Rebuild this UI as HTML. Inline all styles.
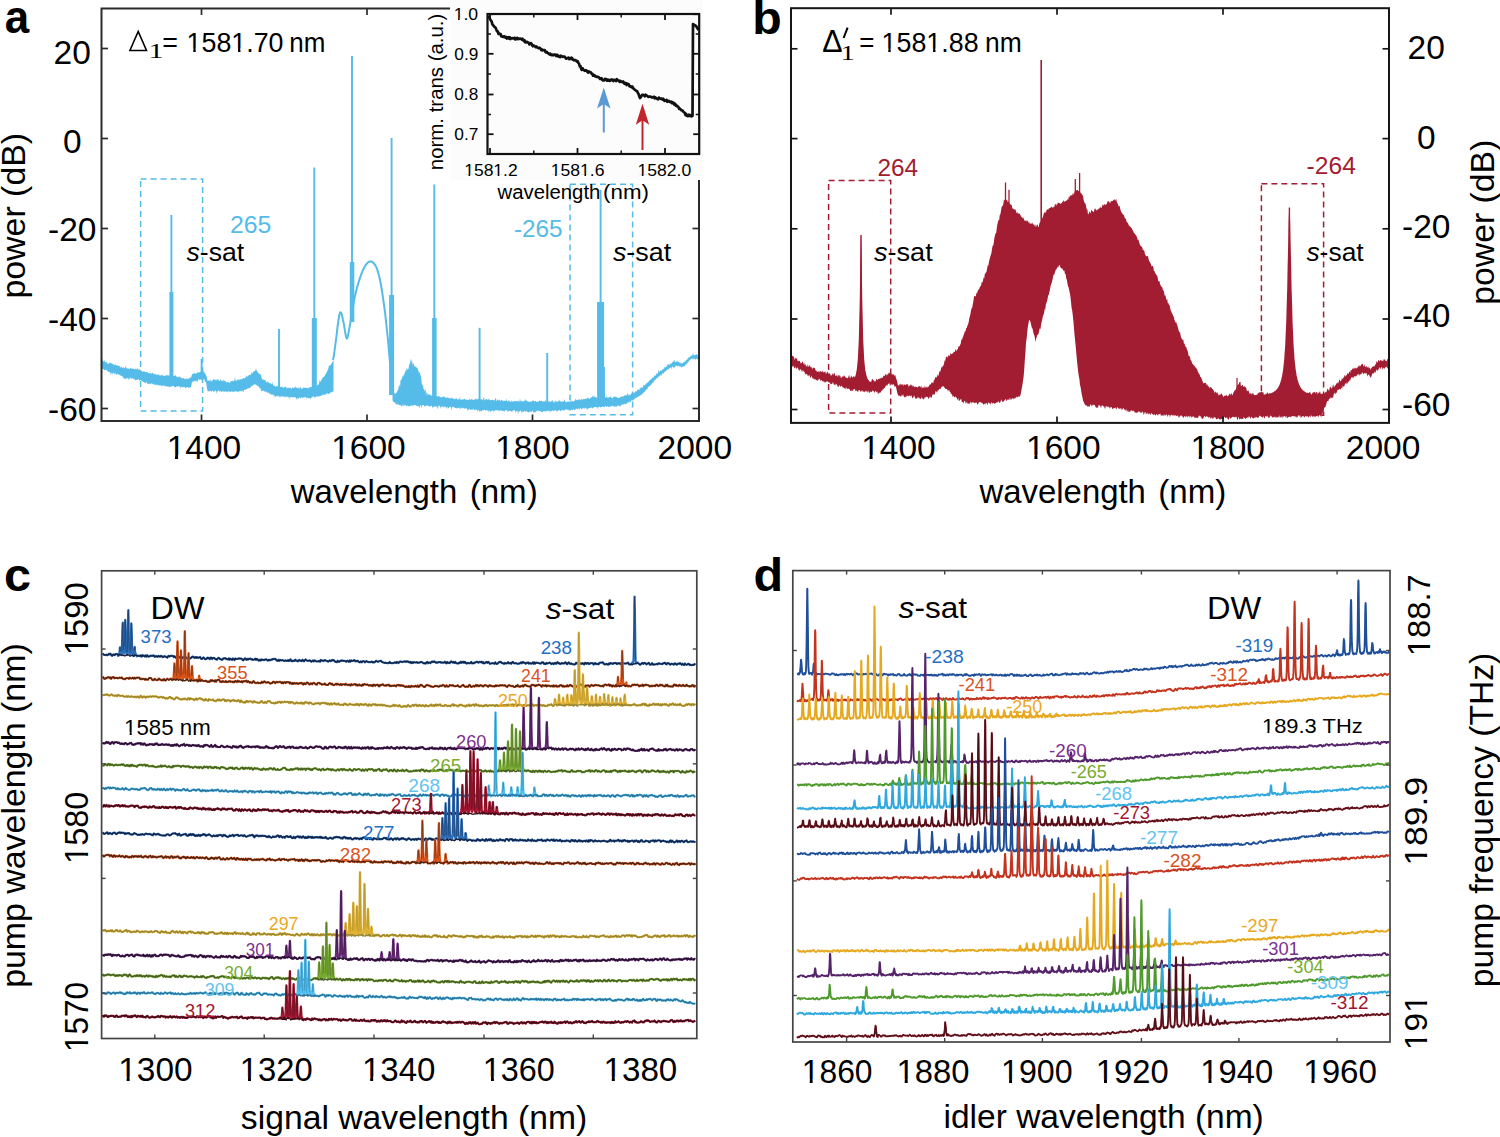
<!DOCTYPE html>
<html><head><meta charset="utf-8"><style>
html,body{margin:0;padding:0;background:#fff;}
svg{display:block;}
</style></head><body>
<svg width="1500" height="1137" viewBox="0 0 1500 1137" font-family="'Liberation Sans', sans-serif">
<rect width="1500" height="1137" fill="#fff"/>
<path d="M101.5 359.7l.5-1.6 .5 2 .5 .7 .5 1 .5-1.4 .5 .2 .5 1.9 .5 0 .5-1.2 .5 .9 .5 .1 .5 1.3 .5 .4 .5 .1 .5-1.4 .5-.2 .5 1.6 .5-2 .5 1.3 .5-.5 .5 .9 .5 0 .5 .4 .5 .3 .5-.1 .5 1.2 .5-.7 .5-.9 .5 .7 .5 .8 .5 .1 .5-.3 .5 1 .5-.7 .5-.1 .5 .5 .5 1.2 .5 .3 .5-.6 .5-.5 .5 1.5 .5 .1 .5-.5 .5-.7 .5 1.1 .5 .6 .5-.8 .5-2.8 .5 4.1 .5-1.8 .5 1.4 .5-.1 .5-.2 .5 .1 .5 .9 .5-.1 .5-.6 .5-1.1 .5 .2 .5 .9 .5 .4 .5-.6 .5 .1 .5 .5 .5 .1 .5 .2 .5-.9 .5 .4 .5 1 .5-1.4 .5 1.5 .5-2.1 .5 1 .5 .4 .5 1.5 .5-2.8 .5 2.9 .5-1.2 .5 .6 .5 1.1 .5-.6 .5 1.4 .5-.4 .5-.2 .5-.6 .5 .8 .5-.3 .5 1.1 .5-.3 .5-.3 .5 .1 .5 .1 .5 .8 .5 .1 .5 .6 .5-.9 .5 1.3 .5-1.2 .5 .2 .5 1 .5-.7 .5-.5 .5 .5 .5 .7 .5-.8 .5 1.8 .5-1.2 .5 0 .5 .6 .5 .5 .5-.1 .5 .1 .5-.6 .5 .7 .5-1 .5 1.4 .5 .3 .5-.1 .5-.4 .5-.8 .5 1.3 .5-.6 .5 .4 .5-.1 .5 .5 .5 .4 .5-.6 .5 .5 .5-1.6 .5 1 .5-.9 .5 1.1 .5-.9 .5 0 .5 1.7 .5-.5 .5-.5 .5 .2 .5-.7 .5 1 .5 .4 .5-.4 .5 0 .5-.2 .5-.1 .5 .1 .5-.5 .5-.3 .5 .8 .5 1 .5-.7 .5 1.5 .5-1 .5 .2 .5-.1 .5-.3 .5 .4 .5 .3 .5 1.4 .5-1.6 .5 1.7 .5-.1 .5-.7 .5-.2 .5 1 .5 .1 .5 0 .5 0 .5 .6 .5-1.5 .5 1.1 .5-.6 .5 .8 .5-.9 .5 .6 .5-1 .5-.5 .5-.1 .5 .9 .5-2.5 .5-1 .5-.7 .5-.3 .5-.2 .5-.3 .5-.7 .5 1.2 .5 .3 .5-.2 .5-1.1 .5 .9 .5-1.4 .5-.1 .5 .8 .5-.8 .5 .4 .5-.8 .5 .2 .5-.7 .5-.1 .5 .3 .5 .3 .5 .3 .5-.7 .5 .7 .5 .5 .5 1.5 .5-.4 .5 2.1 .5 .3 .5 2.9 .5 2.3 .5-.9 .5 .4 .5 .1 .5 .1 .5-1.2 .5 1 .5-.8 .5 1.6 .5 0 .5-1.3 .5 0 .5-1.3 .5 .7 .5-.1 .5 0 .5 1 .5-.9 .5 1 .5-1 .5-.3 .5 .1 .5 0 .5 1.5 .5 .1 .5-.1 .5-1.8 .5 1.2 .5 .1 .5 .9 .5-.1 .5-1.5 .5 .2 .5 1.9 .5-1.7 .5 1.1 .5-.5 .5 1.4 .5 .2 .5-.4 .5 .5 .5-.1 .5-.4 .5 .5 .5 .5 .5-.1 .5-1.2 .5-.1 .5-.6 .5-.2 .5-.3 .5 1.3 .5-.8 .5-.2 .5-.5 .5-3.1 .5 3 .5 .6 .5 .5 .5-1.1 .5-.3 .5-.1 .5-.2 .5 .1 .5-.2 .5 .9 .5-1.5 .5 .5 .5 .3 .5-1.2 .5 .9 .5-1 .5-.1 .5-.2 .5 .5 .5-.6 .5-.8 .5 .7 .5-3 .5 1.8 .5 .1 .5-1 .5 .4 .5-1.6 .5 .6 .5-.3 .5 .1 .5-.1 .5-2.9 .5 1 .5 .3 .5-.7 .5-.7 .5-1 .5 .4 .5 .4 .5-2.1 .5-.3 .5 .8 .5 1 .5 1.1 .5 .3 .5 1 .5-.1 .5 .9 .5-.3 .5 .3 .5 1.2 .5 2.3 .5 .8 .5 1.5 .5-.7 .5 .3 .5 .2 .5 .7 .5-1.2 .5 1.3 .5 1.8 .5 0 .5-1 .5 .3 .5 .9 .5-.8 .5 1.3 .5 .5 .5-.5 .5-.2 .5 1 .5 .1 .5 .5 .5-3 .5 4.3 .5-.6 .5 .6 .5-.7 .5 1.4 .5-.1 .5 .1 .5-.2 .5-1 .5 1 .5 .6 .5-.8 .5 .7 .5-.8 .5 .8 .5 .4 .5-1 .5 1 .5-.3 .5-.5 .5 1.5 .5-.3 .5 .4 .5-1.1 .5-.3 .5 .4 .5-.5 .5 2 .5-1.4 .5 1.4 .5-.7 .5-.4 .5 1.1 .5-1.3 .5 .9 .5-.6 .5 1.3 .5 0 .5-.6 .5-1.2 .5 .7 .5 .1 .5 .8 .5-1.4 .5 .6 .5-1.9 .5 2.1 .5-.6 .5 0 .5 1.3 .5-1.6 .5 .8 .5 .5 .5 .4 .5-2.3 .5 .6 .5 1.3 .5 0 .5 .5 .5-.2 .5-1.4 .5 .3 .5 .3 .5-.3 .5 0 .5 .6 .5-.8 .5 .3 .5 .6 .5-.3 .5 .6 .5-.7 .5-.6 .5 .1 .5 .2 .5-.8 .5 .5 .5 .2 .5-1 .5-.5 .5 1.7 .5-.6 .5 .6 .5-.5 .5-3.8 .5 3.6 .5-1.5 .5 .8 .5-.1 .5-2 .5 .9 .5-.6 .5-.5 .5-4 .5 1.4 .5 .7 .5-2.2 .5 .5 .5-1.8 .5-.4 .5-.6 .5-.5 .5-.2 .5-.6 .5-1.3 .5-.6 .5-1.1 .5-.3 .5-1.4 .5-1 .5-1.1 .5-1.5 .5-2.9 .5 .9 .5-.4 .5-.7 .5-.1 .5-1.2 .5-.9 .5-1 .5-.3 .5-2.1 0 32.8-.5-1.3-.5 1.8-.5-.4-.5-.3-.5-.2-.5 1.3-.5 .6-.5-.6-.5 .9-.5 .2-.5 0-.5-.9-.5 .3-.5-.4-.5 1.9-.5-.2-.5-.6-.5 .7-.5-.6-.5 .1-.5 .7-.5-.4-.5 1.1-.5-.6-.5 1-.5-.3-.5 .1-.5 .8-.5-.9-.5 .1-.5 1.2-.5-1.1-.5 1.1-.5-1.2-.5 .6-.5 .8-.5 .1-.5 .2-.5-1.3-.5-.1-.5 1-.5-1.1-.5 1.2-.5 .6-.5-1.1-.5 2.8-.5-2-.5 .6-.5 .2-.5-.6-.5 .9-.5-1.3-.5 .3-.5 .7-.5-1.7-.5 .7-.5-.7-.5 .6-.5 .1-.5-.3-.5 1.1-.5-.6-.5-.4-.5-.4-.5 1.5-.5-.4-.5 .3-.5-1.2-.5 1.6-.5-.3-.5-.8-.5 .9-.5 1.7-.5-1.5-.5-1.1-.5-.2-.5 .2-.5-.7-.5 .5-.5-.3-.5-.4-.5 1.4-.5-1.2-.5 .2-.5-.2-.5-.1-.5 2.4-.5-1.1-.5-1.8-.5 1.5-.5-.6-.5-.5-.5-.3-.5 .1-.5 1.3-.5-1.1-.5-.5-.5 1.3-.5-1.5-.5 1.6-.5-1.6-.5 .4-.5-.1-.5 .7-.5-1.1-.5 .3-.5 2.2-.5-2-.5-.6-.5-.4-.5 1.8-.5-1.5-.5 .1-.5 .1-.5 1-.5-.2-.5-.7-.5-1-.5 2.7-.5-2.7-.5-.7-.5 .6-.5-.7-.5 1.3-.5-1.9-.5 1.4-.5-2-.5 1.2-.5-1.2-.5-.7-.5 .9-.5-.5-.5-.1-.5-.3-.5-.8-.5-.4-.5 1.1-.5-.7-.5-1.1-.5 .1-.5 .6-.5-.1-.5-.2-.5 1-.5-2.3-.5-1.2-.5 .3-.5-.6-.5-1.5-.5-.3-.5 .3-.5-.5-.5-1.6-.5 1-.5-.5-.5-1.1-.5 1.5-.5-1.1-.5 0-.5 .6-.5 .5-.5 .7-.5 .1-.5-.1-.5 .8-.5 .3-.5 .8-.5 .4-.5-.4-.5-.1-.5 1.6-.5-1.3-.5 1-.5 0-.5 .1-.5 .9-.5 0-.5-.4-.5-.2-.5 2.9-.5-1-.5-.2-.5-1.4-.5 2.7-.5-2.3-.5 1.2-.5-.4-.5 .4-.5-.5-.5 2-.5-1.8-.5 .7-.5 .3-.5-.6-.5 0-.5-.5-.5 0-.5 1-.5-.6-.5 .5-.5 .4-.5-.6-.5-.8-.5 .3-.5 1-.5-.7-.5 .4-.5-.2-.5-.7-.5 0-.5 1.8-.5-1.1-.5-.3-.5-.1-.5 1.1-.5-1-.5-.2-.5 .4-.5 .3-.5-1.4-.5 1.9-.5-1.7-.5 1.4-.5-.1-.5-.8-.5-.3-.5 .3-.5 1-.5-1.9-.5 .2-.5 .4-.5 1.2-.5-1.6-.5 3.3-.5-1.9-.5-1.7-.5 .5-.5 1-.5-.5-.5 .9-.5-1.2-.5-.3-.5-.2-.5 1.6-.5-.6-.5-.8-.5 .7-.5-.4-.5 1-.5-1.2-.5 .7-.5-.6-.5-2.5-.5-3-.5-3.2-.5-.1-.5-.2-.5-2.2-.5-.1-.5-.9-.5 1.1-.5-.7-.5 1.3-.5-.6-.5-.3-.5 .3-.5-.7-.5 1.8-.5-1.7-.5 .5-.5 .4-.5 2.7-.5-2.9-.5 1.7-.5 .1-.5-.8-.5 .8-.5-1.2-.5 1.7-.5-.6-.5-1-.5 2.3-.5-1-.5 2.7-.5 2.8-.5-.2-.5 1.2-.5-1.6-.5 1.5-.5-.2-.5-1-.5 0-.5 .1-.5 .5-.5 .7-.5 .2-.5-1.6-.5-.2-.5 .7-.5-.5-.5 .1-.5 .6-.5-.9-.5 .4-.5-.6-.5 1.6-.5 0-.5-1.8-.5-.2-.5 .2-.5 .3-.5 .3-.5-.8-.5 .1-.5 1.6-.5-.6-.5-.4-.5 .5-.5-.7-.5-.9-.5 .7-.5-.4-.5 .2-.5 .7-.5-1.3-.5 1.4-.5 0-.5 .2-.5-.5-.5-.3-.5 .1-.5 .6-.5-.9-.5-.2-.5 .6-.5-.6-.5 1-.5-1.3-.5-.7-.5 1-.5-.9-.5 1.2-.5-.1-.5-.9-.5 .9-.5-.9-.5-.6-.5 .5-.5 .6-.5-.6-.5 .4-.5-1.3-.5 1-.5 0-.5-1.3-.5 1.2-.5-.2-.5-.8-.5 1-.5-1.7-.5 .9-.5-.6-.5-.1-.5-.6-.5 1.4-.5-.4-.5-1-.5 .8-.5 .4-.5-.6-.5 .2-.5 .1-.5-1.4-.5-.9-.5 1.5-.5 .1-.5-.9-.5 .1-.5-.1-.5-.4-.5 0-.5-.8-.5-.2-.5-.2-.5-.6-.5 .1-.5-.6-.5 1.3-.5-.5-.5-1.4-.5 0-.5 .8-.5 0-.5 .1-.5-.2-.5 .1-.5 .8-.5-1.9-.5 0-.5 .6-.5-1.4-.5 0-.5 .8-.5-.6-.5 1.3-.5-1.9-.5 .6-.5-.8-.5 3.6-.5-2.2-.5-.1-.5-1-.5 .3-.5 .4-.5 .3-.5-.3-.5 1-.5-1.1-.5 .2-.5-.3-.5-1.3-.5-.5-.5-.1-.5-.4-.5-.4-.5 .3-.5-.9-.5 .1-.5 0-.5-.7-.5-.6-.5 .8-.5-.8-.5 1.1-.5-.1-.5-1-.5-1.4-.5 2.4-.5-1.3-.5-.4-.5-.3-.5 .7-.5 1.8-.5-2.4-.5-.1-.5 2.2-.5-3.4-.5 .7-.5-.2-.5 0-.5-.7-.5-.2-.5-.8-.5 .3-.5-1.2-.5 .4-.5 .3-.5 .1-.5-.4-.5-.7-.5 0-.5 .5-.5-2-.5 .7z" fill="#55bbe8"/>
<path d="M392.5 392.2l.5-1 .5 1.8 .5-.4 .5 .4 .5 1.4 .5-1.7 .5 1.2 .5-1.6 .5-.4 .5-1.4 .5-.3 .5-2.3 .5-3.5 .5 .6 .5 2.7 .5-6.9 .5-1.8 .5 1.2 .5-1.6 .5-2.3 .5-.7 .5 1.2 .5-3.7 .5 1.7 .5-2.7 .5-2.1 .5 2.2 .5-3.4 .5-1.1 .5 2.4 .5-1 .5-.2 .5-3.1 .5-1.9 .5-.7 .5-2.7 .5-1.8 .5 4.5 .5-4.3 .5 7 .5-3.4 .5 1.1 .5 1.6 .5 1.1 .5 1.3 .5-1.7 .5 .4 .5 1.1 .5 .7 .5-.3 .5 2.1 .5 1 .5 2.4 .5-1.6 .5 2 .5 1.7 .5 1.2 .5 4.8 .5 2.8 .5 1.7 .5-2.1 .5 5.1 .5 .3 .5 2.2 .5-1.9 .5-.6 .5 6.3 .5-4.6 .5 5.7 .5-3.4 .5 .6 .5 .9 .5 .5 .5 .2 .5-.9 .5 .4 .5 1.3 .5-.5 .5 0 .5 .3 .5 .3 .5 .2 .5-.3 .5-.1 .5 1.6 .5-1.3 .5-.1 .5-.2 .5 .7 .5 .3 .5-1.1 .5 .3 .5 0 .5 1 .5-.4 .5 .6 .5-.2 .5 .6 .5 .2 .5-1.4 .5 .1 .5 .6 .5-.7 .5 .1 .5 1 .5 0 .5 .8 .5-.2 .5-1.1 .5-.1 .5 1.5 .5-.8 .5 .9 .5-1.2 .5 1.4 .5-.6 .5 1 .5-1.5 .5-.1 .5 .8 .5 .4 .5-.3 .5 1.1 .5-.9 .5 .8 .5-.7 .5-.8 .5 .5 .5 .4 .5 1.2 .5-.6 .5-.1 .5-1 .5 1.4 .5-3.4 .5 3.8 .5-.4 .5 .3 .5-1 .5 .6 .5-.6 .5 .7 .5-.8 .5-.2 .5-.2 .5 1.3 .5 .4 .5-.7 .5 .1 .5 .1 .5 .4 .5-.4 .5 .4 .5-1.3 .5-.1 .5 1.4 .5-.3 .5-1.2 .5 1.3 .5-.3 .5-.4 .5 1.2 .5-1.3 .5 .9 .5-.5 .5-.4 .5-.5 .5 0 .5 1.9 .5-1.8 .5 .5 .5-1 .5 1.2 .5 1 .5-.3 .5-.8 .5 .1 .5-.1 .5-.4 .5 1.7 .5-1 .5-2 .5 .3 .5 2 .5 .7 .5-1.3 .5-.2 .5-.1 .5 .6 .5-.2 .5 1 .5-1.4 .5-.6 .5 1.3 .5 .6 .5 .2 .5-.8 .5 .9 .5-.9 .5 .1 .5 .3 .5-.6 .5 1.3 .5-.3 .5-.7 .5-2.5 .5 2 .5 1.8 .5-.3 .5-1.7 .5 .5 .5 1.3 .5-1.2 .5-.2 .5 1 .5 1 .5-1.8 .5 .3 .5 .5 .5-.3 .5 .6 .5 .6 .5-.9 .5 .5 .5-.5 .5 .5 .5 .1 .5-2.9 .5 3.4 .5 .2 .5-1.6 .5 .4 .5 1.3 .5-1.7 .5 .9 .5 .9 .5-.1 .5-1.2 .5-.5 .5 1.7 .5-.3 .5-.3 .5 .3 .5-1.2 .5 1.4 .5-.5 .5-.9 .5 1 .5-.7 .5 .3 .5 .5 .5-.7 .5 1.1 .5-.7 .5-3.1 .5 3.8 .5-1.4 .5 .2 .5 .8 .5-.1 .5-.5 .5 .9 .5-.4 .5-.9 .5-1.7 .5 2.8 .5-2.3 .5 1.5 .5 .3 .5-.1 .5 1.3 .5-1.1 .5 .7 .5 0 .5-.6 .5 .6 .5-1 .5 .6 .5 .2 .5-1.2 .5 0 .5-.2 .5 1.4 .5-.3 .5-.5 .5 .1 .5 0 .5 1 .5 .1 .5-.5 .5 .3 .5-.4 .5-.8 .5 .1 .5 0 .5 .5 .5-.5 .5-.4 .5 .7 .5 .5 .5 .3 .5-1 .5 .4 .5-.6 .5 1.7 .5-2.9 .5 1.8 .5 1 .5-.8 .5 .9 .5 .1 .5-1.6 .5 .3 .5 .2 .5 .4 .5 .1 .5-.3 .5-.3 .5-.6 .5 0 .5-.5 .5 2.4 .5 0 .5-.4 .5-1.5 .5-.1 .5 1.5 .5-.7 .5 .1 .5-.2 .5 .8 .5-.9 .5-2 .5 1.4 .5 1.3 .5-.9 .5 1 .5-1.1 .5 .8 .5-.1 .5 .1 .5-.5 .5-.3 .5-1.8 .5 1.6 .5 1.7 .5-.6 .5 .6 .5-.8 .5 0 .5 .2 .5-.6 .5 .5 .5 .1 .5-.3 .5-.3 .5-.1 .5 .9 .5-1.9 .5 1.4 .5-.5 .5 .4 .5 .1 .5-.9 .5 .3 .5-3.1 .5 2.5 .5-.5 .5 .7 .5-.7 .5-.5 .5 .4 .5 .1 .5-.7 .5 1.1 .5 .3 .5-1.9 .5 .1 .5 1.5 .5-.8 .5-.1 .5-.2 .5-.2 .5 .3 .5-.2 .5-.3 .5-.5 .5 .5 .5 .1 .5-1 .5 .8 .5-.9 .5 .6 .5 .6 .5 .2 .5-1.4 .5-.3 .5-.2 .5 .1 .5-1.8 .5 1.6 .5 .4 .5-3.4 .5 3.1 .5 .3 .5-.9 .5 .6 .5 .3 .5 .9 .5-.7 .5-.9 .5-.3 .5 .7 .5 .6 .5-.2 .5 0 .5-.6 .5-.1 .5 .4 .5-.8 .5 1.8 .5-.9 .5 .5 .5-.5 .5 .1 .5-.4 .5 .8 .5-1.1 .5-.5 .5 2 .5-.8 .5 0 .5 .1 .5-.8 .5 .9 .5-.7 .5-1.7 .5 2.7 .5 .2 .5 .1 .5-.7 .5-1 .5 .4 .5-.4 .5 .2 .5-.1 .5-.2 .5 .5 .5 .6 .5 .2 .5 .1 .5 0 .5 0 .5-.3 .5-.9 .5 1.1 .5-.7 .5-1 .5 .4 .5 .6 .5-1.4 .5 1.2 .5-1.7 .5 .9 .5-1.3 .5 .1 .5 1.3 .5-1.1 .5-.6 .5-.4 .5-1.3 .5 2.7 .5 0 .5-.3 .5-.7 .5-.1 .5 .2 .5-1.3 .5-.3 .5 1.2 .5-.6 .5-.9 .5 .1 .5 0 .5-.9 .5-.7 .5-.1 .5 .7 .5-1 .5-1 .5-.1 .5-.4 .5 .9 .5-.7 .5-1.4 .5 .3 .5-1.1 .5-.1 .5 .6 .5-.1 .5-.9 .5-2.2 .5 1.5 .5-1 .5-.1 .5-.5 .5-.3 .5-1 .5-.5 .5-.1 .5 .1 .5-1.4 .5 .4 .5-1.9 .5 1 .5-1.6 .5 0 .5-.2 .5-1.1 .5-.6 .5 .7 .5-.4 .5-1.3 .5-1.2 .5 1.1 .5-.7 .5-.6 .5-1.1 .5-1 .5 1.3 .5-.7 .5-4 .5 1.9 .5 1 .5-1.5 .5-.2 .5-.1 .5 .5 .5-1.3 .5 .4 .5-1.8 .5 .9 .5-.5 .5-2.1 .5 1.1 .5-.4 .5-.1 .5-.9 .5-.9 .5-.8 .5 .2 .5 .5 .5-2 .5 1.6 .5-.6 .5-.2 .5-.9 .5 0 .5 .3 .5-1.8 .5 .1 .5-.3 .5-.4 .5-1.3 .5 2.3 .5 .3 .5-.4 .5-.6 .5-.4 .5 .3 .5 .6 .5-.1 .5 .3 .5 .3 .5 .6 .5 .2 .5-.9 .5 1.8 .5-.9 .5 .1 .5-.5 .5-.8 .5 .5 .5-.9 .5-.2 .5 0 .5-1.4 .5-.6 .5 .8 .5-1.7 .5 0 .5-.9 .5-.6 .5 0 .5 .6 .5-1.6 .5-.5 .5-.5 .5 1.4 .5-1.6 .5-2.3 .5 2.4 .5 .1 .5 .4 .5-.6 .5 .3 .5-.4 .5-1.1 .5 1.7 .5 0 .5-.6 .5 1.6 .5-1.2 0 4.1-.5-.2-.5 1.6-.5-1.8-.5 .1-.5-.1-.5-.1-.5 1.1-.5 0-.5-.7-.5-1-.5 1.6-.5-1.5-.5 1-.5 0-.5-.7-.5 .1-.5 1.1-.5 .8-.5-.5-.5 .9-.5 1.3-.5-.9-.5 2.5-.5-.7-.5 1.1-.5 .6-.5-.6-.5 1.3-.5 1.1-.5-.1-.5 .1-.5-.2-.5 .6-.5-.3-.5 1.2-.5-1.5-.5 0-.5 .3-.5-.2-.5-.2-.5-.8-.5 .3-.5 1-.5-.6-.5-.7-.5 .3-.5 .1-.5 1.1-.5 .7-.5-.4-.5 1.9-.5-3.4-.5 1-.5 .5-.5 2.4-.5-3.1-.5 1.5-.5-.3-.5 .5-.5 .3-.5 .8-.5 0-.5-.4-.5 1.7-.5-.7-.5 1.3-.5-.1-.5 .4-.5 .5-.5 .4-.5 1.4-.5-1.2-.5 1-.5-.3-.5 2.1-.5 .4-.5-.8-.5-.1-.5 1.6-.5-.6-.5 .8-.5 .5-.5 1.2-.5-.8-.5 .2-.5 1.6-.5-.3-.5 1.8-.5-1.1-.5 .5-.5 2-.5 .9-.5-1.1-.5 1.7-.5 .2-.5 1.3-.5-.3-.5 .4-.5 1.2-.5-.6-.5 1.2-.5-.5-.5 2.1-.5 .8-.5-.6-.5 1.3-.5-.1-.5 1.5-.5-.3-.5 1-.5 .4-.5-.4-.5 1.5-.5 0-.5 1.3-.5-.8-.5 .5-.5 1.2-.5-.6-.5 .6-.5 .5-.5-.2-.5 .8-.5-.3-.5 1.2-.5-.8-.5 .9-.5 .5-.5-.1-.5 0-.5 2-.5-1-.5 1.1-.5-.8-.5 .2-.5 1-.5 1-.5-.7-.5 .3-.5 .7-.5 0-.5 0-.5-.1-.5 .9-.5 .4-.5 .3-.5-.1-.5 .7-.5-.8-.5-.3-.5 1.1-.5 .7-.5-1.2-.5 .5-.5 .6-.5-.2-.5 1.3-.5 .2-.5-.3-.5 .2-.5-1.4-.5 .3-.5 .9-.5-.4-.5 1.8-.5-1.5-.5 .3-.5 .3-.5 .4-.5-1.3-.5 1.4-.5-1.7-.5 .6-.5 0-.5-.3-.5 1.5-.5-1.1-.5 .7-.5-.6-.5 .6-.5 .5-.5-1.1-.5-.2-.5 .8-.5 .2-.5-.5-.5-.5-.5 0-.5 1.3-.5-.3-.5-.3-.5 .4-.5-1-.5 .9-.5-.4-.5 .6-.5 .2-.5-.1-.5-.8-.5 .5-.5-.4-.5 2.6-.5-1.8-.5-.3-.5 .1-.5-.3-.5 .3-.5-.5-.5 .5-.5-.6-.5 1.3-.5 .1-.5 .4-.5-1-.5-.3-.5 1-.5 .1-.5-.8-.5 .4-.5 .6-.5-.6-.5 1.4-.5-.8-.5 2-.5-2.3-.5-.3-.5-.6-.5 1.6-.5-.4-.5-.8-.5 .4-.5 .4-.5-.3-.5 1.3-.5-.2-.5-1-.5-.4-.5 1-.5 .6-.5-1.3-.5 .3-.5 .2-.5 .7-.5-.1-.5-.5-.5-.5-.5 1.1-.5 .9-.5-.6-.5 .2-.5-1.3-.5 1.3-.5 .4-.5-.1-.5-.9-.5 1.3-.5-.8-.5-.9-.5 1.4-.5-.1-.5 .1-.5-1.2-.5 1-.5-.7-.5 .6-.5-.9-.5 .2-.5 .4-.5 1.3-.5-.9-.5 .1-.5 .3-.5-.2-.5-.8-.5 1.2-.5 .1-.5 .4-.5-.6-.5-.6-.5-.2-.5 1-.5-.1-.5 .8-.5-1.7-.5 2.1-.5-.8-.5-.8-.5-.3-.5 .2-.5 1-.5-.1-.5-.4-.5-.4-.5 .5-.5 .3-.5 .6-.5-1.3-.5 3-.5-2.9-.5-.2-.5 1.2-.5-.7-.5 0-.5-.1-.5 .7-.5 .1-.5 0-.5-1.2-.5 1.4-.5-.3-.5-.3-.5 .4-.5 .5-.5 0-.5 .1-.5 0-.5-1.3-.5 .3-.5 0-.5 .7-.5-1-.5-.2-.5 0-.5 .5-.5 .2-.5 .5-.5 1.1-.5-1.6-.5 1-.5-.4-.5 1-.5-1.4-.5-.8-.5 .4-.5 1-.5-.4-.5-.5-.5 .5-.5 .4-.5-.4-.5 1.2-.5-.8-.5-.3-.5 .3-.5-1.7-.5 1.1-.5 .4-.5-.6-.5-.1-.5-.7-.5 1.8-.5-.6-.5 0-.5 1.1-.5-.9-.5-1.3-.5-.3-.5 .9-.5 .4-.5-.1-.5 .4-.5 2.6-.5-3.5-.5-.2-.5 .3-.5 .5-.5 1.3-.5-2.5-.5-.1-.5 0-.5 0-.5 .3-.5 .6-.5 .7-.5-.2-.5-.9-.5 .1-.5 0-.5 .2-.5-.2-.5-.7-.5 2.5-.5-1.1-.5-1.5-.5 0-.5 1.3-.5-1.4-.5 .1-.5 1.7-.5-.1-.5-1.2-.5 .7-.5-.3-.5 .1-.5-.9-.5 .6-.5-.4-.5-.1-.5 1.2-.5-.1-.5-1.3-.5 .7-.5-.7-.5 1-.5-1.1-.5 0-.5 .1-.5 1.5-.5-1-.5 .7-.5 .5-.5-1.9-.5 .9-.5 .1-.5 0-.5 .8-.5 0-.5-.1-.5-1.8-.5 3-.5-1.5-.5-1.3-.5 .9-.5-.2-.5-.8-.5 .8-.5 .5-.5-1.5-.5 .3-.5 .1-.5 .5-.5-.4-.5-.1-.5 1.1-.5 .4-.5-.2-.5-.5-.5-.4-.5 1.9-.5-2-.5 0-.5-1-.5 3-.5-2.1-.5-.6-.5 .2-.5-.2-.5 .7-.5 .3-.5-1.6-.5-.2-.5 1.2-.5-.7-.5 .7-.5-1.1-.5 1.4-.5-.6-.5 .1-.5-1.4-.5 .7-.5 .8-.5 0-.5 1.1-.5-2.8-.5 0-.5 .2-.5 .1-.5 .3-.5 0-.5-.8-.5 .2-.5-.6-.5 1.5-.5-1.8-.5 .4-.5 .6-.5 .6-.5-.5-.5 0-.5-1.3-.5 1.1-.5-.3-.5 .5-.5-.7-.5 1-.5-1.3-.5 .5-.5 .4-.5-.9-.5 .2-.5-.8-.5 .2-.5-.3-.5 .7-.5 3.3-.5-3.5-.5-.3-.5-.7-.5 1.2-.5 0-.5 1.2-.5-.8-.5-1.9-.5 3.7-.5-2.1-.5-.2-.5-.6-.5 .8-.5-.9-.5-.5-.5 3-.5-3.3-.5 1.4-.5-1.2-.5 1.4-.5-.7-.5 2.4-.5-3.4-.5 .6-.5-.8-.5 .4-.5 2.9-.5 0-.5-3.4-.5 1.9-.5-.7-.5 .1-.5-.7-.5 .8-.5-.3-.5 .6-.5-.1-.5 1.4-.5-2.8-.5 .2-.5 .2-.5 0-.5 .8-.5 0-.5-.8-.5 .2-.5-.6-.5 0-.5-.5-.5 1.2-.5-1-.5 .9-.5 .1-.5 .2-.5-1.1-.5-.5-.5 0-.5 0-.5 1-.5 2.7-.5-3.9-.5 .9-.5-.2-.5 3.4-.5-2.9-.5 .4-.5 .3-.5-.6-.5-.3-.5 .4-.5-1-.5 .4-.5-.5-.5 .1-.5-.3-.5 .9-.5-.5-.5 .5-.5 .5-.5-1.2-.5-.1-.5 1.8-.5-.9-.5 .2-.5 .3-.5 .1-.5-.5-.5-.6-.5 .9-.5-.5-.5 .2-.5-.9-.5-.5-.5 .6-.5 .8-.5 .2-.5-1.8-.5 .6-.5 2.5-.5-1.5-.5 0-.5-.8-.5-.7-.5 1-.5-.4-.5 .1-.5-1.8-.5 1.3-.5 .2-.5-.8-.5 .2-.5-.5-.5-1.9-.5 1-.5-.2-.5-.8-.5-.5-.5-.8z" fill="#55bbe8"/>
<path d="M333 360l.5-2.2 .5-3 .5-3.6 .5-3.8 .5-3.8 .5-3.6 .5-4.2 .5-4.4 .5-4.3 .5-3.9 .5-3.2 .5-3.2 .5-2.4 .5-1.6 .5-.6 .5 .4 .5 1.1 .5 1.7 .5 2.1 .5 2.5 .5 2.2 .5 2.7 .5 3.1 .5 3.1 .5 2.9 .5 2.4 .5 1.6 .5 .7 .5-1.1 .5-2.3 .5-2.7 .5-2.6 .5-2.5 .5-2.7 .5-3 .5-3.8 .5-2.3 .5-2.7 .5-2.8 .5-3 .5-3 .5-3 .5-2.7 .5-2.5 .5-2.2 .5-2.1 .5-2 .5-1.9 .5-1.8 .5-1.7 .5-1.7 .5-1.6 .5-1.6 .5-1.5 .5-1.5 .5-1.4 .5-1.4 .5-1.3 .5-1.2 .5-1.1 .5-1.1 .5-.9 .5-1 .5-.8 .5-.8 .5-.7 .5-.6 .5-.6 .5-.6 .5-.5 .5-.3 .5-.3 .5-.1 .5-.2 .5 0 .5-.1 .5 0 .5 .2 .5 .4 .5 .5 .5 .5 .5 .5 .5 .6 .5 .7 .5 .8 .5 1 .5 1.1 .5 1.3 .5 1.5 .5 1.6 .5 1.7 .5 1.9 .5 2.1 .5 2.2 .5 2.4 .5 2.6 .5 2.8 .5 3.2 .5 3.3 .5 3.5 .5 3.5 .5 3.6 .5 3.6 .5 3.5 .5 4.6 .5 4.7 .5 4.6 .5 4.7 .5 4.7 .5 4.7 .5 5.7 .5 5.7 .5 5.7 .5 5.6 .5 5.3 .5 6.8 .5 7 .5 6 .5 4.2" fill="none" stroke="#55bbe8" stroke-width="2.0" stroke-linejoin="round"/>
<line x1="171.4" y1="379.1" x2="171.4" y2="215" stroke="#55bbe8" stroke-width="1.9"/>
<rect x="169.4" y="292.0" width="4.0" height="87.1" fill="#55bbe8"/>
<line x1="201.6" y1="374.5" x2="201.6" y2="359" stroke="#55bbe8" stroke-width="1.9"/>
<line x1="279" y1="389.5" x2="279" y2="329" stroke="#55bbe8" stroke-width="1.9"/>
<line x1="314.3" y1="389.6" x2="314.3" y2="167.5" stroke="#55bbe8" stroke-width="1.9"/>
<rect x="311.8" y="318.0" width="5.0" height="71.6" fill="#55bbe8"/>
<line x1="352" y1="322" x2="352" y2="56" stroke="#55bbe8" stroke-width="1.9"/>
<rect x="349.8" y="262.0" width="4.5" height="60.0" fill="#55bbe8"/>
<line x1="391.6" y1="395" x2="391.6" y2="138" stroke="#55bbe8" stroke-width="1.9"/>
<rect x="389.1" y="295.0" width="5.0" height="100.0" fill="#55bbe8"/>
<line x1="434.3" y1="399.4" x2="434.3" y2="184.5" stroke="#55bbe8" stroke-width="1.9"/>
<rect x="432.1" y="318.0" width="4.5" height="81.4" fill="#55bbe8"/>
<line x1="479.6" y1="402.5" x2="479.6" y2="327.8" stroke="#55bbe8" stroke-width="1.9"/>
<line x1="547.2" y1="404.6" x2="547.2" y2="353" stroke="#55bbe8" stroke-width="1.9"/>
<line x1="600.6" y1="400.4" x2="600.6" y2="190" stroke="#55bbe8" stroke-width="1.9"/>
<rect x="597.1" y="302.0" width="7.0" height="98.4" fill="#55bbe8"/>
<line x1="604" y1="400.4" x2="604" y2="367" stroke="#55bbe8" stroke-width="1.9"/>
<rect x="140.6" y="179" width="62" height="232" fill="none" stroke="#55bbe8" stroke-width="1.5" stroke-dasharray="6 4"/>
<rect x="570" y="184.2" width="62.6" height="230.6" fill="none" stroke="#55bbe8" stroke-width="1.5" stroke-dasharray="6 4"/>
<rect x="101.5" y="8.5" width="597.5" height="412.5" fill="none" stroke="#2b2b2b" stroke-width="2"/>
<line x1="101.5" y1="48.5" x2="108" y2="48.5" stroke="#2b2b2b" stroke-width="1.7"/>
<line x1="699" y1="48.5" x2="692.5" y2="48.5" stroke="#2b2b2b" stroke-width="1.7"/>
<line x1="101.5" y1="138.5" x2="108" y2="138.5" stroke="#2b2b2b" stroke-width="1.7"/>
<line x1="699" y1="138.5" x2="692.5" y2="138.5" stroke="#2b2b2b" stroke-width="1.7"/>
<line x1="101.5" y1="228.5" x2="108" y2="228.5" stroke="#2b2b2b" stroke-width="1.7"/>
<line x1="699" y1="228.5" x2="692.5" y2="228.5" stroke="#2b2b2b" stroke-width="1.7"/>
<line x1="101.5" y1="318.5" x2="108" y2="318.5" stroke="#2b2b2b" stroke-width="1.7"/>
<line x1="699" y1="318.5" x2="692.5" y2="318.5" stroke="#2b2b2b" stroke-width="1.7"/>
<line x1="101.5" y1="408.5" x2="108" y2="408.5" stroke="#2b2b2b" stroke-width="1.7"/>
<line x1="699" y1="408.5" x2="692.5" y2="408.5" stroke="#2b2b2b" stroke-width="1.7"/>
<line x1="201.5" y1="421" x2="201.5" y2="414.5" stroke="#2b2b2b" stroke-width="1.7"/>
<line x1="201.5" y1="8.5" x2="201.5" y2="15" stroke="#2b2b2b" stroke-width="1.7"/>
<line x1="367" y1="421" x2="367" y2="414.5" stroke="#2b2b2b" stroke-width="1.7"/>
<line x1="367" y1="8.5" x2="367" y2="15" stroke="#2b2b2b" stroke-width="1.7"/>
<line x1="532.5" y1="421" x2="532.5" y2="414.5" stroke="#2b2b2b" stroke-width="1.7"/>
<line x1="532.5" y1="8.5" x2="532.5" y2="15" stroke="#2b2b2b" stroke-width="1.7"/>
<text x="53.60" y="63.60" font-size="33.5" textLength="37.26" lengthAdjust="spacingAndGlyphs">20</text>
<text x="63.06" y="153.00" font-size="33.5" textLength="18.63" lengthAdjust="spacingAndGlyphs">0</text>
<text x="48.07" y="241.00" font-size="33.5" textLength="48.42" lengthAdjust="spacingAndGlyphs">-20</text>
<text x="48.07" y="330.80" font-size="33.5" textLength="48.42" lengthAdjust="spacingAndGlyphs">-40</text>
<text x="48.07" y="420.60" font-size="33.5" textLength="48.42" lengthAdjust="spacingAndGlyphs">-60</text>
<text x="166.65" y="459.00" font-size="33.5" textLength="74.53" lengthAdjust="spacingAndGlyphs">1400</text>
<text x="331.15" y="459.00" font-size="33.5" textLength="74.53" lengthAdjust="spacingAndGlyphs">1600</text>
<text x="495.15" y="459.00" font-size="33.5" textLength="74.53" lengthAdjust="spacingAndGlyphs">1800</text>
<text x="657.56" y="459.00" font-size="33.5" textLength="74.53" lengthAdjust="spacingAndGlyphs">2000</text>
<text x="290.80" y="502.80" font-size="33" textLength="166.40" lengthAdjust="spacingAndGlyphs">wavelength</text>
<text x="469.63" y="502.80" font-size="33" textLength="68.05" lengthAdjust="spacingAndGlyphs">(nm)</text>
<text transform="translate(25.00 298.60) rotate(-90)" x="0" y="0" font-size="33" textLength="165.75" lengthAdjust="spacingAndGlyphs">power (dB)</text>
<text x="4.68" y="33.00" font-size="47" textLength="24.44" lengthAdjust="spacingAndGlyphs" font-weight="bold">a</text>
<path d="M129.9 50.5L138.2 31.4L146.5 50.5Z" fill="none" stroke="#000" stroke-width="1.6" stroke-linejoin="miter"/>
<text x="148.47" y="58.30" font-size="21" textLength="15.04" lengthAdjust="spacingAndGlyphs" font-family="'Liberation Serif', serif">1</text>
<text x="162.36" y="51.60" font-size="27.5" textLength="15.65" lengthAdjust="spacingAndGlyphs">=</text>
<text x="186.59" y="51.60" font-size="27.5" textLength="96.88" lengthAdjust="spacingAndGlyphs">1581.70</text>
<text x="289.35" y="51.60" font-size="27.5" textLength="36.09" lengthAdjust="spacingAndGlyphs">nm</text>
<text x="229.96" y="232.50" font-size="23.5" textLength="41.46" lengthAdjust="spacingAndGlyphs" fill="#55bbe8">265</text>
<text x="513.90" y="237.20" font-size="23.5" textLength="48.71" lengthAdjust="spacingAndGlyphs" fill="#55bbe8">-265</text>
<text x="186.53" y="261.30" font-size="26" font-style="italic" textLength="13.30" lengthAdjust="spacingAndGlyphs">s</text>
<text x="199.84" y="261.30" font-size="26" textLength="44.35" lengthAdjust="spacingAndGlyphs">-sat</text>
<text x="612.93" y="260.80" font-size="26" font-style="italic" textLength="13.44" lengthAdjust="spacingAndGlyphs">s</text>
<text x="626.37" y="260.80" font-size="26" textLength="44.81" lengthAdjust="spacingAndGlyphs">-sat</text>
<rect x="450" y="0" width="253" height="180" fill="#fcfcfc"/>
<rect x="487.5" y="14" width="211.7" height="140" fill="none" stroke="#111" stroke-width="2.2"/>
<line x1="487.5" y1="14.2" x2="493.5" y2="14.2" stroke="#111" stroke-width="1.8"/>
<line x1="699.2" y1="14.2" x2="693.2" y2="14.2" stroke="#111" stroke-width="1.8"/>
<line x1="487.5" y1="53.8" x2="493.5" y2="53.8" stroke="#111" stroke-width="1.8"/>
<line x1="699.2" y1="53.8" x2="693.2" y2="53.8" stroke="#111" stroke-width="1.8"/>
<line x1="487.5" y1="94.5" x2="493.5" y2="94.5" stroke="#111" stroke-width="1.8"/>
<line x1="699.2" y1="94.5" x2="693.2" y2="94.5" stroke="#111" stroke-width="1.8"/>
<line x1="487.5" y1="134.2" x2="493.5" y2="134.2" stroke="#111" stroke-width="1.8"/>
<line x1="699.2" y1="134.2" x2="693.2" y2="134.2" stroke="#111" stroke-width="1.8"/>
<line x1="487.5" y1="34" x2="491" y2="34" stroke="#111" stroke-width="1.5"/>
<line x1="699.2" y1="34" x2="695.7" y2="34" stroke="#111" stroke-width="1.5"/>
<line x1="487.5" y1="74" x2="491" y2="74" stroke="#111" stroke-width="1.5"/>
<line x1="699.2" y1="74" x2="695.7" y2="74" stroke="#111" stroke-width="1.5"/>
<line x1="487.5" y1="114.5" x2="491" y2="114.5" stroke="#111" stroke-width="1.5"/>
<line x1="699.2" y1="114.5" x2="695.7" y2="114.5" stroke="#111" stroke-width="1.5"/>
<line x1="490" y1="154" x2="490" y2="148" stroke="#111" stroke-width="1.8"/>
<line x1="490" y1="14" x2="490" y2="20" stroke="#111" stroke-width="1.8"/>
<line x1="577.5" y1="154" x2="577.5" y2="148" stroke="#111" stroke-width="1.8"/>
<line x1="577.5" y1="14" x2="577.5" y2="20" stroke="#111" stroke-width="1.8"/>
<line x1="665" y1="154" x2="665" y2="148" stroke="#111" stroke-width="1.8"/>
<line x1="665" y1="14" x2="665" y2="20" stroke="#111" stroke-width="1.8"/>
<line x1="533.8" y1="154" x2="533.8" y2="150.5" stroke="#111" stroke-width="1.5"/>
<line x1="533.8" y1="14" x2="533.8" y2="17.5" stroke="#111" stroke-width="1.5"/>
<line x1="621.2" y1="154" x2="621.2" y2="150.5" stroke="#111" stroke-width="1.5"/>
<line x1="621.2" y1="14" x2="621.2" y2="17.5" stroke="#111" stroke-width="1.5"/>
<path d="M488.8 15.6l.6 2.4 .8 1.3 .6 1.1 .8 .9 .6 2.5 .7 1.3 .7 .5 .7 1.1 .7 .6 .7 .7 .7 1.8 .7 1.6 .7 0 .7 2.6 .7-.5 .7 .4 .7 .1 .7 2.3 .7-.1 .7 .7 .7-.1 .7-.7 .7 1 .7 .5 .7-.7 .7 1.7 .7-1 .7-.4 .7 1.4 .7-1.3 .7 1.7 .7-.8 .7 .3 .7-.4 .7 .4 .7-.5 .7-.2 .7 1.6 .7-1.3 .7 .9 .7-1.2 .8 1.4 .6-.2 .8-.4 .7 .1 .7 .1 .7 .7 .7-.7 .7 1.1 .7 1.2 .7-.8 .7 1.9 .7 .3 .7-.7 .7 .3 .7 .5 .7 .2 .7 1.6 .7-.9 .7-.3 .7 .5 .7 1.6 .7 .9 .7-.7 .7 .4 .7 .4 .7 .8 .7-.7 .7 1.1 .7 .2 .7 .5 .7-.5 .7 .3 .7 .7 .7 1.5 .7-.8 .7 .9 .7-.3 .7 0 .7 .3 .7 1.8 .7 .3 .7-.5 .7 1 .7 .3 .7 .8 .7 .5 .7-.8 .7 1.3 .7 .1 .7-.5 .7 .7 .7-.6 .7 0 .7-.1 .7 1.4 .7-1.2 .7 0 .7 1.7 .7 .1 .7-.4 .7 .9 .7-1.4 .7 .6 .7 .2 .7 .4 .7-.4 .7 0 .7 .6 .7 1.3 .7 .3 .7-.4 .7-.4 .7-.3 .7 1.5 .7-.7 .7 .5 .7-1.3 .7 .5 .7 1.5 .7 .2 .7 .5 .7-.2 .7 0 .7 .7 .7 .9 .7-.5 .7 1.8 .7 .9 .7 2.4 .7-.1 .7 2.7 .7 1 .7-1.6 .7 1.4 .7 .4 .7 .7 .7-.2 .7-.4 .7 .6 .7 1.3 .7 .4 .7-1.1 .7 .4 .7 .5 .7 .3 .7 1.3 .7-.1 .7 1.9 .7 0 .7-.6 .7 1.3 .7-.1 .7 .6 .7-.2 .7 .2 .7 .3 .7 .7 .7 1 .7-.1 .7-.7 .7 1.7 .7 .5 .7-.1 .7 .1 .7-1.5 .7 1 .7-.7 .7 1.5 .7-1 .7 1.1 .7-.8 .7 1 .7-.8 .7-.6 .7 .6 .7-.2 .7 1.2 .7-1.3 .7 .4 .7 0 .7 .8 .7-1.8 .7 1 .7 .1 .7 .7 .7 .8 .7-1 .7 1 .7 0 .7 .3 .7-.7 .7 1.8 .7 .6 .7-.9 .7 .3 .7 1.8 .7-1.4 .7 .4 .7 .4 .7 1.9 .7 .3 .7-.2 .7 .8 .7-.8 .7 1.8 .7 .3 .7 .9 .7 .4 .7 .8 .7 .3 .7 .3 .7 1.9 .7 1 .7 2.3 .7 1.6 .7-.7 .7-1.2 .7-1.2 .7-.1 .7 .3 .7 .4 .7 .8 .7-1.6 .7 .9 .7 .1 .7 .6 .7 .5 .7-.1 .7-.2 .7 .4 .7 0 .7 .5 .7-.1 .7 .2 .7-.7 .7 1.5 .7-.9 .7 .7 .7 .6 .7 .4 .7 .2 .7-1.7 .7 .8 .7 .1 .7 .4 .7-.3 .7 1 .7-.8 .7 .7 .7 1.5 .7-.2 .7-.4 .7-.5 .7 1.9 .7-.3 .7-.7 .7 .4 .7 .8 .7 .3 .7-.6 .7 1.6 .7-.9 .7 .5 .7 1.7 .7-.8 .7 1.7 .7-.4 .7 1.4 .7-.1 .7 .8 .7 1.7 .7-.3 .7 .6 .7 1 .7 .1 .7 .4 .7 1.2 .7 .4 .7 .6 .7 2.2 .7-1.1 .7 1.8 .7 .4 .7-.3 .7-1.2 .7 1.2 .7-.8 .7 1.3 1.4-.4 .5-92 3.2 2.2 2.3 3.8" fill="none" stroke="#111" stroke-width="2.7" stroke-linejoin="round"/>
<line x1="603.8" y1="132.5" x2="603.8" y2="100" stroke="#5b9bd5" stroke-width="2"/>
<path d="M603.8 87.5l-6.8 21 6.8-4.5 6.7 4.5z" fill="#5b9bd5"/>
<line x1="642.5" y1="150" x2="642.5" y2="116" stroke="#c0272d" stroke-width="2"/>
<path d="M642.5 103.8l-6.7 21 6.7-4.6 6.7 4.6z" fill="#c0272d"/>
<text x="453.68" y="20.05" font-size="16.5" textLength="24.48" lengthAdjust="spacingAndGlyphs">1.0</text>
<text x="454.31" y="59.55" font-size="16.5" textLength="23.97" lengthAdjust="spacingAndGlyphs">0.9</text>
<text x="454.31" y="100.30" font-size="16.5" textLength="23.92" lengthAdjust="spacingAndGlyphs">0.8</text>
<text x="454.31" y="140.05" font-size="16.5" textLength="24.06" lengthAdjust="spacingAndGlyphs">0.7</text>
<text x="464.19" y="176.40" font-size="17" textLength="53.51" lengthAdjust="spacingAndGlyphs">1581.2</text>
<text x="550.68" y="176.40" font-size="17" textLength="53.84" lengthAdjust="spacingAndGlyphs">1581.6</text>
<text x="637.43" y="176.40" font-size="17" textLength="53.75" lengthAdjust="spacingAndGlyphs">1582.0</text>
<text x="497.60" y="198.80" font-size="20" textLength="102.76" lengthAdjust="spacingAndGlyphs">wavelength</text>
<text x="603.11" y="198.80" font-size="20" textLength="45.79" lengthAdjust="spacingAndGlyphs">(nm)</text>
<text transform="translate(442.50 170.13) rotate(-90)" x="0" y="0" font-size="20" textLength="156.44" lengthAdjust="spacingAndGlyphs">norm. trans (a.u.)</text>
<path d="M791 355.8l.6-.1 .6 .2 .6-.2 .6 1.1 .6-.3 .6 3.4 .6-1.2 .6-1.3 .6 1.4 .6-.6 .6 3.1 .6-.9 .6 1.1 .6-.7 .6 .3 .6 2.3 .6-.4 .6 .1 .6-1.9 .6 .9 .6 2.4 .6-1.9 .6 2.7 .6-1.4 .6 2.1 .6 .8 .6-2.7 .6 2.6 .6 .3 .6-2.3 .6 .7 .6 2.4 .6-2.1 .6 1.8 .6-.1 .6 2 .6-2.3 .6 1.2 .6-.6 .6 .6 .6 2.3 .6 0 .6 .8 .6 .2 .6 .4 .6-.6 .6-1 .6 2.3 .6-2.2 .6 1.3 .6 .3 .6-1.7 .6 1.3 .6 .8 .6-.5 .6-.6 .6 2.4 .6-3 .6 3.4 .6-2.4 .6-.2 .6 3.1 .6-2.5 .6 1.6 .6-.5 .6 2.1 .6 .1 .6-.3 .6-2.5 .6 2.8 .6-1.8 .6-.4 .6 .1 .6 2.3 .6 .2 .6-.5 .6-.7 .6 2.6 .6-2.1 .6 0 .6 0 .6 3 .6-3 .6 3 .6-.9 .6-.9 .6-1.1 .6 2 .6-2 .6 1.3 .6 .8 .6 0 .6 .5 .6 .3 .6-.2 .6-1.9 .6-1.1 .6 2.9 .6 .4 .6-3.3 .6 1.6 .6 .5 .6 .6 .6-1.3 .6-.6 .6 1.5 .6 .3 .6 1.4 .6-2.8 .6 3.3 .6-1.5 .6-1 .6 2.6 .6-1.9 .6-.6 .6 1.3 .6-.3 .6 2.5 .6-1 .6 1.2 .6-2.2 .6 2.1 .6-.4 .6-1.7 .6 .6 .6-.2 .6 2 .6 .1 .6-.7 .6 .9 .6 .6 .6-.5 .6 .8 .6-.9 .6-2.2 .6 0 .6 1.1 .6 .4 .6 .5 .6 .8 .6-.8 .6-1.8 .6-.4 .6 1.7 .6-1.6 .6 0 .6-.1 .6-.3 .6-.7 .6 .9 .6-1.6 .6 1.1 .6-1.1 .6-1.4 .6-.2 .6 1 .6-2.7 .6 .7 .6-.2 .6 1.6 .6-2.3 .6 .6 .6-1.9 .6 .9 .6-.9 .6 .9 .6-.2 .6 1.9 .6-.8 .6 0 .6 0 .6 2 .6-1.5 .6 .9 .6 2.7 .6 1.2 .6 2.2 .6 3.3 .6-.1 .6 1.3 .6-2.3 .6-.4 .6 1.6 .6-.7 .6-.1 .6-.1 .6 2 .6-2.1 .6 .7 .6-.3 .6 .8 .6-.7 .6-.5 .6 .5 .6-.3 .6 2.4 .6-.5 .6-.9 .6-.8 .6 1.6 .6-1.5 .6 .3 .6 2.1 .6-1.4 .6 1 .6 .6 .6-.1 .6-.6 .6 .6 .6 0 .6 .7 .6-1.5 .6 .4 .6-.7 .6 .2 .6 1.3 .6-2.2 .6 3.2 .6-1.3 .6 .5 .6-.5 .6 1 .6-2.6 .6 1.5 .6 1.1 .6-2 .6 1.7 .6-1.6 .6 .6 .6-.9 .6-1.6 .6-.2 .6 .6 .6-2.1 .6-.1 .6 .2 .6 .1 .6-2.3 .6-.6 .6-2.1 .6-.8 .6 .4 .6-.2 .6-3 .6 2.1 .6-1.5 .6-2.7 .6-1.2 .6 .6 .6-2.8 .6-2 .6 .7 .6-1.5 .6-.6 .6-1.5 .6-3.6 .6 .8 .6-3.4 .6-1.1 .6 .4 .6 .7 .6-3 .6 1.2 .6-.2 .6-.1 .6-2.8 .6 1.2 .6 .3 .6-1.2 .6 .8 .6-2.2 .6 .1 .6 .1 .6-2.2 .6-.6 .6 2.4 .6-2.3 .6 .4 .6-2.8 .6-.8 .6 .4 .6-1.6 .6-1.2 .6-4.4 .6 .9 .6-2.6 .6-1 .6-2.1 .6-1.4 .6-2 .6 .6 .6-3.7 .6 .1 .6-2.4 .6-.8 .6-2.4 .6-3.5 .6-2.3 .6-2.3 .6-3.9 .6-2.1 .6-.6 .6-3.4 .6-3.3 .6-4.2 .6-1 .6 .2 .6 .8 .6-3.8 .6 .2 .6-1.6 .6-1.5 .6-.8 .6-.5 .6-2.6 .6 .3 .6-1.5 .6-3.2 .6 .8 .6-1.9 .6-3.4 .6 1.2 .6-4.2 .6-1.1 .6-.6 .6-1 .6-3.5 .6-2.9 .6 .2 .6-3.6 .6-2.6 .6-2.3 .6-1.8 .6-1.8 .6-4.1 .6-3.4 .6 0 .6-3.1 .6-4.7 .6-2.5 .6-2.2 .6-.4 .6-5 .6-3.5 .6-2.7 .6-1.6 .6-.1 .6-5.2 .6-.2 .6-3.8 .6-3.5 .6-1.5 .6 .1 .6-2.3 .6-3.9 .6 .9 .6-2.6 .6 1.2 .6 1.3 .6-1.2 .6 2.5 .6 .2 .6-.5 .6 2 .6 1.3 .6-.7 .6 .6 .6 .7 .6 3.3 .6-.4 .6 1 .6-.4 .6 1 .6-1 .6 2.6 .6 1.7 .6-1.6 .6 2.5 .6-1.1 .6 1 .6-.8 .6 1.8 .6 .4 .6 1.8 .6-.4 .6 1.6 .6-1.1 .6 1.4 .6 1.9 .6 .3 .6-.2 .6-1 .6 2.3 .6-1.6 .6 .5 .6 2.3 .6-1.7 .6 2.3 .6 .2 .6-1.3 .6 1.5 .6-1.9 .6 1.7 .6 .9 .6-1.4 .6 3 .6-2.3 .6 2.5 .6-.2 .6-2.6 .6 1.1 .6 1.8 .6 .3 .6-4.2 .6-.2 .6-1.7 .6 1.1 .6-3.2 .6-.8 .6-1.4 .6-2.1 .6-2.3 .6 .5 .6-.6 .6 .4 .6-2.9 .6 .2 .6-1 .6 .9 .6-2 .6 .8 .6-.8 .6-.3 .6-1.1 .6 .8 .6 .6 .6-.3 .6-.9 .6 .3 .6-3.2 .6 1.1 .6-1.2 .6 2.3 .6-1.9 .6-1.7 .6 .7 .6 .3 .6-.4 .6 1 .6-.4 .6-.3 .6-1 .6-.4 .6-2 .6 2.3 .6-.6 .6-.4 .6 .2 .6-.8 .6-.2 .6-1.4 .6 1.1 .6-3.6 .6 1.4 .6-2.5 .6 .4 .6-.5 .6 .2 .6-2.1 .6 2.4 .6-2.4 .6 .3 .6-2.3 .6-1.2 .6 1 .6-1.1 .6 .1 .6 0 .6 1.2 .6-.5 .6-1.3 .6 2.8 .6 .9 .6 .1 .6 1.3 .6 .4 .6 2 .6 3.8 .6 1.7 .6 .4 .6 1 .6 3 .6 2.7 .6 0 .6 4.9 .6-.4 .6-2.8 .6 1 .6 1.1 .6-2.1 .6-1.8 .6 1.4 .6 .3 .6 .7 .6-.2 .6-3.2 .6 1.2 .6-1.8 .6 2.8 .6-1 .6 .3 .6-1.6 .6 .8 .6-1 .6-.9 .6 0 .6 .6 .6-.4 .6-3.6 .6 2.4 .6-1.5 .6 0 .6-.8 .6 1.2 .6-1.1 .6 .4 .6-1.9 .6-1.7 .6 .9 .6-1.1 .6 2.1 .6 .5 .6-2 .6 0 .6-.5 .6 .5 .6-1 .6-.6 .6-.8 .6 1.9 .6-.6 .6-1.5 .6 3 .6 1.8 .6 .7 .6 2.2 .6-1 .6 1.3 .6 2.9 .6 1.7 .6 1.3 .6 .5 .6 1.6 .6-.1 .6 .6 .6 2.2 .6 1.7 .6-1.1 .6 3.3 .6 .6 .6 .8 .6 .7 .6 2.1 .6-.1 .6 1.5 .6-.5 .6 1.8 .6-.1 .6 1.8 .6 .6 .6 1.7 .6 1.4 .6-.3 .6 1.6 .6-.1 .6 1.8 .6 1.1 .6 2.5 .6-.9 .6 2.5 .6 2 .6 1.4 .6 .7 .6 .8 .6-.3 .6 2.5 .6 1.9 .6-1.4 .6 1.9 .6 2.9 .6 1.1 .6 .8 .6 .3 .6-.6 .6 .8 .6 2.3 .6 2.4 .6 .5 .6 1.3 .6 1.2 .6 2.3 .6-.9 .6 .2 .6 1.7 .6 3.6 .6-.2 .6 2.7 .6-.5 .6 2.3 .6-.4 .6 1.9 .6 3.8 .6 .7 .6-.7 .6 2.9 .6 1.5 .6 1.4 .6 .2 .6 .8 .6 2.8 .6-.2 .6 2.7 .6 3.1 .6-1.1 .6 2.8 .6 2.7 .6-1.9 .6 4.8 .6-.3 .6 1.9 .6 .1 .6 3.3 .6 2.2 .6 1.3 .6 1.8 .6 .3 .6 2.3 .6 .2 .6 3.3 .6 1.2 .6 1.9 .6-1 .6 2.1 .6 1.5 .6 2.4 .6 2.3 .6 2.4 .6-.9 .6 2.6 .6 3.1 .6 1 .6 1.7 .6-.8 .6 .9 .6 3.9 .6-.7 .6 3.1 .6 .2 .6 .8 .6 2.3 .6 .8 .6 3 .6 2.7 .6-.3 .6 1.2 .6 2.8 .6 .7 .6 1.3 .6 2.1 .6 .1 .6 .8 .6 .8 .6 .3 .6 2.1 .6-1 .6 1.7 .6 .7 .6 1.9 .6 1.1 .6 1.6 .6 .1 .6 2.6 .6 .3 .6 .8 .6 1.6 .6 1.9 .6 1.6 .6 .5 .6-.4 .6-.2 .6-.1 .6 .7 .6 2 .6-1.6 .6 2.8 .6-1 .6 2.8 .6-1.8 .6 .8 .6-.4 .6 .7 .6 1.3 .6 0 .6 .9 .6 1 .6 2 .6-.7 .6-1.1 .6 2.6 .6-2.3 .6 1.7 .6 .8 .6 1.6 .6-1.1 .6 1 .6-1.4 .6-.6 .6 .2 .6 1.3 .6 1.1 .6 1.2 .6-1.8 .6 .4 .6-.7 .6 1 .6-2 .6 2.2 .6-.5 .6-.1 .6-1.4 .6-1.2 .6 2.4 .6-1.8 .6-.7 .6 1.7 .6 .4 .6-2 .6-1.1 .6-1.2 .6-.8 .6-.2 .6-1.3 .6-1.6 .6-2.6 .6 .8 .6-1.2 .6-.8 .6-1 .6 3.1 .6 .8 .6 0 .6-1.2 .6 .1 .6 1.8 .6 .3 .6-1 .6 .7 .6 .7 .6 .7 .6 3.2 .6-.6 .6-.3 .6 .4 .6 3.1 .6-1 .6 .7 .6-1 .6 2.3 .6-1.6 .6-.6 .6 1.2 .6 1.3 .6-.4 .6 .1 .6 .2 .6-.3 .6-1.7 .6 1.8 .6-2.4 .6 .1 .6-.4 .6 0 .6 .3 .6-.8 .6-.1 .6 1.1 .6-1.2 .6 3 .6 0 .6 .2 .6-.5 .6-.6 .6-.3 .6-.8 .6-.2 .6 2.3 .6-1.1 .6-.5 .6 .6 .6 .9 .6-1.7 .6 .8 .6-1.1 .6 .7 .6-1.7 .6 .1 .6 3 .6-2.4 .6 .2 .6 1.5 .6 .6 .6-1.3 .6 .5 .6-1.4 .6-.6 .6 1.9 .6 .3 .6-.7 .6-.7 .6-.4 .6 .8 .6 1 .6-.2 .6-1.8 .6 1.2 .6 1.6 .6-1.3 .6 .7 .6-1.5 .6 2 .6-.6 .6 .6 .6-1.4 .6-1.7 .6 1.5 .6 .5 .6-1.9 .6 3 .6-.9 .6-1.6 .6 2.8 .6-2.7 .6 1.4 .6 1.2 .6-.8 .6-.7 .6 .3 .6-.5 .6 1.6 .6-.6 .6-2.6 .6 1.9 .6-.2 .6 1.4 .6-.7 .6-2.3 .6 .9 .6 .6 .6 1.6 .6-1.2 .6-1.3 .6 1.2 .6-.6 .6-1.1 .6 .9 .6 .1 .6 2.1 .6 0 .6-2.6 .6 1.3 .6-1.7 .6 .2 .6-.3 .6 1.9 .6-2.2 .6 .9 .6-.5 .6 2.6 .6-2.2 .6 1.2 .6-1.9 .6-.1 .6 2.7 .6-.7 .6 .6 .6-.7 .6 .5 .6-1.8 .6 1.5 .6-.5 .6-1.4 .6 .9 .6-1.5 .6-2.2 .6-.3 .6 2 .6 .2 .6-3.2 .6-.9 .6 .9 .6 1.2 .6-.8 .6-2.8 .6-.4 .6 2.8 .6-1 .6-1.3 .6 0 .6-2.2 .6 .8 .6-2 .6 1.7 .6-1.8 .6-2.2 .6 .4 .6 1.6 .6-.6 .6-2.4 .6 .4 .6-.5 .6-.9 .6-.9 .6-1.9 .6 2 .6-1.7 .6 .5 .6-1.6 .6-1.2 .6 1.5 .6-1.8 .6-1.3 .6 1.9 .6-3.3 .6 .7 .6-.9 .6-.9 .6-1.2 .6 2 .6-1.9 .6 1.5 .6-1.4 .6 0 .6 1 .6-1.1 .6-.7 .6-.9 .6-1.1 .6 1.8 .6-.7 .6-.8 .6-1 .6-.2 .6-.3 .6 2.3 .6 .7 .6-2.4 .6 3.3 .6-1 .6-.7 .6 1 .6 .8 .6-1.6 .6 2.5 .6-.6 .6-.7 .6 2.7 .6-1.4 .6-1.1 .6-.9 .6 .6 .6-1.5 .6 .8 .6-.7 .6-1.6 .6 .1 .6-3.5 .6 1.8 .6-.6 .6-1.9 .6 .1 .6 1.5 .6-2 .6 .6 .6 .7 .6-1 .6 1.3 .6-.2 .6-2.2 .6 1.4 .6-1.7 .6 2.4 .6 0 .6 .2 .6-2.5 .6 .5 .6 1.8 .4 4.7-.6 2.8-.6-1.1-.6 1.5-.6-2.8-.6 2-.6-1.6-.6 2.3-.6-.3-.6 .1-.6-1.3-.6 2.7-.6-2.8-.6-.1-.6 2.3-.6-2-.6 0-.6 1.5-.6 .8-.6 1-.6 .1-.6-1.7-.6 2.7-.6 1.3-.6-1.9-.6 2.8-.6-1.1-.6 .8-.6-.4-.6 3.3-.6-.2-.6 1.7-.6-1.9-.6-1.3-.6-.1-.6-.2-.6 2.1-.6-2.9-.6-.7-.6 .7-.6-1.3-.6 .9-.6 .4-.6 .1-.6-1.5-.6 .1-.6 1.4-.6 .9-.6-.7-.6 .6-.6 1.4-.6-2.5-.6 .6-.6 1-.6 .4-.6 1.4-.6-1-.6 .6-.6-.7-.6 1.7-.6 .8-.6-1.4-.6 0-.6 1.1-.6 .9-.6 2.4-.6-1.6-.6 1.8-.6 .6-.6 1.7-.6-2.4-.6 2.9-.6-1-.6-.2-.6 2.4-.6 1.3-.6-.4-.6-1.3-.6 3.7-.6-1.5-.6 1.4-.6 .9-.6-1.1-.6 1-.6 .3-.6-.3-.6 .5-.6 2.8-.6-.5-.6 2.1-.6-2.3-.6 1.5-.6 .3-.6 3.3-.6 .1-.6 1.1-.6-.7-.6-.8-.6 1.8-.6 0-.6 0-.6 2.5-.6-.3-.6 0-.6 2.1-.6 2.2-.6 1.8-.6 .1-.6 .6-.6 4.1-.6-.5-.6 3.3-.6-.4-.6 3.2-.6-1.5-.6-.4-.6-.5-.6 1-.6 1.5-.6-1.9-.6-.7-.6 1.1-.6 1.4-.6-1.9-.6 1-.6 1-.6-2.1-.6 1.8-.6-1-.6-1.3-.6-.3-.6 3.1-.6-1.6-.6-.1-.6 1.7-.6-1.2-.6-.2-.6-.7-.6 1.6-.6-1.7-.6 .8-.6 1.1-.6-.6-.6-1.6-.6 .3-.6 1.7-.6 .2-.6-2.2-.6 3.2-.6-3-.6 .1-.6-.3-.6 1.3-.6 .6-.6 .8-.6-2.4-.6 1.8-.6-2-.6 1.6-.6-1.1-.6 .3-.6-1-.6 2.3-.6-2.1-.6 2.3-.6-1.5-.6 .9-.6 .1-.6-.5-.6 1.4-.6 .1-.6-2.2-.6 .2-.6 1.9-.6-2.6-.6 1-.6 0-.6 1.9-.6-3-.6 1.9-.6 .3-.6-.1-.6-2.5-.6 3.3-.6-2.2-.6 1.9-.6-.7-.6-.8-.6 1.4-.6-.5-.6-1.2-.6 1.4-.6-.8-.6 .7-.6-.3-.6 .6-.6-2.2-.6 1.1-.6-1.7-.6 2.8-.6-.1-.6 .2-.6-2.7-.6 1.7-.6-.2-.6-1.3-.6 .3-.6 2.7-.6-.4-.6-2.2-.6 2.1-.6-.6-.6-.9-.6 .9-.6-1.3-.6 .2-.6-.9-.6 2.4-.6-.2-.6 .6-.6-.8-.6-.1-.6-.4-.6 1.6-.6-1.2-.6 .8-.6 .7-.6-1.1-.6 .9-.6-2.1-.6 .8-.6 2.1-.6-2.4-.6-.3-.6-.1-.6 2.6-.6-2.3-.6 1.2-.6-.1-.6 1.3-.6-1.1-.6 .1-.6-1.7-.6 2.7-.6-.1-.6-.5-.6 .7-.6-.8-.6 .4-.6 .5-.6-.8-.6-2.1-.6 3-.6 .4-.6-2.8-.6-.5-.6 1-.6-.8-.6 .9-.6-1-.6 .5-.6-.8-.6 1.5-.6-.4-.6 1.5-.6-1.2-.6-.8-.6 2.7-.6-.2-.6-.7-.6-1.6-.6 .6-.6 .2-.6-.2-.6-1.3-.6 1.5-.6 1.1-.6-.3-.6 .6-.6-.6-.6 .3-.6 .3-.6 .2-.6-.4-.6-1.3-.6 .8-.6 0-.6 .8-.6-.6-.6-.9-.6-.9-.6 .4-.6-.3-.6 1.5-.6 .3-.6-2.1-.6 1.2-.6 1-.6-1.7-.6-.9-.6 1.7-.6-.9-.6-.8-.6 .5-.6-1-.6 .5-.6 .9-.6-1.1-.6-.4-.6 1.9-.6 1.4-.6-.5-.6-1.8-.6 2-.6-2.9-.6 .2-.6-.6-.6 .2-.6 1.9-.6 .5-.6-1-.6 1.1-.6-1.3-.6 1.6-.6-1.1-.6-.3-.6-1.3-.6 .9-.6 0-.6 1.3-.6-2.1-.6 .2-.6 1.8-.6-2.6-.6 1.6-.6-1.2-.6 1.5-.6-.2-.6-1.8-.6 2.2-.6-1.2-.6-.3-.6 1.8-.6-.3-.6-1.6-.6 1.2-.6-2-.6 1.4-.6-1.6-.6 2-.6 .9-.6-1-.6-2.1-.6 1.6-.6-.2-.6-.1-.6-1.1-.6 .4-.6 .6-.6-1.3-.6 2-.6-1.5-.6 .1-.6-.7-.6 .7-.6 2.2-.6-2.3-.6-.7-.6 .9-.6 2-.6-3-.6 .8-.6-.5-.6 1.6-.6-.9-.6-1.3-.6 2.6-.6-1.9-.6 1.2-.6-.9-.6 1.4-.6-2.9-.6 .5-.6 .2-.6-.2-.6 1.9-.6-1.1-.6-.7-.6 .5-.6 1.2-.6-1.1-.6-.4-.6 .6-.6-.2-.6-.8-.6 0-.6-1.1-.6 1.1-.6 1.4-.6-2-.6 .1-.6 .8-.6-.1-.6-1.5-.6 .9-.6 .9-.6-2.5-.6 .2-.6 2.2-.6 .5-.6-3.1-.6-.1-.6 1.8-.6-1.3-.6 1.2-.6-2.3-.6 1.4-.6-1.2-.6 .5-.6 1.1-.6-.7-.6 1.1-.6-.2-.6-.9-.6 .7-.6-2.5-.6 .9-.6-.6-.6 .9-.6-1.9-.6 2.6-.6-1.9-.6 1.3-.6 .4-.6-.1-.6-2-.6 1.5-.6 .3-.6-3.1-.6 2-.6-.2-.6-1-.6-.8-.6-.5-.6 .8-.6 1.7-.6-2-.6-.6-.6 1.1-.6-.7-.6 .5-.6-.6-.6-.6-.6-1-.6 2.7-.6-.6-.6-1.5-.6 .8-.6 .2-.6-.3-.6 1.3-.6-.4-.6-1.8-.6 .1-.6 .9-.6-1.6-.6 2.6-.6-3.2-.6 1.6-.6-.9-.6 .8-.6-1.7-.6 .6-.6 2.6-.6-.8-.6-2-.6 .7-.6-1.5-.6 .2-.6 .2-.6 2.7-.6-2.4-.6-.3-.6-.7-.6 .1-.6 3.1-.6-1-.6 .6-.6-.4-.6-.2-.6-1.9-.6-.4-.6 .3-.6-.8-.6 .4-.6 1.8-.6-.9-.6-1.7-.6 1-.6 1.8-.6 0-.6-.5-.6-.1-.6 .6-.6-1.3-.6-.7-.6 .6-.6-1.1-.6-1.2-.6-1.3-.6-1.4-.6-3.3-.6-2.5-.6-3.7-.6-3.8-.6-2.2-.6-5.9-.6-3-.6-4.5-.6-4.8-.6-6-.6-6.5-.6-7-.6-5.6-.6-6-.6-6.9-.6-7.8-.6-5.3-.6-5.2-.6-2.7-.6-6-.6-5.5-.6-3.1-.6-2.9-.6-2.9-.6-1.1-.6-3-.6-3.8-.6-1.1-.6-4.6-.6 .6-.6-3.9-.6 .5-.6-.7-.6-1-.6-1.3-.6 .9-.6-1.3-.6-.2-.6-2.6-.6 .6-.6 1.6-.6 .8-.6-1-.6 2.8-.6-.2-.6 1.8-.6 1.6-.6 2.4-.6-.5-.6 3-.6 2.5-.6 2.6-.6 1.2-.6 2.3-.6 3-.6 2.9-.6 2.6-.6 .6-.6 3.5-.6 2.8-.6 1.1-.6 2.1-.6 5.3-.6-.8-.6 4.1-.6 1.7-.6 1.5-.6 3.3-.6 2-.6 3.3-.6 4.2-.6-1.3-.6 2.6-.6 2.8-.6 1.4-.6-.5-.6 2.4-.6 1.8-.6 3.7-.6-3.8-.6-2.9-.6-1.4-.6-2.2-.6-3.4-.6-.4-.6-2.1-.6-3-.6-2-.6-1.4-.6 .8-.6 3.6-.6 2.8-.6 6.4-.6 5.4-.6 4.3-.6 9.9-.6 7.6-.6 9.5-.6 6.9-.6 3.8-.6 4.5-.6 2.8-.6 3.5-.6 3.6-.6 .7-.6 1.3-.6 .1-.6-1.8-.6 2.6-.6-1.8-.6 1.1-.6 .3-.6 .8-.6 .3-.6-.9-.6 1.7-.6-1.6-.6 .6-.6 1.6-.6-2.2-.6 1.5-.6 1-.6-2.9-.6 2.6-.6-.3-.6-.3-.6 1-.6 .4-.6-2.3-.6 1.3-.6 .6-.6 .5-.6 1-.6-.4-.6 .3-.6-2.6-.6 1.4-.6 1.9-.6 .3-.6-.6-.6-1.3-.6 1.7-.6-.7-.6 .6-.6 .1-.6 .9-.6-.4-.6 1.1-.6-1.5-.6 .1-.6 .7-.6-.2-.6-1.6-.6 3.3-.6-2.1-.6 .8-.6-1.6-.6 .5-.6 2.6-.6-2.3-.6 0-.6 1.8-.6-2-.6 1.4-.6-.4-.6 1.2-.6-1.5-.6-.6-.6-.3-.6 .4-.6-1.3-.6 .4-.6 .1-.6 .5-.6 1.6-.6 .5-.6-2-.6-.4-.6 .1-.6 1.1-.6-.5-.6-1.3-.6 1.4-.6-.9-.6-.5-.6 2.2-.6-2.4-.6 1.2-.6 1.1-.6-.8-.6 1.1-.6-2-.6 2.2-.6-3.2-.6 3-.6-1.8-.6-1.8-.6 .6-.6 2.3-.6-1.3-.6-.2-.6-.1-.6-3.1-.6 .8-.6 .2-.6 1.3-.6-.4-.6-2.9-.6 2.6-.6-1.8-.6-1.2-.6-1.1-.6 .9-.6 .1-.6-.6-.6-1-.6 1.6-.6-2.4-.6-1.3-.6 1-.6-2.6-.6-.1-.6-1.8-.6-.2-.6 1.9-.6-2-.6-1-.6 .2-.6-.1-.6-.7-.6-.7-.6-.8-.6-.6-.6 .2-.6 1-.6-.9-.6 2.8-.6-.7-.6 .2-.6 .7-.6 1.2-.6-.5-.6 2.7-.6-.8-.6-1-.6 .6-.6 3.3-.6-.6-.6-.5-.6 1.9-.6-1.8-.6 3.4-.6 .7-.6-.5-.6-1.6-.6 1.8-.6 1.4-.6-.8-.6-1.4-.6 .1-.6-.6-.6 1.6-.6-1.2-.6 1-.6 1.5-.6 .1-.6-1.5-.6 1-.6-2.4-.6 2.8-.6-.3-.6-1.4-.6 1.3-.6-2.1-.6 2.3-.6-2.3-.6 2-.6-.4-.6 .3-.6-.8-.6-2.3-.6 .6-.6 1.3-.6 .8-.6-.9-.6-2.3-.6 1.1-.6-.1-.6-.7-.6 .1-.6 1-.6-.6-.6-.4-.6 .5-.6 1.8-.6-1.3-.6 .5-.6 .5-.6-3.2-.6 2.9-.6-2.8-.6 .3-.6 1.8-.6 0-.6-.5-.6-.6-.6 .8-.6-1.1-.6-1.2-.6-2.4-.6-2.8-.6-2.6-.6 .7-.6-.1-.6-2.2-.6 .1-.6-.6-.6 1.6-.6-1.1-.6-1.3-.6 2.4-.6 0-.6-3.2-.6 1.7-.6-.3-.6 1.9-.6-.4-.6 .3-.6 .5-.6 1.6-.6 .2-.6 .5-.6 1.2-.6-.2-.6 2.1-.6-1.2-.6 1.7-.6 1-.6-.5-.6 .4-.6 .9-.6-.3-.6-1.9-.6 .7-.6-1-.6-.6-.6 2.3-.6-1.3-.6-.4-.6-.8-.6-.1-.6 2.2-.6-1.2-.6 .2-.6 .7-.6 .8-.6-.8-.6-1.8-.6 2.7-.6-2.9-.6 1.4-.6 .1-.6-1.3-.6 2.1-.6-1-.6 .3-.6-2.1-.6 2.4-.6-1.9-.6 1.1-.6 .3-.6-1.5-.6-.2-.6 .2-.6 2.2-.6-1.2-.6-.7-.6 .3-.6 .3-.6-1.5-.6-.7-.6 .1-.6 1.6-.6-.1-.6 1.1-.6-1.4-.6 .6-.6 .3-.6-1.9-.6-.4-.6 0-.6-.6-.6 1.2-.6-.8-.6-1.8-.6 2.8-.6-1.7-.6 .6-.6-.9-.6-.1-.6-.2-.6-1.8-.6-.1-.6 1.9-.6-1.5-.6-1-.6 2.2-.6-.5-.6-.1-.6-1.6-.6-1.1-.6 2-.6-2.1-.6 1.4-.6-.1-.6-1.7-.6-1.2-.6 1.9-.6 .4-.6-.9-.6 1.2-.6-2.9-.6 1.6-.6-1.3-.6 .3-.6-1.1-.6-.3-.6 1-.6 .1-.6 .9-.6-1.2-.6-.5-.6 .4-.6-.2-.6-.9-.6-.6-.6 1.4-.6-1.2-.6-1.3-.6 .3-.6 .6-.6 1-.6-.2-.6-.7-.6 1-.6-1.8-.6-.3-.6 1-.6-.6-.6-1.3-.6 1.2-.6-3.4-.6 1.4-.6 .7-.6-.3-.6-2.8-.6 1.8-.6-1.4-.6 1.1-.6-2.6-.6 .8-.6-.4-.6 .8-.6-2.7-.6-.2-.6-1.3-.6 1.6-.6-2.5-.6 2.4-.6-2.8-.6-.2-.6 2.3-.6-1.9-.6 .6-.6-1.8-.6-.7-.6 .2-.6 1.8-.6-3.1-.6 2.2-.6-.5-.6-1-.6-1.8-.6 1.3-.6 .3-.6-1.4z" fill="#a21c32"/>
<line x1="1041.2" y1="224.6" x2="1041.2" y2="60" stroke="#a21c32" stroke-width="1.6"/>
<line x1="1005.5" y1="202.4" x2="1005.5" y2="182.5" stroke="#a21c32" stroke-width="1.3"/>
<line x1="1009" y1="205" x2="1009" y2="189.7" stroke="#a21c32" stroke-width="1.3"/>
<line x1="1075.3" y1="194.8" x2="1075.3" y2="179" stroke="#a21c32" stroke-width="1.3"/>
<line x1="1079.6" y1="194.9" x2="1079.6" y2="173" stroke="#a21c32" stroke-width="1.3"/>
<line x1="1237" y1="390.4" x2="1237" y2="378" stroke="#a21c32" stroke-width="1.2"/>
<line x1="1240" y1="387.7" x2="1240" y2="382" stroke="#a21c32" stroke-width="1.2"/>
<path d="M831 385.6l.2 0 .3 0 .3 0 .2 0 .2 0 .3 0 .3 0 .2 0 .2 0 .3 0 .3-.1 .2 0 .2 0 .3 0 .3 0 .2 0 .2 0 .3 0 .3 0 .2 0 .2-.1 .3 0 .3 0 .2 0 .2 0 .3 0 .3 0 .2 0 .2-.1 .3 0 .3 0 .2 0 .2 0 .3 0 .3 0 .2-.1 .2 0 .3 0 .3 0 .2 0 .2-.1 .3 0 .3 0 .2 0 .2-.1 .3 0 .3 0 .2 0 .2-.1 .3 0 .3 0 .2-.1 .2 0 .3 0 .3-.1 .2 0 .2-.1 .3 0 .3 0 .2-.1 .2 0 .3-.1 .3-.1 .2 0 .2-.1 .3 0 .3-.1 .2-.1 .2-.1 .3 0 .3-.1 .2-.1 .2-.1 .3-.1 .3-.1 .2-.2 .2-.1 .3-.1 .3-.2 .2-.1 .2-.2 .3-.2 .3-.2 .2-.2 .2-.2 .3-.3 .3-.2 .2-.3 .2-.4 .3-.3 .3-.4 .2-.4 .2-.5 .3-.5 .3-.6 .2-.7 .2-.7 .3-.9 .3-.9 .2-1.1 .2-1.2 .3-1.4 .3-1.6 .2-1.9 .2-2.2 .3-2.6 .3-3.1 .2-3.7 .2-4.4 .3-5.4 .3-6.5 .2-7.9 .2-9.6 .3-11.5 .3-13.6 .2-15.4 .2-16.3 .3-15.1 .3-11 .2-4.1 .2 4.1 .3 11 .3 15.1 .2 16.3 .2 15.4 .3 13.6 .3 11.5 .2 9.6 .2 7.9 .3 6.5 .3 5.4 .2 4.4 .2 3.7 .3 3.1 .3 2.6 .2 2.2 .2 1.9 .3 1.6 .3 1.4 .2 1.2 .2 1.1 .3 .9 .3 .9 .2 .7 .2 .7 .3 .6 .3 .5 .2 .5 .2 .4 .3 .4 .3 .3 .2 .4 .2 .3 .3 .2 .3 .3 .2 .2 .2 .2 .3 .2 .3 .2 .2 .2 .2 .1 .3 .2 .3 .1 .2 .1 .2 .2 .3 .1 .3 .1 .2 .1 .2 .1 .3 .1 .3 0 .2 .1 .2 .1 .3 .1 .3 0 .2 .1 .2 0 .3 .1 .3 .1 .2 0 .2 .1 .3 0 .3 0 .2 .1 .2 0 .3 .1 .3 0 .2 0 .2 .1 .3 0 .3 0 .2 .1 .2 0 .3 0 .3 0 .2 .1 .2 0 .3 0 .3 0 .2 .1 .2 0 .3 0 .3 0 .2 0 .2 .1 .3 0 .3 0 .2 0 .2 0 .3 0 .3 0 .2 .1 .2 0 .3 0 .3 0 .2 0 .2 0 .3 0 .3 0 .2 .1 .2 0 .3 0 .3 0 .2 0 .2 0 .3 0 .3 0 .2 0 .2 0 .3 .1 .3 0 .2 0 .2 0 .3 0 .3 0 .2 0 .2 0 .3 0 .3 0 .2 0z" fill="#a21c32"/>
<line x1="861" y1="386" x2="861" y2="235" stroke="#a21c32" stroke-width="1.4"/>
<path d="M1259.4 395.6l.2 0 .3-.1 .3 0 .2 0 .2 0 .3-.1 .3 0 .2 0 .2 0 .3-.1 .3 0 .2 0 .2-.1 .3 0 .3 0 .2-.1 .2 0 .3 0 .3-.1 .2 0 .2-.1 .3 0 .3-.1 .2 0 .2 0 .3-.1 .3 0 .2-.1 .2 0 .3-.1 .3-.1 .2 0 .2-.1 .3 0 .3-.1 .2-.1 .2 0 .3-.1 .3-.1 .2 0 .2-.1 .3-.1 .3-.1 .2-.1 .2-.1 .3-.1 .3-.1 .2-.1 .2-.1 .3-.1 .3-.1 .2-.1 .2-.2 .3-.1 .3-.1 .2-.2 .2-.1 .3-.2 .3-.2 .2-.1 .2-.2 .3-.2 .3-.2 .2-.2 .2-.2 .3-.3 .3-.2 .2-.3 .2-.3 .3-.3 .3-.3 .2-.3 .2-.3 .3-.4 .3-.4 .2-.4 .2-.5 .3-.4 .3-.6 .2-.5 .2-.6 .3-.6 .3-.7 .2-.7 .2-.8 .3-.8 .3-.9 .2-1 .2-1.1 .3-1.1 .3-1.3 .2-1.4 .2-1.5 .3-1.6 .3-1.9 .2-2 .2-2.2 .3-2.4 .3-2.7 .2-3 .2-3.4 .3-3.7 .3-4.2 .2-4.7 .2-5.2 .3-5.9 .3-6.6 .2-7.3 .2-8.1 .3-9.1 .3-9.9 .2-10.7 .2-11.3 .3-11.8 .3-11.7 .2-11.2 .2-9.8 .3-7.8 .3-5.1 .2-1.7 .2 1.7 .3 5.1 .3 7.8 .2 9.8 .2 11.2 .3 11.7 .3 11.8 .2 11.3 .2 10.7 .3 9.9 .3 9.1 .2 8.1 .2 7.3 .3 6.6 .3 5.9 .2 5.2 .2 4.7 .3 4.2 .3 3.7 .2 3.4 .2 3 .3 2.7 .3 2.4 .2 2.2 .2 2 .3 1.9 .3 1.6 .2 1.5 .2 1.4 .3 1.3 .3 1.1 .2 1.1 .2 1 .3 .9 .3 .8 .2 .8 .2 .7 .3 .7 .3 .6 .2 .6 .2 .5 .3 .6 .3 .4 .2 .5 .2 .4 .3 .4 .3 .4 .2 .3 .2 .3 .3 .3 .3 .3 .2 .3 .2 .3 .3 .2 .3 .3 .2 .2 .2 .2 .3 .2 .3 .2 .2 .2 .2 .1 .3 .2 .3 .2 .2 .1 .2 .2 .3 .1 .3 .1 .2 .2 .2 .1 .3 .1 .3 .1 .2 .1 .2 .1 .3 .1 .3 .1 .2 .1 .2 .1 .3 .1 .3 .1 .2 .1 .2 0 .3 .1 .3 .1 .2 0 .2 .1 .3 .1 .3 0 .2 .1 .2 0 .3 .1 .3 .1 .2 0 .2 .1 .3 0 .3 .1 .2 0 .2 0 .3 .1 .3 0 .2 .1 .2 0 .3 .1 .3 0 .2 0 .2 .1 .3 0 .3 0 .2 .1 .2 0 .3 0 .3 .1 .2 0 .2 0 .3 0 .3 .1 .2 0 .2 0 .3 0 .3 .1 .2 0z" fill="#a21c32"/>
<line x1="1289.4" y1="397" x2="1289.4" y2="207.5" stroke="#a21c32" stroke-width="1.4"/>
<rect x="828.6" y="180.5" width="62.1" height="232.6" fill="none" stroke="#a21c32" stroke-width="1.5" stroke-dasharray="6 4"/>
<rect x="1261.4" y="183.7" width="62.2" height="231.6" fill="none" stroke="#a21c32" stroke-width="1.5" stroke-dasharray="6 4"/>
<rect x="791" y="8.2" width="598" height="414.7" fill="none" stroke="#161616" stroke-width="2"/>
<line x1="791" y1="48.8" x2="797.5" y2="48.8" stroke="#161616" stroke-width="1.7"/>
<line x1="1389" y1="48.8" x2="1382.5" y2="48.8" stroke="#161616" stroke-width="1.7"/>
<line x1="791" y1="138.6" x2="797.5" y2="138.6" stroke="#161616" stroke-width="1.7"/>
<line x1="1389" y1="138.6" x2="1382.5" y2="138.6" stroke="#161616" stroke-width="1.7"/>
<line x1="791" y1="228.8" x2="797.5" y2="228.8" stroke="#161616" stroke-width="1.7"/>
<line x1="1389" y1="228.8" x2="1382.5" y2="228.8" stroke="#161616" stroke-width="1.7"/>
<line x1="791" y1="319" x2="797.5" y2="319" stroke="#161616" stroke-width="1.7"/>
<line x1="1389" y1="319" x2="1382.5" y2="319" stroke="#161616" stroke-width="1.7"/>
<line x1="791" y1="409.5" x2="797.5" y2="409.5" stroke="#161616" stroke-width="1.7"/>
<line x1="1389" y1="409.5" x2="1382.5" y2="409.5" stroke="#161616" stroke-width="1.7"/>
<line x1="891" y1="422.9" x2="891" y2="416.4" stroke="#161616" stroke-width="1.7"/>
<line x1="891" y1="8.2" x2="891" y2="14.7" stroke="#161616" stroke-width="1.7"/>
<line x1="1057" y1="422.9" x2="1057" y2="416.4" stroke="#161616" stroke-width="1.7"/>
<line x1="1057" y1="8.2" x2="1057" y2="14.7" stroke="#161616" stroke-width="1.7"/>
<line x1="1223" y1="422.9" x2="1223" y2="416.4" stroke="#161616" stroke-width="1.7"/>
<line x1="1223" y1="8.2" x2="1223" y2="14.7" stroke="#161616" stroke-width="1.7"/>
<text x="1407.60" y="59.30" font-size="33.5" textLength="37.26" lengthAdjust="spacingAndGlyphs">20</text>
<text x="1417.06" y="148.70" font-size="33.5" textLength="18.63" lengthAdjust="spacingAndGlyphs">0</text>
<text x="1402.07" y="237.90" font-size="33.5" textLength="48.42" lengthAdjust="spacingAndGlyphs">-20</text>
<text x="1402.07" y="327.30" font-size="33.5" textLength="48.42" lengthAdjust="spacingAndGlyphs">-40</text>
<text x="1402.07" y="416.40" font-size="33.5" textLength="48.42" lengthAdjust="spacingAndGlyphs">-60</text>
<text x="861.14" y="459.00" font-size="33.5" textLength="74.53" lengthAdjust="spacingAndGlyphs">1400</text>
<text x="1026.05" y="459.00" font-size="33.5" textLength="74.53" lengthAdjust="spacingAndGlyphs">1600</text>
<text x="1190.44" y="459.00" font-size="33.5" textLength="74.53" lengthAdjust="spacingAndGlyphs">1800</text>
<text x="1345.86" y="459.00" font-size="33.5" textLength="74.53" lengthAdjust="spacingAndGlyphs">2000</text>
<text x="979.50" y="502.80" font-size="33" textLength="166.40" lengthAdjust="spacingAndGlyphs">wavelength</text>
<text x="1158.33" y="502.80" font-size="33" textLength="68.05" lengthAdjust="spacingAndGlyphs">(nm)</text>
<text transform="translate(1493.50 304.69) rotate(-90)" x="0" y="0" font-size="33" textLength="164.82" lengthAdjust="spacingAndGlyphs">power (dB)</text>
<text x="752.26" y="33.50" font-size="47" textLength="29.51" lengthAdjust="spacingAndGlyphs" font-weight="bold">b</text>
<text x="822.19" y="51.60" font-size="31" textLength="20.34" lengthAdjust="spacingAndGlyphs">Δ</text>
<line x1="847.6" y1="27.6" x2="843.6" y2="38" stroke="#000" stroke-width="2.0"/>
<text x="840.49" y="59.70" font-size="22" textLength="14.33" lengthAdjust="spacingAndGlyphs" font-family="'Liberation Serif', serif">1</text>
<text x="859.20" y="51.60" font-size="27.5" textLength="15.17" lengthAdjust="spacingAndGlyphs">=</text>
<text x="881.59" y="51.60" font-size="27.5" textLength="97.02" lengthAdjust="spacingAndGlyphs">1581.88</text>
<text x="985.11" y="51.60" font-size="27.5" textLength="36.75" lengthAdjust="spacingAndGlyphs">nm</text>
<text x="877.53" y="176.25" font-size="23.5" textLength="40.66" lengthAdjust="spacingAndGlyphs" fill="#a21c32">264</text>
<text x="1306.59" y="174.30" font-size="23.5" textLength="49.32" lengthAdjust="spacingAndGlyphs" fill="#a21c32">-264</text>
<text x="873.93" y="260.50" font-size="26" font-style="italic" textLength="13.56" lengthAdjust="spacingAndGlyphs">s</text>
<text x="887.49" y="260.50" font-size="26" textLength="45.20" lengthAdjust="spacingAndGlyphs">-sat</text>
<text x="1306.43" y="261.00" font-size="26" font-style="italic" textLength="13.21" lengthAdjust="spacingAndGlyphs">s</text>
<text x="1319.64" y="261.00" font-size="26" textLength="44.04" lengthAdjust="spacingAndGlyphs">-sat</text>
<path d="M102.5 653.6l.8 .5 .8 .8 .8 .1 .8 .1 .8-.5 .8 .6 .8-.4 .8-1 .8 .5 .8-.6 .8 1.6 .8 .5 .8-1.1 .8-.3 .8 .8 .8-.8 .8-.3 .8-.1 .8 .3 .1 .6 .2 .9 .3-1.3 .2 1.1 .1-.5 .2 .4 .2-.4 .3-2.3 .3-1.3 .2-3 .2-1.2 0 .6 .1 1.1 .2 1.1 .2 1 .1 1.4 .2 1.8 0-1 .1 .3 .1 .6 0 .7 .2-1.3 .1 .4 .2 .6 .1-.7 .1-1 .1-.4 0-1.2 .2-5 0-1.2 .2-8.1 .3-11.1 .2-2.7 .1-.5 .2 7.3 .2 11.6 .1 2.2 .2 6.1 .3 3 .2-.4 .1 .6 .1-.9 .3-5.6 .3-10.2 .1-7.8 .1-4.3 .2-3.8 0-.6 .3 8.6 .2 10.3 .1 1 .2 9.3 .1 2.1 .1 .6 .2 .2 .1 1.4 .1-.3 .2 .1 0 .6 .2-.1 .1-.1 .1-1.4 .1-1.1 .1-1.6 .2-7.1 .2-13.3 .3-14.1 .2-4.5 .1-.5 .2 10.3 .2 16.6 .1 2 .2 8.7 .1 2.5 .2 2.4 0 .5 .2 .7 .1 .6 .1-.9 .2 1 .1 .3 .1-1.7 .2-.9 0-.9 .1-1 .2-4.3 .3-8.4 .2-11.1 .1-3 .1 .8 0-.4 .3 7.3 .3 10.9 .1 4.9 .1 2.7 .2 3 .1 1 .2 .3 .1-.2 .1 .2 .1 .4 0 1.2 .2-.2 0 .7 .2-1 .1-.6 .2 .5 .1-1 .2 .2 .2-3.1 .3-3.1 .2-1 .1 .1 .2 3.2 .2 3.2 .1-.3 .2 .7 .3 .1 .2 .3 .1 .4 .1 .9 .3 .3 .3 .5 .1 .1 .8-.8 .8 .4 .8-.3 .8 .5 .8-.9 .8 1.3 .8-1.4 .8 .7 .8-.3 .8 .9 .8-1.1 .8 1.2 .8-1.4 .8 1.1 .8 .3 .8-.3 .8-.7 .8 .2 .8 .2 .8-.4 .8-.2 .8 1.4 .8-.2 .8-.6 .8 .6 .8 .2 .8-1 .8 .7 .8 .2 .8-.9 .8 .2 .8 1.2 .8-.2 .8-.8 .8 .2 .8 .2 .8 .5 .8 .5 .8-1.3 .8-.5 .8 .7 .8-.7 .8 .1 .8 0 .8 0 .8 1.1 .8-.8 .8 .8 .8 1 .8-1.3 .8 .9 .8-.1 .8-.8 .8 1.3 .8 0 .8-.7 .8 .9 .8-1.3 .8 1 .8 .4 .8-1.3 .8 1.2 .8 .1 .8 .4 .8-1.2 .8 .6 .8 .3 .8-.8 .8-.8 .8-.3 .8 .9 .8 .4 .8-.7 .8 .8 .8-.9 .8 .7 .8 .2 .8-.5 .8-.4 .8 1.6 .8 .4 .8-.4 .8-1.2 .8 .6 .8 1.1 .8 0 .8-.2 .8-1.3 .8 .7 .8-.5 .8 1.4 .8-1.5 .8 0 .8 1.3 .8-1.1 .8 .1 .8 0 .8 1.2 .8 0 .8 .5 .8-1.3 .8-.6 .8 .4 .8 1 .8 0 .8 .6 .8-.2 .8-1.3 .8 .1 .8-.2 .8 .1 .8 .9 .8-.2 .8 .5 .8-1.2 .8 1.4 .8-1.1 .8 .8 .8 .5 .8-1.4 .8 .5 .8 1.1 .8-1.6 .8 .5 .8 0 .8-.1 .8-.4 .8-.1 .8 .2 .8-.1 .8 .2 .8 1.2 .8 .5 .8-1.2 .8-.8 .8 .2 .8 1.3 .8-1 .8 .7 .8-.9 .8 .2 .8-.3 .8 .9 .8-.3 .8 .8 .8-.3 .8-.3 .8-.8 .8 1.3 .8-1.1 .8 .6 .8 1.1 .8 0 .8-.9 .8 .9 .8-1.1 .8 .4 .8 .1 .8 .3 .8-.7 .8 0 .8-.2 .8 1.2 .8 0 .8-.8 .8 .6 .8-.1 .8-.7 .8 .2 .8-.7 .8 .1 .8-.3 .8 0 .8 1 .8 .8 .8 .2 .8-1.1 .8 1.1 .8-.9 .8 .5 .8-.1 .8-.2 .8 .4 .8 .5 .8-.2 .8-.5 .8 .6 .8 0 .8-.8 .8 1 .8-.8 .8-1 .8 1.6 .8 .4 .8-.7 .8 .3 .8-.1 .8-1.1 .8 1 .8 0 .8 .7 .8-.8 .8-.6 .8 .8 .8-.2 .8 .6 .8-1.5 .8 .9 .8 .7 .8-1.2 .8-.6 .8 .7 .8 .5 .8 .1 .8-.1 .8-.4 .8 .6 .8 .8 .8-.8 .8-.4 .8 1 .8-1.2 .8 .4 .8 .6 .8 .2 .8-.1 .8-.1 .8-.5 .8 .9 .8-1.7 .8 .4 .8 .2 .8 .6 .8-.7 .8-.4 .8 .4 .8 .5 .8 0 .8 .7 .8-.6 .8-.7 .8 .7 .8-.3 .8-.8 .8 .5 .8-.4 .8 .9 .8 .8 .8-.1 .8 .5 .8-1.5 .8 .9 .8 .2 .8-1 .8 .2 .8-.6 .8 .2 .8 .4 .8-.1 .8 0 .8 .6 .8 .2 .8-1.1 .8 .6 .8 .6 .8-1.3 .8 1.1 .8-1.2 .8 .5 .8 .1 .8-.7 .8-.1 .8 1.2 .8-.5 .8 .4 .8-.6 .8 .8 .8 .8 .8-.1 .8-.8 .8 1 .8-.9 .8-.4 .8 .2 .8 1.1 .8-.8 .8-.4 .8 .4 .8 .3 .8 .3 .8 0 .8 0 .8-.5 .8-.1 .8 1 .8-.6 .8 .3 .8-.7 .8-.8 .8 .5 .8 .4 .8-.1 .8-.4 .8-.2 .8-.3 .8 1.2 .8 .1 .8 .5 .8 .3 .8-.1 .8 .1 .8 .2 .8 .1 .8-.1 .8 .1 .8-1.1 .8 1 .8 .1 .8-.1 .8 .1 .8-.2 .8-.4 .8-.2 .8 .7 .8-1 .8 .4 .8 .7 .8-1.1 .8-.5 .8 .1 .8 .3 .8 .2 .8-.4 .8-.2 .8-.2 .8 .6 .8-.5 .8 .3 .8-.3 .8 .9 .8 .2 .8-.7 .8 1.3 .8-1 .8 .9 .8-.9 .8 .3 .8 .1 .8 0 .8-.4 .8 .7 .8-.1 .8-.1 .8-.2 .8-.5 .8 .1 .8 .7 .8 .2 .8 .6 .8-.3 .8 .4 .8-1.2 .8-.5 .8 1.4 .8-.8 .8 .1 .8 .6 .8-1.3 .8-.4 .8 .6 .8-.4 .8-.4 .8 1.2 .8 .1 .8-.2 .8 .3 .8-.6 .8 .1 .8-.2 .8 .6 .8-.2 .8 .2 .8 0 .8 .1 .8-1.1 .8 1.2 .8 .6 .8-1.5 .8 .9 .8 0 .8 .3 .8-1.4 .8-.3 .8 .9 .8 .3 .8-.8 .8 1.1 .8-1 .8 1.3 .8 .1 .8 0 .8 .2 .8-1 .8 .3 .8-1.1 .8 1.1 .8-.7 .8-.5 .8 1.2 .8-1 .8 .9 .8 .9 .8-.6 .8-.1 .8 .3 .8 .1 .8-.4 .8-1.1 .8 1.6 .8 0 .8-.5 .8 .2 .8-.8 .8-.2 .8-.5 .8 .6 .8 .5 .8-.8 .8 0 .8 .4 .8-.7 .8 1.4 .8-.8 .8 1.2 .8-.3 .8-.6 .8-.7 .8 1 .8-.9 .8 .3 .8 1.4 .8 .1 .8-.2 .8-.3 .8 0 .8 .2 .8 .4 .8-1.5 .8 1.2 .8 .5 .8-.6 .8-.7 .8-.8 .8 .4 .8-.5 .8 1.1 .8 .2 .8 .3 .8 .4 .8-1 .8 .6 .8 .1 .8-.3 .8-1.1 .8 1.3 .8-.2 .8-.3 .8 .8 .8-1.3 .8-.5 .8 1.1 .8 .4 .8-.2 .8 0 .8 .4 .8 .2 .8-.3 .8 .1 .8-.4 .8-.8 .8 1 .8-1.2 .8-.1 .8 .8 .8-.2 .8 1 .8-.8 .8 .1 .8-.6 .8 1.2 .8-.7 .8 .6 .8 .2 .8-.5 .8-.9 .8 1.5 .8-1.4 .8 1.1 .8-.9 .8 .2 .8 .1 .8 0 .8 .4 .8 .2 .8 .1 .8-1.2 .8 .3 .8-.3 .8 1.5 .8-.4 .8 .7 .8-1.3 .8 .6 .8-.2 .8-.4 .8-.4 .8 .7 .8 .8 .8-.6 .8-.1 .8 .9 .8-1.2 .8-.1 .8 1 .8-1.3 .8-.5 .8 1.2 .8-.1 .8 .9 .8-.4 .8-.7 .8 .5 .8-.2 .8 .2 .8-.7 .8-.5 .8 1.5 .8 .4 .8-1.3 .8-.5 .8 1.3 .8 .2 .8-.5 .8 .7 .8 .1 .8 .1 .8 .2 .8-.2 .8-1.6 .8 .8 .8-.9 .8 1.4 .8 .2 .8-.3 .8-.5 .8 .4 .8-.7 .8 .6 .8 .8 .8-1.7 .8 .2 .8 .9 .8-.9 .8 0 .8 1 .8-.2 .8-.7 .8 .1 .8-.1 .8 .3 .8 1.1 .8-1.2 .8-.2 .8 1.1 .8-.5 .8 .2 .8 .5 .8-1.4 .8-.3 .8-.1 .8 0 .8-.2 .8 .3 .8 1.4 .8 .4 .8-.3 .8-.4 .8 .4 .8 .5 .8-1.2 .8 .5 .8-1 .8 .2 .8 .4 .8 .3 .8-.8 .8 .2 .8-.4 .8 .2 .8 1 .8-.8 .8-.1 .8 .5 .8-.6 .8 1.2 .8-.8 .8-.3 .8 0 .8 .3 .8 0 .8 0 .8 0 .8-.5 .8-.4 .8 1.5 .8 .3 .8-.1 .8-.6 .8 .6 .3-1.6 .2-.7 .3 1.3 .3-.7 .2-1.2 .2-4 .1-1.1 .2-9.4 .3-20.1 .2-22.9 .1-5.2 .1-2.2 0 .8 .3 15.4 .3 22.1 .1 11.4 .1 6 .2 7.7 .3 2 .2 .8 .1 .7 .2-.8 .2 0 .3 .1 .8-.1 .8 .9 .8 .3 .8 .9 .8-.6 .8-.7 .8-.5 .8 .9 .8-.7 .8-.2 .8 .6 .8 .9 .8-.8 .8-.3 .8-.5 .8 1.7 .8 .2 .8-.5 .8-1.1 .8 1.5 .8-.3 .8 .2 .8-.1 .8-.2 .8-.4 .8 .6 .8-1.1 .8 0 .8 .6 .8 0 .8 0 .8 .2 .8-.9 .8-.1 .8-.4 .8 1.2 .8 .4 .8-1.2 .8 0 .8 .3 .8 1 .8 .2 .8-1 .8 .2 .8 .3 .8 .6 .8-1.1 .8-.3 .8 1.1 .8 .2 .8-.8 .8-.3 .8 .3 .8-.7 .8 .9 .8 .7 .8-1 .8 1 .8 .3 .8-1.5 .8 1 .8 .3 .8-.3 .8-.8 .8 .3 .8 1 .8-.4 .8 .6 .8-.1 .8-.4 .8 .3 .8-.6 .8-.9" fill="none" stroke="#2c6fb8" stroke-width="2.2" stroke-linejoin="round"/>
<path d="M102.5 653.6l.8 .5 .8 .8 .8 .1 .8 .1 .8-.5 .8 .6 .8-.4 .8-1 .8 .5 .8-.6 .8 1.6 .8 .5 .8-1.1 .8-.3 .8 .8 .8-.8 .8-.3 .8-.1 .8 .4 .8 1.4 .8-1.2 .7-.1 .8 .3 .8 .8 .9-.8 .7 .8 .8-.7 .8 1.1 .7-.6 .7-.7 .8 .9 .8-1.2 .8 .6 .8 .8 .7 .5 .9-.9 .7 .1 .7-.7 .8 1.1 .8 .5 .8-1.4 .7 .2 .7 .5 1.5 0 .8 .4 .8-.4 .8 .5 .8-.9 .8 1.3 .8-1.4 .8 .7 .8-.3 .8 .9 .8-1.1 .8 1.2 .8-1.4 .8 1.1 .8 .3 .8-.3 .8-.7 .8 .2 .8 .2 .8-.4 .8-.2 .8 1.4 .8-.2 .8-.6 .8 .6 .8 .2 .8-1 .8 .7 .8 .2 .8-.9 .8 .2 .8 1.2 .8-.2 .8-.8 .8 .2 .8 .2 .8 .5 .8 .5 .8-1.3 .8-.5 .8 .7 .8-.7 .8 .1 .8 0 .8 0 .8 1.1 .8-.8 .8 .8 .8 1 .8-1.3 .8 .9 .8-.1 .8-.8 .8 1.3 .8 0 .8-.7 .8 .9 .8-1.3 .8 1 .8 .4 .8-1.3 .8 1.2 .8 .1 .8 .4 .8-1.2 .8 .6 .8 .3 .8-.8 .8-.8 .8-.3 .8 .9 .8 .4 .8-.7 .8 .8 .8-.9 .8 .7 .8 .2 .8-.5 .8-.4 .8 1.6 .8 .4 .8-.4 .8-1.2 .8 .6 .8 1.1 .8 0 .8-.2 .8-1.3 .8 .7 .8-.5 .8 1.4 .8-1.5 .8 0 .8 1.3 .8-1.1 .8 .1 .8 0 .8 1.2 .8 0 .8 .5 .8-1.3 .8-.6 .8 .4 .8 1 .8 0 .8 .6 .8-.2 .8-1.3 .8 .1 .8-.2 .8 .1 .8 .9 .8-.2 .8 .5 .8-1.2 .8 1.4 .8-1.1 .8 .8 .8 .5 .8-1.4 .8 .5 .8 1.1 .8-1.6 .8 .5 .8 0 .8-.1 .8-.4 .8-.1 .8 .2 .8-.1 .8 .2 .8 1.2 .8 .5 .8-1.2 .8-.8 .8 .2 .8 1.3 .8-1 .8 .7 .8-.9 .8 .2 .8-.3 .8 .9 .8-.3 .8 .8 .8-.3 .8-.3 .8-.8 .8 1.3 .8-1.1 .8 .6 .8 1.1 .8 0 .8-.9 .8 .9 .8-1.1 .8 .4 .8 .1 .8 .3 .8-.7 .8 0 .8-.2 .8 1.2 .8 0 .8-.8 .8 .6 .8-.1 .8-.7 .8 .2 .8-.7 .8 .1 .8-.3 .8 0 .8 1 .8 .8 .8 .2 .8-1.1 .8 1.1 .8-.9 .8 .5 .8-.1 .8-.2 .8 .4 .8 .5 .8-.2 .8-.5 .8 .6 .8 0 .8-.8 .8 1 .8-.8 .8-1 .8 1.6 .8 .4 .8-.7 .8 .3 .8-.1 .8-1.1 .8 1 .8 0 .8 .7 .8-.8 .8-.6 .8 .8 .8-.2 .8 .6 .8-1.5 .8 .9 .8 .7 .8-1.2 .8-.6 .8 .7 .8 .5 .8 .1 .8-.1 .8-.4 .8 .6 .8 .8 .8-.8 .8-.4 .8 1 .8-1.2 .8 .4 .8 .6 .8 .2 .8-.1 .8-.1 .8-.5 .8 .9 .8-1.7 .8 .4 .8 .2 .8 .6 .8-.7 .8-.4 .8 .4 .8 .5 .8 0 .8 .7 .8-.6 .8-.7 .8 .7 .8-.3 .8-.8 .8 .5 .8-.4 .8 .9 .8 .8 .8-.1 .8 .5 .8-1.5 .8 .9 .8 .2 .8-1 .8 .2 .8-.6 .8 .2 .8 .4 .8-.1 .8 0 .8 .6 .8 .2 .8-1.1 .8 .6 .8 .6 .8-1.3 .8 1.1 .8-1.2 .8 .5 .8 .1 .8-.7 .8-.1 .8 1.2 .8-.5 .8 .4 .8-.6 .8 .8 .8 .8 .8-.1 .8-.8 .8 1 .8-.9 .8-.4 .8 .2 .8 1.1 .8-.8 .8-.4 .8 .4 .8 .3 .8 .3 .8 0 .8 0 .8-.5 .8-.1 .8 1 .8-.6 .8 .3 .8-.7 .8-.8 .8 .5 .8 .4 .8-.1 .8-.4 .8-.2 .8-.3 .8 1.2 .8 .1 .8 .5 .8 .3 .8-.1 .8 .1 .8 .2 .8 .1 .8-.1 .8 .1 .8-1.1 .8 1 .8 .1 .8-.1 .8 .1 .8-.2 .8-.4 .8-.2 .8 .7 .8-1 .8 .4 .8 .7 .8-1.1 .8-.5 .8 .1 .8 .3 .8 .2 .8-.4 .8-.2 .8-.2 .8 .6 .8-.5 .8 .3 .8-.3 .8 .9 .8 .2 .8-.7 .8 1.3 .8-1 .8 .9 .8-.9 .8 .3 .8 .1 .8 0 .8-.4 .8 .7 .8-.1 .8-.1 .8-.2 .8-.5 .8 .1 .8 .7 .8 .2 .8 .6 .8-.3 .8 .4 .8-1.2 .8-.5 .8 1.4 .8-.8 .8 .1 .8 .6 .8-1.3 .8-.4 .8 .6 .8-.4 .8-.4 .8 1.2 .8 .1 .8-.2 .8 .3 .8-.6 .8 .1 .8-.2 .8 .6 .8-.2 .8 .2 .8 0 .8 .1 .8-1.1 .8 1.2 .8 .6 .8-1.5 .8 .9 .8 0 .8 .3 .8-1.4 .8-.3 .8 .9 .8 .3 .8-.8 .8 1.1 .8-1 .8 1.3 .8 .1 .8 0 .8 .2 .8-1 .8 .3 .8-1.1 .8 1.1 .8-.7 .8-.5 .8 1.2 .8-1 .8 .9 .8 .9 .8-.6 .8-.1 .8 .3 .8 .1 .8-.4 .8-1.1 .8 1.6 .8 0 .8-.5 .8 .2 .8-.8 .8-.2 .8-.5 .8 .6 .8 .5 .8-.8 .8 0 .8 .4 .8-.7 .8 1.4 .8-.8 .8 1.2 .8-.3 .8-.6 .8-.7 .8 1 .8-.9 .8 .3 .8 1.4 .8 .1 .8-.2 .8-.3 .8 0 .8 .2 .8 .4 .8-1.5 .8 1.2 .8 .5 .8-.6 .8-.7 .8-.8 .8 .4 .8-.5 .8 1.1 .8 .2 .8 .3 .8 .4 .8-1 .8 .6 .8 .1 .8-.3 .8-1.1 .8 1.3 .8-.2 .8-.3 .8 .8 .8-1.3 .8-.5 .8 1.1 .8 .4 .8-.2 .8 0 .8 .4 .8 .2 .8-.3 .8 .1 .8-.4 .8-.8 .8 1 .8-1.2 .8-.1 .8 .8 .8-.2 .8 1 .8-.8 .8 .1 .8-.6 .8 1.2 .8-.7 .8 .6 .8 .2 .8-.5 .8-.9 .8 1.5 .8-1.4 .8 1.1 .8-.9 .8 .2 .8 .1 .8 0 .8 .4 .8 .2 .8 .1 .8-1.2 .8 .3 .8-.3 .8 1.5 .8-.4 .8 .7 .8-1.3 .8 .6 .8-.2 .8-.4 .8-.4 .8 .7 .8 .8 .8-.6 .8-.1 .8 .9 .8-1.2 .8-.1 .8 1 .8-1.3 .8-.5 .8 1.2 .8-.1 .8 .9 .8-.4 .8-.7 .8 .5 .8-.2 .8 .2 .8-.7 .8-.5 .8 1.5 .8 .4 .8-1.3 .8-.5 .8 1.3 .8 .2 .8-.5 .8 .7 .8 .1 .8 .1 .8 .2 .8-.2 .8-1.6 .8 .8 .8-.9 .8 1.4 .8 .2 .8-.3 .8-.5 .8 .4 .8-.7 .8 .6 .8 .8 .8-1.7 .8 .2 .8 .9 .8-.9 .8 0 .8 1 .8-.2 .8-.7 .8 .1 .8-.1 .8 .3 .8 1.1 .8-1.2 .8-.2 .8 1.1 .8-.5 .8 .2 .8 .5 .8-1.4 .8-.3 .8-.1 .8 0 .8-.2 .8 .3 .8 1.4 .8 .4 .8-.3 .8-.4 .8 .4 .8 .5 .8-1.2 .8 .5 .8-1 .8 .2 .8 .4 .8 .3 .8-.8 .8 .2 .8-.4 .8 .2 .8 1 .8-.8 .8-.1 .8 .5 .8-.6 .8 1.2 .8-.8 .8-.3 .8 0 .8 .3 .8 0 .8 0 .8 0 .8-.5 .8-.3 .8 1.4 .8 .4 .8 0 .8-.6 .8 .8 .8-.4 .7-.4 .8 .1 .8-.7 .7 .5 .7-.6 1.1-.3 .8 .8 .8 .3 .8 .8 .8-.6 .8-.8 .8-.5 .8 .9 .8-.7 .8-.2 .8 .6 .8 .9 .8-.8 .8-.3 .8-.5 .8 1.7 .8 .2 .8-.5 .8-1.1 .8 1.5 .8-.3 .8 .2 .8-.1 .8-.2 .8-.4 .8 .6 .8-1.1 .8 0 .8 .6 .8 0 .8 0 .8 .2 .8-.9 .8-.1 .8-.4 .8 1.2 .8 .4 .8-1.2 .8 0 .8 .3 .8 1 .8 .2 .8-1 .8 .2 .8 .3 .8 .6 .8-1.1 .8-.3 .8 1.1 .8 .2 .8-.8 .8-.3 .8 .3 .8-.7 .8 .9 .8 .7 .8-1 .8 1 .8 .3 .8-1.5 .8 1 .8 .3 .8-.3 .8-.8 .8 .3 .8 1 .8-.4 .8 .6 .8-.1 .8-.4 .8 .3 .8-.6 .8-.9" fill="none" stroke="#152040" stroke-width="1.3" stroke-linejoin="round"/>
<path d="M119.6 651.5l.2-3 .2-1.2 0 .6 .1 1.1 .2 1.1 .2 1" fill="none" stroke="#152040" stroke-width="0.6" stroke-opacity="0.7"/>
<path d="M121.8 651.3l.2-5 0-1.2 .2-8.1 .3-11.1 .2-2.7 .1-.5 .2 7.3 .2 11.6 .1 2.2 .2 6.1" fill="none" stroke="#152040" stroke-width="0.6" stroke-opacity="0.7"/>
<path d="M124.5 646.6l.3-10.2 .1-7.8 .1-4.3 .2-3.8 0-.6 .3 8.6 .2 10.3 .1 1 .2 9.3 .1 2.1 .1 .6 .2 .2" fill="none" stroke="#152040" stroke-width="0.6" stroke-opacity="0.7"/>
<path d="M127.2 652.2l.1-1.1 .1-1.6 .2-7.1 .2-13.3 .3-14.1 .2-4.5 .1-.5 .2 10.3 .2 16.6 .1 2 .2 8.7 .1 2.5" fill="none" stroke="#152040" stroke-width="0.6" stroke-opacity="0.7"/>
<path d="M130.4 652.1l0-.9 .1-1 .2-4.3 .3-8.4 .2-11.1 .1-3 .1 .8 0-.4 .3 7.3 .3 10.9 .1 4.9 .1 2.7" fill="none" stroke="#152040" stroke-width="0.6" stroke-opacity="0.7"/>
<path d="M134.2 651l.3-3.1 .2-1 .1 .1 .2 3.2" fill="none" stroke="#152040" stroke-width="0.6" stroke-opacity="0.7"/>
<path d="M633.6 657.4l.1-1.1 .2-9.4 .3-20.1 .2-22.9 .1-5.2 .1-2.2 0 .8 .3 15.4 .3 22.1 .1 11.4 .1 6 .2 7.7" fill="none" stroke="#152040" stroke-width="0.6" stroke-opacity="0.7"/>
<path d="M102.5 677.9l.8-.7 .8 1.4 .8 .3 .8-.8 .8 .2 .8-.9 .8-.2 .8 .1 .8 .8 .8-.6 .8 1.3 .8-1.4 .8-.2 .8-.2 .8 1.3 .8-.4 .8 .1 .8-.2 .8 .5 .8-.2 .8-.5 .8 .3 .8-.1 .8-.4 .8 1.3 .8 .1 .8 0 .8 .5 .8-.8 .8-.3 .8 0 .8 0 .8 .6 .8-1.2 .8 .6 .8 .3 .8-.2 .8-.7 .8 1.1 .8-1 .8 .8 .8-.5 .8-.4 .8 .2 .8-.2 .8 .1 .8 1.2 .8 .4 .8-.6 .8 .4 .8-.2 .8 0 .8 .8 .8-.9 .8 .9 .8-.1 .8 0 .8-1.4 .8-.2 .8-.2 .8 .6 .8 1.4 .8 .3 .8 .1 .8-1.4 .8 .7 .8 .4 .8 .2 .8 0 .8-1.2 .8-.3 .8 1.1 .8 .3 .8 .4 .8-.8 .8 .7 .8-1.3 .8 1.3 .8 .2 .8-1 .8-.8 .8 .7 .8 .5 .8-.5 .8-.7 .8 .2 .8 1.1 .1-1.2 .2 1.4 .3-1.1 .2-.4 .1-.3 .2 1.3 .2-.5 .3-3.6 .3-5.4 .2-4.3 .2-1.1 0-1.4 .1 1.1 .2 3.8 .3 4.8 .2 3.8 .1 1.4 .1-.2 .2 0 .1 .9 .1 0 .2 0 0-.5 .1 1 .1-1.2 .1 .2 .1-.4 .2-2 .2-6.8 .1-3.9 .1-7.6 .3-12.3 .2-4.2 .1 .7 .1 4.1 .1 4.7 .2 13.4 .3 9.3 .2 3.7 .1-.1 .2 1.7 .2 .2 .3-.7 .3 .5 .2-.7 .2-1 .1-.3 .2-4.7 .3-8.3 .2-9.3 .1-2.6 .1-1.5 0 .1 .3 8.2 .3 9.8 .1 4.1 .1 2.5 .2 2.4 .3 1.6 .2 .9 .1-.1 0-.7 .2 .9 0 .1 .2-1.7 .1 .1 .2 0 .1-.4 .2-.2 .2-3.6 .3-6.7 .3-14.1 .2-17.7 .2-4.7 0-.2 .1 1.6 .2 10.3 .3 17.5 .2 11.9 .1 1.8 .1 3.1 .3 .7 .2 1.3 .1-.3 .1-.3 .1-.2 0 0 .2 1.2 0-1.1 .2-.1 .3-.5 .3-1.5 .2-3 .2-7.8 .1-1.7 .2-6.3 .2-3.7 .1-.9 .2 6 .1 4.3 .1 6 .3 7.1 .3 2.2 .1 0 .1 .7 .2 1.1 .3-.8 .2 .9 .1 .2 .2-.8 .2-1.1 .3-3 .3-4.4 .2-4.8 .2-.5 0 .6 .1 1 .2 2.3 .3 5.5 .2 2.5 .1-.1 .1 .4 .3 .8 .3 .8 .1 1.1 .1-1 .2-.4 .5 .9 .8-.3 .8 .2 .8-.7 .1 1.2 .2 .5 .3-.2 .2 .3 .1-1.1 .2-1 .2 0 .3 .7 .3-1.7 .2-1.9 .2-.8 0 0 .1 .6 .2 2 .3 1.6 .2 .7 .1 .2 .1-.9 .3 1 .3-.8 .1 .3 .1-.9 .2 1.5 .5-1.1 .8 .7 .8 .3 .8 .1 .8 .1 .8-.5 .8 .7 .8 .5 .8-.5 .8 .6 .8-.1 .8-1.6 .8 .8 .8-.9 .8 .9 .8-.3 .8 .9 .8-1.4 .8 1.5 .8-1.4 .8-.4 .8-.2 .8 .2 .8 1.8 .8 .3 .8 .2 .8-1.3 .8 .6 .8 .4 .8 0 .8-.9 .8 1.1 .8-.1 .8-.1 .8-.8 .8 0 .8 .7 .8-.2 .8-.1 .8 .8 .8-.7 .8 .6 .8-1.4 .8 .6 .8 .6 .8-1.3 .8 1 .8-.5 .8 .6 .8 .2 .8-.9 .8 1.3 .8-1 .8-.4 .8 .4 .8-.6 .8-.1 .8 1.4 .8-1 .8 .7 .8 .9 .8-.6 .8 .5 .8 .3 .8-1.3 .8-.5 .8 1.2 .8 .6 .8 .2 .8-.3 .8-.4 .8 .8 .8-.2 .8 0 .8 .3 .8-1.6 .8 .9 .8 0 .8-1.2 .8 .2 .8 1 .8-.1 .8 .1 .8-.6 .8 .5 .8 .7 .8 .5 .8-.7 .8 .1 .8-1.2 .8-.2 .8 .7 .8 .8 .8-1.1 .8-.3 .8 .6 .8-.2 .8-.3 .8-.1 .8 .5 .8 .9 .8-.9 .8 1 .8-1.2 .8 .1 .8 .8 .8-1 .8 .3 .8-.2 .8 .1 .8 1.3 .8-1 .8 .8 .8 .7 .8-1.1 .8 .9 .8-.8 .8 .7 .8-.2 .8-.5 .8 .9 .8 0 .8-.8 .8 .3 .8-.5 .8-.1 .8 1.3 .8 .4 .8-1.4 .8 1.1 .8-.1 .8-1.4 .8-.2 .8 .6 .8 1.1 .8 .3 .8-1.1 .8 0 .8 1 .8-1.1 .8-.5 .8 .4 .8 .7 .8 .6 .8 .2 .8-1.6 .8-.2 .8-.1 .8 .9 .8-.1 .8 1.1 .8-.3 .8-.1 .8 .1 .8-.9 .8 1.1 .8 .3 .8 .1 .8-.1 .8-1.2 .8-.6 .8 .4 .8 .9 .8-.8 .8 1.2 .8 .3 .8-.2 .8-.5 .8-.8 .8 1.1 .8-.9 .8 .4 .8 .6 .8 0 .8-.8 .8 1.1 .8-.8 .8 0 .8 0 .8 .6 .8-1.2 .8 .9 .8 0 .8 .6 .8-.7 .8 .3 .8 .8 .8-1.5 .8 1 .8-.3 .8-.4 .8-.2 .8-.1 .8 1.2 .8-.9 .8 1.2 .8-.5 .8-.6 .8 .9 .8-.2 .8 .6 .8-1.3 .8 .8 .8-1.1 .8 0 .8 .4 .8 0 .8-.1 .8 .6 .8 .5 .8-.4 .8 0 .8 .6 .8-.9 .8 1.2 .8-1.5 .8 .2 .8 1 .8-.8 .8-.1 .8-.3 .8 1.5 .8 .3 .8-1.5 .8 .5 .8-.6 .8-.5 .8 .3 .8 1.1 .8 0 .8-.5 .8 .5 .8-.9 .8 .3 .8-.4 .8 1.4 .8-.5 .8 .6 .8-.6 .8 0 .8 .3 .8-.5 .8 .4 .8 .6 .8-1.2 .8-.1 .8-.3 .8 .8 .8-.5 .8 .7 .8-.5 .8 .5 .8-.3 .8 .8 .8 .4 .8 .4 .8-.8 .8 .5 .8 .2 .8-1 .8 .9 .8 .3 .8-1.5 .8 .7 .8 .1 .8-.1 .8 .1 .8-.8 .8 .9 .8 0 .8-1.1 .8 1.3 .8-.1 .8-1.4 .8-.5 .8 .2 .8 1 .8 .4 .8 .6 .8 0 .8-1.3 .8-.4 .8-.4 .8 .5 .8 .2 .8 0 .8 .9 .8-.2 .8 .4 .8 .2 .8-.1 .8-.6 .8-.4 .8 .2 .8-.1 .8 .4 .8 .4 .8-.2 .8-.9 .8 .4 .8-.1 .8-.7 .8-.3 .8 .6 .8 1.2 .8-.1 .8-1.4 .8 1.3 .8 .1 .8-.3 .8-1.3 .8 .3 .8 .1 .8 .3 .8-.6 .8 .8 .8 .2 .8 .2 .8-.3 .8 0 .8-.8 .8 1.1 .8 .5 .8 .1 .8-.2 .8-1.1 .8-.2 .8-.6 .8 1.3 .8 .6 .8 .3 .8-.6 .8 .2 .8 .2 .8-1.4 .8-.5 .8 1.4 .8 .7 .8-.4 .8-.3 .8-.5 .8 .8 .8-.9 .8-.8 .8 1.3 .8-1.1 .8 1 .8 .1 .8-1 .8 .3 .8-.2 .8 1 .8 .2 .8-.8 .8-.6 .8 .2 .8 .3 .8 .4 .8 .8 .8-1 .8-.7 .8 .8 .8-.2 .8 .6 .8 0 .8-.2 .8 .4 .8-1.1 .8 .9 .8-1 .8 .3 .8 .3 .8 0 .8-.8 .8 .4 .8-.2 .8-.1 .8 .3 .8 .1 .8-.4 .8 .8 .8 .7 .8 .3 .8-1.5 .8-.3 .8 .2 .8 .5 .8 .3 .8-.1 .8-.2 .8 .9 .8 .2 .8-.2 .8-1.2 .8 .7 .8-1.3 .8 1.5 .8-.1 .8 .4 .8-.8 .8 .3 .8-.9 .8 1.1 .8-1.1 .8-.7 .8 .3 .8 .9 .8 0 .8 .5 .8-.1 .8 .2 .8 .4 .8-1.7 .8-.4 .8 .3 .8-.3 .8 .8 .8 .6 .8-1 .8 .4 .8-.4 .8-.6 .8 .4 .8 .1 .8 .8 .8 .8 .8-1.5 .8 .4 .8 0 .8 .4 .8-.9 .8 1.4 .8-1 .8 .3 .8-.2 .8 .2 .8 .7 .8-.3 .8-.6 .8 1 .8-1.3 .8 1.2 .8-.2 .8-.9 .8 1.2 .8 .1 .8-.7 .8 .4 .8-1.3 .8 0 .8 .4 .8 1 .8-.8 .8 1 .8-.5 .8 .1 .8 .2 .8-1.3 .8 1.2 .8-.3 .8-1 .8-.3 .8 1.2 .8-.1 .8 .7 .8 .1 .8-.6 .8-.4 .8 .5 .8 .6 .8-1.2 .8 .1 .8-.8 .8-.3 .8-.1 .8 .6 .8 .6 .8 .7 .8 0 .8 .4 .8-1.3 .8 .9 .8-.9 .8-.1 .8 .3 .8 1 .8-.8 .8-1 .8 .3 .8 .5 .8 .3 .8-.9 .8 0 .8-.3 .8 .6 .8 0 .8-.2 .8 .3 .8 .6 .8-.1 .8 .2 .8-.6 .8 .9 .8-1.4 .8-.5 .8-.1 .8 .8 .8-.1 .8-.3 .8-.5 .8 1.5 .8-1.1 .8 .9 .8 .9 .8-1.2 .8 .3 .8 .7 .8-.7 .5 .7 .2-1.6 .1 .6 .2 .6 .3-.4 .2 .4 .1 .3 .1-.5 .3-2 .3-2.2 .1-1.2 .1-1.4 .2-2.1 0 0 .3 2.5 .2 1.5 .1 .4 .2 3.5 .2 .4 .3 1.1 .3 0 .2-.2 .2-.8 0-.6 .1-.5 .1 .1 .3 .5 .3 .2 .1-1.1 .1 .1 .2-2.1 .3-4.5 .2-8.9 .1-1.6 .2-11.7 .2-3.4 0-.9 .3 7.5 .3 12.4 .2 8.2 .2 4.4 .1 1.3 .2 .2 .3-.4 .2-.4 .1 1 .1 0 .2-.9 .2 .6 .2 1 .1-.1 .2-.6 .3 1 .2-.1 .1-2 .1-.7 .3-.1 .2-.6 .1-.3 .1 1.3 .1 .9 .2 .2 .3 1.4 .2-.3 .1 0 .2-.2 .2 .6 .3 .3 .3-.7 .5-.2 .8 .6 .8 .3 .8-.3 .8-1.1 .8-.4 .8 .4 .8-.6 .8 .5 .8 .1 .8-.4 .8-.1 .8 1 .8 .8 .8-1.1 .8 .6 .8-.4 .8-.9 .8 1.6 .8-1.2 .8 .4 .8-.8 .8 .2 .8 .3 .8 .1 .8 .3 .8 1 .8-.4 .8-.5 .8 .7 .8-.6 .8 .3 .8-.4 .8 .5 .8-1.2 .8-.2 .8 1 .8 .4 .8-.7 .8-.8 .8 .9 .8-.7 .8 .3 .8 .9 .8 .3 .8 .1 .8-1.4 .8 .9 .8-1.2 .8 1.6 .8-.1 .8 .1 .8 .2 .8 0 .8-.2 .8 .3 .8-1.6 .8-.5 .8 1.1 .8-.8 .8 1.1 .8-.4 .8 .5 .8-1.1 .8 .5 .8 .5 .8 .2 .8-1 .8-.2 .8 1.1 .8 .2 .8-.4 .8-1.2 .8 1.1 .8 .4 .8-.1 .8 .6 .8-.5 .8 .2 .8-1.1 .8-.2 .8 1.3 .8 .4 .8-1.6" fill="none" stroke="#d95319" stroke-width="2.2" stroke-linejoin="round"/>
<path d="M102.5 677.9l.8-.7 .8 1.4 .8 .3 .8-.8 .8 .2 .8-.9 .8-.2 .8 .1 .8 .8 .8-.6 .8 1.3 .8-1.4 .8-.2 .8-.2 .8 1.3 .8-.4 .8 .1 .8-.2 .8 .5 .8-.2 .8-.5 .8 .3 .8-.1 .8-.4 .8 1.3 .8 .1 .8 0 .8 .5 .8-.8 .8-.3 .8 0 .8 0 .8 .6 .8-1.2 .8 .6 .8 .3 .8-.2 .8-.7 .8 1.1 .8-1 .8 .8 .8-.5 .8-.4 .8 .2 .8-.2 .8 .1 .8 1.2 .8 .4 .8-.6 .8 .4 .8-.2 .8 0 .8 .8 .8-.9 .8 .9 .8-.1 .8 0 .8-1.4 .8-.2 .8-.2 .8 .6 .8 1.4 .8 .3 .8 .1 .8-1.4 .8 .7 .8 .4 .8 .2 .8 0 .8-1.2 .8-.3 .8 1.1 .8 .3 .8 .4 .8-.8 .8 .7 .8-1.3 .8 1.3 .8 .2 .8-1 .8-.8 .8 .7 .8 .6 .8-.5 .8-.8 .8 .3 .8 1.2 .8-1.1 .8 .6 .7-.6 .8 .9 .8 0 .8-1 .8 .2 .7 1.1 .7-.2 .8-.6 .8 .2 .7 .9 .7-.9 .8 1.4 .8-1 .8 .8 .7-.4 .7 .1 .8-1.2 1-.2 .7 1.9 .7-.5 .8-.3 .8 1 .7-1.7 .7 1.1 .8-.2 .8-.3 .9 .4 .8-.4 .8 .3 .8-.7 .8 1.8 .8-.5 .7-1.5 .8 1.7 .8-1.2 .9-.1 .8 .6 .8 .3 .8 .1 .8 .1 .8-.5 .8 .7 .8 .5 .8-.5 .8 .6 .8-.1 .8-1.6 .8 .8 .8-.9 .8 .9 .8-.3 .8 .9 .8-1.4 .8 1.5 .8-1.4 .8-.4 .8-.2 .8 .2 .8 1.8 .8 .3 .8 .2 .8-1.3 .8 .6 .8 .4 .8 0 .8-.9 .8 1.1 .8-.1 .8-.1 .8-.8 .8 0 .8 .7 .8-.2 .8-.1 .8 .8 .8-.7 .8 .6 .8-1.4 .8 .6 .8 .6 .8-1.3 .8 1 .8-.5 .8 .6 .8 .2 .8-.9 .8 1.3 .8-1 .8-.4 .8 .4 .8-.6 .8-.1 .8 1.4 .8-1 .8 .7 .8 .9 .8-.6 .8 .5 .8 .3 .8-1.3 .8-.5 .8 1.2 .8 .6 .8 .2 .8-.3 .8-.4 .8 .8 .8-.2 .8 0 .8 .3 .8-1.6 .8 .9 .8 0 .8-1.2 .8 .2 .8 1 .8-.1 .8 .1 .8-.6 .8 .5 .8 .7 .8 .5 .8-.7 .8 .1 .8-1.2 .8-.2 .8 .7 .8 .8 .8-1.1 .8-.3 .8 .6 .8-.2 .8-.3 .8-.1 .8 .5 .8 .9 .8-.9 .8 1 .8-1.2 .8 .1 .8 .8 .8-1 .8 .3 .8-.2 .8 .1 .8 1.3 .8-1 .8 .8 .8 .7 .8-1.1 .8 .9 .8-.8 .8 .7 .8-.2 .8-.5 .8 .9 .8 0 .8-.8 .8 .3 .8-.5 .8-.1 .8 1.3 .8 .4 .8-1.4 .8 1.1 .8-.1 .8-1.4 .8-.2 .8 .6 .8 1.1 .8 .3 .8-1.1 .8 0 .8 1 .8-1.1 .8-.5 .8 .4 .8 .7 .8 .6 .8 .2 .8-1.6 .8-.2 .8-.1 .8 .9 .8-.1 .8 1.1 .8-.3 .8-.1 .8 .1 .8-.9 .8 1.1 .8 .3 .8 .1 .8-.1 .8-1.2 .8-.6 .8 .4 .8 .9 .8-.8 .8 1.2 .8 .3 .8-.2 .8-.5 .8-.8 .8 1.1 .8-.9 .8 .4 .8 .6 .8 0 .8-.8 .8 1.1 .8-.8 .8 0 .8 0 .8 .6 .8-1.2 .8 .9 .8 0 .8 .6 .8-.7 .8 .3 .8 .8 .8-1.5 .8 1 .8-.3 .8-.4 .8-.2 .8-.1 .8 1.2 .8-.9 .8 1.2 .8-.5 .8-.6 .8 .9 .8-.2 .8 .6 .8-1.3 .8 .8 .8-1.1 .8 0 .8 .4 .8 0 .8-.1 .8 .6 .8 .5 .8-.4 .8 0 .8 .6 .8-.9 .8 1.2 .8-1.5 .8 .2 .8 1 .8-.8 .8-.1 .8-.3 .8 1.5 .8 .3 .8-1.5 .8 .5 .8-.6 .8-.5 .8 .3 .8 1.1 .8 0 .8-.5 .8 .5 .8-.9 .8 .3 .8-.4 .8 1.4 .8-.5 .8 .6 .8-.6 .8 0 .8 .3 .8-.5 .8 .4 .8 .6 .8-1.2 .8-.1 .8-.3 .8 .8 .8-.5 .8 .7 .8-.5 .8 .5 .8-.3 .8 .8 .8 .4 .8 .4 .8-.8 .8 .5 .8 .2 .8-1 .8 .9 .8 .3 .8-1.5 .8 .7 .8 .1 .8-.1 .8 .1 .8-.8 .8 .9 .8 0 .8-1.1 .8 1.3 .8-.1 .8-1.4 .8-.5 .8 .2 .8 1 .8 .4 .8 .6 .8 0 .8-1.3 .8-.4 .8-.4 .8 .5 .8 .2 .8 0 .8 .9 .8-.2 .8 .4 .8 .2 .8-.1 .8-.6 .8-.4 .8 .2 .8-.1 .8 .4 .8 .4 .8-.2 .8-.9 .8 .4 .8-.1 .8-.7 .8-.3 .8 .6 .8 1.2 .8-.1 .8-1.4 .8 1.3 .8 .1 .8-.3 .8-1.3 .8 .3 .8 .1 .8 .3 .8-.6 .8 .8 .8 .2 .8 .2 .8-.3 .8 0 .8-.8 .8 1.1 .8 .5 .8 .1 .8-.2 .8-1.1 .8-.2 .8-.6 .8 1.3 .8 .6 .8 .3 .8-.6 .8 .2 .8 .2 .8-1.4 .8-.5 .8 1.4 .8 .7 .8-.4 .8-.3 .8-.5 .8 .8 .8-.9 .8-.8 .8 1.3 .8-1.1 .8 1 .8 .1 .8-1 .8 .3 .8-.2 .8 1 .8 .2 .8-.8 .8-.6 .8 .2 .8 .3 .8 .4 .8 .8 .8-1 .8-.7 .8 .8 .8-.2 .8 .6 .8 0 .8-.2 .8 .4 .8-1.1 .8 .9 .8-1 .8 .3 .8 .3 .8 0 .8-.8 .8 .4 .8-.2 .8-.1 .8 .3 .8 .1 .8-.4 .8 .8 .8 .7 .8 .3 .8-1.5 .8-.3 .8 .2 .8 .5 .8 .3 .8-.1 .8-.2 .8 .9 .8 .2 .8-.2 .8-1.2 .8 .7 .8-1.3 .8 1.5 .8-.1 .8 .4 .8-.8 .8 .3 .8-.9 .8 1.1 .8-1.1 .8-.7 .8 .3 .8 .9 .8 0 .8 .5 .8-.1 .8 .2 .8 .4 .8-1.7 .8-.4 .8 .3 .8-.3 .8 .8 .8 .6 .8-1 .8 .4 .8-.4 .8-.6 .8 .4 .8 .1 .8 .8 .8 .8 .8-1.5 .8 .4 .8 0 .8 .4 .8-.9 .8 1.4 .8-1 .8 .3 .8-.2 .8 .2 .8 .7 .8-.3 .8-.6 .8 1 .8-1.3 .8 1.2 .8-.2 .8-.9 .8 1.2 .8 .1 .8-.7 .8 .4 .8-1.3 .8 0 .8 .4 .8 1 .8-.8 .8 1 .8-.5 .8 .1 .8 .2 .8-1.3 .8 1.2 .8-.3 .8-1 .8-.3 .8 1.2 .8-.1 .8 .7 .8 .1 .8-.6 .8-.4 .8 .5 .8 .6 .8-1.2 .8 .1 .8-.8 .8-.3 .8-.1 .8 .6 .8 .6 .8 .7 .8 0 .8 .4 .8-1.3 .8 .9 .8-.9 .8-.1 .8 .3 .8 1 .8-.8 .8-1 .8 .3 .8 .5 .8 .3 .8-.9 .8 0 .8-.3 .8 .6 .8 0 .8-.2 .8 .3 .8 .6 .8-.1 .8 .2 .8-.6 .8 .9 .8-1.4 .8-.5 .8-.1 .8 .8 .8-.1 .8-.3 .8-.5 .8 1.5 .8-1.1 .8 .9 .8 .9 .8-1.2 .8 .4 .8 .6 .8-.6 .7-.8 .8 1.3 .8-.2 .7-.5 .7 .2 .8 .7 1-.7 .7 .5 .7-.8 .8-.4 .8 0 .8 0 .8 1.4 .7-.9 .7 .3 .8-.1 .8 .1 1.3 .3 .8 .3 .8-.3 .8-1.1 .8-.4 .8 .4 .8-.6 .8 .5 .8 .1 .8-.4 .8-.1 .8 1 .8 .8 .8-1.1 .8 .6 .8-.4 .8-.9 .8 1.6 .8-1.2 .8 .4 .8-.8 .8 .2 .8 .3 .8 .1 .8 .3 .8 1 .8-.4 .8-.5 .8 .7 .8-.6 .8 .3 .8-.4 .8 .5 .8-1.2 .8-.2 .8 1 .8 .4 .8-.7 .8-.8 .8 .9 .8-.7 .8 .3 .8 .9 .8 .3 .8 .1 .8-1.4 .8 .9 .8-1.2 .8 1.6 .8-.1 .8 .1 .8 .2 .8 0 .8-.2 .8 .3 .8-1.6 .8-.5 .8 1.1 .8-.8 .8 1.1 .8-.4 .8 .5 .8-1.1 .8 .5 .8 .5 .8 .2 .8-1 .8-.2 .8 1.1 .8 .2 .8-.4 .8-1.2 .8 1.1 .8 .4 .8-.1 .8 .6 .8-.5 .8 .2 .8-1.1 .8-.2 .8 1.3 .8 .4 .8-1.6" fill="none" stroke="#4a2212" stroke-width="1.3" stroke-linejoin="round"/>
<path d="M173.7 675.6l.3-5.4 .2-4.3 .2-1.1 0-1.4 .1 1.1 .2 3.8 .3 4.8" fill="none" stroke="#4a2212" stroke-width="0.6" stroke-opacity="0.7"/>
<path d="M176.6 676.1l.2-6.8 .1-3.9 .1-7.6 .3-12.3 .2-4.2 .1 .7 .1 4.1 .1 4.7 .2 13.4 .3 9.3" fill="none" stroke="#4a2212" stroke-width="0.6" stroke-opacity="0.7"/>
<path d="M180.1 676.8l.2-4.7 .3-8.3 .2-9.3 .1-2.6 .1-1.5 0 .1 .3 8.2 .3 9.8 .1 4.1 .1 2.5" fill="none" stroke="#4a2212" stroke-width="0.6" stroke-opacity="0.7"/>
<path d="M183.8 674.4l.3-6.7 .3-14.1 .2-17.7 .2-4.7 0-.2 .1 1.6 .2 10.3 .3 17.5 .2 11.9 .1 1.8" fill="none" stroke="#4a2212" stroke-width="0.6" stroke-opacity="0.7"/>
<path d="M187.6 676.4l.2-3 .2-7.8 .1-1.7 .2-6.3 .2-3.7 .1-.9 .2 6 .1 4.3 .1 6 .3 7.1" fill="none" stroke="#4a2212" stroke-width="0.6" stroke-opacity="0.7"/>
<path d="M191.3 675.8l.3-4.4 .2-4.8 .2-.5 0 .6 .1 1 .2 2.3 .3 5.5" fill="none" stroke="#4a2212" stroke-width="0.6" stroke-opacity="0.7"/>
<path d="M199 676.5l.2-.8 0 0 .1 .6" fill="none" stroke="#4a2212" stroke-width="0.6" stroke-opacity="0.7"/>
<path d="M617.6 681.6l.1-1.2 .1-1.4 .2-2.1 0 0 .3 2.5 .2 1.5 .1 .4" fill="none" stroke="#4a2212" stroke-width="0.6" stroke-opacity="0.7"/>
<path d="M621.2 681.9l.3-4.5 .2-8.9 .1-1.6 .2-11.7 .2-3.4 0-.9 .3 7.5 .3 12.4 .2 8.2" fill="none" stroke="#4a2212" stroke-width="0.6" stroke-opacity="0.7"/>
<path d="M102.5 695.2l.8 0 .8-.3 .8 .1 .8-.5 .8 .4 .8-.6 .8 .8 .8 .3 .8 .2 .8-.7 .8-.6 .8 .4 .8 .8 .8 0 .8 .4 .8-.4 .8-.2 .8 1 .8-1.2 .8-.2 .8 .7 .8 .3 .8-.2 .8 .1 .8-.1 .8 .4 .8 .6 .8 .1 .8-.3 .8-.4 .8 .8 .8-.7 .8 .2 .8 .5 .8-.1 .8-.6 .8 .5 .8-.1 .8 .6 .8-.3 .8-.3 .8 .8 .8-.6 .8-.4 .8 1 .8 .3 .8-1.4 .8-.6 .8 1.4 .8 .5 .8-.8 .8-.5 .8 .7 .8 .8 .8-1.2 .8 .1 .8 .5 .8-.7 .8 .2 .8-.4 .8 .5 .8-.3 .8-.3 .8 .5 .8-.3 .8-.1 .8 0 .8 .6 .8 0 .8 .8 .8-.3 .8-.4 .8-.2 .8 .1 .8 1 .8-.8 .8 .4 .8 .8 .8 .3 .8-.6 .8 .6 .8-.2 .8-.9 .8-.5 .8 0 .8 1.3 .8-.4 .8 .8 .8 .6 .8 0 .8-.8 .8-1.2 .8 .3 .8-.1 .8 .9 .8 .4 .8 .6 .8-.2 .8 .4 .8-.4 .8-.5 .8 .6 .8-.9 .8 .8 .8 .1 .8 .4 .8-1.5 .8-.2 .8 1.5 .8-1.1 .8 .3 .8 .4 .8-.1 .8 .8 .8 .4 .8-1.1 .8-.7 .8 1.4 .8-.5 .8-.5 .8-.4 .8-.3 .8 1.1 .8-.3 .8 .5 .8 .9 .8-.6 .8 .8 .8-1.5 .8 1 .8 .3 .8 .5 .8-1.7 .8 .5 .8 .3 .8 .2 .8-.2 .8-.4 .8 1.1 .8 .4 .8-.3 .8 .5 .8-.6 .8-1.2 .8 1 .8-.9 .8 1 .8 .2 .8-.8 .8-.4 .8-.2 .8 .2 .8 1.6 .8-.9 .8 1 .8-1.1 .8 0 .8 .4 .8-.1 .8 1.2 .8-1.1 .8 .2 .8-.5 .8-.3 .8 1.1 .8-.3 .8 .2 .8 .5 .8-1.1 .8-.3 .8 1.2 .8 1 .8-1.7 .8 .5 .8 1.2 .8 .1 .8 .3 .8-.8 .8 .7 .8-1.6 .8 .3 .8 .9 .8-.6 .8-.1 .8 0 .8-.1 .8 .8 .8 .6 .8-1.3 .8-.2 .8 1 .8 .1 .8 .2 .8-.1 .8 .4 .8 0 .8-.4 .8-.8 .8-.7 .8 1.4 .8 .4 .8 .3 .8-1.2 .8 .6 .8 .6 .8-1.3 .8-.7 .8 .1 .8 .1 .8 1 .8 .6 .8 .2 .8-.2 .8 .5 .8 .2 .8-1 .8 .7 .8-.2 .8-1 .8 .4 .8-.7 .8 .3 .8 .9 .8-1.3 .8 .6 .8 .1 .8-.3 .8-.5 .8 .7 .8-.1 .8-.5 .8 .5 .8 .7 .8-1 .8 1.2 .8-1.1 .8 .5 .8-.1 .8 1 .8 .4 .8-.2 .8-.9 .8-.2 .8 1 .8-.4 .8 .2 .8 .2 .8-.9 .8 .1 .8 1.2 .8-.9 .8 .8 .8-1.2 .8-.6 .8 .8 .8-.1 .8 .5 .8 .6 .8-1.3 .8 .5 .8 0 .8 1 .8 .2 .8 .2 .8-.2 .8-.9 .8 .3 .8 0 .8-.3 .8-.3 .8 .7 .8 .7 .8-1.1 .8-.1 .8-.4 .8 .3 .8 .2 .8-.6 .8 1 .8-.3 .8 .9 .8-.9 .8 .7 .8 .8 .8-1.4 .8 0 .8 1.2 .8-.8 .8-.3 .8-.5 .8 1.3 .8-.7 .8 1 .8-.4 .8-.8 .8 1.4 .8 .2 .8-.2 .8-.3 .8 .2 .8 .5 .8-1.4 .8-.3 .8 1 .8-.4 .8 1 .8 0 .8-.6 .8-.8 .8 .6 .8 .2 .8 0 .8 .4 .8-.4 .8 .7 .8-.4 .8-.9 .8 1 .8-1 .8 1.2 .8 .4 .8-1.3 .8-.3 .8 .9 .8-.2 .8-.3 .8 .8 .8-.7 .8-.5 .8 .7 .8 .8 .8 .5 .8-1.6 .8 .8 .8-.5 .8 1.1 .8-.8 .8-.8 .8 .2 .8 .5 .8-.6 .8 1.1 .8-.6 .8 .7 .8-.8 .8 .3 .8 .4 .8-.7 .8-.1 .8 1.1 .8-.5 .8-.3 .8 .5 .8 .3 .8 .5 .8-.5 .8 .5 .8 .2 .8 .2 .8 0 .8-.4 .8-.1 .8-.6 .8-.8 .8 1.5 .8-.6 .8-.3 .8 .3 .8 .5 .8 .4 .8-1.3 .8 .9 .8 .6 .8 .3 .8 0 .8-.8 .8 .4 .8-.5 .8 .4 .8 .4 .8-1.1 .8-.8 .8 1 .8 .6 .8 .2 .8-.9 .8-.3 .8-.7 .8 1.2 .8-.8 .8-.5 .8-.2 .8 1.6 .8-.6 .8 .6 .8-1.3 .8 .5 .8 .6 .8 .3 .8-1.1 .8 .2 .8 .8 .8 .4 .8-1.5 .8 .5 .8 .8 .8-.3 .8 .2 .8-.9 .8 .1 .8-.9 .8 1.3 .8-.1 .8-.8 .8 1.3 .8-1.1 .8-.7 .8 1.2 .8-.9 .8 .8 .8-.7 .8-.5 .8 1.3 .8 .1 .8 .1 .8 .2 .8 0 .8-1 .8 .1 .8 .4 .8 .7 .8-.3 .8-.3 .8 .5 .8 .2 .8-1.1 .8-.5 .8-.5 .8 1.6 .8-.9 .8 .5 .8 0 .8 .3 .8 .7 .8-.4 .8-1.1 .8 .2 .8-.4 .8 .2 .8 .8 .8 .1 .8-.1 .8 .5 .8 .4 .8-1.4 .8 .5 .8 0 .8-1.2 .8 1.6 .8-.7 .8 .3 .8-.8 .8 .1 .8-.5 .8 1.5 .8-1.4 .8-.4 .8 1.2 .8 .1 .8-.5 .8 1.1 .8-.2 .8-.5 .8 .3 .8 .6 .8 0 .8-1 .8 .5 .8-.9 .8 0 .8 1.3 .8-.2 .8-.7 .8 .1 .8-.2 .8 .4 .8-.2 .8-.2 .8-.1 .8 .9 .8 .1 .8-1.1 .8 0 .8 1 .8-.1 .8-.3 .8 0 .8-.9 .8 .5 .8 .5 .8-.5 .8-.2 .8 0 .8 .4 .8-.7 .8 1 .8-1.2 .8 1 .8-.2 .8-.6 .8-.1 .8-.1 .8-.2 .8 1.6 .8-.9 .8-.7 .8 .9 .8 .9 .8-1.1 .8-.4 .8 .6 .8-.4 .8 .2 .8 .2 .8 1 .8-1 .8-.3 .8 .6 .8-.1 .8 .6 .8-.8 .8 .2 .8-.2 .8 .2 .8-.2 .8-.7 .8-.3 .8 .4 .8 1.4 .8-.6 .8-.2 .8-.2 .8 .6 .8-.6 .8-.2 .8-.1 .8 .4 .8-.1 .8 .3 .8 .7 .8-1 .8 .3 .8 .8 .8-.2 .8 .1 .8 0 .8-1.3 .8 .5 .8-.4 .8-.1 .8-.5 .8 1.1 .7 .6 .1 .1 .1-.9 .3 .7 .3 0 .1-.5 .1 .2 .2-.3 .3-2.5 .2-.8 .1-.1 .2-2.6 .2 0 0 .2 .3 .1 .3 2.4 .2 .9 .2 1.2 .1-.3 .2-.2 .3 .6 .2 1 .1-.8 .1 1.3 .2-1.1 .2 .9 .2-.9 .1 .9 .2-.6 .3 0 .2-2.1 .1-1.5 .1-.7 .3-4.5 .2-1.3 .1 .1 .1 1.8 .1 1.7 .2 2.4 .3 2.7 .2 1.6 .1-1.4 .2 1.4 .2-.8 .3-.5 .1 .8 .2 0 0 0 .3 .5 .2-1.1 .1 .8 .2-.7 .2 1 .3-1.6 .3-2.6 .2-1.7 .2-.8 0-.7 .1 1.3 .2 1 .3 3 .2 1.6 .1 .5 .1 .7 .3-1 .3 .2 .1 .1 .1 .1 .1 .3 .1 .1 .2-.2 .2-.2 .1-.1 .1-.9 .3-.2 .3-.9 .1 .1 .1-.5 .2-3.6 .3-3.2 .2-.1 .1-1.1 .2 2.7 .2 3.5 .3 2.3 .3 .7 .2 1.6 .2-.4 .1-.2 .2-.9 .1-.4 .2 .8 0-.2 .3 .8 .3 .2 .2-1.4 .2-.2 .1-.3 .2-.6 .3-2.7 .2-2.5 .1-2.2 .1 .1 0 .7 .3 1.1 .3 2.7 .1 2.1 .1 .4 .2 .6 .1 1.5 .2 .4 .1-.1 .1 .4 .1-.2 0-.6 .2 .3 0 .4 .1 .1 .1-.4 .1-.4 .1 .1 .1-1 .1-1.2 0-1.3 .2-4.2 0-.9 .2-9.8 .1-2.2 .2-9.3 .1-1.9 .1-1.9 .1-.5 0 0 .2 5.7 0 1.9 .2 6.7 .1 .6 .2 5 .1 1.9 .2 3.1 0 .7 .2 3.4 0 1.9 .1 .6 .1 1.5 .1 .2 .2-.7 .1 1 0 .2 .2 .6 0-1.5 0-.3 .1-.1 .1 .4 .1 0 .2-.4 .1 .8 0 .5 .2-.5 0-2 0-.8 .1-.1 .1-2.2 .1-1.3 .2-9.4 .1-4.8 .2-17.1 0-5.8 .1-8.9 .1-8.1 0-4.3 .2-5.4 0-.5 .1 2.6 .2 11.4 .1 3.8 .1 12.9 .1 3.5 0 5.3 .2 12.1 0 1.6 .2 6.5 .1 1.4 .2 5.2 .1-.7 .2 2.4 0 1.3 .2 .6 0 .4 .1-.6 .1 .7 .1 1.2 .1-.1 .2-.1 0 .4 .2-1.2 0 .7 .1 .7 .1-1.2 .1-1.2 .1 .7 .2-.5 0-2 .2-3.9 0-.6 .2-7.3 .1-1.1 .2-8.4 .1-2 .1-2.8 .1 .1 0 .9 .2 3.9 0 .7 .1 1.1 .1 4.4 .1 .5 .2 4.6 .1 .8 .2 2.9 0 2 .1 .9 .1 1.7 0 1.3 .2 2.8 .1 .1 .2 1.6 .1-1.6 0 1.2 .1 .3 .1 0 0 .6 0-1.6 .2-.4 .1 1.6 .2 .4 .1-1.5 0 .3 .1 .8 .1-.3 0-1.3 0-.1 .2 .4 .1-1.3 .2-2.2 .1 .2 .1-3.8 .1-.6 0-1.9 .2-4.5 0-.2 .2-.8 0-.7 .1-.3 .2 2.7 .1 1 .2 1.5 0 1.5 .2 2.3 0 1.5 .2 1.7 .1 .4 .2 .9 .1 .9 .2 .6 0 .2 .2 1.3 0 1 .1 .5 .1 .1 .1-.7 .3-.2 .2 .4 .1-.5 .1-.9 .2 1.2 .2 .8 .2 .1 .1-.5 .2 0 .3-1.6 .2-1.7 .1 .3 .1-2 .3-3.6 .2-.4 .1 .4 .1 1.4 .1-.4 .2 3 .3 2.6 .2 1.6 .1 .6 .2-1.3 .2 .1 .3 .2 .1 1 .2-.2 0-.7 .3 .3 .2-.7 .1 1.1 .2-.7 .2-.4 .3-1 .3-3.2 .2-4.1 .2-.8 0-.5 .1 .8 .2 3.2 .3 3.2 .2 2.7 .1-1 .1 1.1 .3 .7 .3-.5 .1 .6 .1-1.2 .1 1.2 .1 .5 .2-1.4 .2-.7 .1 1.4 .1-.2 .3 .6 .3-1.1 .1-1.5 .1-.9 .2-1.9 .3-3.3 .2 .2 .1 0 .2 1.6 .2 3.4 .3 2.1 .3 .2 .2 .5 .2-.3 .1-.8 .2-.1 .1 .2 .2-.3 0 1.5 .3-.3 .3-.6 .2-.7 .2 .4 .1-.4 .2-.7 .3-3.5 .2-4.8 .1 .5 .1-.1 0-.8 .3 3 .3 3.6 .1 .7 .1 .8 .2 1.4 .3 .9 .2 .1 .1 .2 .2-1 .1 .4 .1-.4 .2 .4 .1 1.3 .1-1.4 .2-.6 .3 .5 .2-.3 .1-.7 .2-.3 .2-2.7 .3-3.2 .2-1.4 .1-.3 .2 2.3 .2 2.7 .1 0 .2 3.6 .3 1.5 .2-.8 .1 .2 .1-.7 .3 1.2 .1 .5 .2 .4 0-1.7 .1 1.2 .2-1.3 .3 .8 .2 .6 .1-1.5 .1 .1 .3-.7 .3-2.2 .1-1.5 .1-1.2 .2-1.3 0 0 .3 2.2 .2 2.3 .1 .3 .2 2.3 .2-.2 .3 0 .3 .2 .2-.2 .1 .8 .1-1.2 .1 1.6 .1-1.2 .2 .7 .2 .3 .3-.9 .3-1.1 .2 .6 .2-1.7 .1-1.2 .2-2.5 .2-.5 .1 .4 .2 .6 .1 1.7 .1 1.8 .3 .8 .3 .8 .1 .2 .1-.1 .2 .3 .3-.5 .1 .3 .1 1.1 .1-.1 0-.4 .3-.8 .3 .2 .1 .7 .1-.3 .2 .2 .3-1 .2-1.8 .1-.2 .2-2.3 .2-1.1 0 1.2 .3 1.2 .3 1.4 .2 .6 .2 1.3 .1-.1 .2 1.3 .3 .5 .2-.3 .1-1.5 .1 .8 .2-.7 .2 .5 .2 .6 .1-1.3 .2 1.3 .3-.5 .2-2.4 .1-1.1 .1-2.5 .3-2.6 .2-.6 .1-.8 .1 1.5 .1 0 .2 3.3 .3 4.1 .2 0 .1 .9 .2 .6 .2-1.1 .3 1.2 .3-.2 .5-.1 .8 .4 .8-.5 .8 .8 .8-.4 .8 .3 .8-.6 .8-.2 .8-.2 .8-.4 .8 1.2 .8-.1 .8 .6 .8-.4 .8 .1 .8-.3 .8-.3 .8 .6 .8-1.2 .8 .6 .8-1.1 .8 0 .8 1.6 .8-1.4 .8 1.2 .8 .7 .8-.4 .8 .5 .8-1.6 .8 .7 .8 0 .8-.2 .8-1 .8-.3 .8 1.4 .8-.8 .8 .7 .8-.8 .8 .7 .8-.9 .8 1.5 .8-.1 .8-.9 .8 1.2 .8-1.3 .8 .3 .8 .2 .8-.8 .8 .9 .8-.6 .8 .9 .8 .6 .8 .1 .8-1.6 .8 .2 .8 .5 .8-1.1 .8-.4 .8 1.4 .8 .2 .8-.9 .8 .8 .8 .4 .8-.9 .8 .2 .8 .5 .8-1.3 .8 1 .8 .7 .8 .3 .8 .1 .8-.3 .8 .1 .8-1 .8-.5 .8 .8 .8-.9 .8-.2 .8 .7 .8-.3 .8 1 .8-1.3 .8 .1 .8 1.1 .8-.9 .8 .6" fill="none" stroke="#e0b030" stroke-width="2.2" stroke-linejoin="round"/>
<path d="M102.5 695.2l.8 0 .8-.3 .8 .1 .8-.5 .8 .4 .8-.6 .8 .8 .8 .3 .8 .2 .8-.7 .8-.6 .8 .4 .8 .8 .8 0 .8 .4 .8-.4 .8-.2 .8 1 .8-1.2 .8-.2 .8 .7 .8 .3 .8-.2 .8 .1 .8-.1 .8 .4 .8 .6 .8 .1 .8-.3 .8-.4 .8 .8 .8-.7 .8 .2 .8 .5 .8-.1 .8-.6 .8 .5 .8-.1 .8 .6 .8-.3 .8-.3 .8 .8 .8-.6 .8-.4 .8 1 .8 .3 .8-1.4 .8-.6 .8 1.4 .8 .5 .8-.8 .8-.5 .8 .7 .8 .8 .8-1.2 .8 .1 .8 .5 .8-.7 .8 .2 .8-.4 .8 .5 .8-.3 .8-.3 .8 .5 .8-.3 .8-.1 .8 0 .8 .6 .8 0 .8 .8 .8-.3 .8-.4 .8-.2 .8 .1 .8 1 .8-.8 .8 .4 .8 .8 .8 .3 .8-.6 .8 .6 .8-.2 .8-.9 .8-.5 .8 0 .8 1.3 .8-.4 .8 .8 .8 .6 .8 0 .8-.8 .8-1.2 .8 .3 .8-.1 .8 .9 .8 .4 .8 .6 .8-.2 .8 .4 .8-.4 .8-.5 .8 .6 .8-.9 .8 .8 .8 .1 .8 .4 .8-1.5 .8-.2 .8 1.5 .8-1.1 .8 .3 .8 .4 .8-.1 .8 .8 .8 .4 .8-1.1 .8-.7 .8 1.4 .8-.5 .8-.5 .8-.4 .8-.3 .8 1.1 .8-.3 .8 .5 .8 .9 .8-.6 .8 .8 .8-1.5 .8 1 .8 .3 .8 .5 .8-1.7 .8 .5 .8 .3 .8 .2 .8-.2 .8-.4 .8 1.1 .8 .4 .8-.3 .8 .5 .8-.6 .8-1.2 .8 1 .8-.9 .8 1 .8 .2 .8-.8 .8-.4 .8-.2 .8 .2 .8 1.6 .8-.9 .8 1 .8-1.1 .8 0 .8 .4 .8-.1 .8 1.2 .8-1.1 .8 .2 .8-.5 .8-.3 .8 1.1 .8-.3 .8 .2 .8 .5 .8-1.1 .8-.3 .8 1.2 .8 1 .8-1.7 .8 .5 .8 1.2 .8 .1 .8 .3 .8-.8 .8 .7 .8-1.6 .8 .3 .8 .9 .8-.6 .8-.1 .8 0 .8-.1 .8 .8 .8 .6 .8-1.3 .8-.2 .8 1 .8 .1 .8 .2 .8-.1 .8 .4 .8 0 .8-.4 .8-.8 .8-.7 .8 1.4 .8 .4 .8 .3 .8-1.2 .8 .6 .8 .6 .8-1.3 .8-.7 .8 .1 .8 .1 .8 1 .8 .6 .8 .2 .8-.2 .8 .5 .8 .2 .8-1 .8 .7 .8-.2 .8-1 .8 .4 .8-.7 .8 .3 .8 .9 .8-1.3 .8 .6 .8 .1 .8-.3 .8-.5 .8 .7 .8-.1 .8-.5 .8 .5 .8 .7 .8-1 .8 1.2 .8-1.1 .8 .5 .8-.1 .8 1 .8 .4 .8-.2 .8-.9 .8-.2 .8 1 .8-.4 .8 .2 .8 .2 .8-.9 .8 .1 .8 1.2 .8-.9 .8 .8 .8-1.2 .8-.6 .8 .8 .8-.1 .8 .5 .8 .6 .8-1.3 .8 .5 .8 0 .8 1 .8 .2 .8 .2 .8-.2 .8-.9 .8 .3 .8 0 .8-.3 .8-.3 .8 .7 .8 .7 .8-1.1 .8-.1 .8-.4 .8 .3 .8 .2 .8-.6 .8 1 .8-.3 .8 .9 .8-.9 .8 .7 .8 .8 .8-1.4 .8 0 .8 1.2 .8-.8 .8-.3 .8-.5 .8 1.3 .8-.7 .8 1 .8-.4 .8-.8 .8 1.4 .8 .2 .8-.2 .8-.3 .8 .2 .8 .5 .8-1.4 .8-.3 .8 1 .8-.4 .8 1 .8 0 .8-.6 .8-.8 .8 .6 .8 .2 .8 0 .8 .4 .8-.4 .8 .7 .8-.4 .8-.9 .8 1 .8-1 .8 1.2 .8 .4 .8-1.3 .8-.3 .8 .9 .8-.2 .8-.3 .8 .8 .8-.7 .8-.5 .8 .7 .8 .8 .8 .5 .8-1.6 .8 .8 .8-.5 .8 1.1 .8-.8 .8-.8 .8 .2 .8 .5 .8-.6 .8 1.1 .8-.6 .8 .7 .8-.8 .8 .3 .8 .4 .8-.7 .8-.1 .8 1.1 .8-.5 .8-.3 .8 .5 .8 .3 .8 .5 .8-.5 .8 .5 .8 .2 .8 .2 .8 0 .8-.4 .8-.1 .8-.6 .8-.8 .8 1.5 .8-.6 .8-.3 .8 .3 .8 .5 .8 .4 .8-1.3 .8 .9 .8 .6 .8 .3 .8 0 .8-.8 .8 .4 .8-.5 .8 .4 .8 .4 .8-1.1 .8-.8 .8 1 .8 .6 .8 .2 .8-.9 .8-.3 .8-.7 .8 1.2 .8-.8 .8-.5 .8-.2 .8 1.6 .8-.6 .8 .6 .8-1.3 .8 .5 .8 .6 .8 .3 .8-1.1 .8 .2 .8 .8 .8 .4 .8-1.5 .8 .5 .8 .8 .8-.3 .8 .2 .8-.9 .8 .1 .8-.9 .8 1.3 .8-.1 .8-.8 .8 1.3 .8-1.1 .8-.7 .8 1.2 .8-.9 .8 .8 .8-.7 .8-.5 .8 1.3 .8 .1 .8 .1 .8 .2 .8 0 .8-1 .8 .1 .8 .4 .8 .7 .8-.3 .8-.3 .8 .5 .8 .2 .8-1.1 .8-.5 .8-.5 .8 1.6 .8-.9 .8 .5 .8 0 .8 .3 .8 .7 .8-.4 .8-1.1 .8 .2 .8-.4 .8 .2 .8 .8 .8 .1 .8-.1 .8 .5 .8 .4 .8-1.4 .8 .5 .8 0 .8-1.2 .8 1.6 .8-.7 .8 .3 .8-.8 .8 .1 .8-.5 .8 1.5 .8-1.4 .8-.4 .8 1.2 .8 .1 .8-.5 .8 1.1 .8-.2 .8-.5 .8 .3 .8 .6 .8 0 .8-1 .8 .5 .8-.9 .8 0 .8 1.3 .8-.2 .8-.7 .8 .1 .8-.2 .8 .4 .8-.2 .8-.2 .8-.1 .8 .9 .8 .1 .8-1.1 .8 0 .8 1 .8-.1 .8-.3 .8 0 .8-.9 .8 .5 .8 .5 .8-.5 .8-.2 .8 0 .8 .4 .8-.7 .8 1 .8-1.2 .8 1 .8-.2 .8-.6 .8-.1 .8-.1 .8-.2 .8 1.6 .8-.9 .8-.7 .8 .9 .8 .9 .8-1.1 .8-.4 .8 .6 .8-.4 .8 .2 .8 .2 .8 1 .8-1 .8-.3 .8 .6 .8-.1 .8 .6 .8-.8 .8 .2 .8-.2 .8 .2 .8-.2 .8-.7 .8-.3 .8 .4 .8 1.4 .8-.6 .8-.2 .8-.2 .8 .6 .8-.6 .8-.2 .8-.1 .8 .4 .8-.1 .8 .3 .8 .7 .8-1 .8 .3 .8 .8 .8-.2 .8 .1 .8 0 .8-1.3 .8 .5 .8-.4 .8-.1 .8-.5 .8 1.1 .8 .7 .8-.5 .8-.5 .8-.6 .7 0 .8 .8 .8-.5 .8 .4 .8-1.1 .7 1.1 .7-.7 .9 .8 .7 .5 .8-.8 .8 .8 .7-.8 .7 .8 .9-1.4 .7 .2 .8 .4 .8-.4 .7-.3 .9 1.2 .7-.3 .7 .2 .8-1 .8 1.4 .7 .5 .8-2.1 .7 .9 .8-.7 .8 1.6 .8 .2 .8-1.2 .7-.1 .7 .1 .8-.3 .8-.1 .8-.2 .8 .5 .7-.1 .7 1 .8-1.8 .8 1.4 .8-1.2 .8 0 .7 .1 .7 1.7 .8-2 .9 1.8 .7-.6 .8-.7 .8 1.7 .7-1.5 .8-.3 .8 1.2 .7-1.8 .8 2.4 .8-1.2 .8-1 .8 1.4 .7-.7 .7 1.1 .8-.6 .8-1.4 .8 .2 .8 1.4 .7 .1 .7-1.1 .8-.4 .8-.2 .8 1.6 .8-.3 .7 .4 .7-1.3 .9 .2 .7 .6 .8 .5 .8-.1 .7-.9 .7-.5 .9 .6 .7 1.3 .8-1.7 .8 .3 .7-.4 .9 .3 .7 1 .7 .4 .8-1.9 .8 2.1 .8-1.2 .8 1 .7-.3 .7-1.5 .8 1.4 .8-.3 1.3 .2 .8-.5 .8 .8 .8-.4 .8 .3 .8-.6 .8-.2 .8-.2 .8-.4 .8 1.2 .8-.1 .8 .6 .8-.4 .8 .1 .8-.3 .8-.3 .8 .6 .8-1.2 .8 .6 .8-1.1 .8 0 .8 1.6 .8-1.4 .8 1.2 .8 .7 .8-.4 .8 .5 .8-1.6 .8 .7 .8 0 .8-.2 .8-1 .8-.3 .8 1.4 .8-.8 .8 .7 .8-.8 .8 .7 .8-.9 .8 1.5 .8-.1 .8-.9 .8 1.2 .8-1.3 .8 .3 .8 .2 .8-.8 .8 .9 .8-.6 .8 .9 .8 .6 .8 .1 .8-1.6 .8 .2 .8 .5 .8-1.1 .8-.4 .8 1.4 .8 .2 .8-.9 .8 .8 .8 .4 .8-.9 .8 .2 .8 .5 .8-1.3 .8 1 .8 .7 .8 .3 .8 .1 .8-.3 .8 .1 .8-1 .8-.5 .8 .8 .8-.9 .8-.2 .8 .7 .8-.3 .8 1 .8-1.3 .8 .1 .8 1.1 .8-.9 .8 .6" fill="none" stroke="#958535" stroke-width="1.3" stroke-linejoin="round"/>
<path d="M554.5 701.9l.1-.1 .2-2.6 .2 0 0 .2 .3 .1 .3 2.4" fill="none" stroke="#958535" stroke-width="0.6" stroke-opacity="0.7"/>
<path d="M558.5 701.2l.1-.7 .3-4.5 .2-1.3 .1 .1 .1 1.8 .1 1.7 .2 2.4" fill="none" stroke="#958535" stroke-width="0.6" stroke-opacity="0.7"/>
<path d="M562.8 700.8l.2-1.7 .2-.8 0-.7 .1 1.3 .2 1" fill="none" stroke="#958535" stroke-width="0.6" stroke-opacity="0.7"/>
<path d="M566.8 699l.3-3.2 .2-.1 .1-1.1 .2 2.7 .2 3.5" fill="none" stroke="#958535" stroke-width="0.6" stroke-opacity="0.7"/>
<path d="M571 699.9l.2-2.5 .1-2.2 .1 .1 0 .7 .3 1.1 .3 2.7 .1 2.1" fill="none" stroke="#958535" stroke-width="0.6" stroke-opacity="0.7"/>
<path d="M573.8 700.9l.2-4.2 0-.9 .2-9.8 .1-2.2 .2-9.3 .1-1.9 .1-1.9 .1-.5 0 0 .2 5.7 0 1.9 .2 6.7 .1 .6 .2 5 .1 1.9 .2 3.1 0 .7 .2 3.4 0 1.9 .1 .6" fill="none" stroke="#958535" stroke-width="0.6" stroke-opacity="0.7"/>
<path d="M577.6 701.4l0-.8 .1-.1 .1-2.2 .1-1.3 .2-9.4 .1-4.8 .2-17.1 0-5.8 .1-8.9 .1-8.1 0-4.3 .2-5.4 0-.5 .1 2.6 .2 11.4 .1 3.8 .1 12.9 .1 3.5 0 5.3 .2 12.1 0 1.6 .2 6.5 .1 1.4 .2 5.2 .1-.7 .2 2.4" fill="none" stroke="#958535" stroke-width="0.6" stroke-opacity="0.7"/>
<path d="M582 700.5l.2-3.9 0-.6 .2-7.3 .1-1.1 .2-8.4 .1-2 .1-2.8 .1 .1 0 .9 .2 3.9 0 .7 .1 1.1 .1 4.4 .1 .5 .2 4.6 .1 .8 .2 2.9 0 2 .1 .9 .1 1.7 0 1.3" fill="none" stroke="#958535" stroke-width="0.6" stroke-opacity="0.7"/>
<path d="M586.3 700l.1 .2 .1-3.8 .1-.6 0-1.9 .2-4.5 0-.2 .2-.8 0-.7 .1-.3 .2 2.7 .1 1 .2 1.5 0 1.5 .2 2.3 0 1.5 .2 1.7 .1 .4 .2 .9 .1 .9" fill="none" stroke="#958535" stroke-width="0.6" stroke-opacity="0.7"/>
<path d="M591.4 700.2l.3-3.6 .2-.4 .1 .4 .1 1.4 .1-.4 .2 3" fill="none" stroke="#958535" stroke-width="0.6" stroke-opacity="0.7"/>
<path d="M595.6 699.9l.2-4.1 .2-.8 0-.5 .1 .8 .2 3.2 .3 3.2" fill="none" stroke="#958535" stroke-width="0.6" stroke-opacity="0.7"/>
<path d="M599.6 700.1l.3-3.3 .2 .2 .1 0 .2 1.6" fill="none" stroke="#958535" stroke-width="0.6" stroke-opacity="0.7"/>
<path d="M603.8 699.2l.2-4.8 .1 .5 .1-.1 0-.8 .3 3 .3 3.6 .1 .7" fill="none" stroke="#958535" stroke-width="0.6" stroke-opacity="0.7"/>
<path d="M607.8 699.9l.3-3.2 .2-1.4 .1-.3 .2 2.3 .2 2.7 .1 0" fill="none" stroke="#958535" stroke-width="0.6" stroke-opacity="0.7"/>
<path d="M612 701.2l.1-1.5 .1-1.2 .2-1.3 0 0 .3 2.2 .2 2.3" fill="none" stroke="#958535" stroke-width="0.6" stroke-opacity="0.7"/>
<path d="M616.1 700.8l.2-2.5 .2-.5 .1 .4 .2 .6 .1 1.7" fill="none" stroke="#958535" stroke-width="0.6" stroke-opacity="0.7"/>
<path d="M620.2 701.7l.2-2.3 .2-1.1 0 1.2 .3 1.2" fill="none" stroke="#958535" stroke-width="0.6" stroke-opacity="0.7"/>
<path d="M624.1 701.1l.1-2.5 .3-2.6 .2-.6 .1-.8 .1 1.5 .1 0 .2 3.3" fill="none" stroke="#958535" stroke-width="0.6" stroke-opacity="0.7"/>
<path d="M102.5 743.8l.8-.7 .8 .3 .8 .1 .8-.9 .8-.6 .8 .9 .8-.7 .8 .4 .8 1.1 .8 .3 .8-1.4 .8-.5 .8 .2 .8 1.3 .8-1.2 .8 0 .8-.2 .8 0 .8 .8 .8-.4 .8 .3 .8 .8 .8 .2 .8-.5 .8 .6 .8-.2 .8 .4 .8-1 .8 0 .8 .4 .8 .9 .8-.4 .8-.4 .8-.5 .8-.1 .8-.2 .8 1.6 .8 .2 .8 .1 .8-.6 .8 .1 .8-.7 .8 .1 .8-.6 .8 .4 .8-.2 .8-.3 .8 1.5 .8-1.2 .8 1.1 .8 .2 .8-1.2 .8 .5 .8 1.1 .8 .4 .8-.7 .8 .2 .8-.1 .8-.8 .8 .3 .8 .2 .8-.4 .8 .8 .8-.5 .8 .5 .8-1.2 .8 .4 .8-.7 .8 1 .8 .8 .8-.4 .8-.1 .8 .2 .8-.8 .8 .1 .8 .5 .8 .2 .8-.4 .8 .1 .8-.3 .8 .4 .8 .4 .8-.6 .8 .6 .8 .5 .8-.4 .8 .7 .8-1.1 .8 .9 .8-1.1 .8 0 .8 .9 .8-1.3 .8 .8 .8 .8 .8 .4 .8-.4 .8-.8 .8-.2 .8 .5 .8-.9 .8-.4 .8 1.7 .8-.1 .8-.9 .8 .3 .8-.2 .8 1.1 .8-.8 .8 .7 .8 .2 .8-.7 .8-.4 .8 .5 .8-.1 .8 .4 .8-.4 .8 .8 .8-.5 .8-.7 .8 1.1 .8 .6 .8-.3 .8-.3 .8 .6 .8 .3 .8-1.7 .8 .4 .8-.8 .8 .4 .8 0 .8 .4 .8 .6 .8 .6 .8-1 .8-.8 .8 1.7 .8 .1 .8-.4 .8-1 .8-.4 .8 1.7 .8-.3 .8 .6 .8 0 .8 0 .8 .1 .8-1 .8-.4 .8 .3 .8 .8 .8 .3 .8 0 .8-.3 .8-.3 .8-.6 .8 .8 .8 .2 .8-.2 .8 .4 .8 .6 .8 .1 .8-1.6 .8-.1 .8 .7 .8 .3 .8-.7 .8 1.1 .8-.6 .8 .5 .8-1.3 .8 .1 .8-.5 .8 1.4 .8-.1 .8 .9 .8-.4 .8-.7 .8-.1 .8 0 .8-.4 .8-.3 .8 1 .8-.3 .8 .1 .8 .6 .8-.7 .8 .1 .8-.2 .8 0 .8 .7 .8-1 .8 .4 .8-.5 .8 1 .8-.5 .8 1.2 .8-.6 .8 .2 .8-.2 .8 .5 .8-.1 .8-.1 .8-1.3 .8-.1 .8 1.2 .8-.4 .8 1.1 .8-.4 .8 .3 .8-.1 .8 .4 .8-.5 .8 .5 .8-.9 .8-.6 .8-.5 .8 .1 .8 1.4 .8-.1 .8-1.2 .8-.4 .8 .7 .8 .4 .8-.2 .8-.8 .8 .3 .8 1.3 .8 .1 .8 .2 .8-1 .8 .4 .8-.7 .8-.1 .8 1.3 .8-1.1 .8-.1 .8-.2 .8 1.2 .8 .1 .8-.2 .8 .4 .8-.6 .8 .7 .8 0 .8-1 .8-.4 .8 .5 .8-.1 .8 .7 .8-.1 .8 .2 .8-.2 .8-.8 .8 .8 .8 .7 .8-.5 .8 0 .8-.9 .8-.5 .8 .5 .8 .4 .8 .4 .8-.4 .8 .1 .8-.9 .8-.4 .8 .1 .8 .4 .8 0 .8-.3 .8 .4 .8 .1 .8 1 .8 .5 .8 .3 .8-.4 .8-1.6 .8 0 .8 1.5 .8-.1 .8 .2 .8-1.2 .8-.3 .8-.3 .8 .7 .8-.1 .8 .2 .8-.6 .8-.4 .8 .6 .8 1.3 .8-.2 .8-.2 .8-1.1 .8 .4 .8 0 .8 .6 .8-.3 .8 .7 .8-.8 .8 .6 .8-1.2 .8-.1 .8 1.3 .8 .5 .8-1 .8-.5 .8 1.4 .8-.3 .8-1.1 .8 1.5 .8-.4 .8-.7 .8 .2 .8-.2 .8 .4 .8-.2 .8-.2 .8 .7 .8-.6 .8 .8 .8 .1 .8 .4 .8-1.4 .8 1 .8 0 .8-1.1 .8 1.2 .8-.5 .8-.8 .8-.2 .8 1.6 .8 0 .8-1.1 .8 1 .8-1.4 .8 .9 .8 .1 .8 .6 .8 .2 .8-.3 .8 .2 .8-.7 .8 .7 .8-.8 .8 .4 .8 .1 .8-.6 .8 .6 .8 0 .8-1.1 .8 .5 .8 0 .8 .2 .8-1.1 .8 1.1 .8-.3 .8 .6 .8-.9 .8-.6 .8 .7 .8 .5 .8 .5 .8-.4 .8 .6 .8-1.2 .8-.5 .8 .4 .8 .7 .8 .4 .8-1.3 .8 .7 .8-.3 .8 .3 .8-.8 .8-.1 .8 .9 .8-.3 .8 1.2 .8-.6 .8-.5 .8-.4 .8 .5 .8 .1 .8-.4 .8 1.3 .8-.6 .8 .4 .8 0 .8 .2 .8-1.3 .8 1.3 .8-.4 .8-.9 .8 .6 .8-.9 .8 .4 .8-.5 .8-.2 .8 .7 .8 1 .8 .1 .8 .4 .8-.1 .8-.4 .8-.2 .8 .7 .8-1.4 .8 .3 .8 .2 .8-1 .8 1.4 .8 0 .8-.6 .8 .7 .8-.4 .8 .3 .8-.2 .8 .6 .8-.6 .8-1 .8 1.1 .8-.8 .8 .5 .8 .9 .8-.2 .8-1.3 .8 1.1 .8 .6 .8-.8 .8-.7 .8 .2 .8 .2 .8-.9 .8 1.4 .8 0 .8-.5 .8 .7 .8-1.1 .8 1.1 .8 .3 .8-.7 .8-.9 .8 .4 .8-.6 .8 .7 .8-.6 .8 .6 .8 0 .8-.2 .8 .5 .8 0 .8 .7 .8-.6 .8 0 .8 .4 .8-1.1 .8 .5 .8-.6 .8 .5 .8 .1 .8 .9 .8 .4 .8-1.2 .8 .7 .8-.7 .8-.5 .8 .6 .8-.5 .8 1.2 .8 .3 .8-1.7 .8 1.4 .8 .3 .8-1.5 .8 .7 .8-.1 .8-.8 .8 .9 .8-1.1 .8 .3 .8 .4 .8 .8 .8-.6 .8-.4 .8 .2 .8 .2 .8-.2 .8-.6 .8 1.3 .8-.9 .8-.3 .8 0 .8 1.5 .8-1.4 .8 .7 .8 .1 .8-.6 .8 .9 .8-.9 .8-.4 .8-.3 .8 1.2 .8-.9 .8 .9 .8 .3 .8-1 .8 1.5 .8-1.3 .8 .1 .8 .9 .8-.8 .8 .8 .8 .1 .8 .2 .8-.8 .8-.4 .8 .2 .8 .4 .8-1.1 .8-.2 .8 .2 .5-.5 .2 1.2 .1 .8 .2-.7 .3-.9 .2-.7 .1 .3 .1-1.8 .3-6.9 .3-12.3 .1-8.1 .1-5.4 .2-5.6 0 1.4 .3 7.9 .2 11.4 .1 2.7 .2 10.5 .2 5 .3 2.1 .3-.5 .2 1.2 .2 .6 .1 0 .8 0 .8-.6 .8-.4 .6-.9 .2 .1 .1-.3 .2 .1 .2-.9 .3 .6 .3-4.2 .2-10.5 .2-18.4 .1-3.7 .2-16.5 .2-5.8 .1 0 .2 14.3 .1 8.1 .1 12.5 .3 15.9 .3 6.2 .1 2.4 .1 .3 .2 .7 .3 .2 .2-.2 .1-.6 .7 .9 .8-1.1 .8 .1 .8 1.1 .6 .3 .2-1.6 .1 1 .2-.5 .2-.9 .3 .4 .3-3.3 .2-8.9 .2-14.4 .1-5.1 .2-12.6 .2-5.5 .1 .5 .2 11.2 .1 6.7 .1 10.4 .3 13.6 .3 5.5 .1 .4 .1 1.5 .2 .9 .3 .5 .2-.5 .1 .3 .7 .2 .8 .4 .8-.9 .8-.4 .5 1.1 .2-.9 .1-.7 .2 1 .3 .4 .2-.1 .1-.1 .1-2.8 .3-2.8 .3-8.7 .1-6.1 .1-3 .2-3.2 0-.1 .3 6 .2 8.1 .1 1 .2 7.5 .2 1.7 .3 1 .3 .2 .2 0 .2-.2 .1 1 .8-.5 .8 0 .8-.3 .8 1.7 .8-.9 .8 .3 .8 .8 .8-1 .8 .1 .8 1 .8-.1 .8-1 .8 .4 .8 .8 .8-.3 .8-.7 .8-.3 .8 1.3 .8-.6 .8-.6 .8 0 .8 .6 .8 .7 .8-.1 .8-.2 .8-.5 .8-.4 .8 .7 .8-.4 .8-.2 .8 .8 .8 .6 .8 .1 .8-1.5 .8 .9 .8-.2 .8-1 .8 1.2 .8-.2 .8-.2 .8-.8 .8 .7 .8 .1 .8 .7 .8 .3 .8-1.4 .8 1.1 .8-.6 .8-1 .8 1.2 .8 .5 .8 .1 .8-1.3 .8 .8 .8 .7 .8 .2 .8-1.1 .8 .6 .8-1.2 .8 1.1 .8-.2 .8 .1 .8 .2 .8-.9 .8-.4 .8-.4 .8 1.2 .8-1 .8-.4 .8 1.2 .8 .1 .8 1 .8-1.4 .8 .3 .8-.5 .8 1 .8 .7 .8 .2 .8-1.7 .8 .8 .8-.2 .8-.9 .8 .4 .8 .7 .8 .2 .8-.5 .8-.8 .8 .3 .8 0 .8 0 .8 1.3 .8-.3 .8-.1 .8-1.3 .8 .3 .8 1 .8-1 .8-.5 .8 .4 .8-.2 .8 .8 .8-.2 .8 .9 .8 .2 .8-.8 .8 .9 .8 .2 .8 .2 .8 .1 .8-.1 .8 0 .8-.9 .8 .8 .8-1.2 .8 .4 .8-1.2 .8 1.7 .8-.2 .8-1.3 .8 1.5 .8-.3 .8-.5 .8 0 .8 1 .8 .2 .8-1.5 .8-.3 .8-.1 .8-.4 .8 .1 .8 1 .8 .4 .8 .3 .8 .3 .8-.2 .8 .4 .8-1.7 .8 1.4 .8-.6 .8 .4 .8-.2 .8 .3 .8-.1 .8-1.1 .8 .5 .8-.8 .8 1.4 .8 .1 .8-.8 .8-.2 .8 0 .8-.5 .8 .7 .8 .6 .8-.6 .8 0 .8 .9 .8 0 .8-1.2 .8-.1 .8 1.3 .8-.2 .8-1 .8 .4 .8-.1 .8 .4 .8 .6 .8 .1 .8-.9 .8-.4 .8-.4 .8 .2 .8 .8 .8 .3 .8-.2 .8 .4 .8-1.2 .8-.2 .8-.1 .8 1.1 .8 .2 .8-.5 .8 .9" fill="none" stroke="#6a2a7a" stroke-width="2.2" stroke-linejoin="round"/>
<path d="M102.5 743.8l.8-.7 .8 .3 .8 .1 .8-.9 .8-.6 .8 .9 .8-.7 .8 .4 .8 1.1 .8 .3 .8-1.4 .8-.5 .8 .2 .8 1.3 .8-1.2 .8 0 .8-.2 .8 0 .8 .8 .8-.4 .8 .3 .8 .8 .8 .2 .8-.5 .8 .6 .8-.2 .8 .4 .8-1 .8 0 .8 .4 .8 .9 .8-.4 .8-.4 .8-.5 .8-.1 .8-.2 .8 1.6 .8 .2 .8 .1 .8-.6 .8 .1 .8-.7 .8 .1 .8-.6 .8 .4 .8-.2 .8-.3 .8 1.5 .8-1.2 .8 1.1 .8 .2 .8-1.2 .8 .5 .8 1.1 .8 .4 .8-.7 .8 .2 .8-.1 .8-.8 .8 .3 .8 .2 .8-.4 .8 .8 .8-.5 .8 .5 .8-1.2 .8 .4 .8-.7 .8 1 .8 .8 .8-.4 .8-.1 .8 .2 .8-.8 .8 .1 .8 .5 .8 .2 .8-.4 .8 .1 .8-.3 .8 .4 .8 .4 .8-.6 .8 .6 .8 .5 .8-.4 .8 .7 .8-1.1 .8 .9 .8-1.1 .8 0 .8 .9 .8-1.3 .8 .8 .8 .8 .8 .4 .8-.4 .8-.8 .8-.2 .8 .5 .8-.9 .8-.4 .8 1.7 .8-.1 .8-.9 .8 .3 .8-.2 .8 1.1 .8-.8 .8 .7 .8 .2 .8-.7 .8-.4 .8 .5 .8-.1 .8 .4 .8-.4 .8 .8 .8-.5 .8-.7 .8 1.1 .8 .6 .8-.3 .8-.3 .8 .6 .8 .3 .8-1.7 .8 .4 .8-.8 .8 .4 .8 0 .8 .4 .8 .6 .8 .6 .8-1 .8-.8 .8 1.7 .8 .1 .8-.4 .8-1 .8-.4 .8 1.7 .8-.3 .8 .6 .8 0 .8 0 .8 .1 .8-1 .8-.4 .8 .3 .8 .8 .8 .3 .8 0 .8-.3 .8-.3 .8-.6 .8 .8 .8 .2 .8-.2 .8 .4 .8 .6 .8 .1 .8-1.6 .8-.1 .8 .7 .8 .3 .8-.7 .8 1.1 .8-.6 .8 .5 .8-1.3 .8 .1 .8-.5 .8 1.4 .8-.1 .8 .9 .8-.4 .8-.7 .8-.1 .8 0 .8-.4 .8-.3 .8 1 .8-.3 .8 .1 .8 .6 .8-.7 .8 .1 .8-.2 .8 0 .8 .7 .8-1 .8 .4 .8-.5 .8 1 .8-.5 .8 1.2 .8-.6 .8 .2 .8-.2 .8 .5 .8-.1 .8-.1 .8-1.3 .8-.1 .8 1.2 .8-.4 .8 1.1 .8-.4 .8 .3 .8-.1 .8 .4 .8-.5 .8 .5 .8-.9 .8-.6 .8-.5 .8 .1 .8 1.4 .8-.1 .8-1.2 .8-.4 .8 .7 .8 .4 .8-.2 .8-.8 .8 .3 .8 1.3 .8 .1 .8 .2 .8-1 .8 .4 .8-.7 .8-.1 .8 1.3 .8-1.1 .8-.1 .8-.2 .8 1.2 .8 .1 .8-.2 .8 .4 .8-.6 .8 .7 .8 0 .8-1 .8-.4 .8 .5 .8-.1 .8 .7 .8-.1 .8 .2 .8-.2 .8-.8 .8 .8 .8 .7 .8-.5 .8 0 .8-.9 .8-.5 .8 .5 .8 .4 .8 .4 .8-.4 .8 .1 .8-.9 .8-.4 .8 .1 .8 .4 .8 0 .8-.3 .8 .4 .8 .1 .8 1 .8 .5 .8 .3 .8-.4 .8-1.6 .8 0 .8 1.5 .8-.1 .8 .2 .8-1.2 .8-.3 .8-.3 .8 .7 .8-.1 .8 .2 .8-.6 .8-.4 .8 .6 .8 1.3 .8-.2 .8-.2 .8-1.1 .8 .4 .8 0 .8 .6 .8-.3 .8 .7 .8-.8 .8 .6 .8-1.2 .8-.1 .8 1.3 .8 .5 .8-1 .8-.5 .8 1.4 .8-.3 .8-1.1 .8 1.5 .8-.4 .8-.7 .8 .2 .8-.2 .8 .4 .8-.2 .8-.2 .8 .7 .8-.6 .8 .8 .8 .1 .8 .4 .8-1.4 .8 1 .8 0 .8-1.1 .8 1.2 .8-.5 .8-.8 .8-.2 .8 1.6 .8 0 .8-1.1 .8 1 .8-1.4 .8 .9 .8 .1 .8 .6 .8 .2 .8-.3 .8 .2 .8-.7 .8 .7 .8-.8 .8 .4 .8 .1 .8-.6 .8 .6 .8 0 .8-1.1 .8 .5 .8 0 .8 .2 .8-1.1 .8 1.1 .8-.3 .8 .6 .8-.9 .8-.6 .8 .7 .8 .5 .8 .5 .8-.4 .8 .6 .8-1.2 .8-.5 .8 .4 .8 .7 .8 .4 .8-1.3 .8 .7 .8-.3 .8 .3 .8-.8 .8-.1 .8 .9 .8-.3 .8 1.2 .8-.6 .8-.5 .8-.4 .8 .5 .8 .1 .8-.4 .8 1.3 .8-.6 .8 .4 .8 0 .8 .2 .8-1.3 .8 1.3 .8-.4 .8-.9 .8 .6 .8-.9 .8 .4 .8-.5 .8-.2 .8 .7 .8 1 .8 .1 .8 .4 .8-.1 .8-.4 .8-.2 .8 .7 .8-1.4 .8 .3 .8 .2 .8-1 .8 1.4 .8 0 .8-.6 .8 .7 .8-.4 .8 .3 .8-.2 .8 .6 .8-.6 .8-1 .8 1.1 .8-.8 .8 .5 .8 .9 .8-.2 .8-1.3 .8 1.1 .8 .6 .8-.8 .8-.7 .8 .2 .8 .2 .8-.9 .8 1.4 .8 0 .8-.5 .8 .7 .8-1.1 .8 1.1 .8 .3 .8-.7 .8-.9 .8 .4 .8-.6 .8 .7 .8-.6 .8 .6 .8 0 .8-.2 .8 .5 .8 0 .8 .7 .8-.6 .8 0 .8 .4 .8-1.1 .8 .5 .8-.6 .8 .5 .8 .1 .8 .9 .8 .4 .8-1.2 .8 .7 .8-.7 .8-.5 .8 .6 .8-.5 .8 1.2 .8 .3 .8-1.7 .8 1.4 .8 .3 .8-1.5 .8 .7 .8-.1 .8-.8 .8 .9 .8-1.1 .8 .3 .8 .4 .8 .8 .8-.6 .8-.4 .8 .2 .8 .2 .8-.2 .8-.6 .8 1.3 .8-.9 .8-.3 .8 0 .8 1.5 .8-1.4 .8 .7 .8 .1 .8-.6 .8 .9 .8-.9 .8-.4 .8-.3 .8 1.2 .8-.9 .8 .9 .8 .3 .8-1 .8 1.5 .8-1.3 .8 .1 .8 .9 .8-.8 .8 .8 .8 .1 .8 .2 .8-.8 .8-.4 .8 .3 .8 .4 .8-1.1 .8-.2 .8 .3 .7 1 .8-.4 .8 .6 .7-1.1 .7 .7 .8 .7 1.1 .3 .8-.5 .8-.4 .8-.5 .8 1.1 .7-1.6 .8 1.2 .8-.1 .7 .6 1-.4 .8-1.1 .8 .1 .8 1.1 .8-1.1 .8 1.4 .7 0 .8-.5 .8-.1 .7 .7 1-.4 .8 .3 .8-.9 .8-.4 .7 .3 .8 1.3 .8-1.1 .7-.9 .7 .2 .8-.1 1.1 0 .8 0 .8-.3 .8 1.6 .8-.9 .8 .3 .8 .8 .8-1 .8 .1 .8 1 .8-.1 .8-1 .8 .4 .8 .8 .8-.3 .8-.7 .8-.3 .8 1.3 .8-.6 .8-.6 .8 0 .8 .6 .8 .7 .8-.1 .8-.2 .8-.5 .8-.4 .8 .7 .8-.4 .8-.2 .8 .8 .8 .6 .8 .1 .8-1.5 .8 .9 .8-.2 .8-1 .8 1.2 .8-.2 .8-.2 .8-.8 .8 .7 .8 .1 .8 .7 .8 .3 .8-1.4 .8 1.1 .8-.6 .8-1 .8 1.2 .8 .5 .8 .1 .8-1.3 .8 .8 .8 .7 .8 .2 .8-1.1 .8 .6 .8-1.2 .8 1.1 .8-.2 .8 .1 .8 .2 .8-.9 .8-.4 .8-.4 .8 1.2 .8-1 .8-.4 .8 1.2 .8 .1 .8 1 .8-1.4 .8 .3 .8-.5 .8 1 .8 .7 .8 .2 .8-1.7 .8 .8 .8-.2 .8-.9 .8 .4 .8 .7 .8 .2 .8-.5 .8-.8 .8 .3 .8 0 .8 0 .8 1.3 .8-.3 .8-.1 .8-1.3 .8 .3 .8 1 .8-1 .8-.5 .8 .4 .8-.2 .8 .8 .8-.2 .8 .9 .8 .2 .8-.8 .8 .9 .8 .2 .8 .2 .8 .1 .8-.1 .8 0 .8-.9 .8 .8 .8-1.2 .8 .4 .8-1.2 .8 1.7 .8-.2 .8-1.3 .8 1.5 .8-.3 .8-.5 .8 0 .8 1 .8 .2 .8-1.5 .8-.3 .8-.1 .8-.4 .8 .1 .8 1 .8 .4 .8 .3 .8 .3 .8-.2 .8 .4 .8-1.7 .8 1.4 .8-.6 .8 .4 .8-.2 .8 .3 .8-.1 .8-1.1 .8 .5 .8-.8 .8 1.4 .8 .1 .8-.8 .8-.2 .8 0 .8-.5 .8 .7 .8 .6 .8-.6 .8 0 .8 .9 .8 0 .8-1.2 .8-.1 .8 1.3 .8-.2 .8-1 .8 .4 .8-.1 .8 .4 .8 .6 .8 .1 .8-.9 .8-.4 .8-.4 .8 .2 .8 .8 .8 .3 .8-.2 .8 .4 .8-1.2 .8-.2 .8-.1 .8 1.1 .8 .2 .8-.5 .8 .9" fill="none" stroke="#22122a" stroke-width="1.3" stroke-linejoin="round"/>
<path d="M522.6 745.5l.3-6.9 .3-12.3 .1-8.1 .1-5.4 .2-5.6 0 1.4 .3 7.9 .2 11.4 .1 2.7 .2 10.5" fill="none" stroke="#22122a" stroke-width="0.6" stroke-opacity="0.7"/>
<path d="M530 743l.2-10.5 .2-18.4 .1-3.7 .2-16.5 .2-5.8 .1 0 .2 14.3 .1 8.1 .1 12.5 .3 15.9 .3 6.2" fill="none" stroke="#22122a" stroke-width="0.6" stroke-opacity="0.7"/>
<path d="M538 744.3l.2-8.9 .2-14.4 .1-5.1 .2-12.6 .2-5.5 .1 .5 .2 11.2 .1 6.7 .1 10.4 .3 13.6 .3 5.5" fill="none" stroke="#22122a" stroke-width="0.6" stroke-opacity="0.7"/>
<path d="M546.1 743.2l.3-8.7 .1-6.1 .1-3 .2-3.2 0-.1 .3 6 .2 8.1 .1 1 .2 7.5" fill="none" stroke="#22122a" stroke-width="0.6" stroke-opacity="0.7"/>
<path d="M102.5 765.5l.8 .1 .8-.2 .8-1.1 .8-.1 .8 .8 .8 .4 .8-1.5 .8-.1 .8 1.5 .8-1.1 .8 .7 .8-.4 .8 .5 .8 .6 .8-.3 .8-.5 .8-.3 .8 .6 .8 .2 .8-.4 .8 0 .8 .2 .8-.5 .8-.3 .8 .7 .8-.7 .8 .8 .8 .7 .8 .2 .8-1 .8 0 .8 1 .8-.8 .8 1.1 .8-1.3 .8 1 .8-1.4 .8 .9 .8 .6 .8-.4 .8 .1 .8 .6 .8 .4 .8-1.5 .8 .2 .8-.8 .8 .4 .8-.3 .8-.1 .8 .9 .8-.7 .8-.1 .8-.3 .8 1.5 .8-.6 .8-.6 .8 1 .8 .5 .8 0 .8-.2 .8 0 .8 .3 .8-.7 .8 .9 .8 0 .8 .3 .8 .2 .8 0 .8-.6 .8-.2 .8 .4 .8-.2 .8-1.1 .8 1.4 .8-1 .8 .3 .8 .1 .8-.7 .8 .7 .8 .3 .8 .6 .8-.3 .8-.6 .8 .3 .8 .9 .8-.3 .8 .3 .8-1.6 .8 .9 .8-.6 .8-.3 .8 .3 .8-.3 .8-.2 .8 .2 .8 .1 .8 .1 .8 1.1 .8-1 .8-.1 .8-.3 .8 .8 .8-.3 .8 .6 .8-.4 .8-.2 .8 .5 .8-.6 .8 1.4 .8-.2 .8-.4 .8 .3 .8 .8 .8-.6 .8-.4 .8-.4 .8 .2 .8 .9 .8-.1 .8-.7 .8 1.1 .8-1.2 .8 .1 .8 .9 .8 .5 .8-.7 .8-1.1 .8 .8 .8 0 .8-.8 .8 .4 .8 1.2 .8-1.3 .8-.1 .8 0 .8 1.3 .8-.6 .8 .6 .8 .1 .8-1.2 .8 .5 .8-.5 .8 1.2 .8-.2 .8-.3 .8 .8 .8 .3 .8-1.4 .8-.4 .8 .4 .8 .1 .8 .3 .8 .1 .8 1.1 .8-.2 .8 .5 .8-.5 .8-.9 .8 .4 .8-.7 .8 .7 .8-.7 .8 1.4 .8-.8 .8 .9 .8-1 .8-.3 .8 0 .8 1.1 .8 .4 .8 0 .8-.4 .8-.9 .8-.1 .8-.4 .8 1.7 .8-1.1 .8 .9 .8-1.2 .8 .2 .8 .7 .8-.6 .8-.4 .8 1.5 .8-.7 .8-.8 .8 1.2 .8 .9 .8-.6 .8-1.2 .8 .4 .8 .5 .8-.5 .8 .1 .8 .7 .8 .1 .8 .4 .8 .3 .8-.7 .8 .7 .8-1.5 .8 .3 .8 .5 .8 .6 .8-.7 .8-.3 .8 .8 .8-.6 .8-.9 .8 .4 .8-.2 .8 .8 .8 .5 .8-1.4 .8 .2 .8 1.2 .8 .2 .8 0 .8-.8 .8 .9 .8 .1 .8-.1 .8-.5 .8 0 .8-1 .8-.5 .8-.2 .8 .1 .8 .9 .8 1.2 .8-.4 .8 .3 .8 0 .8 .4 .8-1.2 .8 .1 .8 .9 .8-.9 .8 .4 .8-.4 .8-.6 .8-.1 .8 .3 .8-.6 .8 1.6 .8-.6 .8-.4 .8 1 .8-1.3 .8 1.1 .8-.2 .8-.8 .8 .3 .8 1.3 .8-1.5 .8 .1 .8-.2 .8 .8 .8-.6 .8 1.2 .8-.6 .8 .9 .8-1.3 .8-.2 .8-.4 .8-.1 .8 .2 .8 .9 .8 .2 .8 .4 .8-.8 .8 .5 .8 .9 .8-1.1 .8-.4 .8-.3 .8 1.5 .8-.2 .8-.3 .8-.1 .8-.9 .8 .1 .8 .9 .8-.6 .8 .4 .8 .9 .8-1.2 .8 .2 .8 .7 .8 .2 .8 .2 .8 .2 .8-.6 .8-.8 .8 .3 .8 .9 .8-1.2 .8-.1 .8-.2 .8 1.3 .8-1.2 .8-.2 .8 .8 .8 .5 .8-.4 .8 .5 .8 .1 .8-.6 .8-.9 .8 1 .8 .2 .8 .7 .8-.2 .8-1.4 .8-.1 .8 .2 .8 .9 .8-.6 .8-.3 .8-.2 .8 .1 .8 .5 .8 .6 .8 .5 .8-1.4 .8 .5 .8 1 .8-.8 .8-.8 .8 .8 .8 .6 .8-1.4 .8-.3 .8 .3 .8 .3 .8-.4 .8-.2 .8 .6 .8 1.3 .8-.4 .8-.7 .8 1.1 .8-1 .8-.5 .8-.2 .8-.3 .8 1.7 .8-.2 .8 .8 .8-.6 .8-1.1 .8 .2 .8 .1 .8-.4 .8-.2 .8 1.1 .8 .7 .8 .4 .8-1.3 .8 .4 .8-.6 .8 1 .8 .4 .8-1.7 .8-.1 .8 1.3 .8 .7 .8-.1 .8-1.6 .8 .6 .8 .5 .8-.2 .8-.1 .8 .4 .8-1.3 .8 .6 .8 1 .8-.5 .8-.5 .8-.6 .8 1.3 .8-.1 .8 .6 .8 .2 .8-.5 .8 .2 .8 0 .8-.2 .8-.7 .8 .3 .8 .3 .8-.9 .8 .8 .8-.2 .8-.5 .8 0 .8 1 .8-1.4 .8-.5 .8 .8 .8-.6 .8 1.4 .8 .5 .8-1 .8-.3 .8 .6 .8 .6 .8-.3 .8 .4 .8-1 .8 0 .8 .4 .8 .2 .8-.6 .8-.3 .8 1 .8-.1 .8-.3 .8-.7 .8 .1 .8-.6 .8 .2 .8-.3 .8 .2 .8 .9 .8 .1 .8 .6 .8-.4 .8-.5 .8-.2 .8 1 .8-1.4 .8-.1 .8 .5 .8-.4 .8 .4 .8-.4 .8 .8 .8 .8 .8-.8 .8 .6 .8-1.4 .8-.2 .8 0 .8 1.3 .8-.6 .8 .4 .8 .7 .8-.4 .8-.4 .8 .1 .8 .3 .8 0 .8-.1 .8-.9 .8 1.4 .8 0 .8 .3 .8-.1 .8-1.2 .8 .1 .8 .4 .8-.8 .8 1.1 .8-.4 .8 .1 .8 .7 .8-1 .8-.2 .8 .4 .8-.8 .8 0 .8 0 .8 1.5 .8-.3 .8 .3 .8-.2 .8-.7 .8-.2 .8 1.2 .8-.3 .8-.2 .8-.3 .8 .8 .8-1.1 .8 1 .8-.1 .8 0 .8 .6 .8-.9 .8-.1 .8-.3 .8 .4 .8 .4 .1 0 .2-1.1 .3 .8 .2-1.4 .1 .8 .2-.8 .2-.6 .3-1.2 .3-3.9 .2-2.7 .2-1.1 0 .4 .1-.3 .2 2.8 .3 3.7 .2 2.3 .1 .7 .1-.2 .3 .8 .3-.4 .1-.4 .1 .8 .2 .8 .3-.6 .2-.9 .1 .7 .2-1 .2-.3 .3-2.5 .3-6.3 .2-6 .2-1.8 0 .7 .1 .6 .2 4.2 .3 5.6 .2 4.9 .1-.3 .1 .7 .3 1.9 .3 .2 .1-.8 .1-.9 .2 .1 .3 .3 .2-.8 .1 .9 .2 .5 .2-2.6 .3-4.9 .3-9 .2-9.5 .2-2.9 0-.2 .1 0 .2 5.8 .3 11.7 .2 7.2 .1 .6 .1 1.8 .3 1.7 .3-.3 .1 .5 .1 .8 .2-1.1 .3-.2 .2-.8 .1 .8 .2-.9 .2-2.6 .3-7.9 .3-13.6 .2-15.5 .2-4.6 0 .3 .1-.4 .2 9.2 .3 16.6 .2 11.3 .1 2.6 .1 2.4 .3 3 .3-.7 .1 1.2 .1-.3 .2 .5 .3-.5 .2-.7 .1 .1 .2 .4 .2-2.3 .3-6.8 .3-12.9 .2-13.2 .2-5.7 0 .6 .1 .8 .2 8.5 .3 15.1 .2 9.1 .1 2.3 .1 2.7 .3 1.1 .3 1.5 .1-.5 .1-1 .2 .2 .3 .1 .2 .1 .1-.8 .2 1.1 .2-2.8 .3-5.7 .3-12.1 .2-13 .2-4.8 0 1.4 .1-.3 .1 3.6 .1 4.4 .1 8.1 .2 4.8 .1 8 .1 2.3 .1 2.7 .1 1.1 0 1.5 .2 0 .1-.1 .1 .2 .2-1.1 .1-2.7 .1-1.8 .2-2.3 0-3.4 .2-3.1 .2-1.5 0 .3 .1 .1 .2 4 .3 6.8 .2 3.6 .1 .5 .1 1 .3 1.3 .3-.7 .1 1.1 .1-.8 .2-.4 .5 1.1 .8-.5 .8 .8 .8-.8 .8-.2 .8 .4 .8 .6 .8-.1 .8 .7 .8 .2 .8-1.5 .8 .9 .8 .7 .8-1.3 .8-.1 .8 .3 .8 .9 .8-1.2 .8-.3 .8 1.1 .8-.8 .8 1 .8-.6 .8 .9 .8-1.1 .8-.3 .8 .8 .8 .3 .8-.1 .8-.9 .8 .2 .8 .5 .8 .2 .8 .5 .8-.3 .8-.2 .8 0 .8-.1 .8 .3 .8-.7 .8 .2 .8-.1 .8-1 .8 .4 .8-.1 .8 0 .8-.6 .8 1.5 .8-.6 .8 .2 .8-.6 .8 .4 .8 .7 .8-.1 .8 .3 .8-.2 .8 .6 .8-.6 .8-1 .8-.4 .8 1.5 .8-.2 .8 0 .8 .2 .8 .1 .8-.7 .8-.5 .8 .5 .8-.3 .8 .3 .8-.1 .8 1.1 .8 .2 .8-.4 .8 .3 .8-.5 .8-.6 .8-.3 .8 0 .8 .4 .8-.9 .8-.2 .8 1.8 .8-1.1 .8-.3 .8 .9 .8-.1 .8 .4 .8-1.3 .8-.3 .8 .5 .8 1.1 .8-.9 .8 .2 .8 .8 .8 .1 .8-.5 .8-.8 .8-.2 .8 0 .8 .4 .8 1.3 .8-1.1 .8 .6 .8 .3 .8-.6 .8 .6 .8-1.1 .8 1.3 .8-1.4 .8 .2 .8-.6 .8 .2 .8-.3 .8 .9 .8-.3 .8 1.4 .8-.6 .8-.9 .8 1.2 .8-1.3 .8 .7 .8-.3 .8-.2 .8 .4 .8-.7 .8 .6 .8 .3 .8 .3 .8 .3 .8-1.3 .8 1.1 .8-.5 .8 0 .8-.8 .8 .4 .8 0 .8 .9 .8 0 .8 .5 .8-1.1 .8-.4 .8 .4 .8-.7 .8-.1 .8 .5 .8 1.4 .8 0 .8-1.1 .8-.8 .8 0 .8 0 .8 1.6 .8-.8 .8-.3 .8 1.2 .8-.4 .8 0 .8-1 .8-.4 .8 .3 .8 .3 .8 .3 .8 .5 .8 0 .8-.4 .8-.8 .8 .1 .8 1.6 .8-.9 .8 .8 .8-.7 .8 .3 .8-.9 .8 1 .8-.4 .8 .7 .8 .3 .8-1 .8 .5 .8 .8 .8-.9 .8-1 .8 .6 .8-.3 .8-.2 .8 1.5 .8-1.4 .8-.1 .8 .3 .8-.2 .8-.2 .8 .1 .8 .5 .8 .6 .8 .7 .8-.9 .8-1 .8 1.3 .8 0 .8 .6 .8-.1 .8-1.6 .8 .8 .8-.3 .8 .3 .8-.9 .8-.4 .8 .8 .8 .2 .8 1 .8-1.1 .8 .4 .8 0" fill="none" stroke="#77ac30" stroke-width="2.2" stroke-linejoin="round"/>
<path d="M102.5 765.5l.8 .1 .8-.2 .8-1.1 .8-.1 .8 .8 .8 .4 .8-1.5 .8-.1 .8 1.5 .8-1.1 .8 .7 .8-.4 .8 .5 .8 .6 .8-.3 .8-.5 .8-.3 .8 .6 .8 .2 .8-.4 .8 0 .8 .2 .8-.5 .8-.3 .8 .7 .8-.7 .8 .8 .8 .7 .8 .2 .8-1 .8 0 .8 1 .8-.8 .8 1.1 .8-1.3 .8 1 .8-1.4 .8 .9 .8 .6 .8-.4 .8 .1 .8 .6 .8 .4 .8-1.5 .8 .2 .8-.8 .8 .4 .8-.3 .8-.1 .8 .9 .8-.7 .8-.1 .8-.3 .8 1.5 .8-.6 .8-.6 .8 1 .8 .5 .8 0 .8-.2 .8 0 .8 .3 .8-.7 .8 .9 .8 0 .8 .3 .8 .2 .8 0 .8-.6 .8-.2 .8 .4 .8-.2 .8-1.1 .8 1.4 .8-1 .8 .3 .8 .1 .8-.7 .8 .7 .8 .3 .8 .6 .8-.3 .8-.6 .8 .3 .8 .9 .8-.3 .8 .3 .8-1.6 .8 .9 .8-.6 .8-.3 .8 .3 .8-.3 .8-.2 .8 .2 .8 .1 .8 .1 .8 1.1 .8-1 .8-.1 .8-.3 .8 .8 .8-.3 .8 .6 .8-.4 .8-.2 .8 .5 .8-.6 .8 1.4 .8-.2 .8-.4 .8 .3 .8 .8 .8-.6 .8-.4 .8-.4 .8 .2 .8 .9 .8-.1 .8-.7 .8 1.1 .8-1.2 .8 .1 .8 .9 .8 .5 .8-.7 .8-1.1 .8 .8 .8 0 .8-.8 .8 .4 .8 1.2 .8-1.3 .8-.1 .8 0 .8 1.3 .8-.6 .8 .6 .8 .1 .8-1.2 .8 .5 .8-.5 .8 1.2 .8-.2 .8-.3 .8 .8 .8 .3 .8-1.4 .8-.4 .8 .4 .8 .1 .8 .3 .8 .1 .8 1.1 .8-.2 .8 .5 .8-.5 .8-.9 .8 .4 .8-.7 .8 .7 .8-.7 .8 1.4 .8-.8 .8 .9 .8-1 .8-.3 .8 0 .8 1.1 .8 .4 .8 0 .8-.4 .8-.9 .8-.1 .8-.4 .8 1.7 .8-1.1 .8 .9 .8-1.2 .8 .2 .8 .7 .8-.6 .8-.4 .8 1.5 .8-.7 .8-.8 .8 1.2 .8 .9 .8-.6 .8-1.2 .8 .4 .8 .5 .8-.5 .8 .1 .8 .7 .8 .1 .8 .4 .8 .3 .8-.7 .8 .7 .8-1.5 .8 .3 .8 .5 .8 .6 .8-.7 .8-.3 .8 .8 .8-.6 .8-.9 .8 .4 .8-.2 .8 .8 .8 .5 .8-1.4 .8 .2 .8 1.2 .8 .2 .8 0 .8-.8 .8 .9 .8 .1 .8-.1 .8-.5 .8 0 .8-1 .8-.5 .8-.2 .8 .1 .8 .9 .8 1.2 .8-.4 .8 .3 .8 0 .8 .4 .8-1.2 .8 .1 .8 .9 .8-.9 .8 .4 .8-.4 .8-.6 .8-.1 .8 .3 .8-.6 .8 1.6 .8-.6 .8-.4 .8 1 .8-1.3 .8 1.1 .8-.2 .8-.8 .8 .3 .8 1.3 .8-1.5 .8 .1 .8-.2 .8 .8 .8-.6 .8 1.2 .8-.6 .8 .9 .8-1.3 .8-.2 .8-.4 .8-.1 .8 .2 .8 .9 .8 .2 .8 .4 .8-.8 .8 .5 .8 .9 .8-1.1 .8-.4 .8-.3 .8 1.5 .8-.2 .8-.3 .8-.1 .8-.9 .8 .1 .8 .9 .8-.6 .8 .4 .8 .9 .8-1.2 .8 .2 .8 .7 .8 .2 .8 .2 .8 .2 .8-.6 .8-.8 .8 .3 .8 .9 .8-1.2 .8-.1 .8-.2 .8 1.3 .8-1.2 .8-.2 .8 .8 .8 .5 .8-.4 .8 .5 .8 .1 .8-.6 .8-.9 .8 1 .8 .2 .8 .7 .8-.2 .8-1.4 .8-.1 .8 .2 .8 .9 .8-.6 .8-.3 .8-.2 .8 .1 .8 .5 .8 .6 .8 .5 .8-1.4 .8 .5 .8 1 .8-.8 .8-.8 .8 .8 .8 .6 .8-1.4 .8-.3 .8 .3 .8 .3 .8-.4 .8-.2 .8 .6 .8 1.3 .8-.4 .8-.7 .8 1.1 .8-1 .8-.5 .8-.2 .8-.3 .8 1.7 .8-.2 .8 .8 .8-.6 .8-1.1 .8 .2 .8 .1 .8-.4 .8-.2 .8 1.1 .8 .7 .8 .4 .8-1.3 .8 .4 .8-.6 .8 1 .8 .4 .8-1.7 .8-.1 .8 1.3 .8 .7 .8-.1 .8-1.6 .8 .6 .8 .5 .8-.2 .8-.1 .8 .4 .8-1.3 .8 .6 .8 1 .8-.5 .8-.5 .8-.6 .8 1.3 .8-.1 .8 .6 .8 .2 .8-.5 .8 .2 .8 0 .8-.2 .8-.7 .8 .3 .8 .3 .8-.9 .8 .8 .8-.2 .8-.5 .8 0 .8 1 .8-1.4 .8-.5 .8 .8 .8-.6 .8 1.4 .8 .5 .8-1 .8-.3 .8 .6 .8 .6 .8-.3 .8 .4 .8-1 .8 0 .8 .4 .8 .2 .8-.6 .8-.3 .8 1 .8-.1 .8-.3 .8-.7 .8 .1 .8-.6 .8 .2 .8-.3 .8 .2 .8 .9 .8 .1 .8 .6 .8-.4 .8-.5 .8-.2 .8 1 .8-1.4 .8-.1 .8 .5 .8-.4 .8 .4 .8-.4 .8 .8 .8 .8 .8-.8 .8 .6 .8-1.4 .8-.2 .8 0 .8 1.3 .8-.6 .8 .4 .8 .7 .8-.4 .8-.4 .8 .1 .8 .3 .8 0 .8-.1 .8-.9 .8 1.4 .8 0 .8 .3 .8-.1 .8-1.2 .8 .1 .8 .4 .8-.8 .8 1.1 .8-.4 .8 .1 .8 .7 .8-1 .8-.2 .8 .4 .8-.8 .8 0 .8 0 .8 1.5 .8-.3 .8 .3 .8-.2 .8-.7 .8-.2 .8 1.2 .8-.3 .8-.2 .8-.3 .8 .8 .8-1.1 .8 1 .8-.1 .8 0 .8 .6 .8-.9 .8-.1 .8-.3 .8 .4 .8 .5 .8-1.5 .8 .7 .7 .7 .8-.4 .8-.7 .7 .6 .7 0 .8-.7 .8 1.1 .7 .2 .7-1.5 .8 1.6 .8-1.4 .7-.6 .7 .8 .8 1.5 .8-.9 .7-.6 .7 1.2 .8-1.6 .8 .1 .7 .8 .7 .7 .8-.3 .8 .1 .7-1 .7-.3 .8 1.2 .8-.4 .7-.6 .7 1.5 .8-1.4 .9 1.1 .7-.9 .8-.1 1.5 .1 .8 .7 .8-.9 .8-.1 .8 .3 .8 .6 .8-.1 .8 .7 .8 .2 .8-1.5 .8 .9 .8 .7 .8-1.3 .8-.1 .8 .3 .8 .9 .8-1.2 .8-.3 .8 1.1 .8-.8 .8 1 .8-.6 .8 .9 .8-1.1 .8-.3 .8 .8 .8 .3 .8-.1 .8-.9 .8 .2 .8 .5 .8 .2 .8 .5 .8-.3 .8-.2 .8 0 .8-.1 .8 .3 .8-.7 .8 .2 .8-.1 .8-1 .8 .4 .8-.1 .8 0 .8-.6 .8 1.5 .8-.6 .8 .2 .8-.6 .8 .4 .8 .7 .8-.1 .8 .3 .8-.2 .8 .6 .8-.6 .8-1 .8-.4 .8 1.5 .8-.2 .8 0 .8 .2 .8 .1 .8-.7 .8-.5 .8 .5 .8-.3 .8 .3 .8-.1 .8 1.1 .8 .2 .8-.4 .8 .3 .8-.5 .8-.6 .8-.3 .8 0 .8 .4 .8-.9 .8-.2 .8 1.8 .8-1.1 .8-.3 .8 .9 .8-.1 .8 .4 .8-1.3 .8-.3 .8 .5 .8 1.1 .8-.9 .8 .2 .8 .8 .8 .1 .8-.5 .8-.8 .8-.2 .8 0 .8 .4 .8 1.3 .8-1.1 .8 .6 .8 .3 .8-.6 .8 .6 .8-1.1 .8 1.3 .8-1.4 .8 .2 .8-.6 .8 .2 .8-.3 .8 .9 .8-.3 .8 1.4 .8-.6 .8-.9 .8 1.2 .8-1.3 .8 .7 .8-.3 .8-.2 .8 .4 .8-.7 .8 .6 .8 .3 .8 .3 .8 .3 .8-1.3 .8 1.1 .8-.5 .8 0 .8-.8 .8 .4 .8 0 .8 .9 .8 0 .8 .5 .8-1.1 .8-.4 .8 .4 .8-.7 .8-.1 .8 .5 .8 1.4 .8 0 .8-1.1 .8-.8 .8 0 .8 0 .8 1.6 .8-.8 .8-.3 .8 1.2 .8-.4 .8 0 .8-1 .8-.4 .8 .3 .8 .3 .8 .3 .8 .5 .8 0 .8-.4 .8-.8 .8 .1 .8 1.6 .8-.9 .8 .8 .8-.7 .8 .3 .8-.9 .8 1 .8-.4 .8 .7 .8 .3 .8-1 .8 .5 .8 .8 .8-.9 .8-1 .8 .6 .8-.3 .8-.2 .8 1.5 .8-1.4 .8-.1 .8 .3 .8-.2 .8-.2 .8 .1 .8 .5 .8 .6 .8 .7 .8-.9 .8-1 .8 1.3 .8 0 .8 .6 .8-.1 .8-1.6 .8 .8 .8-.3 .8 .3 .8-.9 .8-.4 .8 .8 .8 .2 .8 1 .8-1.1 .8 .4 .8 0" fill="none" stroke="#485a26" stroke-width="1.3" stroke-linejoin="round"/>
<path d="M499.6 764.1l.2-2.7 .2-1.1 0 .4 .1-.3 .2 2.8 .3 3.7" fill="none" stroke="#485a26" stroke-width="0.6" stroke-opacity="0.7"/>
<path d="M503.3 766.7l.3-6.3 .2-6 .2-1.8 0 .7 .1 .6 .2 4.2 .3 5.6" fill="none" stroke="#485a26" stroke-width="0.6" stroke-opacity="0.7"/>
<path d="M507 767.8l.3-4.9 .3-9 .2-9.5 .2-2.9 0-.2 .1 0 .2 5.8 .3 11.7 .2 7.2 .1 .6" fill="none" stroke="#485a26" stroke-width="0.6" stroke-opacity="0.7"/>
<path d="M511 766.3l.3-7.9 .3-13.6 .2-15.5 .2-4.6 0 .3 .1-.4 .2 9.2 .3 16.6 .2 11.3 .1 2.6 .1 2.4" fill="none" stroke="#485a26" stroke-width="0.6" stroke-opacity="0.7"/>
<path d="M515 767.4l.3-6.8 .3-12.9 .2-13.2 .2-5.7 0 .6 .1 .8 .2 8.5 .3 15.1 .2 9.1 .1 2.3 .1 2.7" fill="none" stroke="#485a26" stroke-width="0.6" stroke-opacity="0.7"/>
<path d="M519 766.9l.3-5.7 .3-12.1 .2-13 .2-4.8 0 1.4 .1-.3 .1 3.6 .1 4.4 .1 8.1 .2 4.8 .1 8 .1 2.3 .1 2.7 .1 1.1" fill="none" stroke="#485a26" stroke-width="0.6" stroke-opacity="0.7"/>
<path d="M521.6 767.9l.1-2.7 .1-1.8 .2-2.3 0-3.4 .2-3.1 .2-1.5 0 .3 .1 .1 .2 4 .3 6.8 .2 3.6" fill="none" stroke="#485a26" stroke-width="0.6" stroke-opacity="0.7"/>
<path d="M102.5 788.7l.8-.8 .8 .6 .8 .6 .8-1.1 .8 .6 .8-.7 .8-.6 .8 .3 .8 .9 .8-1 .8 .8 .8-.4 .8-.4 .8 .3 .8 .1 .8 .2 .8 .9 .8 .3 .8-1.2 .8 1.1 .8-.4 .8 .6 .8-.1 .8-.6 .8-.7 .8 1.2 .8 .5 .8-.6 .8-1.2 .8 1.1 .8 .2 .8 .3 .8 .3 .8 .1 .8-.4 .8-.8 .8 0 .8 0 .8 .5 .8-.1 .8 .4 .8-.5 .8 0 .8 .8 .8-.1 .8 .3 .8-.4 .8-1.3 .8 .3 .8-.2 .8-.1 .8-.3 .8-.1 .8 .7 .8 .9 .8 .4 .8 .3 .8-.6 .8-1.3 .8-.1 .8-.2 .8 1.5 .8-.6 .8 .7 .8-.4 .8 .2 .8 .6 .8-.2 .8-1.2 .8 .8 .8-.4 .8 1.2 .8-1 .8-.4 .8 1.3 .8-.7 .8-.8 .8 1.2 .8 .6 .8-.6 .8-.9 .8 1.2 .8-.7 .8-.4 .8-.5 .8 1.5 .8-.8 .8-.4 .8 .3 .8 .8 .8 .9 .8-1.3 .8 .4 .8-.5 .8 1 .8-.4 .8 .2 .8 .4 .8-.4 .8-.3 .8-1 .8 .1 .8 1 .8 .5 .8-.2 .8-1.1 .8 1.1 .8 .5 .8 .2 .8-.1 .8-.2 .8-.7 .8-.2 .8-.4 .8 .8 .8-.3 .8 .8 .8-.8 .8-.2 .8-.4 .8 .2 .8 1.1 .8 .5 .8 .3 .8-1.6 .8 .8 .8 0 .8-.4 .8 1.1 .8-.2 .8-.8 .8 .8 .8-.5 .8-.1 .8 0 .8 0 .8-.9 .8 1.4 .8-.7 .8 .2 .8-.5 .8 .6 .8-.8 .8-.3 .8 .3 .8 1.5 .8 0 .8 .1 .8-1.2 .8 .4 .8 .7 .8 .2 .8-.5 .8-.9 .8 .4 .8 1.2 .8 .3 .8-.5 .8-.6 .8 .3 .8 .1 .8-.2 .8 .7 .8-.3 .8-1.1 .8 1 .8 .3 .8-1.2 .8 .6 .8 1.1 .8-.4 .8 0 .8-.4 .8-.2 .8 1.1 .8-1.1 .8 .1 .8-.7 .8 .6 .8 .5 .8 .2 .8 .7 .8-1.3 .8-.4 .8 .2 .8 0 .8 1.2 .8-1.1 .8 .2 .8 1.2 .8-.8 .8-.2 .8-.1 .8-.2 .8 0 .8 1 .8-1.3 .8-.3 .8 1.4 .8 .3 .8-.5 .8-.1 .8 0 .8-.4 .8 .2 .8 0 .8 .4 .8-.3 .8 .4 .8-1 .8 1.7 .8-1.5 .8 .5 .8 0 .8-.5 .8 1.5 .8-.5 .8-.7 .8 .1 .8-.3 .8 .7 .8 1.1 .8 .3 .8-1.4 .8 .6 .8-.1 .8 .4 .8-1.1 .8-.6 .8 0 .8 1.6 .8-1.2 .8-.4 .8 .8 .8-.6 .8 .1 .8 1.6 .8-1.1 .8 .9 .8 .4 .8-.6 .8-.2 .8-.5 .8 .1 .8 .4 .8 .2 .8 .1 .8-.4 .8 1 .8-.6 .8-.3 .8 .1 .8 .8 .8-.2 .8 .2 .8 .3 .8-.9 .8 .5 .8-1.1 .8 .5 .8 .1 .8-.1 .8-.5 .8 1.2 .8-.6 .8 0 .8-.6 .8 1.3 .8 .5 .8-1.3 .8 .1 .8-.2 .8-.2 .8 1.2 .8 0 .8 .5 .8-.2 .8-.8 .8 .7 .8-1.1 .8 .6 .8 .1 .8-.9 .8 .2 .8 .5 .8-.6 .8-.2 .8 1 .8 1 .8-.5 .8 .7 .8-.8 .8-.9 .8-.2 .8 .5 .8 1.1 .8 .1 .8 .4 .8-.6 .8 .2 .8-.4 .8-.8 .8 .5 .8-.4 .8 1 .8 .3 .8-1.1 .8-.5 .8 .2 .8-.5 .8 .2 .8 1.7 .8 .4 .8-.9 .8 .7 .8-1.2 .8 1.3 .8-.4 .8-.1 .8-.7 .8-.7 .8 .9 .8 .4 .8 .3 .8 .3 .8 .4 .8-1.7 .8 .8 .8-.9 .8 1.2 .8-.2 .8-1.1 .8 .5 .8 1 .8 .4 .8 .2 .8-.7 .8 .1 .8 .1 .8-.4 .8 .5 .8-1.1 .8-.2 .8 .8 .8 .5 .8 .6 .8-1.6 .8 1.4 .8-1 .8-.1 .8 .6 .8 .8 .8-1.3 .8 0 .8 1 .8 .2 .8-.8 .8-.5 .8 .9 .8-.9 .8 .1 .8-.7 .8 .2 .8 .6 .8 .3 .8 .6 .8-.1 .8-.8 .8 .1 .8-.3 .8-.2 .8-.1 .8 1.6 .8 .2 .8 .1 .8-.2 .8-.9 .8 .6 .8-.2 .8 .5 .8-.3 .8 0 .8-1 .8 1.2 .8 0 .8-.3 .8-.7 .8 .6 .8-.3 .8-.5 .8 1 .8 .1 .8 .3 .8 .5 .8-1.1 .8 .1 .8-1 .8 .8 .8 .6 .8-.6 .8-1 .8 1.1 .8-.3 .8-.5 .8 1 .8-.4 .8 .1 .8 .2 .8-.3 .8 .4 .8-.6 .8-.4 .8 .4 .8 .8 .8-.7 .8-.5 .8 0 .8 .2 .8-.4 .8 .6 .8 .4 .8 .9 .8-1.5 .8-.1 .8-.3 .8 .4 .8 1.1 .8-1.1 .8 .4 .8-.1 .8 .9 .8-.4 .8 .8 .8 0 .8 .1 .8-.3 .8-1.4 .8-.4 .8 1.6 .8-1.1 .8-.5 .8 .9 .8 .2 .8-.8 .8 .3 .8 .1 .8 .1 .8-.2 .8-.5 .8 .9 .8-.3 .8 .9 .8 .5 .8-1.7 .8 .9 .8 .3 .8-.8 .8 .3 .8-.5 .8 1 .8-.8 .8 .4 .8-.6 .8 1 .8-1 .8 1.2 .8-1.2 .8 .1 .8 .6 .8-.4 .8 .7 .8-1.1 .8 1.4 .8-.6 .8 .6 .8-1.3 .8 .1 .8 .2 .8 1 .8 .3 .1-1.1 .2-.3 .3-.2 .2-.7 .1-.1 .2 1.1 .2-1.4 .3-.3 .3-3.2 .2-3.6 .2-1 0-.3 .1 1.2 .2 1.2 .3 3.7 .2 2.1 .1 .8 .1-.5 .3 1.3 .3-.7 .1 .3 .1 1.1 .2 .4 .5-.8 .8-.4 .8-.2 .4 0 .3 .5 .1-1.3 .1-1 .2 .3 .3-1.6 .2-3.1 .1-1.4 .2-14 .2-24.8 .3-26.6 .2-9.7 .1 .8 .2 18.8 .2 28.1 .1 4.6 .2 16.1 .3 8.7 .2 3.6 .1 1.4 .1-1.1 .3 1.6 .3 0 .1 .9 .8-.7 .8-.2 .8-.3 .8 1 .1-1.1 .2-.2 .3 .2 .2 1.3 .1 .4 .2-.7 .2-.8 .3-2.6 .3-3.2 .2-3.4 .2-2.3 0-.6 .1 .2 .2 2.9 .3 4.2 .2 2.9 .1 1.2 .1 1.5 .3 .2 .3-.6 .1 .1 .1-.6 .2 1.3 .5-1.3 .8 .7 .8 .6 .8 0 .8-1.3 .1 1.1 .2-.3 .3 .6 .2-1.3 .1 .4 .2 .9 .2-1.7 .3-.1 .3-2.7 .2-2.7 .2-1.5 0 .5 .1-.4 .2 1.3 .3 2.4 .2 2 .1 1.4 .1 .2 .3 1.2 .3-.9 .1-.2 .1 .9 .2-.1 .5-.9 .8 .6 .8-.4 .1 1.2 .2-.1 .3-.2 .2-.8 .1 .8 .2 .1 .2-.7 .3-1.7 .3-1.7 .2-3.1 .2-1.6 0 .4 .1 .1 .2 2.2 .3 1.8 .2 2.8 .1-.5 .1 .9 .3 0 .3 1.3 .1-.5 .1-.8 .2-.2 .5 0 .1 .6 .2-.5 .3 1 .2-.2 .1-1.3 .2-1.4 .2-2.6 .3-6.1 .3-12.9 .2-14 .2-4.7 0 1.3 .1-.1 .2 9.9 .3 14.9 .2 10.7 .1 1.6 .1 2 .3 1.5 .3 1.2 .1-.4 .1-1 .2 .2 .5 1.7 .8-1.4 .8 .8 .8 .8 .8-.7 .8-.1 .8 .1 .8-.9 .8 .5 .8 1.1 .1-.7 .2-.6 .3 1.1 .2 .2 .1-.4 .2-.1 .2-1.2 .3-.8 .3-1.8 .2-3.7 .2-.6 0-.1 .1 0 .2 2.2 .3 1.8 .2 1.7 .1 1.2 .1 .4 .3 .6 .3-.6 .1 .2 .1 1 .2-.5 .5-.8 .8 1.5 .8 0 .8-.1 .8 .1 .8 0 .8-.1 .8-1.2 .8-.5 .8-.1 .8 1.6 .8-1.1 .8 .1 .8 1.2 .8-.9 .8 .6 .8-.9 .8-.4 .8 .7 .8 .7 .8-1 .8 1.2 .8-.2 .8 0 .8-.6 .8-.6 .8 .6 .8 .8 .8-.6 .8-.2 .8 .5 .8-1 .8-.3 .8 .7 .8 .5 .8 .1 .8-1 .8 .6 .8 1 .8-1.3 .8 1.3 .8-.4 .8 .7 .8-1.4 .8 .1 .8-.4 .8 .5 .8 .7 .8-.8 .8 .4 .8 .7 .8-.3 .8-.4 .8-.7 .8 1.2 .8 .5 .8-1.3 .8-.3 .8 1.2 .8-.8 .8-.3 .8 .5 .8 .6 .8-1.3 .8 .6 .8-.8 .8 1.1 .8-.9 .8 .6 .8-.1 .8 .1 .8 .8 .8-1.6 .8 1.2 .8-.7 .8 .5 .8-.6 .8-.1 .8-.2 .8 .5 .8-.6 .8 1 .8 .3 .8 .2 .8-1.2 .8 .8 .8 .2 .8 .2 .8-1.1 .8 .4 .8-.3 .8 1.1 .8 .3 .8-1.3 .8-.3 .8 0 .8 1 .8 0 .8 .7 .8-1.5 .8-.4 .8-.1 .8 .7 .8 .1 .8 .1 .8 .7 .8-.4 .8-.6 .8-.2 .8-.3 .8 .1 .8-.3 .8 .2 .8 .5 .8-.6 .8 .5 .8 .9 .8-.1 .8-1.2 .8-.2 .8 1.7 .8-1.2 .8 1.2 .8-.7 .8-.2 .8-.8 .8 .9 .8-.3 .8-.6 .8-.1 .8 .3 .8 .2 .8 1.2 .8 .4 .8-1.6 .8 .4 .8 .7 .8-1.3 .8 1.2 .8 .6 .8-1.1 .8-.1 .8-.6 .8 .3 .8-.4 .8 .7 .8 .2 .8-.1 .8 1.1 .8-.5 .8 .6 .8 .1 .8-.9 .8-.5 .8 0 .8-.4 .8 1.3 .8 .5 .8-.2 .8-.5 .8-.5 .8-.2 .8 .6 .8-.4 .8 .1 .8-.7 .8 .8 .8-1 .8-.1 .8 .1 .8 .9 .8 .1 .8 .3 .8-.7 .8 1.1 .8-.7 .8-.8 .8 .9 .8 .9 .8-1.1 .8 .5 .8-.3 .8 .2 .8 .3 .8-.5 .8-.3 .8-.8 .8-.1 .8 1.3 .8 .5 .8-.5 .8-.2 .8 .3 .8-.8 .8 0 .8-.2 .8 0 .8 1.3 .8-.6" fill="none" stroke="#4dbeee" stroke-width="2.2" stroke-linejoin="round"/>
<path d="M102.5 788.7l.8-.8 .8 .6 .8 .6 .8-1.1 .8 .6 .8-.7 .8-.6 .8 .3 .8 .9 .8-1 .8 .8 .8-.4 .8-.4 .8 .3 .8 .1 .8 .2 .8 .9 .8 .3 .8-1.2 .8 1.1 .8-.4 .8 .6 .8-.1 .8-.6 .8-.7 .8 1.2 .8 .5 .8-.6 .8-1.2 .8 1.1 .8 .2 .8 .3 .8 .3 .8 .1 .8-.4 .8-.8 .8 0 .8 0 .8 .5 .8-.1 .8 .4 .8-.5 .8 0 .8 .8 .8-.1 .8 .3 .8-.4 .8-1.3 .8 .3 .8-.2 .8-.1 .8-.3 .8-.1 .8 .7 .8 .9 .8 .4 .8 .3 .8-.6 .8-1.3 .8-.1 .8-.2 .8 1.5 .8-.6 .8 .7 .8-.4 .8 .2 .8 .6 .8-.2 .8-1.2 .8 .8 .8-.4 .8 1.2 .8-1 .8-.4 .8 1.3 .8-.7 .8-.8 .8 1.2 .8 .6 .8-.6 .8-.9 .8 1.2 .8-.7 .8-.4 .8-.5 .8 1.5 .8-.8 .8-.4 .8 .3 .8 .8 .8 .9 .8-1.3 .8 .4 .8-.5 .8 1 .8-.4 .8 .2 .8 .4 .8-.4 .8-.3 .8-1 .8 .1 .8 1 .8 .5 .8-.2 .8-1.1 .8 1.1 .8 .5 .8 .2 .8-.1 .8-.2 .8-.7 .8-.2 .8-.4 .8 .8 .8-.3 .8 .8 .8-.8 .8-.2 .8-.4 .8 .2 .8 1.1 .8 .5 .8 .3 .8-1.6 .8 .8 .8 0 .8-.4 .8 1.1 .8-.2 .8-.8 .8 .8 .8-.5 .8-.1 .8 0 .8 0 .8-.9 .8 1.4 .8-.7 .8 .2 .8-.5 .8 .6 .8-.8 .8-.3 .8 .3 .8 1.5 .8 0 .8 .1 .8-1.2 .8 .4 .8 .7 .8 .2 .8-.5 .8-.9 .8 .4 .8 1.2 .8 .3 .8-.5 .8-.6 .8 .3 .8 .1 .8-.2 .8 .7 .8-.3 .8-1.1 .8 1 .8 .3 .8-1.2 .8 .6 .8 1.1 .8-.4 .8 0 .8-.4 .8-.2 .8 1.1 .8-1.1 .8 .1 .8-.7 .8 .6 .8 .5 .8 .2 .8 .7 .8-1.3 .8-.4 .8 .2 .8 0 .8 1.2 .8-1.1 .8 .2 .8 1.2 .8-.8 .8-.2 .8-.1 .8-.2 .8 0 .8 1 .8-1.3 .8-.3 .8 1.4 .8 .3 .8-.5 .8-.1 .8 0 .8-.4 .8 .2 .8 0 .8 .4 .8-.3 .8 .4 .8-1 .8 1.7 .8-1.5 .8 .5 .8 0 .8-.5 .8 1.5 .8-.5 .8-.7 .8 .1 .8-.3 .8 .7 .8 1.1 .8 .3 .8-1.4 .8 .6 .8-.1 .8 .4 .8-1.1 .8-.6 .8 0 .8 1.6 .8-1.2 .8-.4 .8 .8 .8-.6 .8 .1 .8 1.6 .8-1.1 .8 .9 .8 .4 .8-.6 .8-.2 .8-.5 .8 .1 .8 .4 .8 .2 .8 .1 .8-.4 .8 1 .8-.6 .8-.3 .8 .1 .8 .8 .8-.2 .8 .2 .8 .3 .8-.9 .8 .5 .8-1.1 .8 .5 .8 .1 .8-.1 .8-.5 .8 1.2 .8-.6 .8 0 .8-.6 .8 1.3 .8 .5 .8-1.3 .8 .1 .8-.2 .8-.2 .8 1.2 .8 0 .8 .5 .8-.2 .8-.8 .8 .7 .8-1.1 .8 .6 .8 .1 .8-.9 .8 .2 .8 .5 .8-.6 .8-.2 .8 1 .8 1 .8-.5 .8 .7 .8-.8 .8-.9 .8-.2 .8 .5 .8 1.1 .8 .1 .8 .4 .8-.6 .8 .2 .8-.4 .8-.8 .8 .5 .8-.4 .8 1 .8 .3 .8-1.1 .8-.5 .8 .2 .8-.5 .8 .2 .8 1.7 .8 .4 .8-.9 .8 .7 .8-1.2 .8 1.3 .8-.4 .8-.1 .8-.7 .8-.7 .8 .9 .8 .4 .8 .3 .8 .3 .8 .4 .8-1.7 .8 .8 .8-.9 .8 1.2 .8-.2 .8-1.1 .8 .5 .8 1 .8 .4 .8 .2 .8-.7 .8 .1 .8 .1 .8-.4 .8 .5 .8-1.1 .8-.2 .8 .8 .8 .5 .8 .6 .8-1.6 .8 1.4 .8-1 .8-.1 .8 .6 .8 .8 .8-1.3 .8 0 .8 1 .8 .2 .8-.8 .8-.5 .8 .9 .8-.9 .8 .1 .8-.7 .8 .2 .8 .6 .8 .3 .8 .6 .8-.1 .8-.8 .8 .1 .8-.3 .8-.2 .8-.1 .8 1.6 .8 .2 .8 .1 .8-.2 .8-.9 .8 .6 .8-.2 .8 .5 .8-.3 .8 0 .8-1 .8 1.2 .8 0 .8-.3 .8-.7 .8 .6 .8-.3 .8-.5 .8 1 .8 .1 .8 .3 .8 .5 .8-1.1 .8 .1 .8-1 .8 .8 .8 .6 .8-.6 .8-1 .8 1.1 .8-.3 .8-.5 .8 1 .8-.4 .8 .1 .8 .2 .8-.3 .8 .4 .8-.6 .8-.4 .8 .4 .8 .8 .8-.7 .8-.5 .8 0 .8 .2 .8-.4 .8 .6 .8 .4 .8 .9 .8-1.5 .8-.1 .8-.3 .8 .4 .8 1.1 .8-1.1 .8 .4 .8-.1 .8 .9 .8-.4 .8 .8 .8 0 .8 .1 .8-.3 .8-1.4 .8-.4 .8 1.6 .8-1.1 .8-.5 .8 .9 .8 .2 .8-.8 .8 .3 .8 .1 .8 .1 .8-.2 .8-.5 .8 .9 .8-.3 .8 .9 .8 .5 .8-1.7 .8 .9 .8 .3 .8-.8 .8 .3 .8-.5 .8 1 .8-.8 .8 .4 .8-.6 .8 1 .8-1 .8 1.2 .8-1.2 .8 .1 .8 .6 .8-.4 .8 .7 .8-1.1 .8 1.4 .8-.6 .8 .6 .8-1.3 .8 .1 .8 .2 .8 1 .8 .4 .8-2.2 .8 1.4 .7-1.4 .8 .9 .8-.5 .9 1 .8-.4 .8 0 .8-.2 .8 0 .8 .8 .7-1 .8 .3 .8 .4 .9-.3 .8-.3 .8-.4 .8 1 .8 .4 .8-1 .7-.4 .8 .2 .8 .3 .9-.6 .8 .7 .8 .6 .8 0 .8-1.3 .8 .1 .8 1.3 .7-.8 .8-.9 .8 .7 .9-.4 .8 .6 .8-.3 .8 .2 .8 .3 .7-.5 .8 .9 .8 .5 .9-1.4 .8 1.3 .8-1.2 .7 1.2 .8 .4 .8-.5 .9 0 .8-1.4 .8 .7 .8 .7 .8-.7 .8 0 .8 0 .8-.8 .8 .5 .8 1 .8 .1 .8-.6 .7-.7 .8-.4 .8 .4 .9-.3 .8 1.6 .8-.1 .8-.1 .8 .1 .8 0 .8-.1 .8-1.2 .8-.5 .8-.1 .8 1.6 .8-1.1 .8 .1 .8 1.2 .8-.9 .8 .6 .8-.9 .8-.4 .8 .7 .8 .7 .8-1 .8 1.2 .8-.2 .8 0 .8-.6 .8-.6 .8 .6 .8 .8 .8-.6 .8-.2 .8 .5 .8-1 .8-.3 .8 .7 .8 .5 .8 .1 .8-1 .8 .6 .8 1 .8-1.3 .8 1.3 .8-.4 .8 .7 .8-1.4 .8 .1 .8-.4 .8 .5 .8 .7 .8-.8 .8 .4 .8 .7 .8-.3 .8-.4 .8-.7 .8 1.2 .8 .5 .8-1.3 .8-.3 .8 1.2 .8-.8 .8-.3 .8 .5 .8 .6 .8-1.3 .8 .6 .8-.8 .8 1.1 .8-.9 .8 .6 .8-.1 .8 .1 .8 .8 .8-1.6 .8 1.2 .8-.7 .8 .5 .8-.6 .8-.1 .8-.2 .8 .5 .8-.6 .8 1 .8 .3 .8 .2 .8-1.2 .8 .8 .8 .2 .8 .2 .8-1.1 .8 .4 .8-.3 .8 1.1 .8 .3 .8-1.3 .8-.3 .8 0 .8 1 .8 0 .8 .7 .8-1.5 .8-.4 .8-.1 .8 .7 .8 .1 .8 .1 .8 .7 .8-.4 .8-.6 .8-.2 .8-.3 .8 .1 .8-.3 .8 .2 .8 .5 .8-.6 .8 .5 .8 .9 .8-.1 .8-1.2 .8-.2 .8 1.7 .8-1.2 .8 1.2 .8-.7 .8-.2 .8-.8 .8 .9 .8-.3 .8-.6 .8-.1 .8 .3 .8 .2 .8 1.2 .8 .4 .8-1.6 .8 .4 .8 .7 .8-1.3 .8 1.2 .8 .6 .8-1.1 .8-.1 .8-.6 .8 .3 .8-.4 .8 .7 .8 .2 .8-.1 .8 1.1 .8-.5 .8 .6 .8 .1 .8-.9 .8-.5 .8 0 .8-.4 .8 1.3 .8 .5 .8-.2 .8-.5 .8-.5 .8-.2 .8 .6 .8-.4 .8 .1 .8-.7 .8 .8 .8-1 .8-.1 .8 .1 .8 .9 .8 .1 .8 .3 .8-.7 .8 1.1 .8-.7 .8-.8 .8 .9 .8 .9 .8-1.1 .8 .5 .8-.3 .8 .2 .8 .3 .8-.5 .8-.3 .8-.8 .8-.1 .8 1.3 .8 .5 .8-.5 .8-.2 .8 .3 .8-.8 .8 0 .8-.2 .8 0 .8 1.3 .8-.6" fill="none" stroke="#2d6f95" stroke-width="1.3" stroke-linejoin="round"/>
<path d="M488.4 790.4l.2-3.6 .2-1 0-.3 .1 1.2 .2 1.2 .3 3.7" fill="none" stroke="#2d6f95" stroke-width="0.6" stroke-opacity="0.7"/>
<path d="M494.3 791.9l.2-3.1 .1-1.4 .2-14 .2-24.8 .3-26.6 .2-9.7 .1 .8 .2 18.8 .2 28.1 .1 4.6 .2 16.1 .3 8.7" fill="none" stroke="#2d6f95" stroke-width="0.6" stroke-opacity="0.7"/>
<path d="M502.5 792.1l.3-3.2 .2-3.4 .2-2.3 0-.6 .1 .2 .2 2.9 .3 4.2" fill="none" stroke="#2d6f95" stroke-width="0.6" stroke-opacity="0.7"/>
<path d="M510.8 791.5l.2-2.7 .2-1.5 0 .5 .1-.4 .2 1.3 .3 2.4" fill="none" stroke="#2d6f95" stroke-width="0.6" stroke-opacity="0.7"/>
<path d="M517.2 791.8l.2-3.1 .2-1.6 0 .4 .1 .1 .2 2.2 .3 1.8" fill="none" stroke="#2d6f95" stroke-width="0.6" stroke-opacity="0.7"/>
<path d="M521.4 790.2l.3-6.1 .3-12.9 .2-14 .2-4.7 0 1.3 .1-.1 .2 9.9 .3 14.9 .2 10.7 .1 1.6" fill="none" stroke="#2d6f95" stroke-width="0.6" stroke-opacity="0.7"/>
<path d="M534 791.9l.2-3.7 .2-.6 0-.1 .1 0 .2 2.2 .3 1.8" fill="none" stroke="#2d6f95" stroke-width="0.6" stroke-opacity="0.7"/>
<path d="M102.5 806l.8 .5 .8-1.6 .8 1.4 .8 .2 .8-1.5 .8 1.1 .8 .4 .8-1.2 .8 1.3 .8-.8 .8-.1 .8 .4 .8 .2 .8 .2 .8-.8 .8 .1 .8-.6 .8 .1 .8 .5 .8-.7 .8 .4 .8 1.1 .8-1 .8 .3 .8-.7 .8 1.2 .8-.9 .8-.1 .8 1.1 .8-.2 .8 .1 .8 .2 .8-.2 .8-.1 .8-.6 .8-.2 .8 .1 .8 .1 .8 .2 .8 1.3 .8-1 .8-.5 .8 .2 .8-.2 .8 1.3 .8 .7 .8-.1 .8 .3 .8-.7 .8-.4 .8-.2 .8 .5 .8-.7 .8 .4 .8-.1 .8 .5 .8 .6 .8-.2 .8-1.1 .8 .6 .8 .4 .8-.2 .8-1 .8-.2 .8 .8 .8 .7 .8-.3 .8 .4 .8-.2 .8 .5 .8-1 .8 .9 .8 .1 .8-1.2 .8-.1 .8 .1 .8 1.1 .8 0 .8-1.1 .8 1 .8-.5 .8 .9 .8-.8 .8-.6 .8 .3 .8 .3 .8 .1 .8 .3 .8-.8 .8 .1 .8-.4 .8 1.8 .8-.5 .8-.5 .8-.4 .8 .8 .8-.9 .8 0 .8 1.1 .8 0 .8 .4 .8 .4 .8-.9 .8 .6 .8 .3 .8 .2 .8-.5 .8 .3 .8-1.4 .8 0 .8 .7 .8 .2 .8 .2 .8-.3 .8-.8 .8 .3 .8-.1 .8 .9 .8-.6 .8 .9 .8-.1 .8-.4 .8 .4 .8 .7 .8-.9 .8-.8 .8 1.4 .8-.7 .8 1 .8-.5 .8-.3 .8 .8 .8-1.2 .8 1.2 .8-.9 .8 .8 .8 .6 .8 0 .8-1 .8 1 .8-.6 .8-.6 .8 0 .8-.6 .8 1 .8-.1 .8 .2 .8 .7 .8-.6 .8-1 .8 .8 .8-.7 .8 .8 .8 .2 .8-.2 .8 .4 .8-1 .8 .3 .8-.2 .8 0 .8-.2 .8 .1 .8 1.4 .8 .6 .8-.5 .8 .2 .8-1.4 .8 .2 .8 .8 .8 .7 .8-1.5 .8 1.4 .8 .5 .8-1.7 .8 .2 .8 1.1 .8-.8 .8-.6 .8 .7 .8 .3 .8 .4 .8-1 .8 .3 .8-.6 .8 1.4 .8 .3 .8 .2 .8-1.5 .8-.4 .8 1.2 .8-.4 .8 .7 .8-.2 .8-1.3 .8-.2 .8 1.2 .8-.5 .8 .1 .8 .4 .8-.9 .8-.2 .8 .7 .8-.7 .8 .4 .8 .3 .8-.5 .8-.2 .8 1.3 .8 .3 .8-.3 .8-.2 .8 .9 .8-.6 .8-.8 .8 .5 .8 .1 .8 .1 .8-.3 .8 .2 .8-.8 .8 1 .8 .7 .8 0 .8 .2 .8 .3 .8-.9 .8-.3 .8 .5 .8-.9 .8-.1 .8 .6 .8-.9 .8 1.6 .8 .4 .8-.7 .8 0 .8-.6 .8 .1 .8-.7 .8 .3 .8-.2 .8 .4 .8 .6 .8 .6 .8-1.3 .8-.3 .8 .9 .8 .9 .8-.5 .8-.2 .8 .6 .8-1.1 .8-.7 .8 .8 .8 .4 .8-.8 .8 .9 .8 .1 .8 .5 .8-.8 .8-.8 .8 .1 .8 0 .8 .3 .8 .7 .8-.5 .8 1.2 .8-1.2 .8 1 .8-.9 .8 1.1 .8-1.1 .8 .4 .8-.5 .8 .8 .8 0 .8 .3 .8-.6 .8-.6 .8 .1 .8 1.1 .8-.3 .8-.8 .8-.4 .8 .8 .8 .8 .8 0 .8 .2 .8-1.4 .8 .4 .8-.2 .8-.1 .8 1.3 .8 .3 .8-.9 .8 1 .8-1.3 .8 .9 .8-.5 .8-.1 .8 1 .8 0 .8-.2 .8-.2 .8 0 .8 .3 .8-.1 .8-.7 .8 .3 .8-.3 .8-.5 .8-.4 .8 1.6 .8-.5 .8 0 .8-.7 .8 .6 .8 .9 .8-.1 .8-.1 .8-.2 .8-1.2 .8-.4 .8 .1 .8 1.1 .8 .8 .8 .4 .8-.2 .8-.1 .8-1.1 .8-.6 .8 1.3 .8-.7 .8 .6 .8 .7 .8-1.4 .8 1 .8-.6 .8 .3 .8-.2 .8 .7 .8 0 .8 .5 .8-.3 .8 .1 .8 .1 .8-.6 .8-.1 .8 0 .8-.9 .8-.4 .8 .5 .8 .3 .8-.6 .8 1.2 .8-.5 .8 .3 .8 .9 .8 .1 .8-.7 .8-.1 .8-1 .8-.2 .8 .9 .8-.7 .8 1.1 .8-.8 .8 0 .8 1 .8-.9 .8 1 .8-1.2 .8 .6 .8 .1 .8-.3 .8 0 .8 1.1 .8-1 .8-.3 .8 .4 .8 .1 .8 0 .8 .3 .8 .1 .8-.6 .8 .4 .8 .2 .8 .6 .8-1 .8-.5 .8 .2 .8 1.1 .8-.4 .8-.3 .8 .3 .8-.9 .8 .2 .8 1.3 .8-.5 .8 .3 .8-1.1 .8-.3 .8 1.6 .8-1.3 .8 1 .8-1 .8 .6 .6-.1 .2-.6 .1 .3 .2 1.2 .2-.6 .3-.2 .3-2.5 .2-1.5 .2-6.1 .1-1.2 .2-5.2 .2-2.6 .1 .1 .2 5.2 .1 3.4 .1 3.5 .3 5 .3 1.4 .1-.3 .1 .4 .2-.6 .3-.3 .2 .1 .1 .9 .7 1.1 .8-.4 .8-.2 .8 .2 .8-1 .8 .9 .8 .6 .8-1.4 .8 1.3 .8-.2 .8-.2 .8-1 .8 .8 .8 .4 .8 .5 .8-1.1 .8-.3 .8 1.3 .8 .5 .8-1 .8 .2 .8-.9 .8 .9 .8 .7 .8-1.4 .8-.1 .8 1.2 .8-1.1 .8 .8 .8-.2 .8 .4 .8-.6 .8 .8 .8-.2 .1-.3 .2-1 .3 1 .2 .3 .1-.8 .2-1.7 .2-1.4 .3-3.9 .3-7.9 .2-9.2 .2-3.9 0-.2 .1 .9 .2 6.3 .3 9.6 .2 6.9 .1 1.1 .1 2.1 .3 .2 .3 0 .1-.4 .1 .9 .2-.9 .3 1.2 .2-.8 .1 .7 .2-1 .2-3.5 .3-5.4 .3-13.2 .2-14.3 .2-4.3 0 .6 .1 0 .2 8.6 .3 15.1 .2 9.6 .1 2 .1 2.6 .3 2.8 .3 .7 .1 .2 .1 .2 .2-.6 .3-1.3 .2 .1 .1 .2 .2-1.2 .2-3.5 .3-9.7 .3-18.2 .2-21.4 .2-6.6 0-.2 .1 2.7 .2 12 .3 21.9 .2 13.9 .1 3.7 .1 1.6 0 2.2 .2 1.4 .1-.2 .2 1.3 .1 0 .1-.8 .1-.1 0 1.2 .2-2 0 .8 .2-3.3 .3-9.3 .3-18.2 .2-20.4 .2-7.9 0 1.3 .1 .2 .2 13.6 .3 21.5 .2 14.6 .1 2.8 .1 4 .3 1.5 .3 .6 .1 .7 .1 .1 .2-.3 .3 .7 .2-1.5 .1 .8 .2-.9 .2-3.3 .3-9.2 .3-15.7 .2-17.3 .2-6.4 0 2 .1 1.3 .2 10.6 .3 17.6 .2 12.8 .1 2.5 .1 2.9 0 .5 .2 1.9 .1-.4 .2 0 .1 0 .1 .9 .1-.9 0-.2 .2-.1 0 .2 .2-.9 .3-6.5 .3-12.1 .2-13.1 .2-4.8 0-.4 .1 2 .2 8.5 .3 12.4 .2 9.7 .1 3.1 .1 2 .3 2.3 .3-.2 .1 .4 .1-1.1 .2-.2 .5-.2 .1 1 .2-.7 .3 1 .2-.1 .1-.1 .2-.5 .2-1 .3-5.6 .3-8.4 .2-8.5 .2-1.8 0-.1 .1 .7 .2 4.3 .3 9 .2 7.4 .1 2.5 .1 1.2 .3-.1 .3 1.3 .1-1.1 .1 .1 .2 1.4 .3-.3 .2-.2 .1-.4 .2 .9 .2-1.2 .3-2.2 .3-3.9 .2-3.9 .2-.3 0-.4 .1 .2 .2 2.3 .3 5 .2 1.6 .1 1.9 .1 .8 0-.2 .2-.9 .1 .4 .2 .2 .1-.1 .1 .1 .1-.1 0 .6 .2-.2 0-.1 .2-1.1 .3-2.1 .3-2.9 .2-4.3 .2-.9 0 0 .1 .1 .2 2.8 .3 3.7 .2 2.9 .1 .4 .1 1.3 .3 .8 .3-.7 .1 .3 .1 .3 .2 .5 .3 0 .2-1.5 .1 .9 .2-1.1 .2-1 .3-.1 .3-2.3 .2-2.5 .2 .3 0 .8 .1-.7 .2 1.8 .3 1.8 .2 1.2 .1 1.2 .1 .8 .3-.6 .3-.7 .1 .9 .1 .6 .2-.5 .5 .7 .8 0 .8-1.2 .8 0 .8 .7 .8-.9 .8 .3 .8 1.1 .8-1.2 .8-.5 .8 1.6 .8 .2 .8-.9 .8-.6 .8 .1 .8 .3 .8 .4 .8-1 .8 .3 .8-.5 .8 .9 .8-.2 .8 .4 .8-.2 .8-.3 .8 1.1 .8-.5 .8 .8 .8 .4 .8-1.6 .8 .6 .8 .8 .8-.2 .8 .2 .8-1 .8 .6 .8-1 .8 .8 .8-.5 .8-.1 .8-.3 .8-.1 .8-.1 .8 .3 .8 1.2 .8 0 .8-1.5 .8 1.5 .8-.9 .8 .4 .8 .5 .8-.1 .8-.3 .8 .7 .8-.9 .8-1 .8 .9 .8-.3 .8-.3 .8 .6 .8-.3 .8 .4 .8 .2 .8-.8 .8 .6 .8-.2 .8 .6 .8-.8 .8 1 .8 .3 .8-1.5 .8-.4 .8 1.1 .8 .5 .8-1.3 .8-.1 .8-.2 .8 .9 .8-.1 .8 0 .8-.6 .8 .9 .8 1 .8-.8 .8 .5 .8-1.3 .8 1.4 .8-.6 .8-.5 .8 .5 .8-.7 .8 .7 .8 .2 .8 .1 .8-.4 .8-.3 .8 .8 .8 .6 .8-1.4 .8 .7 .8 .1 .8-.4 .8-.2 .8-.1 .8 1 .8-.1 .8 0 .8 .4 .8 0 .8-.3 .8-1 .8-.2 .8 .2 .8 .4 .8-.4 .8-.5 .8 .1 .8-.3 .8 1.5 .8-.9 .8 .2 .8 .2 .8-.8 .8 .4 .8-.6 .8 .1 .8 1 .8-.4 .8 .7 .8-1.2 .8 .2 .8 .4 .8 .6 .8 .2 .8-.5 .8-.9 .8 .6 .8-.7 .8 1.4 .8-.9 .8-.3 .8 .3 .8 .7 .8-.4 .8 .2 .8 .1 .8-1 .8 1.7 .8 0 .8-1.3 .8 .6 .8 .7 .8-1.1 .8 1.1 .8-.7 .8 .3 .8 .4 .8 .4 .8-.4 .8-.6 .8-.8 .8 1.1 .8-.8 .8 1.2 .8-1.2 .8 .8 .8 .8 .8-1.5 .8 1.2 .8-.1 .8-.5 .8-.5 .8 1.2 .8-1.1 .8-.6 .8 1.5 .8-.9 .8-.3 .8 .2 .8 1.2 .8 .5 .8-1.4 .8 .4 .8 .4 .8-.5 .8 .8 .8-1.3 .8 1 .8-.6 .8 .6 .8 0 .8 .4 .8-1.3 .8 .3 .8 .3 .8-1 .8 .5 .8-.4 .8-.2 .8 1.2 .8-.3 .8 .7 .8-.1 .8-1.1 .8 .5 .8 .7 .8-.5 .8-.7 .8 .7 .8 .9 .8-.3 .8-.1 .8 .3 .8-.7 .8 .3 .8 .3 .8 0 .8-.1 .8 .4 .8-.8 .8-1 .8 .4 .8 .5 .8-.5 .8-.1 .8 .8 .8-1.2 .8 0 .8 .4 .8 1.3 .8 .1 .8 .2 .8 .2 .8-1.3 .8-.4 .8-.1 .8 1.2 .8-.4 .8-.6 .8 1.2 .8-.5 .8-.4 .8-.7 .8 .4 .8 .6 .8-.1" fill="none" stroke="#a2142f" stroke-width="2.2" stroke-linejoin="round"/>
<path d="M102.5 806l.8 .5 .8-1.6 .8 1.4 .8 .2 .8-1.5 .8 1.1 .8 .4 .8-1.2 .8 1.3 .8-.8 .8-.1 .8 .4 .8 .2 .8 .2 .8-.8 .8 .1 .8-.6 .8 .1 .8 .5 .8-.7 .8 .4 .8 1.1 .8-1 .8 .3 .8-.7 .8 1.2 .8-.9 .8-.1 .8 1.1 .8-.2 .8 .1 .8 .2 .8-.2 .8-.1 .8-.6 .8-.2 .8 .1 .8 .1 .8 .2 .8 1.3 .8-1 .8-.5 .8 .2 .8-.2 .8 1.3 .8 .7 .8-.1 .8 .3 .8-.7 .8-.4 .8-.2 .8 .5 .8-.7 .8 .4 .8-.1 .8 .5 .8 .6 .8-.2 .8-1.1 .8 .6 .8 .4 .8-.2 .8-1 .8-.2 .8 .8 .8 .7 .8-.3 .8 .4 .8-.2 .8 .5 .8-1 .8 .9 .8 .1 .8-1.2 .8-.1 .8 .1 .8 1.1 .8 0 .8-1.1 .8 1 .8-.5 .8 .9 .8-.8 .8-.6 .8 .3 .8 .3 .8 .1 .8 .3 .8-.8 .8 .1 .8-.4 .8 1.8 .8-.5 .8-.5 .8-.4 .8 .8 .8-.9 .8 0 .8 1.1 .8 0 .8 .4 .8 .4 .8-.9 .8 .6 .8 .3 .8 .2 .8-.5 .8 .3 .8-1.4 .8 0 .8 .7 .8 .2 .8 .2 .8-.3 .8-.8 .8 .3 .8-.1 .8 .9 .8-.6 .8 .9 .8-.1 .8-.4 .8 .4 .8 .7 .8-.9 .8-.8 .8 1.4 .8-.7 .8 1 .8-.5 .8-.3 .8 .8 .8-1.2 .8 1.2 .8-.9 .8 .8 .8 .6 .8 0 .8-1 .8 1 .8-.6 .8-.6 .8 0 .8-.6 .8 1 .8-.1 .8 .2 .8 .7 .8-.6 .8-1 .8 .8 .8-.7 .8 .8 .8 .2 .8-.2 .8 .4 .8-1 .8 .3 .8-.2 .8 0 .8-.2 .8 .1 .8 1.4 .8 .6 .8-.5 .8 .2 .8-1.4 .8 .2 .8 .8 .8 .7 .8-1.5 .8 1.4 .8 .5 .8-1.7 .8 .2 .8 1.1 .8-.8 .8-.6 .8 .7 .8 .3 .8 .4 .8-1 .8 .3 .8-.6 .8 1.4 .8 .3 .8 .2 .8-1.5 .8-.4 .8 1.2 .8-.4 .8 .7 .8-.2 .8-1.3 .8-.2 .8 1.2 .8-.5 .8 .1 .8 .4 .8-.9 .8-.2 .8 .7 .8-.7 .8 .4 .8 .3 .8-.5 .8-.2 .8 1.3 .8 .3 .8-.3 .8-.2 .8 .9 .8-.6 .8-.8 .8 .5 .8 .1 .8 .1 .8-.3 .8 .2 .8-.8 .8 1 .8 .7 .8 0 .8 .2 .8 .3 .8-.9 .8-.3 .8 .5 .8-.9 .8-.1 .8 .6 .8-.9 .8 1.6 .8 .4 .8-.7 .8 0 .8-.6 .8 .1 .8-.7 .8 .3 .8-.2 .8 .4 .8 .6 .8 .6 .8-1.3 .8-.3 .8 .9 .8 .9 .8-.5 .8-.2 .8 .6 .8-1.1 .8-.7 .8 .8 .8 .4 .8-.8 .8 .9 .8 .1 .8 .5 .8-.8 .8-.8 .8 .1 .8 0 .8 .3 .8 .7 .8-.5 .8 1.2 .8-1.2 .8 1 .8-.9 .8 1.1 .8-1.1 .8 .4 .8-.5 .8 .8 .8 0 .8 .3 .8-.6 .8-.6 .8 .1 .8 1.1 .8-.3 .8-.8 .8-.4 .8 .8 .8 .8 .8 0 .8 .2 .8-1.4 .8 .4 .8-.2 .8-.1 .8 1.3 .8 .3 .8-.9 .8 1 .8-1.3 .8 .9 .8-.5 .8-.1 .8 1 .8 0 .8-.2 .8-.2 .8 0 .8 .3 .8-.1 .8-.7 .8 .3 .8-.3 .8-.5 .8-.4 .8 1.6 .8-.5 .8 0 .8-.7 .8 .6 .8 .9 .8-.1 .8-.1 .8-.2 .8-1.2 .8-.4 .8 .1 .8 1.1 .8 .8 .8 .4 .8-.2 .8-.1 .8-1.1 .8-.6 .8 1.3 .8-.7 .8 .6 .8 .7 .8-1.4 .8 1 .8-.6 .8 .3 .8-.2 .8 .7 .8 0 .8 .5 .8-.3 .8 .1 .8 .1 .8-.6 .8-.1 .8 0 .8-.9 .8-.4 .8 .5 .8 .3 .8-.6 .8 1.2 .8-.5 .8 .3 .8 .9 .8 .1 .8-.7 .8-.1 .8-1 .8-.2 .8 .9 .8-.7 .8 1.1 .8-.8 .8 0 .8 1 .8-.9 .8 1 .8-1.2 .8 .6 .8 .1 .8-.3 .8 0 .8 1.1 .8-1 .8-.3 .8 .4 .8 .1 .8 0 .8 .3 .8 .1 .8-.6 .8 .4 .8 .2 .8 .6 .8-1 .8-.5 .8 .2 .8 1.1 .8-.4 .8-.3 .8 .3 .8-.9 .8 .2 .8 1.3 .8-.5 .8 .3 .8-1.1 .8-.3 .8 1.6 .8-1.2 .8 .9 .8-.9 .8 .6 .8-.6 .8 1.2 .7-.4 .8 .2 .8 .2 .7-1.7 1 1.9 .8-.5 .8-.1 .8 .1 .8-1 .8 .9 .8 .6 .8-1.4 .8 1.3 .8-.2 .8-.2 .8-1 .8 .8 .8 .4 .8 .5 .8-1.1 .8-.3 .8 1.3 .8 .5 .8-1 .8 .2 .8-.9 .8 .9 .8 .7 .8-1.4 .8-.1 .8 1.2 .8-1.1 .8 .8 .8-.1 .8 .3 .8-.5 .8 .8 .8 0 .8 .3 .8-1.1 .7-.1 .8 .5 .8-1 .7 1 .7-1.2 .8 1.1 .8-.1 .7 .4 .7 .1 .8-.8 .8 .3 .7-.4 .7 .4 .8 .5 1 .2 .7-.3 .7-.1 .8 0 .8-.1 .7-1.2 .7 1.3 .8-.6 .8-.6 .9 1.4 .7-1.2 .8 0 .8 .9 .9-1.4 .8 1.3 .8-.9 .7 1.2 .8-.7 .8 .6 .7-.1 .7-.1 .8-1.2 .8 1.6 .7-.7 .7 .5 1-1 .8 .4 .7 1.1 .7 .2 .8-1.6 .8-.1 .7 1 .7 .5 .8-.1 1.5 .1 .8-1.2 .8 0 .8 .7 .8-.9 .8 .3 .8 1.1 .8-1.2 .8-.5 .8 1.6 .8 .2 .8-.9 .8-.6 .8 .1 .8 .3 .8 .4 .8-1 .8 .3 .8-.5 .8 .9 .8-.2 .8 .4 .8-.2 .8-.3 .8 1.1 .8-.5 .8 .8 .8 .4 .8-1.6 .8 .6 .8 .8 .8-.2 .8 .2 .8-1 .8 .6 .8-1 .8 .8 .8-.5 .8-.1 .8-.3 .8-.1 .8-.1 .8 .3 .8 1.2 .8 0 .8-1.5 .8 1.5 .8-.9 .8 .4 .8 .5 .8-.1 .8-.3 .8 .7 .8-.9 .8-1 .8 .9 .8-.3 .8-.3 .8 .6 .8-.3 .8 .4 .8 .2 .8-.8 .8 .6 .8-.2 .8 .6 .8-.8 .8 1 .8 .3 .8-1.5 .8-.4 .8 1.1 .8 .5 .8-1.3 .8-.1 .8-.2 .8 .9 .8-.1 .8 0 .8-.6 .8 .9 .8 1 .8-.8 .8 .5 .8-1.3 .8 1.4 .8-.6 .8-.5 .8 .5 .8-.7 .8 .7 .8 .2 .8 .1 .8-.4 .8-.3 .8 .8 .8 .6 .8-1.4 .8 .7 .8 .1 .8-.4 .8-.2 .8-.1 .8 1 .8-.1 .8 0 .8 .4 .8 0 .8-.3 .8-1 .8-.2 .8 .2 .8 .4 .8-.4 .8-.5 .8 .1 .8-.3 .8 1.5 .8-.9 .8 .2 .8 .2 .8-.8 .8 .4 .8-.6 .8 .1 .8 1 .8-.4 .8 .7 .8-1.2 .8 .2 .8 .4 .8 .6 .8 .2 .8-.5 .8-.9 .8 .6 .8-.7 .8 1.4 .8-.9 .8-.3 .8 .3 .8 .7 .8-.4 .8 .2 .8 .1 .8-1 .8 1.7 .8 0 .8-1.3 .8 .6 .8 .7 .8-1.1 .8 1.1 .8-.7 .8 .3 .8 .4 .8 .4 .8-.4 .8-.6 .8-.8 .8 1.1 .8-.8 .8 1.2 .8-1.2 .8 .8 .8 .8 .8-1.5 .8 1.2 .8-.1 .8-.5 .8-.5 .8 1.2 .8-1.1 .8-.6 .8 1.5 .8-.9 .8-.3 .8 .2 .8 1.2 .8 .5 .8-1.4 .8 .4 .8 .4 .8-.5 .8 .8 .8-1.3 .8 1 .8-.6 .8 .6 .8 0 .8 .4 .8-1.3 .8 .3 .8 .3 .8-1 .8 .5 .8-.4 .8-.2 .8 1.2 .8-.3 .8 .7 .8-.1 .8-1.1 .8 .5 .8 .7 .8-.5 .8-.7 .8 .7 .8 .9 .8-.3 .8-.1 .8 .3 .8-.7 .8 .3 .8 .3 .8 0 .8-.1 .8 .4 .8-.8 .8-1 .8 .4 .8 .5 .8-.5 .8-.1 .8 .8 .8-1.2 .8 0 .8 .4 .8 1.3 .8 .1 .8 .2 .8 .2 .8-1.3 .8-.4 .8-.1 .8 1.2 .8-.4 .8-.6 .8 1.2 .8-.5 .8-.4 .8-.7 .8 .4 .8 .6 .8-.1" fill="none" stroke="#3a0e18" stroke-width="1.3" stroke-linejoin="round"/>
<path d="M430.2 808.9l.2-6.1 .1-1.2 .2-5.2 .2-2.6 .1 .1 .2 5.2 .1 3.4 .1 3.5" fill="none" stroke="#3a0e18" stroke-width="0.6" stroke-opacity="0.7"/>
<path d="M461.4 810l.3-3.9 .3-7.9 .2-9.2 .2-3.9 0-.2 .1 .9 .2 6.3 .3 9.6 .2 6.9 .1 1.1" fill="none" stroke="#3a0e18" stroke-width="0.6" stroke-opacity="0.7"/>
<path d="M465.4 808.2l.3-5.4 .3-13.2 .2-14.3 .2-4.3 0 .6 .1 0 .2 8.6 .3 15.1 .2 9.6 .1 2 .1 2.6" fill="none" stroke="#3a0e18" stroke-width="0.6" stroke-opacity="0.7"/>
<path d="M469.4 807.1l.3-9.7 .3-18.2 .2-21.4 .2-6.6 0-.2 .1 2.7 .2 12 .3 21.9 .2 13.9 .1 3.7 .1 1.6 0 2.2" fill="none" stroke="#3a0e18" stroke-width="0.6" stroke-opacity="0.7"/>
<path d="M472.6 807.3l.3-9.3 .3-18.2 .2-20.4 .2-7.9 0 1.3 .1 .2 .2 13.6 .3 21.5 .2 14.6 .1 2.8 .1 4" fill="none" stroke="#3a0e18" stroke-width="0.6" stroke-opacity="0.7"/>
<path d="M476.6 807.9l.3-9.2 .3-15.7 .2-17.3 .2-6.4 0 2 .1 1.3 .2 10.6 .3 17.6 .2 12.8 .1 2.5 .1 2.9 0 .5" fill="none" stroke="#3a0e18" stroke-width="0.6" stroke-opacity="0.7"/>
<path d="M479.8 810l.3-6.5 .3-12.1 .2-13.1 .2-4.8 0-.4 .1 2 .2 8.5 .3 12.4 .2 9.7 .1 3.1" fill="none" stroke="#3a0e18" stroke-width="0.6" stroke-opacity="0.7"/>
<path d="M484.9 805.8l.3-8.4 .2-8.5 .2-1.8 0-.1 .1 .7 .2 4.3 .3 9 .2 7.4" fill="none" stroke="#3a0e18" stroke-width="0.6" stroke-opacity="0.7"/>
<path d="M488.9 810.3l.3-3.9 .2-3.9 .2-.3 0-.4 .1 .2 .2 2.3 .3 5" fill="none" stroke="#3a0e18" stroke-width="0.6" stroke-opacity="0.7"/>
<path d="M492.1 810.1l.3-2.9 .2-4.3 .2-.9 0 0 .1 .1 .2 2.8 .3 3.7" fill="none" stroke="#3a0e18" stroke-width="0.6" stroke-opacity="0.7"/>
<path d="M496.4 809.3l.2-2.5 .2 .3 0 .8 .1-.7 .2 1.8" fill="none" stroke="#3a0e18" stroke-width="0.6" stroke-opacity="0.7"/>
<path d="M102.5 832.5l.8 .6 .8 .9 .8-.3 .8-.5 .8-.4 .8-.5 .8 1.6 .8 0 .8-1 .8 .4 .8 .4 .8 .5 .8-1.1 .8-.3 .8-.3 .8 .8 .8 .8 .8-.1 .8-1.2 .8 .2 .8-.6 .8 0 .8 .7 .8-.5 .8 .2 .8-.1 .8 .4 .8 1 .8-.9 .8 .5 .8-.3 .8-.3 .8-.1 .8 1 .8 .4 .8-.1 .8 .3 .8-.2 .8-.9 .8-.4 .8 .6 .8 .2 .8 .5 .8 .4 .8-.1 .8 .3 .8-.5 .8-.1 .8 .2 .8-.5 .8 .4 .8 .3 .8-.6 .8-.5 .8-.1 .8 .5 .8 .1 .8-.2 .8-.2 .8 .6 .8 .1 .8 .6 .8 .2 .8-1.8 .8 .2 .8 .8 .8-.2 .8 .2 .8-.7 .8 0 .8 1 .8 0 .8 .4 .8 .2 .8 .1 .8-.1 .8 .1 .8 0 .8 .1 .8-1 .8-.3 .8 0 .8 .6 .8 .6 .8-.4 .8-.6 .8-.8 .8-.2 .8-.1 .8 .1 .8-.3 .8 .8 .8 0 .8 1.3 .8-1.2 .8-.4 .8 1.5 .8 .5 .8-.7 .8-.1 .8-.5 .8 0 .8-.2 .8-.4 .8 1.6 .8 .3 .8 .1 .8-1.4 .8 .6 .8-1 .8 1.1 .8-1 .8 .8 .8-.7 .8 1.5 .8 .3 .8-.9 .8 .8 .8-.1 .8-1.2 .8 1 .8 .4 .8-1.1 .8 .5 .8-.6 .8-.7 .8 .7 .8-.5 .8 1.3 .8 .1 .8-.9 .8 .1 .8-.6 .8 .4 .8 .6 .8 .7 .8 .5 .8-.6 .8-.5 .8 .7 .8-.3 .8 .3 .8-.8 .8 .9 .8-1.1 .8 0 .8-.3 .8 .3 .8 .5 .8 .8 .8-1.5 .8 .6 .8-.5 .8 1.1 .8 .1 .8 .6 .8 .1 .8-.6 .8-.9 .8 .7 .8-.4 .8-.4 .8-.5 .8 1.5 .8-.5 .8-.7 .8-.1 .8-.1 .8-.2 .8 1.3 .8-.1 .8-.4 .8-.1 .8-.1 .8 .5 .8 .3 .8-1 .8 .5 .8 1 .8 0 .8-.3 .8-.4 .8-.2 .8-.4 .8 .2 .8-.3 .8-.3 .8 .1 .8 1.8 .8 .5 .8-1.7 .8 .2 .8-.5 .8 .4 .8 .6 .8-.5 .8 .3 .8-.5 .8 .6 .8-.6 .8 .2 .8 .2 .8-.1 .8 .3 .8 .7 .8-.4 .8 .7 .8-1.2 .8 .8 .8 .5 .8 .4 .8-.4 .8-.9 .8 .5 .8 .1 .8-.5 .8 .3 .8-1 .8-.4 .8 .3 .8 1.5 .8-1.3 .8 .1 .8 1.1 .8 .5 .8-.7 .8-.1 .8 .9 .8-1 .8-.7 .8 .2 .8 .9 .8-.5 .8 .4 .8-.9 .8 1.3 .8 .6 .8 .1 .8-1.4 .8 1.1 .8 .3 .8-1.3 .8 0 .8-.5 .8 .3 .8 .9 .8-1.1 .8 .9 .8 .5 .8-1.3 .8-.2 .8 1.2 .8 .5 .8-1 .8 1 .8-.2 .8-1.3 .8 1 .8-.7 .8 .1 .8 1 .8-1.3 .8 1.2 .8-.5 .8 .3 .8-.5 .8 .4 .8-.6 .8 .6 .8-.1 .8 .3 .8-1.1 .8 1.2 .8-.7 .8 1 .8-.4 .8 .3 .8-.4 .8-.7 .8 1.5 .8 0 .8 .5 .8-.5 .8-.6 .8-.2 .8 .7 .8 .3 .8 0 .8-1.1 .8-.2 .8 .2 .8-.7 .8 .2 .8 .4 .8-.3 .8 0 .8 .7 .8 .5 .8-.5 .8 .8 .8-1.3 .8-.4 .8 .2 .8 1.2 .8-.7 .8 .9 .8-.7 .8 .9 .8-.4 .8-.7 .8 1.2 .8 .6 .8 0 .8-.9 .8 0 .8-.6 .8 1 .8-.7 .8 .2 .8 .2 .8 .7 .8-.8 .8-.2 .8 .9 .8-1.3 .8-.5 .8 .4 .8-.5 .8 1.7 .8-.3 .8 .5 .8-1.3 .8 .4 .8 .8 .8-1.3 .8 1.1 .8 .7 .8 0 .8-1.4 .8 .3 .8 .2 .8 0 .8 .7 .8-.8 .8-.5 .8 1.3 .8-.3 .8 .1 .8-.2 .8 .1 .8-.9 .8-.3 .8 0 .8 .6 .8-.6 .8 1.5 .8-1 .8 1.1 .8 0 .8-1 .8-.1 .8 .7 .8 1 .8-1 .8-.5 .8-.3 .8 1.2 .8-1 .8-.4 .8 1.1 .8 .5 .8-1 .8 .4 .8-.9 .8 .5 .8-.6 .8 1 .8-.1 .8 .3 .8 .8 .8-.8 .8-.6 .8-.5 .8 .9 .8 .4 .8 .4 .8-.6 .8-.2 .8 .3 .8 .4 .8-.7 .8-.3 .8 1.1 .8-1 .8-.3 .8 .4 .8 .3 .8-.4 .8 1 .8-1 .8 .3 .8 1.1 .8-1.2 .8-.7 .8 1.3 .8 .3 .8-1.1 .8-.4 .8-.2 .8 .8 .8-.5 .8 1.2 .8-.7 .8 .5 .8 .5 .8-1 .8-.7 .8-.1 .8 .6 .8 1.1 .8-.4 .8-.6 .1 .2 .2 .3 .3-.8 .2 .9 .1 .3 .2-.8 .2-2.2 .3-2.4 .3-7.2 .2-6.6 .2-2 0-.6 .1-.1 .2 4.7 .3 6.7 .2 6.7 .1 1.4 .1 .3 0-.4 .2 .6 .1 1.1 .2 .4 .1 .1 .1-1.5 .1-.1 0 .7 .2-.1 0-1.4 .2-1.1 .3-5 .3-11.3 .2-11.1 .2-5.5 0 1 .1 1.5 .2 7.1 .3 12.7 .2 8.1 .1 1.6 .1 2.3 .3 .7 .3-.6 .1 .6 .1-.1 .2 .3 .3 0 .2-1.6 .1-.9 .2-7.1 .2-11.2 .3-14.7 .2-4.5 .1-.2 .2 9.6 .2 14.3 .1 3.6 .2 7.3 .3 3.5 .2 1.2 .1 .3 .1 1.2 .3-.4 .3-.6 .1 0 .1 .6 .2 .6 .3-1.1 .2 .4 .1-1 .2-.5 .2-4.4 .3-10.5 .3-19.8 .2-23.8 .2-8 0 .6 .1 2.4 .2 14.2 .3 24 .2 16 .1 4.1 .1 4 .3 .8 .3 1 .1 .4 .1 .5 .2-.5 .3 .8 .2-.8 .1-.9 .2-1.1 .2-2.2 .3-8.4 .3-13.9 .2-15.9 .2-7.2 0 1.2 .1 2 .2 9.3 .3 16.7 .2 12.6 .1 4 .1 1.1 .3 1.3 .3 1 .1-.1 .1 .5 .2 .9 .3 .9 .2-.2 .1-.8 .2 .4 .2-2.5 .3-2.4 .3-6.4 .2-7.6 .2-1.4 0 .5 .1 0 .2 5.2 .3 6.5 .2 4.5 .1 .4 .1 1.1 .3 1.5 .3 .3 .1-.2 .1 .3 .2 .4 .3-.4 .2 .4 .1-.2 .2 .4 .2-.1 .3-2.2 .3-2.3 .2-2 .2 .2 0 .5 .1-.8 .2 .9 .3 2.3 .2 1.7 .1 1.2 .1 .5 .3 .2 .3-.4 .1 1.1 .1 .3 .2-.3 .5-.4 .8-.6 .8 .2 .8 .1 .8 .3 .8 .7 .8-.5 .8-.1 .8 .3 .8 0 .8 .3 .8-1.2 .8-.6 .8 1.2 .8-.4 .8 .9 .8-.7 .8 .1 .8-.9 .8 .7 .8 .3 .8 .7 .8-1.7 .8-.1 .8 1.4 .8-.5 .8-.8 .8 1 .8-1.1 .8 .1 .8 1.3 .8 .5 .8-1.1 .8 .8 .8 .1 .8-.6 .8-.6 .8 .9 .8 0 .8-.8 .8-.6 .8 1 .8-.4 .8 .6 .8-.5 .8 .6 .8 .6 .8-1.6 .8-.5 .8 0 .8 .9 .8 .9 .8-1.4 .8-.4 .8 .5 .8-.3 .8 1.5 .8-.9 .8 .6 .8-1.1 .8 1.2 .8-.5 .8 .2 .8 .5 .8-.3 .8-1 .8 1 .8-.2 .8-.4 .8 .8 .8-.1 .8-.4 .8 .7 .8 .2 .8-.6 .8-1.1 .8 1.2 .8-.2 .8-.2 .8 .9 .8-1.5 .8 .9 .8 .5 .8-.5 .8 .4 .8 .4 .8-.4 .8-1.2 .8 .6 .8-.1 .8-.2 .8 .3 .8-.7 .8 1.4 .8-.1 .8-.4 .8-.1 .8 .8 .8-.9 .8-.8 .8 .6 .8 .2 .8 .5 .8-.6 .8-.4 .8 .1 .8 .8 .8-1.1 .8 1.3 .8-.1 .8-.8 .8 .3 .8 .6 .8-.3 .8 .3 .8-1.1 .8 1 .8 .8 .8-.8 .8 .5 .8-.1 .8-.2 .8 .3 .8-.8 .8 .2 .8 0 .8 .4 .8 .7 .8-.1 .8-1.6 .8 0 .8 .9 .8-.6 .8 1.1 .8-1.3 .8 .9 .8 .5 .8 0 .8-1.1 .8-.2 .8 1.2 .8-.8 .8 .5 .8 .6 .8-.8 .8 .1 .8-.3 .8 .8 .8-1.1 .8 .6 .8 .7 .8-1.6 .8 1.3 .8-1.3 .8 .3 .8 0 .8 .9 .8 .4 .8-1.2 .8-.1 .8 .8 .8-.2 .8 .4 .8-.5 .8 0 .8 .5 .8 .1 .8-.6 .8 .1 .8 0 .8-.4 .8 .5 .8 .2 .8 0 .8 .6 .8-.7 .8 .3 .8-1.3 .8-.4 .8 1.5 .8-.5 .8 .1 .8-.4 .8 1.1 .8-.9 .8 .1 .8 0 .8-.8 .8-.2 .8 1.5 .8-.8 .8 .2 .8 .9 .8-1.2 .8 .6 .8-.9 .8 .1 .8 1 .8-.2 .8-.3 .8 1.2 .8-1.1 .8 .9 .8-.7 .8-.2 .8-.3 .8 .3 .8 1 .8-1.1 .8 .6 .8-.9 .8 .4 .8 1 .8-.8 .8 1.1 .8-.6 .8-1.2 .8-.2 .8 1.4 .8 .1 .8 .1 .8 0 .8-1.2 .8 .3 .8 .4 .8-.1 .8 .9 .8 .3 .8-1.4 .8-.1 .8 .1 .8-.6 .8 .4 .8 1 .8-1.3 .8 1 .8-.7 .8-.2 .8-.2 .8 .1 .8 .2 .8 1.2 .8-.9 .8 .1 .8-.4 .8 .5 .8 .2 .8 .1 .8 .7 .8-.6 .8 .3 .8 .5 .8-1.4 .8-.5 .8 1.6 .8-1.4 .8 .8 .8 .9 .8 .2 .8-.8 .8-.3 .8-1 .8 1.7 .8-.7 .8-.6 .8 1.2 .8-1 .8-.3 .8 .4 .8 .8 .8 .3 .8-1.1 .8-.3 .8-.4 .8 1.4 .8 .3 .8-.1 .8-.3 .8-.3 .8 0 .8 .5 .8-.6 .8 .3 .8 .2 .8 .7" fill="none" stroke="#2c6fb8" stroke-width="2.2" stroke-linejoin="round"/>
<path d="M102.5 832.5l.8 .6 .8 .9 .8-.3 .8-.5 .8-.4 .8-.5 .8 1.6 .8 0 .8-1 .8 .4 .8 .4 .8 .5 .8-1.1 .8-.3 .8-.3 .8 .8 .8 .8 .8-.1 .8-1.2 .8 .2 .8-.6 .8 0 .8 .7 .8-.5 .8 .2 .8-.1 .8 .4 .8 1 .8-.9 .8 .5 .8-.3 .8-.3 .8-.1 .8 1 .8 .4 .8-.1 .8 .3 .8-.2 .8-.9 .8-.4 .8 .6 .8 .2 .8 .5 .8 .4 .8-.1 .8 .3 .8-.5 .8-.1 .8 .2 .8-.5 .8 .4 .8 .3 .8-.6 .8-.5 .8-.1 .8 .5 .8 .1 .8-.2 .8-.2 .8 .6 .8 .1 .8 .6 .8 .2 .8-1.8 .8 .2 .8 .8 .8-.2 .8 .2 .8-.7 .8 0 .8 1 .8 0 .8 .4 .8 .2 .8 .1 .8-.1 .8 .1 .8 0 .8 .1 .8-1 .8-.3 .8 0 .8 .6 .8 .6 .8-.4 .8-.6 .8-.8 .8-.2 .8-.1 .8 .1 .8-.3 .8 .8 .8 0 .8 1.3 .8-1.2 .8-.4 .8 1.5 .8 .5 .8-.7 .8-.1 .8-.5 .8 0 .8-.2 .8-.4 .8 1.6 .8 .3 .8 .1 .8-1.4 .8 .6 .8-1 .8 1.1 .8-1 .8 .8 .8-.7 .8 1.5 .8 .3 .8-.9 .8 .8 .8-.1 .8-1.2 .8 1 .8 .4 .8-1.1 .8 .5 .8-.6 .8-.7 .8 .7 .8-.5 .8 1.3 .8 .1 .8-.9 .8 .1 .8-.6 .8 .4 .8 .6 .8 .7 .8 .5 .8-.6 .8-.5 .8 .7 .8-.3 .8 .3 .8-.8 .8 .9 .8-1.1 .8 0 .8-.3 .8 .3 .8 .5 .8 .8 .8-1.5 .8 .6 .8-.5 .8 1.1 .8 .1 .8 .6 .8 .1 .8-.6 .8-.9 .8 .7 .8-.4 .8-.4 .8-.5 .8 1.5 .8-.5 .8-.7 .8-.1 .8-.1 .8-.2 .8 1.3 .8-.1 .8-.4 .8-.1 .8-.1 .8 .5 .8 .3 .8-1 .8 .5 .8 1 .8 0 .8-.3 .8-.4 .8-.2 .8-.4 .8 .2 .8-.3 .8-.3 .8 .1 .8 1.8 .8 .5 .8-1.7 .8 .2 .8-.5 .8 .4 .8 .6 .8-.5 .8 .3 .8-.5 .8 .6 .8-.6 .8 .2 .8 .2 .8-.1 .8 .3 .8 .7 .8-.4 .8 .7 .8-1.2 .8 .8 .8 .5 .8 .4 .8-.4 .8-.9 .8 .5 .8 .1 .8-.5 .8 .3 .8-1 .8-.4 .8 .3 .8 1.5 .8-1.3 .8 .1 .8 1.1 .8 .5 .8-.7 .8-.1 .8 .9 .8-1 .8-.7 .8 .2 .8 .9 .8-.5 .8 .4 .8-.9 .8 1.3 .8 .6 .8 .1 .8-1.4 .8 1.1 .8 .3 .8-1.3 .8 0 .8-.5 .8 .3 .8 .9 .8-1.1 .8 .9 .8 .5 .8-1.3 .8-.2 .8 1.2 .8 .5 .8-1 .8 1 .8-.2 .8-1.3 .8 1 .8-.7 .8 .1 .8 1 .8-1.3 .8 1.2 .8-.5 .8 .3 .8-.5 .8 .4 .8-.6 .8 .6 .8-.1 .8 .3 .8-1.1 .8 1.2 .8-.7 .8 1 .8-.4 .8 .3 .8-.4 .8-.7 .8 1.5 .8 0 .8 .5 .8-.5 .8-.6 .8-.2 .8 .7 .8 .3 .8 0 .8-1.1 .8-.2 .8 .2 .8-.7 .8 .2 .8 .4 .8-.3 .8 0 .8 .7 .8 .5 .8-.5 .8 .8 .8-1.3 .8-.4 .8 .2 .8 1.2 .8-.7 .8 .9 .8-.7 .8 .9 .8-.4 .8-.7 .8 1.2 .8 .6 .8 0 .8-.9 .8 0 .8-.6 .8 1 .8-.7 .8 .2 .8 .2 .8 .7 .8-.8 .8-.2 .8 .9 .8-1.3 .8-.5 .8 .4 .8-.5 .8 1.7 .8-.3 .8 .5 .8-1.3 .8 .4 .8 .8 .8-1.3 .8 1.1 .8 .7 .8 0 .8-1.4 .8 .3 .8 .2 .8 0 .8 .7 .8-.8 .8-.5 .8 1.3 .8-.3 .8 .1 .8-.2 .8 .1 .8-.9 .8-.3 .8 0 .8 .6 .8-.6 .8 1.5 .8-1 .8 1.1 .8 0 .8-1 .8-.1 .8 .7 .8 1 .8-1 .8-.5 .8-.3 .8 1.2 .8-1 .8-.4 .8 1.1 .8 .5 .8-1 .8 .4 .8-.9 .8 .5 .8-.6 .8 1 .8-.1 .8 .3 .8 .8 .8-.8 .8-.6 .8-.5 .8 .9 .8 .4 .8 .4 .8-.6 .8-.2 .8 .3 .8 .4 .8-.7 .8-.3 .8 1.1 .8-1 .8-.3 .8 .4 .8 .3 .8-.4 .8 1 .8-1 .8 .3 .8 1.1 .8-1.2 .8-.7 .8 1.3 .8 .3 .8-1.1 .8-.4 .8-.2 .8 .8 .8-.5 .8 1.2 .8-.7 .8 .5 .8 .5 .8-1 .8-.7 .8 0 .8 .5 .8 1.1 .8-.3 .8-.4 .8 .8 .8-.1 .7-.8 .8 .9 .8 .5 .9-.2 .7-.6 .8 .3 .8-1.3 .7 1.6 .7 0 .8-1.4 .8 .4 .7 .3 .7 .8 .8-.5 .8 .3 .7-.3 .7 .7 .8-.6 .8-1.3 .7-.1 .7 1 .8-.3 .8-.4 .7 1.7 .7-1.6 .8-.2 .8 1.1 .7-.5 .7 .4 .8 .3 .8-1.1 .7 .3 .7 .8 .8 .8 1.5-1.3 .8 .2 .8 0 .8 .3 .8 .7 .8-.5 .8-.1 .8 .3 .8 0 .8 .3 .8-1.2 .8-.6 .8 1.2 .8-.4 .8 .9 .8-.7 .8 .1 .8-.9 .8 .7 .8 .3 .8 .7 .8-1.7 .8-.1 .8 1.4 .8-.5 .8-.8 .8 1 .8-1.1 .8 .1 .8 1.3 .8 .5 .8-1.1 .8 .8 .8 .1 .8-.6 .8-.6 .8 .9 .8 0 .8-.8 .8-.6 .8 1 .8-.4 .8 .6 .8-.5 .8 .6 .8 .6 .8-1.6 .8-.5 .8 0 .8 .9 .8 .9 .8-1.4 .8-.4 .8 .5 .8-.3 .8 1.5 .8-.9 .8 .6 .8-1.1 .8 1.2 .8-.5 .8 .2 .8 .5 .8-.3 .8-1 .8 1 .8-.2 .8-.4 .8 .8 .8-.1 .8-.4 .8 .7 .8 .2 .8-.6 .8-1.1 .8 1.2 .8-.2 .8-.2 .8 .9 .8-1.5 .8 .9 .8 .5 .8-.5 .8 .4 .8 .4 .8-.4 .8-1.2 .8 .6 .8-.1 .8-.2 .8 .3 .8-.7 .8 1.4 .8-.1 .8-.4 .8-.1 .8 .8 .8-.9 .8-.8 .8 .6 .8 .2 .8 .5 .8-.6 .8-.4 .8 .1 .8 .8 .8-1.1 .8 1.3 .8-.1 .8-.8 .8 .3 .8 .6 .8-.3 .8 .3 .8-1.1 .8 1 .8 .8 .8-.8 .8 .5 .8-.1 .8-.2 .8 .3 .8-.8 .8 .2 .8 0 .8 .4 .8 .7 .8-.1 .8-1.6 .8 0 .8 .9 .8-.6 .8 1.1 .8-1.3 .8 .9 .8 .5 .8 0 .8-1.1 .8-.2 .8 1.2 .8-.8 .8 .5 .8 .6 .8-.8 .8 .1 .8-.3 .8 .8 .8-1.1 .8 .6 .8 .7 .8-1.6 .8 1.3 .8-1.3 .8 .3 .8 0 .8 .9 .8 .4 .8-1.2 .8-.1 .8 .8 .8-.2 .8 .4 .8-.5 .8 0 .8 .5 .8 .1 .8-.6 .8 .1 .8 0 .8-.4 .8 .5 .8 .2 .8 0 .8 .6 .8-.7 .8 .3 .8-1.3 .8-.4 .8 1.5 .8-.5 .8 .1 .8-.4 .8 1.1 .8-.9 .8 .1 .8 0 .8-.8 .8-.2 .8 1.5 .8-.8 .8 .2 .8 .9 .8-1.2 .8 .6 .8-.9 .8 .1 .8 1 .8-.2 .8-.3 .8 1.2 .8-1.1 .8 .9 .8-.7 .8-.2 .8-.3 .8 .3 .8 1 .8-1.1 .8 .6 .8-.9 .8 .4 .8 1 .8-.8 .8 1.1 .8-.6 .8-1.2 .8-.2 .8 1.4 .8 .1 .8 .1 .8 0 .8-1.2 .8 .3 .8 .4 .8-.1 .8 .9 .8 .3 .8-1.4 .8-.1 .8 .1 .8-.6 .8 .4 .8 1 .8-1.3 .8 1 .8-.7 .8-.2 .8-.2 .8 .1 .8 .2 .8 1.2 .8-.9 .8 .1 .8-.4 .8 .5 .8 .2 .8 .1 .8 .7 .8-.6 .8 .3 .8 .5 .8-1.4 .8-.5 .8 1.6 .8-1.4 .8 .8 .8 .9 .8 .2 .8-.8 .8-.3 .8-1 .8 1.7 .8-.7 .8-.6 .8 1.2 .8-1 .8-.3 .8 .4 .8 .8 .8 .3 .8-1.1 .8-.3 .8-.4 .8 1.4 .8 .3 .8-.1 .8-.3 .8-.3 .8 0 .8 .5 .8-.6 .8 .3 .8 .2 .8 .7" fill="none" stroke="#152040" stroke-width="1.3" stroke-linejoin="round"/>
<path d="M441.7 834.5l.3-7.2 .2-6.6 .2-2 0-.6 .1-.1 .2 4.7 .3 6.7 .2 6.7" fill="none" stroke="#152040" stroke-width="0.6" stroke-opacity="0.7"/>
<path d="M444.6 836.1l.3-5 .3-11.3 .2-11.1 .2-5.5 0 1 .1 1.5 .2 7.1 .3 12.7 .2 8.1 .1 1.6" fill="none" stroke="#152040" stroke-width="0.6" stroke-opacity="0.7"/>
<path d="M448.2 835.9l.2-7.1 .2-11.2 .3-14.7 .2-4.5 .1-.2 .2 9.6 .2 14.3 .1 3.6 .2 7.3 .3 3.5" fill="none" stroke="#152040" stroke-width="0.6" stroke-opacity="0.7"/>
<path d="M452.6 832.8l.3-10.5 .3-19.8 .2-23.8 .2-8 0 .6 .1 2.4 .2 14.2 .3 24 .2 16 .1 4.1 .1 4" fill="none" stroke="#152040" stroke-width="0.6" stroke-opacity="0.7"/>
<path d="M456.4 836.2l.2-2.2 .3-8.4 .3-13.9 .2-15.9 .2-7.2 0 1.2 .1 2 .2 9.3 .3 16.7 .2 12.6 .1 4 .1 1.1" fill="none" stroke="#152040" stroke-width="0.6" stroke-opacity="0.7"/>
<path d="M460.9 834.5l.3-6.4 .2-7.6 .2-1.4 0 .5 .1 0 .2 5.2 .3 6.5 .2 4.5 .1 .4" fill="none" stroke="#152040" stroke-width="0.6" stroke-opacity="0.7"/>
<path d="M465.2 835.2l.2-2 .2 .2 0 .5 .1-.8 .2 .9 .3 2.3" fill="none" stroke="#152040" stroke-width="0.6" stroke-opacity="0.7"/>
<path d="M102.5 854.9l.8 1.2 .8 .5 .8-.9 .8-.4 .8-.3 .8-.3 .8 .2 .8 0 .8 1.4 .8-1 .8-.2 .8 1.4 .8 .4 .8-1.5 .8 0 .8 1.4 .8-.8 .8 .2 .8 .3 .8-.1 .8-1.1 .8 1 .8 .5 .8-.6 .8-.4 .8 .7 .8 .7 .8 .2 .8-1.5 .8 .8 .8-.4 .8 .9 .8 .3 .8-.9 .8 .6 .8 .2 .8-1.5 .8 .1 .8 1.2 .8-1.1 .8 .1 .8 .4 .8-.4 .8 .8 .8-1 .8 .6 .8 0 .8-1 .8 1.3 .8 .4 .8 .2 .8-1.2 .8 .3 .8-.7 .8 1 .8 .1 .8 .6 .8-1.3 .8-.2 .8-.4 .8 1.6 .8 0 .8-1.1 .8 .9 .8-.3 .8-.1 .8 .7 .8 .1 .8-.4 .8-.5 .8 0 .8 .1 .8-.4 .8-.1 .8 .7 .8 1.1 .8-.5 .8-.5 .8-.8 .8 1.5 .8-.7 .8-.3 .8 .8 .8 .6 .8-1.4 .8-.5 .8 .2 .8 1.6 .8-.4 .8-1 .8 .8 .8 0 .8-.8 .8-.3 .8 .5 .8 1.4 .8-.6 .8 .9 .8-.9 .8-.4 .8-.6 .8 .9 .8-.6 .8 1.4 .8-.2 .8-1.3 .8 .8 .8 0 .8 .4 .8 0 .8-1 .8 .5 .8 .5 .8-1 .8 1.3 .8 .1 .8-1 .8-.5 .8 .5 .8 .6 .8 .2 .8-.9 .8 .6 .8 .2 .8-.7 .8 .4 .8 .4 .8 .4 .8-1.1 .8-.4 .8 1.1 .8 .9 .8-.5 .8 .5 .8-.9 .8-.7 .8 .9 .8-.6 .8 1.1 .8 .1 .8-1.4 .8 .1 .8 1 .8-1.1 .8 0 .8-.4 .8 1.3 .8 .9 .8-.2 .8 .3 .8-1.3 .8 .8 .8 .7 .8-.2 .8-1.2 .8-.2 .8 1.2 .8-.1 .8-.6 .8-.4 .8-.6 .8 1.3 .8 .1 .8-.9 .8-.3 .8 1.7 .8 .3 .8-1.7 .8-.1 .8 1.3 .8-.4 .8 .7 .8-.5 .8-.4 .8 1.1 .8-1 .8 1 .8 0 .8-1.3 .8 1.2 .8 .5 .8-1.6 .8 .4 .8 .1 .8-.5 .8 .9 .8 .6 .8 .1 .8-.1 .8-.8 .8 .3 .8 .5 .8-.9 .8 .6 .8-.5 .8 .8 .8-.8 .8 .1 .8-.1 .8-.6 .8 .5 .8 .6 .8 0 .8 .6 .8 0 .8-1.4 .8 .4 .8 0 .8-.9 .8 1.6 .8-.1 .8-.6 .8 .4 .8 .2 .8 .3 .8 .3 .8-.5 .8-.2 .8 0 .8-.7 .8-.5 .8 1.2 .8 .4 .8-1.2 .8 .2 .8-.1 .8-.3 .8 1.1 .8-.3 .8-.2 .8 .8 .8 .4 .8-1 .8 .3 .8-.5 .8-.1 .8 0 .8 0 .8-.1 .8-.4 .8 1.6 .8-.3 .8-.5 .8 .3 .8 1 .8-1.4 .8 1.2 .8-.8 .8-.8 .8 1.7 .8-.9 .8 1.1 .8-1.4 .8-.3 .8 1 .8-.7 .8 1.1 .8-.4 .8 .9 .8-.7 .8 .2 .8-.6 .8-.1 .8 .4 .8-.4 .8 .5 .8-.4 .8 .4 .8-.7 .8 .1 .8 .1 .8 .4 .8 1.1 .8 .3 .8-.9 .8 .2 .8 .3 .8 .2 .8-.4 .8-1 .8 .7 .8-.3 .8-.6 .8-.2 .8 1.2 .8-.7 .8-.1 .8 .3 .8-.1 .8 .4 .8-.5 .8-.2 .8 .9 .8-.9 .8 1.3 .8 .6 .8-1.5 .8 .6 .8 .6 .8-1 .8 1.2 .8-.9 .8-.8 .8-.3 .8 .5 .8 .1 .8 .8 .8 0 .8 .6 .8-.3 .8-.6 .8-.7 .8 1.4 .8-.7 .8 1 .8-1.3 .8-.1 .8 1.3 .8 .2 .8-1.3 .8 .8 .8 .5 .8 0 .8 0 .8-.9 .8 .1 .8 .8 .8-.1 .8-1.3 .8 0 .8 .2 .8-.2 .8 .3 .8-.3 .8 1.5 .8-.8 .8 1.2 .8 0 .8-1 .8-.5 .8 1.2 .8-.6 .8 .5 .8 .2 .8-.4 .8 .3 .8 0 .8-.1 .8-.9 .8 1.1 .8 .1 .8-1.2 .8 .3 .8-.3 .8 .5 .8-.2 .8-.2 .8-.2 .8 1.1 .8-.3 .8-.9 .8 .9 .8 1.1 .8-.8 .8 .8 .8-.4 .8 .2 .8-1 .8-.6 .8 1.1 .8-.6 .8 .6 .8-1.1 .8 1.6 .8-.6 .8 .9 .8 0 .8 .1 .8 .2 .8-1.7 .8 .8 .8-.7 .8 1.2 .8 .3 .8-.8 .8 .1 .8-.8 .8-.1 .8 .1 .8-.1 .8 .8 .8 .6 .2-.3 .3-1.5 .2 1 .1-.4 .1-.3 .3-.6 .3-.8 .1 .5 .1-1.5 .2-3.3 .3-5.6 .2-.2 .1 .1 .2 3.3 .2 4 .3 3.3 .3 .4 .2 1.1 .2 .6 .1-1.2 .1 0 .1 .5 .1 .5 .2-.2 .1-1.4 .2-.8 .1 .6 .2-.5 .2-1.7 .3-6.7 .3-12.3 .2-14.1 .2-5.2 0 .7 .1 1.2 .2 8.6 .3 14.7 .2 9.9 .1 2.6 .1 1.5 .3 1.7 .3-.1 .1 .6 .1 .5 .2-1 .3 .4 .2-.2 .1 .4 .2-1.1 .2-.7 .3-4.1 .3-5.3 .2-8.3 .2-2.3 0 .6 .1 .9 .2 4.9 .3 6.1 .2 5 .1 1.9 .1 2 .3 1.3 .3 .3 .1-.7 .1 .6 .2-.2 .5 .3 .8 0 .8 .1 .8-.6 .8-.2 .8-.8 .1 1.4 .2 .3 .3-1.9 .2 .9 .1 .6 .2-.6 .2-1 .3-3.4 .3-7 .2-8.7 .2-1.3 0-1 .1 1.2 .2 3.5 .3 9.1 .2 4.7 .1 2 .1 1.3 .3-.5 .2 .8 .1 .7 .1-.3 .1-.4 0-1.2 .2 .1 0 1.1 .2-.1 .3-1.2 .3-3.1 .2-5.5 .2-12 .1-2.9 .2-10.6 .2-3.1 .1-.7 .2 8.8 .1 6.5 .1 8.4 .3 9.4 .3 4.1 .1 1.3 .1 .7 .2-1.1 .3 1.3 .2 .7 .1-.9 .7 .7 .8 0 .8 .7 .1 .1 .2-.3 .3-.5 .2-.4 .1 .6 .2-.3 .2-.1 .3-2.4 .3-1.5 .2-4.2 .2 .1 0-.8 .1 .7 .2 2.2 .3 2 .2 1.4 .1 1.6 .1-.2 .3-.2 .3-.1 .1 1.1 .1 .3 .2 .9 .5-.9 .8 .7 .8-.6 .8-.8 .8 .5 .8-.1 .8-.6 .8 1.5 .8-.7 .8-.4 .8 1.3 .8 0 .8 .2 .8-1.3 .8 .5 .8-.2 .8 .3 .8 .3 .8-.7 .8 1 .8-1.5 .8 .2 .8 1.2 .8-.4 .8-.3 .8-.1 .8 .3 .8-1.1 .8 1.1 .8-.4 .8-.3 .8 .2 .8-.5 .8 1.4 .8-.1 .8-.8 .8-.7 .8 .9 .8 .7 .8-1.1 .8 .5 .8 .8 .8-1.1 .8 .4 .8 0 .8-.8 .8 .9 .8-.7 .8 1.1 .8-.8 .8-.3 .8 .6 .8 0 .8 .7 .8-.9 .8-.1 .8-.7 .8 .7 .8 .8 .8-.4 .8 .1 .8 .7 .8-.8 .8-.7 .8 .4 .8-.1 .8-.7 .8 1.2 .8-1.1 .8 .2 .8 1.2 .8 .4 .8-1.3 .8 .3 .8-.5 .8 1.1 .8 .6 .8-.8 .8-.7 .8 .1 .8 .4 .8 1 .8-1.6 .8 1.3 .8 .5 .8-.6 .8-1.2 .8 .2 .8 .7 .8-1 .8 .7 .8 .2 .8-1 .8 .9 .8 .4 .8-1 .8-.2 .8 .1 .8-.5 .8 .5 .8 .2 .8-.3 .8 .9 .8 .5 .8-.8 .8 .6 .8-.9 .8 1.3 .8 .2 .8-1.6 .8 .2 .8 .6 .8 .4 .8 .1 .8-.9 .8 1 .8-.2 .8 0 .8 .1 .8 .4 .8-.2 .8-.3 .8-.4 .8-1 .8-.3 .8 1.3 .8 .3 .8-1.2 .8 .4 .8 1.1 .8 .3 .8-1.1 .8 1.1 .8-.8 .8-.4 .8 .2 .8 0 .8-.3 .8 .2 .8 .5 .8-.7 .8 .4 .8 .9 .8-.2 .8 .3 .8-1.6 .8 .1 .8 .2 .8 .1 .8-.5 .8-.3 .8 .1 .8 1.1 .8 .5 .8-.4 .8-.4 .8 .1 .8 0 .8 .7 .8-.7 .8 0 .8-.8 .8-.4 .8 .9 .8 .7 .8-.7 .8 .4 .8 .7 .8-.5 .8-.8 .8 .9 .8-1 .8 1.4 .8 .4 .8-.6 .8-.3 .8 0 .8-.3 .8-.3 .8 .2 .8 .8 .8-.1 .8 .1 .8-.1 .8 .6 .8-1.6 .8 .4 .8-.3 .8-.6 .8 1 .8-.6 .8 1 .8 .2 .8-.7 .8 .9 .8-.2 .8-.5 .8 0 .8-.3 .8 .2 .8 .4 .8-.4 .8-.2 .8 0 .8-.4 .8 1 .8 0 .8 .8 .8-.4 .8 .4 .8-.8 .8-1.1 .8 0 .8 .7 .8-.3 .8-.5 .8 1.1 .8-.2 .8-.3 .8 .8 .8-1 .8 .5 .8-.3 .8 .1 .8 .4 .8 0 .8 0 .8-.5 .8-.4 .8 1.2 .8-1 .8-.3 .8 .7 .8 1.1 .8 0 .8-.4 .8-1.3 .8 .6 .8-.5 .8 1.3 .8-.2 .8-.2 .8 .1 .8 .3 .8 .2 .8-1.2 .8 .2 .8-.7 .8 .6 .8 .7 .8-.5 .8 .1 .8 1 .8-.4 .8 0 .8-.3 .8 .5 .8-1.2 .8 .1 .8 1.3 .8-1.1 .8-.1 .8 0 .8 .4 .8 .3 .8 .6 .8-.1 .8-1.3 .8 .1 .8 1 .8-.1 .8-.1 .8-1.2 .8-.1 .8 0 .8 1.1 .8-.2 .8-.3 .8 1 .8 .3 .8-.1 .8-1.1 .8 .3 .8 .9 .8-.9 .8-.8 .8-.2 .8 1.5 .8 .3 .8 .4 .8-1.5 .8 .6 .8-.5 .8 .2 .8-.6 .8 .7 .8-.3 .8 .6 .8-.2 .8-.1 .8-.4 .8-.5 .8 .7 .8 .9 .8-1.4 .8 .7 .8-.1 .8 .4 .8-.6 .8 1.1" fill="none" stroke="#d95319" stroke-width="2.2" stroke-linejoin="round"/>
<path d="M102.5 854.9l.8 1.2 .8 .5 .8-.9 .8-.4 .8-.3 .8-.3 .8 .2 .8 0 .8 1.4 .8-1 .8-.2 .8 1.4 .8 .4 .8-1.5 .8 0 .8 1.4 .8-.8 .8 .2 .8 .3 .8-.1 .8-1.1 .8 1 .8 .5 .8-.6 .8-.4 .8 .7 .8 .7 .8 .2 .8-1.5 .8 .8 .8-.4 .8 .9 .8 .3 .8-.9 .8 .6 .8 .2 .8-1.5 .8 .1 .8 1.2 .8-1.1 .8 .1 .8 .4 .8-.4 .8 .8 .8-1 .8 .6 .8 0 .8-1 .8 1.3 .8 .4 .8 .2 .8-1.2 .8 .3 .8-.7 .8 1 .8 .1 .8 .6 .8-1.3 .8-.2 .8-.4 .8 1.6 .8 0 .8-1.1 .8 .9 .8-.3 .8-.1 .8 .7 .8 .1 .8-.4 .8-.5 .8 0 .8 .1 .8-.4 .8-.1 .8 .7 .8 1.1 .8-.5 .8-.5 .8-.8 .8 1.5 .8-.7 .8-.3 .8 .8 .8 .6 .8-1.4 .8-.5 .8 .2 .8 1.6 .8-.4 .8-1 .8 .8 .8 0 .8-.8 .8-.3 .8 .5 .8 1.4 .8-.6 .8 .9 .8-.9 .8-.4 .8-.6 .8 .9 .8-.6 .8 1.4 .8-.2 .8-1.3 .8 .8 .8 0 .8 .4 .8 0 .8-1 .8 .5 .8 .5 .8-1 .8 1.3 .8 .1 .8-1 .8-.5 .8 .5 .8 .6 .8 .2 .8-.9 .8 .6 .8 .2 .8-.7 .8 .4 .8 .4 .8 .4 .8-1.1 .8-.4 .8 1.1 .8 .9 .8-.5 .8 .5 .8-.9 .8-.7 .8 .9 .8-.6 .8 1.1 .8 .1 .8-1.4 .8 .1 .8 1 .8-1.1 .8 0 .8-.4 .8 1.3 .8 .9 .8-.2 .8 .3 .8-1.3 .8 .8 .8 .7 .8-.2 .8-1.2 .8-.2 .8 1.2 .8-.1 .8-.6 .8-.4 .8-.6 .8 1.3 .8 .1 .8-.9 .8-.3 .8 1.7 .8 .3 .8-1.7 .8-.1 .8 1.3 .8-.4 .8 .7 .8-.5 .8-.4 .8 1.1 .8-1 .8 1 .8 0 .8-1.3 .8 1.2 .8 .5 .8-1.6 .8 .4 .8 .1 .8-.5 .8 .9 .8 .6 .8 .1 .8-.1 .8-.8 .8 .3 .8 .5 .8-.9 .8 .6 .8-.5 .8 .8 .8-.8 .8 .1 .8-.1 .8-.6 .8 .5 .8 .6 .8 0 .8 .6 .8 0 .8-1.4 .8 .4 .8 0 .8-.9 .8 1.6 .8-.1 .8-.6 .8 .4 .8 .2 .8 .3 .8 .3 .8-.5 .8-.2 .8 0 .8-.7 .8-.5 .8 1.2 .8 .4 .8-1.2 .8 .2 .8-.1 .8-.3 .8 1.1 .8-.3 .8-.2 .8 .8 .8 .4 .8-1 .8 .3 .8-.5 .8-.1 .8 0 .8 0 .8-.1 .8-.4 .8 1.6 .8-.3 .8-.5 .8 .3 .8 1 .8-1.4 .8 1.2 .8-.8 .8-.8 .8 1.7 .8-.9 .8 1.1 .8-1.4 .8-.3 .8 1 .8-.7 .8 1.1 .8-.4 .8 .9 .8-.7 .8 .2 .8-.6 .8-.1 .8 .4 .8-.4 .8 .5 .8-.4 .8 .4 .8-.7 .8 .1 .8 .1 .8 .4 .8 1.1 .8 .3 .8-.9 .8 .2 .8 .3 .8 .2 .8-.4 .8-1 .8 .7 .8-.3 .8-.6 .8-.2 .8 1.2 .8-.7 .8-.1 .8 .3 .8-.1 .8 .4 .8-.5 .8-.2 .8 .9 .8-.9 .8 1.3 .8 .6 .8-1.5 .8 .6 .8 .6 .8-1 .8 1.2 .8-.9 .8-.8 .8-.3 .8 .5 .8 .1 .8 .8 .8 0 .8 .6 .8-.3 .8-.6 .8-.7 .8 1.4 .8-.7 .8 1 .8-1.3 .8-.1 .8 1.3 .8 .2 .8-1.3 .8 .8 .8 .5 .8 0 .8 0 .8-.9 .8 .1 .8 .8 .8-.1 .8-1.3 .8 0 .8 .2 .8-.2 .8 .3 .8-.3 .8 1.5 .8-.8 .8 1.2 .8 0 .8-1 .8-.5 .8 1.2 .8-.6 .8 .5 .8 .2 .8-.4 .8 .3 .8 0 .8-.1 .8-.9 .8 1.1 .8 .1 .8-1.2 .8 .3 .8-.3 .8 .5 .8-.2 .8-.2 .8-.2 .8 1.1 .8-.3 .8-.9 .8 .9 .8 1.1 .8-.8 .8 .8 .8-.4 .8 .2 .8-1 .8-.6 .8 1.1 .8-.6 .8 .6 .8-1.1 .8 1.6 .8-.6 .8 .9 .8 0 .8 .1 .8 .2 .8-1.7 .8 .8 .8-.7 .8 1.2 .8 .3 .8-.8 .8 .1 .8-.8 .8-.1 .8 .1 .8 0 .8 .7 .8 .7 .8-1.1 .8 .9 .8-.3 .8 .5 .7 .3 .9-2.3 .8 1.3 .7-.7 .8 .9 .8-.6 .7 .2 .7 .1 .8-.6 .8 0 .7 1.7 .7-.4 1.3 .1 .8 .1 .8-.6 .8-.1 .8-.7 .8 .9 .8 .7 .7-1.8 .8 .7 .8 1 .9-1.1 .7-.2 .8-.2 .8 .7 .7 .2 1 .2 .8-.1 .8 .6 .8-1 .8-.2 .7-.4 .8-.5 .8-.2 .9 1.3 .8 .7 .8-.6 .8-.8 .8 .5 .8-.1 .8-.6 .8 1.5 .8-.7 .8-.4 .8 1.3 .8 0 .8 .2 .8-1.3 .8 .5 .8-.2 .8 .3 .8 .3 .8-.7 .8 1 .8-1.5 .8 .2 .8 1.2 .8-.4 .8-.3 .8-.1 .8 .3 .8-1.1 .8 1.1 .8-.4 .8-.3 .8 .2 .8-.5 .8 1.4 .8-.1 .8-.8 .8-.7 .8 .9 .8 .7 .8-1.1 .8 .5 .8 .8 .8-1.1 .8 .4 .8 0 .8-.8 .8 .9 .8-.7 .8 1.1 .8-.8 .8-.3 .8 .6 .8 0 .8 .7 .8-.9 .8-.1 .8-.7 .8 .7 .8 .8 .8-.4 .8 .1 .8 .7 .8-.8 .8-.7 .8 .4 .8-.1 .8-.7 .8 1.2 .8-1.1 .8 .2 .8 1.2 .8 .4 .8-1.3 .8 .3 .8-.5 .8 1.1 .8 .6 .8-.8 .8-.7 .8 .1 .8 .4 .8 1 .8-1.6 .8 1.3 .8 .5 .8-.6 .8-1.2 .8 .2 .8 .7 .8-1 .8 .7 .8 .2 .8-1 .8 .9 .8 .4 .8-1 .8-.2 .8 .1 .8-.5 .8 .5 .8 .2 .8-.3 .8 .9 .8 .5 .8-.8 .8 .6 .8-.9 .8 1.3 .8 .2 .8-1.6 .8 .2 .8 .6 .8 .4 .8 .1 .8-.9 .8 1 .8-.2 .8 0 .8 .1 .8 .4 .8-.2 .8-.3 .8-.4 .8-1 .8-.3 .8 1.3 .8 .3 .8-1.2 .8 .4 .8 1.1 .8 .3 .8-1.1 .8 1.1 .8-.8 .8-.4 .8 .2 .8 0 .8-.3 .8 .2 .8 .5 .8-.7 .8 .4 .8 .9 .8-.2 .8 .3 .8-1.6 .8 .1 .8 .2 .8 .1 .8-.5 .8-.3 .8 .1 .8 1.1 .8 .5 .8-.4 .8-.4 .8 .1 .8 0 .8 .7 .8-.7 .8 0 .8-.8 .8-.4 .8 .9 .8 .7 .8-.7 .8 .4 .8 .7 .8-.5 .8-.8 .8 .9 .8-1 .8 1.4 .8 .4 .8-.6 .8-.3 .8 0 .8-.3 .8-.3 .8 .2 .8 .8 .8-.1 .8 .1 .8-.1 .8 .6 .8-1.6 .8 .4 .8-.3 .8-.6 .8 1 .8-.6 .8 1 .8 .2 .8-.7 .8 .9 .8-.2 .8-.5 .8 0 .8-.3 .8 .2 .8 .4 .8-.4 .8-.2 .8 0 .8-.4 .8 1 .8 0 .8 .8 .8-.4 .8 .4 .8-.8 .8-1.1 .8 0 .8 .7 .8-.3 .8-.5 .8 1.1 .8-.2 .8-.3 .8 .8 .8-1 .8 .5 .8-.3 .8 .1 .8 .4 .8 0 .8 0 .8-.5 .8-.4 .8 1.2 .8-1 .8-.3 .8 .7 .8 1.1 .8 0 .8-.4 .8-1.3 .8 .6 .8-.5 .8 1.3 .8-.2 .8-.2 .8 .1 .8 .3 .8 .2 .8-1.2 .8 .2 .8-.7 .8 .6 .8 .7 .8-.5 .8 .1 .8 1 .8-.4 .8 0 .8-.3 .8 .5 .8-1.2 .8 .1 .8 1.3 .8-1.1 .8-.1 .8 0 .8 .4 .8 .3 .8 .6 .8-.1 .8-1.3 .8 .1 .8 1 .8-.1 .8-.1 .8-1.2 .8-.1 .8 0 .8 1.1 .8-.2 .8-.3 .8 1 .8 .3 .8-.1 .8-1.1 .8 .3 .8 .9 .8-.9 .8-.8 .8-.2 .8 1.5 .8 .3 .8 .4 .8-1.5 .8 .6 .8-.5 .8 .2 .8-.6 .8 .7 .8-.3 .8 .6 .8-.2 .8-.1 .8-.4 .8-.5 .8 .7 .8 .9 .8-1.4 .8 .7 .8-.1 .8 .4 .8-.6 .8 1.1" fill="none" stroke="#4a2212" stroke-width="1.3" stroke-linejoin="round"/>
<path d="M417.8 859.4l.2-3.3 .3-5.6 .2-.2 .1 .1 .2 3.3 .2 4" fill="none" stroke="#4a2212" stroke-width="0.6" stroke-opacity="0.7"/>
<path d="M421.4 858.9l.3-6.7 .3-12.3 .2-14.1 .2-5.2 0 .7 .1 1.2 .2 8.6 .3 14.7 .2 9.9 .1 2.6" fill="none" stroke="#4a2212" stroke-width="0.6" stroke-opacity="0.7"/>
<path d="M425.7 856.2l.3-5.3 .2-8.3 .2-2.3 0 .6 .1 .9 .2 4.9 .3 6.1 .2 5" fill="none" stroke="#4a2212" stroke-width="0.6" stroke-opacity="0.7"/>
<path d="M434.5 858.1l.3-7 .2-8.7 .2-1.3 0-1 .1 1.2 .2 3.5 .3 9.1 .2 4.7" fill="none" stroke="#4a2212" stroke-width="0.6" stroke-opacity="0.7"/>
<path d="M438 857.8l.2-5.5 .2-12 .1-2.9 .2-10.6 .2-3.1 .1-.7 .2 8.8 .1 6.5 .1 8.4 .3 9.4" fill="none" stroke="#4a2212" stroke-width="0.6" stroke-opacity="0.7"/>
<path d="M445.2 858.8l.2-4.2 .2 .1 0-.8 .1 .7 .2 2.2 .3 2" fill="none" stroke="#4a2212" stroke-width="0.6" stroke-opacity="0.7"/>
<path d="M102.5 930.1l.8 .2 .8 .3 .8-.8 .8 .6 .8 1.1 .8-.5 .8-.2 .8 .5 .8-.5 .8-.5 .8 1 .8-1.1 .8 1.2 .8 .3 .8-.5 .8-.2 .8-1 .8 0 .8 1.1 .8 .3 .8-.1 .8-1 .8 .9 .8 .8 .8 0 .8-.4 .8-.5 .8-.2 .8-.6 .8-.4 .8 1.8 .8-.6 .8-.2 .8 .1 .8 1.1 .8 .2 .8-.4 .8 .1 .8-.5 .8 .1 .8 .4 .8-.2 .8-1.2 .8 .4 .8 .4 .8 .3 .8 .6 .8-.1 .8-.7 .8-.1 .8 .6 .8 .1 .8-.7 .8-.1 .8 .4 .8-.1 .8 .3 .8 .5 .8-.7 .8 .1 .8-.7 .8 1 .8 .1 .8-.2 .8-.5 .8-.7 .8 .2 .8 0 .8 1.1 .8-.1 .8 .6 .8 .3 .8-1.2 .8-.6 .8 1 .8-.3 .8 .7 .8-.5 .8-.6 .8 1.3 .8 0 .8 .1 .8-.1 .8 .4 .8 0 .8-1.6 .8-.4 .8-.2 .8 1.3 .8 0 .8 .4 .8-1.1 .8-.2 .8 1.4 .8-.1 .8-.9 .8-.4 .8 1.3 .8 .5 .8-1.3 .8 1.3 .8-1.3 .8 .2 .8 .5 .8 .6 .8 .3 .8-1.6 .8 0 .8-.3 .8-.1 .8 1.1 .8-.7 .8 .4 .8 .6 .8 .4 .8-.3 .8 .2 .8 0 .8-.9 .8-.2 .8 1.4 .8-1 .8 1.1 .8-1.4 .8 .1 .8 .8 .8-.7 .8 1.4 .8-.4 .8 .5 .8-.3 .8 .3 .8-1.4 .8 .1 .8-.2 .8 .2 .8-.4 .8-.1 .8 .7 .8 1.1 .8-.2 .8-.1 .8 .5 .8-.5 .8-.1 .8 0 .8-.1 .8-.8 .8-.3 .8 1.4 .8-.3 .8 .6 .8-1.3 .8 .5 .8 1 .8-1.5 .8 1.5 .8-.8 .8 .1 .8 .2 .8 .1 .8-.6 .8 1.1 .8-.9 .8-.9 .8-.2 .8 1.9 .8-.9 .8-.1 .8 .5 .8 0 .8-.3 .8 .7 .8-.1 .8-1 .8 .9 .8 .3 .8 .2 .8 0 .8-1.4 .8-.3 .8 1.5 .8-.8 .8 1.3 .8 .4 .8-.2 .8-.3 .8-1.4 .8 1.2 .8-.6 .8 .8 .8 .4 .8-1.6 .8 .1 .8-.1 .8-.3 .8 1.5 .8-.1 .8-.2 .8 .3 .8-.3 .8-1.1 .8 .7 .8 .5 .8 .2 .8 .2 .8-.9 .8 .3 .8 .4 .8-.5 .8 .9 .8-.9 .8 .1 .8-.2 .8 .9 .8 .2 .8-.2 .8-.1 .8-.2 .8 .2 .8-.8 .8-.7 .8 .5 .8 1.3 .8-1.5 .8 .7 .8-.7 .8-.5 .8 1.3 .8 .3 .8-.7 .8 .4 .8 .1 .8-.1 .8 .4 .8 .3 .8 .1 .8-.4 .8 .6 .8 .3 .8-.4 .8-1 .8-.5 .8 .8 .8 .5 .8 .5 .8 .1 .8-1 .8-1 .8 .9 .8 0 .8 .3 .8-.8 .8 .5 .8 .3 .8-1.2 .8-.2 .8 .7 .8 .6 .8 .5 .8-1.1 .8 1.2 .8-1.1 .8 1.2 .8-1.1 .8 .5 .8 .6 .8-1.1 .8 0 .8 1.1 .8 0 .8 .1 .8-1.4 .8 1.2 .8-.5 .8-.7 .8 1.1 .8-.4 .8 .6 .8 .2 .8-1.5 .8 0 .8 .8 .8-.8 .8-.2 .8 .9 .8 .7 .8-1.1 .8-.4 .8 1.2 .8-.4 .8-.2 .8 .3 .8 1 .8-.4 .8-.6 .8-.1 .8 .9 .8-.2 .8-.2 .8-.8 .1 .9 .2-1.2 .3 .3 .2-.5 .1-.1 .2-.3 .2-.6 .3-.5 .3-4.5 .2-3.3 .2-1.8 0-.1 .1 .8 .2 2.4 .3 4.9 .2 2.1 .1 1.4 .1 1 .3-.5 .3-.2 .1 .7 .1 .3 .2 .2 .3-1.5 .2-.3 .1 .4 .2-.3 .2-1.6 .3-3.8 .3-5.8 .2-5.8 .2-3 0-.1 .1 1.5 .2 2.9 .3 7.1 .2 4.8 .1 1.4 .1 2.3 .3-.1 .2 0 .1-.3 .1 .4 .1-.7 0 .6 .2 1 0 .4 .2-1.2 .3-1.3 .3-2.2 .2-4.4 .2-9.7 .1-1.3 .2-9.1 .2-3.5 .1 .2 .2 7.3 .1 4.9 .1 7.1 .3 8.1 .3 2.9 .1 1.5 .1-.9 .2 .8 .3-.1 .2 .5 .1-.5 .2-.1 .2-1.3 .3-6 .3-7.9 .2-9 .2-3.6 0-.1 .1-.3 .2 6.8 .3 9.2 .2 7.7 .1 .4 .1 2 0 .5 .2 1.3 .1-.7 .2-.3 .1-.2 .1 .5 .1-.2 0 .9 .2-2 0 0 .2-3.3 .3-10.6 .3-18.9 .2-19.6 .2-7.5 0 0 .1 2.1 .2 12.7 .3 21.1 .2 16.4 .1 3 .1 3.5 .3 3.1 .3 .1 .1-.5 .1-.5 .2 .6 .3 .8 .2-1.1 .1 1.4 .2 .2 .2-.3 .3-1.6 .3-4 .2-8.4 .2-13.6 .1-4.9 .2-13.6 .2-4.8 .1 .7 .2 11.7 .1 6.7 .1 10 .3 13.8 .3 5.8 .1-.1 .1 1.8 .2-.5 .3 0 .2 .5 .1 .6 .2-1.1 .2-1.4 .3-4.8 .3-7.6 .2-7.4 .2-3.1 0-.6 .1 2 .2 4.5 .3 8.1 .2 6.1 .1 3.1 .1 .5 .3 1.7 .3-.8 .1 1.5 .1-1.1 .2-.5 .3 .5 .2-.3 .1 .6 .2-.9 .2-2.6 .3-2.3 .2-2.4 .1 1.3 .2 .4 .2 4.3 .1 .4 .2 1.3 .3 .5 .2-.6 .1-.2 .1 1 .3 .8 .3-.5 .1-.5 .8 1.3 .8-1.2 .8-.2 .8 .8 .8-.8 .8-.1 .8 1.1 .8 .8 .8-.4 .8 .2 .8-1.1 .8 0 .8-.4 .8 1.2 .8-.2 .8-.2 .8-.9 .8 1.4 .8 .2 .8-.9 .8-.2 .8-.3 .8-.2 .8-.2 .8 1.2 .8-.7 .8-.1 .8 .9 .8 .4 .8-.2 .8 .1 .8-1 .8-.5 .8 .8 .8 1.1 .8-1.4 .8 0 .8 .8 .8-.5 .8 .3 .8 .3 .8 .1 .8-.5 .8 .2 .8-.8 .8 1.6 .8-.2 .8-.8 .8-.6 .8 .1 .8 1.1 .8-.9 .8 .7 .8 .5 .8-1 .8 .9 .8-.3 .8 .7 .8-.1 .8 .3 .8-1.4 .8 .8 .8 .4 .8-1.5 .8 1.4 .8-.5 .8 .8 .8-.8 .8-.1 .8 .9 .8 .2 .8 .1 .8-.4 .8-1.1 .8-.1 .8-.5 .8 0 .8 .9 .8-.8 .8 1.5 .8-.1 .8-.8 .8 .3 .8 .8 .8-.1 .8 .1 .8-.2 .8-1.1 .8 1.4 .8 .1 .8 .1 .8 .2 .8-1.5 .8-.7 .8 .6 .8 .1 .8 .9 .8-.8 .8-.7 .8 .2 .8-.3 .8 .8 .8-.1 .8 0 .8 .1 .8 .6 .8 0 .8-.7 .8 .8 .8-.5 .8 .2 .8 .9 .8-.1 .8-.7 .8 .3 .8-1.2 .8 .2 .8-.2 .8 .5 .8 .1 .8-.3 .8-.2 .8 .5 .8-.4 .8 1.4 .8-1.1 .8 1 .8-.3 .8 .8 .8-1 .8 .6 .8-1.3 .8 .8 .8-.8 .8-.4 .8 1.6 .8-.6 .8 .4 .8 0 .8 .2 .8-1.2 .8 .4 .8 .1 .8 0 .8 .4 .8 .7 .8 0 .8 .1 .8-1.3 .8 1.2 .8-1 .8-.2 .8-.4 .8 1 .8-.7 .8-.4 .8 1.2 .8-.4 .8 .2 .8 .3 .8-1 .8 .9 .8 .7 .8-.9 .8-.5 .8 .4 .8 .5 .8-.1 .8-.6 .8-.5 .8 1.3 .8-.4 .8 0 .8 .7 .8-.5 .8 .6 .8-1.3 .8-.1 .8-.2 .8 .6 .8-.7 .8 0 .8-.1 .8-.1 .8 1.1 .8-.8 .8 .8 .8-.3 .8-.7 .8 1 .8 .3 .8-1.2 .8 1.3 .8-.7 .8-.1 .8 .2 .8-1.1 .8-.1 .8 .6 .8 .6 .8 0 .8-1.1 .8 1.3 .8-.9 .8-.5 .8 .8 .8-.8 .8 .6 .8 0 .8 .5 .8-.5 .8 1 .8 .4 .8-1.5 .8 .5 .8 0 .8-.8 .8-.2 .8 1.6 .8-1 .8-.8 .8 1.3 .8-.7 .8-.6 .8 .4 .8-.4 .8 1.5 .8 0 .8-.9 .8 .4 .8 .1 .8 .7 .8-.9 .8 .8 .8-1.4 .8 .7 .8 0 .8 .3 .8-.6 .8 .1 .8 .4 .8 .1 .8 .1 .8 0 .8 .2 .8-.4 .8 .2 .8-.6 .8-.1 .8 .1 .8 .2 .8 .8 .8-.9 .8 1 .8 0 .8-.1 .8-.4 .8 .3 .8 0 .8 .4 .8-.5 .8-1.4 .8 1.2 .8 .1 .8 .3 .8-1.2 .8 1.1 .8 .4 .8-.3 .8-1.2 .8-.4 .8 .2 .8 .2 .8 0 .8 .3 .8-.6 .8 .7 .8 .8 .8-.9 .8 .2 .8 .6 .8 0 .8-1 .8-.1 .8 0 .8-.4 .8-.1 .8-.1 .8 1.2 .8 0 .8 .1 .8-.4 .8 .2 .8 .7 .8 .2 .8-1.3 .8 0 .8 .8 .8-.1 .8-.5 .8 .4 .8-.8 .8-.3 .8 1.4 .8-.5 .8-.6 .8 .9 .8 .1 .8-.1 .8-.9 .8-.6 .8 .1 .8 .1 .8 1.1 .8-.8 .8-.5 .8-.3 .8 .9 .8-.6 .8-.1 .8 .9 .8-.8 .8 1.3 .8-1.2 .8 .2 .8 .2 .8-.4 .8 .9 .8 .2 .8 .8 .8-.2 .8 .2 .8-.3 .8 0 .8 0 .8-.5 .8-.5 .8 .2 .8-.9 .8-.1 .8-.3 .8 .1 .8 1.6 .8 .3 .8-.5 .8 .6 .8 .2 .8 .2 .8-.7 .8-.5 .8-.3 .8-.6 .8 .6 .8 1 .8-1.4 .8 .7 .8 .7 .8 .2 .8-1.2 .8 .1 .8-.5 .8 .2 .8-.5 .8 1.6 .8-.6 .8 .3 .8 0 .8-.7 .8-.7 .8 .3 .8 1.4 .8-.6 .8 0 .8-.1 .8-.7 .8 .8 .8-.3 .8 .3 .8-.3 .8-.3 .8 1.3 .8-1 .8 .4 .8 .2 .8-.9 .8 .8 .8-.2 .8-.7 .8-.3 .8 1.3 .8-1.2 .8-.2 .8 1.3 .8 .6 .8-1.3 .8 .5 .8 .4 .8 0 .8 .4 .8-1.1 .8 .2 .8-1" fill="none" stroke="#e0b030" stroke-width="2.2" stroke-linejoin="round"/>
<path d="M102.5 930.1l.8 .2 .8 .3 .8-.8 .8 .6 .8 1.1 .8-.5 .8-.2 .8 .5 .8-.5 .8-.5 .8 1 .8-1.1 .8 1.2 .8 .3 .8-.5 .8-.2 .8-1 .8 0 .8 1.1 .8 .3 .8-.1 .8-1 .8 .9 .8 .8 .8 0 .8-.4 .8-.5 .8-.2 .8-.6 .8-.4 .8 1.8 .8-.6 .8-.2 .8 .1 .8 1.1 .8 .2 .8-.4 .8 .1 .8-.5 .8 .1 .8 .4 .8-.2 .8-1.2 .8 .4 .8 .4 .8 .3 .8 .6 .8-.1 .8-.7 .8-.1 .8 .6 .8 .1 .8-.7 .8-.1 .8 .4 .8-.1 .8 .3 .8 .5 .8-.7 .8 .1 .8-.7 .8 1 .8 .1 .8-.2 .8-.5 .8-.7 .8 .2 .8 0 .8 1.1 .8-.1 .8 .6 .8 .3 .8-1.2 .8-.6 .8 1 .8-.3 .8 .7 .8-.5 .8-.6 .8 1.3 .8 0 .8 .1 .8-.1 .8 .4 .8 0 .8-1.6 .8-.4 .8-.2 .8 1.3 .8 0 .8 .4 .8-1.1 .8-.2 .8 1.4 .8-.1 .8-.9 .8-.4 .8 1.3 .8 .5 .8-1.3 .8 1.3 .8-1.3 .8 .2 .8 .5 .8 .6 .8 .3 .8-1.6 .8 0 .8-.3 .8-.1 .8 1.1 .8-.7 .8 .4 .8 .6 .8 .4 .8-.3 .8 .2 .8 0 .8-.9 .8-.2 .8 1.4 .8-1 .8 1.1 .8-1.4 .8 .1 .8 .8 .8-.7 .8 1.4 .8-.4 .8 .5 .8-.3 .8 .3 .8-1.4 .8 .1 .8-.2 .8 .2 .8-.4 .8-.1 .8 .7 .8 1.1 .8-.2 .8-.1 .8 .5 .8-.5 .8-.1 .8 0 .8-.1 .8-.8 .8-.3 .8 1.4 .8-.3 .8 .6 .8-1.3 .8 .5 .8 1 .8-1.5 .8 1.5 .8-.8 .8 .1 .8 .2 .8 .1 .8-.6 .8 1.1 .8-.9 .8-.9 .8-.2 .8 1.9 .8-.9 .8-.1 .8 .5 .8 0 .8-.3 .8 .7 .8-.1 .8-1 .8 .9 .8 .3 .8 .2 .8 0 .8-1.4 .8-.3 .8 1.5 .8-.8 .8 1.3 .8 .4 .8-.2 .8-.3 .8-1.4 .8 1.2 .8-.6 .8 .8 .8 .4 .8-1.6 .8 .1 .8-.1 .8-.3 .8 1.5 .8-.1 .8-.2 .8 .3 .8-.3 .8-1.1 .8 .7 .8 .5 .8 .2 .8 .2 .8-.9 .8 .3 .8 .4 .8-.5 .8 .9 .8-.9 .8 .1 .8-.2 .8 .9 .8 .2 .8-.2 .8-.1 .8-.2 .8 .2 .8-.8 .8-.7 .8 .5 .8 1.3 .8-1.5 .8 .7 .8-.7 .8-.5 .8 1.3 .8 .3 .8-.7 .8 .4 .8 .1 .8-.1 .8 .4 .8 .3 .8 .1 .8-.4 .8 .6 .8 .3 .8-.4 .8-1 .8-.5 .8 .8 .8 .5 .8 .5 .8 .1 .8-1 .8-1 .8 .9 .8 0 .8 .3 .8-.8 .8 .5 .8 .3 .8-1.2 .8-.2 .8 .7 .8 .6 .8 .5 .8-1.1 .8 1.2 .8-1.1 .8 1.2 .8-1.1 .8 .5 .8 .6 .8-1.1 .8 0 .8 1.1 .8 0 .8 .1 .8-1.4 .8 1.2 .8-.5 .8-.7 .8 1.1 .8-.4 .8 .6 .8 .2 .8-1.5 .8 0 .8 .8 .8-.8 .8-.2 .8 .9 .8 .7 .8-1.1 .8-.4 .8 1.2 .8-.4 .8-.2 .8 .3 .8 1 .8-.4 .8-.6 .8-.1 .8 .9 .8-.1 .8-.3 .8-.7 .8-.3 .8 1 .7-1.5 .8 1.2 .8 .1 .7-.2 .7-.2 .8 1 .8-1.2 .7 .4 .7 1.2 1-1.5 .8 .1 .7 1.5 .7-.6 .8 .4 .8-.5 .7-.1 .7-.1 .8 .7 1-1.7 .7 .7 .7 .3 .8-.9 .8 1.6 .7-.5 .7 .4 .8-.1 .8 .4 .7-1.2 .7 .3 .8 .4 .8-1.2 .7 1.3 .7-1.3 .8 1.7 .8-.1 .7-.3 .7-.6 1.5 1 .8-1.3 .8-.2 .8 .8 .8-.7 .8-.2 .8 1.1 .8 .8 .8-.4 .8 .2 .8-1.1 .8 0 .8-.4 .8 1.2 .8-.2 .8-.2 .8-.9 .8 1.4 .8 .2 .8-.9 .8-.2 .8-.3 .8-.2 .8-.2 .8 1.2 .8-.7 .8-.1 .8 .9 .8 .4 .8-.2 .8 .1 .8-1 .8-.5 .8 .8 .8 1.1 .8-1.4 .8 0 .8 .8 .8-.5 .8 .3 .8 .3 .8 .1 .8-.5 .8 .2 .8-.8 .8 1.6 .8-.2 .8-.8 .8-.6 .8 .1 .8 1.1 .8-.9 .8 .7 .8 .5 .8-1 .8 .9 .8-.3 .8 .7 .8-.1 .8 .3 .8-1.4 .8 .8 .8 .4 .8-1.5 .8 1.4 .8-.5 .8 .8 .8-.8 .8-.1 .8 .9 .8 .2 .8 .1 .8-.4 .8-1.1 .8-.1 .8-.5 .8 0 .8 .9 .8-.8 .8 1.5 .8-.1 .8-.8 .8 .3 .8 .8 .8-.1 .8 .1 .8-.2 .8-1.1 .8 1.4 .8 .1 .8 .1 .8 .2 .8-1.5 .8-.7 .8 .6 .8 .1 .8 .9 .8-.8 .8-.7 .8 .2 .8-.3 .8 .8 .8-.1 .8 0 .8 .1 .8 .6 .8 0 .8-.7 .8 .8 .8-.5 .8 .2 .8 .9 .8-.1 .8-.7 .8 .3 .8-1.2 .8 .2 .8-.2 .8 .5 .8 .1 .8-.3 .8-.2 .8 .5 .8-.4 .8 1.4 .8-1.1 .8 1 .8-.3 .8 .8 .8-1 .8 .6 .8-1.3 .8 .8 .8-.8 .8-.4 .8 1.6 .8-.6 .8 .4 .8 0 .8 .2 .8-1.2 .8 .4 .8 .1 .8 0 .8 .4 .8 .7 .8 0 .8 .1 .8-1.3 .8 1.2 .8-1 .8-.2 .8-.4 .8 1 .8-.7 .8-.4 .8 1.2 .8-.4 .8 .2 .8 .3 .8-1 .8 .9 .8 .7 .8-.9 .8-.5 .8 .4 .8 .5 .8-.1 .8-.6 .8-.5 .8 1.3 .8-.4 .8 0 .8 .7 .8-.5 .8 .6 .8-1.3 .8-.1 .8-.2 .8 .6 .8-.7 .8 0 .8-.1 .8-.1 .8 1.1 .8-.8 .8 .8 .8-.3 .8-.7 .8 1 .8 .3 .8-1.2 .8 1.3 .8-.7 .8-.1 .8 .2 .8-1.1 .8-.1 .8 .6 .8 .6 .8 0 .8-1.1 .8 1.3 .8-.9 .8-.5 .8 .8 .8-.8 .8 .6 .8 0 .8 .5 .8-.5 .8 1 .8 .4 .8-1.5 .8 .5 .8 0 .8-.8 .8-.2 .8 1.6 .8-1 .8-.8 .8 1.3 .8-.7 .8-.6 .8 .4 .8-.4 .8 1.5 .8 0 .8-.9 .8 .4 .8 .1 .8 .7 .8-.9 .8 .8 .8-1.4 .8 .7 .8 0 .8 .3 .8-.6 .8 .1 .8 .4 .8 .1 .8 .1 .8 0 .8 .2 .8-.4 .8 .2 .8-.6 .8-.1 .8 .1 .8 .2 .8 .8 .8-.9 .8 1 .8 0 .8-.1 .8-.4 .8 .3 .8 0 .8 .4 .8-.5 .8-1.4 .8 1.2 .8 .1 .8 .3 .8-1.2 .8 1.1 .8 .4 .8-.3 .8-1.2 .8-.4 .8 .2 .8 .2 .8 0 .8 .3 .8-.6 .8 .7 .8 .8 .8-.9 .8 .2 .8 .6 .8 0 .8-1 .8-.1 .8 0 .8-.4 .8-.1 .8-.1 .8 1.2 .8 0 .8 .1 .8-.4 .8 .2 .8 .7 .8 .2 .8-1.3 .8 0 .8 .8 .8-.1 .8-.5 .8 .4 .8-.8 .8-.3 .8 1.4 .8-.5 .8-.6 .8 .9 .8 .1 .8-.1 .8-.9 .8-.6 .8 .1 .8 .1 .8 1.1 .8-.8 .8-.5 .8-.3 .8 .9 .8-.6 .8-.1 .8 .9 .8-.8 .8 1.3 .8-1.2 .8 .2 .8 .2 .8-.4 .8 .9 .8 .2 .8 .8 .8-.2 .8 .2 .8-.3 .8 0 .8 0 .8-.5 .8-.5 .8 .2 .8-.9 .8-.1 .8-.3 .8 .1 .8 1.6 .8 .3 .8-.5 .8 .6 .8 .2 .8 .2 .8-.7 .8-.5 .8-.3 .8-.6 .8 .6 .8 1 .8-1.4 .8 .7 .8 .7 .8 .2 .8-1.2 .8 .1 .8-.5 .8 .2 .8-.5 .8 1.6 .8-.6 .8 .3 .8 0 .8-.7 .8-.7 .8 .3 .8 1.4 .8-.6 .8 0 .8-.1 .8-.7 .8 .8 .8-.3 .8 .3 .8-.3 .8-.3 .8 1.3 .8-1 .8 .4 .8 .2 .8-.9 .8 .8 .8-.2 .8-.7 .8-.3 .8 1.3 .8-1.2 .8-.2 .8 1.3 .8 .6 .8-1.3 .8 .5 .8 .4 .8 0 .8 .4 .8-1.1 .8 .2 .8-1" fill="none" stroke="#958535" stroke-width="1.3" stroke-linejoin="round"/>
<path d="M345.2 928l.2-3.3 .2-1.8 0-.1 .1 .8 .2 2.4 .3 4.9" fill="none" stroke="#958535" stroke-width="0.6" stroke-opacity="0.7"/>
<path d="M348.9 928.8l.3-5.8 .2-5.8 .2-3 0-.1 .1 1.5 .2 2.9 .3 7.1 .2 4.8 .1 1.4" fill="none" stroke="#958535" stroke-width="0.6" stroke-opacity="0.7"/>
<path d="M352.4 930.7l.2-4.4 .2-9.7 .1-1.3 .2-9.1 .2-3.5 .1 .2 .2 7.3 .1 4.9 .1 7.1 .3 8.1" fill="none" stroke="#958535" stroke-width="0.6" stroke-opacity="0.7"/>
<path d="M356.1 927.1l.3-7.9 .2-9 .2-3.6 0-.1 .1-.3 .2 6.8 .3 9.2 .2 7.7 .1 .4" fill="none" stroke="#958535" stroke-width="0.6" stroke-opacity="0.7"/>
<path d="M358.8 932.1l0 0 .2-3.3 .3-10.6 .3-18.9 .2-19.6 .2-7.5 0 0 .1 2.1 .2 12.7 .3 21.1 .2 16.4 .1 3 .1 3.5" fill="none" stroke="#958535" stroke-width="0.6" stroke-opacity="0.7"/>
<path d="M363.6 929.2l.2-8.4 .2-13.6 .1-4.9 .2-13.6 .2-4.8 .1 .7 .2 11.7 .1 6.7 .1 10 .3 13.8" fill="none" stroke="#958535" stroke-width="0.6" stroke-opacity="0.7"/>
<path d="M367.3 927.6l.3-7.6 .2-7.4 .2-3.1 0-.6 .1 2 .2 4.5 .3 8.1 .2 6.1" fill="none" stroke="#958535" stroke-width="0.6" stroke-opacity="0.7"/>
<path d="M371 931.3l.3-2.3 .2-2.4 .1 1.3 .2 .4" fill="none" stroke="#958535" stroke-width="0.6" stroke-opacity="0.7"/>
<path d="M102.5 955.9l.8-.8 .8 .6 .8-1 .8 .2 .8-.3 .8 .4 .8-.8 .8 .5 .8-.1 .8-.5 .8 1.3 .8 .7 .8-1.4 .8 .6 .8 0 .8-.2 .8 .2 .8 .3 .8-.7 .8 0 .8 .2 .8 1.1 .8 .2 .8-.2 .8-.7 .8 .7 .8 .3 .8-.1 .8-1.4 .8 .1 .8-.4 .8 .4 .8 .9 .8-.5 .8-.4 .8-.5 .8-.1 .8 1.3 .8 .6 .8 .1 .8-1.7 .8 0 .8-.3 .8 .6 .8-.3 .8 .5 .8 0 .8 .4 .8-.1 .8 0 .8-1 .8 1.6 .8-.6 .8 .7 .8-.8 .8-.8 .8 1.6 .8-.5 .8-.8 .8 1.4 .8 .3 .8-1.5 .8 1.2 .8-1.2 .8-.4 .8-.1 .8 1.5 .8-.1 .8-.1 .8 .2 .8-.7 .8-.7 .8-.2 .8 .3 .8 .8 .8-.8 .8-.3 .8 .3 .8-.3 .8 0 .8 .2 .8 0 .8 .4 .8 1.2 .8 0 .8-1.3 .8-.3 .8 .5 .8 .4 .8 .1 .8 .2 .8 .4 .8 0 .8-.8 .8-.2 .8 1.4 .8-.5 .8 .7 .8 .2 .8-.2 .8-.4 .8 .1 .8-.8 .8-.5 .8 .3 .8-.3 .8-.1 .8-.2 .8 .1 .8-.3 .8 .2 .8 1.2 .8-1 .8 1.1 .8 .3 .8-1 .8 .3 .8 .4 .8 .8 .8-.4 .8-1.1 .8-.5 .8 .1 .8 0 .8 1.3 .8 .5 .8-1.3 .8 .9 .8 .6 .8-1.2 .8 .2 .8-.5 .8 .3 .8 .7 .8-.8 .8 .3 .8 .4 .8 .6 .8 .3 .8 0 .8-1 .8-.4 .8 1 .8 .3 .8-.1 .8-.4 .8 .6 .8-1.5 .8-.3 .8 1.1 .8-.7 .8 .5 .8 .1 .8 .1 .8-.7 .8 1.2 .8-.4 .8-1.2 .8 .2 .8 .5 .8 .9 .8-.3 .8 .6 .8-1 .8-.9 .8 .6 .8 1.1 .8-.4 .8 .5 .8 .1 .8 .2 .8-.8 .8-1.1 .8 .7 .8-.7 .8 .4 .8-.2 .8 .2 .8 .3 .8 .5 .8 .8 .8 0 .8-.1 .8-1.3 .8 .4 .8-.2 .8 .1 .8-.7 .8 .5 .8 1.2 .8 .2 .8 0 .8-1.5 .8 1.1 .8-.6 .8-.2 .8 .2 .8-.3 .8-.2 .8 1.3 .8-.3 .8-.3 .8 .1 .8-.9 .8-.2 .8-.2 .8 .6 .8 1.2 .8-1.3 .8 .2 .8 1.2 .8-1 .8 .3 .8 .9 .8 0 .8-.7 .8-.4 .8-.1 .8 0 .8 1.4 .8-.4 .8-.4 .8 .9 .8-.8 .8-.6 .8 .4 .8-.7 .1 1.4 .2-1.5 .3 .3 .2-.6 .1 .1 .2 1.2 .2-1.7 .3-.8 .3-3.4 .2-4.9 .2 .1 0-1.3 .1 1.4 .2 2.9 .3 3 .2 2.5 .1 .5 .1 1.2 .3 .4 .3-.8 .1-.3 .1-.1 .2-.2 .3-.3 .2 .2 .1-.8 .2-1.6 .2-5.3 .3-4.2 .2-3.3 .1 .8 .2 3.6 .2 6.1 .1-.3 .2 3 .3 3.3 .2 .1 .1-.3 .1-.6 .3 .9 .3 1.1 .1-.4 .8 .6 .8-.4 .8-1.3 .8 .8 .8 .1 .8 .9 .8-.1 .8-.2 .8-1.1 .8 .2 .8 .7 .8-.2 .8 .1 .8-1 .8 .6 .8-.7 .8-.3 .8 1.3 .8-.2 .8-.5 .8 .4 .8-.6 .8 .9 .8 1 .8-.1 .8 .2 .8-.4 .8 .5 .8-.9 .8-.9 .8-.1 .8-.4 .8 .3 .8-.1 .8 .1 .8 1.2 .8-.3 .8-.2 .8-.5 .8 1.2 .8-.7 .8 1.1 .8-1.3 .8-.5 .8 1.5 .8-.3 .8 .7 .8-.1 .8 0 .8-.9 .8 .5 .8-1 .8 1.3 .1 .2 .2-.5 .3-1.2 .2-.3 .1 .4 .2-1 .2-.1 .3-4.2 .3-9.3 .2-10.1 .2-2.9 0 1.3 .1-.1 .2 6.1 .3 9.3 .2 6.1 .1 1.8 .1 1.7 .3 1.6 .3-.2 .1-.4 .1-.4 .2 1.6 .1 .2 .3-.8 .1 .3 .1-.6 .2-.9 .3-1.6 .2-1.8 .1-2.1 .2-9.3 .2-21.3 .3-21.2 .2-8.4 .1 .9 .2 14.4 .2 23.2 .1 5.1 .2 12.4 .3 7.4 .2 2.1 .1 .7 .1 1.1 0 .3 .2 .1 .1-.6 .2-.4 .1 .7 .1 .2 .1-.9 .2-.3 .2-2.6 .3-3.5 .3-8.5 .2-10.2 .2-1.7 0 .1 .1 .2 .2 6.4 .3 9.5 .2 6.8 .1 .6 .1 2.6 .3 .9 .3 .4 .1 .2 .1 .4 .2 .1 .5 .1 .8 .8 .8-.9 .8 .8 .8-1.4 .8 1.1 .8-.2 .8-.3 .8-.5 .8-.3 .8 .3 .8 .3 .8-.8 .8 1.1 .8 .7 .8-.3 .8 .1 .8-1.1 .8 .1 .8-.6 .8 1.8 .8 .5 .8-.9 .8-.7 .8 .6 .8 .5 .8-1 .8-.2 .8 1.1 .8 .1 .8-1 .8 0 .8 1 .8-.1 .8 .8 .8 .1 .8-1 .8 .7 .8-1.5 .8 .7 .8 .9 .1-1.3 .2 .8 .3-.6 .2-.9 .1 .6 .2 .8 .2-.9 .3-2 .3-1.9 .2-1.8 .2-.1 0-1 .1 .8 .2 1 .3 2.7 .2 2.6 .1 .5 .1-1.2 .3 1.2 .3-.1 .1-.1 .1 .9 .2-.1 .5-1.4 .8 .7 .8 .8 .8-1.2 .8 .2 .1-.8 .2 1.1 .3-.6 .2 .5 .1-.1 .2 .5 .2-1.1 .3-1.9 .3-1.7 .2-1.1 .2-1.4 0-.8 .1 .4 .2 1.2 .3 2.8 .2 2.7 .1 .9 .1 0 .3 .2 .2-.9 .1 .7 .1-.2 .1-.3 0 .2 .2-.9 0-.6 .2 .8 .3 .5 .3-2 .2-2.6 .2-7 .1-1.4 .2-5.2 .2-2.1 .1-.1 .2 4.2 .1 4 .1 4.3 .3 4.1 .3 3.4 .1 1 .1-1.2 .2 .8 .3-.3 .2-.1 .1 1 0-1.3 .2-.2 .3-.1 .2-.2 .1 1.5 .2-1.4 .2-.4 .3-2.4 .3-4.5 .2-5.7 .2-2.2 0 .7 .1 .1 .2 3.4 .3 4.4 .2 4.4 .1 .6 .1 .9 .3 2 .3-.2 .1 .2 .1-1 .2 .8 .5-.3 .8 1.2 .8-.5 .8-.4 .8-.7 .8 .4 .8 .9 .8-.7 .8 1.2 .8 0 .8-1.4 .8-.2 .8 .5 .8-.2 .8 .9 .8-1.1 .8-.1 .8 1.2 .8 .3 .8 0 .8-.2 .8 .6 .8 .2 .8-.2 .8-.1 .8 .2 .8-.1 .8 .1 .8 0 .8 .2 .8 0 .8-.6 .8 .7 .8-.9 .8-.9 .8 .2 .8 1.2 .8-.9 .8-.1 .8-.3 .8-.1 .8 .7 .8-.1 .8-.2 .8 .4 .8 0 .8-.1 .8-.8 .8 1.4 .8 .2 .8-.9 .8-.3 .8 0 .8 1.4 .8-1 .8 0 .8 .2 .8-.4 .8-.3 .8 .6 .8 .3 .8 .6 .8-.5 .8-.4 .8 .4 .8 .4 .8 .4 .8-1.3 .8 1.1 .8-1 .8 .4 .8-.5 .8 .6 .8-.2 .8-.8 .8-.2 .8 .2 .8 .8 .8-.7 .8 1.2 .8 .1 .8 .2 .8-1.2 .8 1.4 .8 .6 .8-.5 .8 .2 .8-.6 .8-.7 .8-.4 .8 1 .8 0 .8 .5 .8-.3 .8-.7 .8 1.2 .8-.1 .8-.1 .8-.9 .8-.4 .8 1.6 .8 .4 .8-.8 .8-.2 .8-.1 .8-.4 .8 .8 .8 .5 .8-.7 .8-.4 .8-.8 .8-.2 .8 .5 .8 .1 .8 .3 .8 .5 .8 .7 .8-1.3 .8 .6 .8 .4 .8-.7 .8 .4 .8-1.1 .8-.4 .8 1.4 .8 .4 .8-1 .8 .2 .8-.4 .8 1.1 .8-.3 .8-.6 .8 .4 .8-.5 .8 .3 .8 .6 .8-1.4 .8-.5 .8 1.8 .8 .3 .8-.1 .8 .1 .8 .2 .8-1.5 .8 1.1 .8 .2 .8-1.4 .8 1.2 .8-.6 .8-.3 .8 .2 .8 .4 .8-1.3 .8-.2 .8 .7 .8 .1 .8 .4 .8-.6 .8 1.1 .8 .2 .8-1.3 .8-.2 .8 1.2 .8 .3 .8 .1 .8-1.1 .8 .2 .8-1.2 .8 1.2 .8 .3 .8-.5 .8 .3 .8-1.1 .8-.5 .8 1.3 .8 .1 .8-.2 .8-.6 .8 1 .8-.5 .8 .1 .8-.6 .8-.6 .8 1.1 .8 .7 .8-1.4 .8 .4 .8 .5 .8 .6 .8-1 .8-.7 .8 1.4 .8 .2 .8 .1 .8-.7 .8 .2 .8-.1 .8 .3 .8-.6 .8 .9 .8-1.5 .8-.3 .8 1.2 .8-.9 .8 .8 .8-.4 .8-.2 .8-.8 .8 .7 .8 .4 .8-1.1 .8 1.6 .8-.4 .8-.8 .8 .8 .8 0 .8 0 .8-.9 .8 .4 .8-.4 .8-.3 .8 1.2 .8 .5 .8-1.2 .8 1.2 .8-1.5 .8 .9 .8-.5 .8-.3 .8-.3 .8 1.5 .8-.3 .8 .5 .8-.7 .8 0 .8 .7 .8-.4 .8-.8 .8 .9 .8 0 .8-.4 .8 .2 .8-.5 .8 .1 .8 .6 .8 .1 .8-1.4 .8 1.1 .8-.2 .8-.1 .8 .4 .8-.3 .8 .2 .8-1 .8-.1 .8 .1 .8 .5 .8 .5 .8-.1 .8 0 .8-1.2 .8 .4 .8 .5 .8-.8 .8-.7 .8 .4 .8 .3 .8-.7 .8 .9 .8 .7 .8-.8 .8 .4 .8 .7 .8-1 .8-.7 .8 .9 .8 .1 .8-.8 .8-.1 .8 .7 .8 .2 .8 .3 .8-1.1 .8 .9 .8 .3 .8 .2 .8-1.5 .8 .7 .8-.2 .8-.5 .8 .5 .8-.4 .8-.6 .8 .2 .8 1.5 .8-1.4 .8 .2 .8 .7 .8 .5 .8-1.4 .8-.3 .8 .4 .8-.1 .8-.1 .8-.3 .8 .5 .8 .7 .8 .5 .8 .3 .8-1.2 .8 .2 .8 .6 .8 .2 .8-.7 .8 .4 .8-.6 .8 1 .8-.4 .8-.6 .8-.6 .8 .1 .8 .2 .8 1 .8-.4 .8-.6 .8-.7 .8 .4 .8 1.1 .8-.8 .8-.8 .8-.1 .8 1.4 .8 .3 .8-.2 .8-1.1 .8 .6 .8 .7 .8 .3 .8 .2 .8-.8 .8 .6 .8-.9 .8 .3 .8 .1 .8-.4 .8 .3 .8-.4 .8 .1 .8-.2 .8-.4 .8 .9 .8-.6 .8 .7 .8 .1 .8-1 .8 .2 .8-.6 .8 .1 .8-.3 .8 1.4 .8-1.3 .8 .5 .8 .5 .8 .1 .8-1.3 .8 1.2 .8 .1 .8 .2 .8-.9 .8 .5" fill="none" stroke="#6a2a7a" stroke-width="2.2" stroke-linejoin="round"/>
<path d="M102.5 955.9l.8-.8 .8 .6 .8-1 .8 .2 .8-.3 .8 .4 .8-.8 .8 .5 .8-.1 .8-.5 .8 1.3 .8 .7 .8-1.4 .8 .6 .8 0 .8-.2 .8 .2 .8 .3 .8-.7 .8 0 .8 .2 .8 1.1 .8 .2 .8-.2 .8-.7 .8 .7 .8 .3 .8-.1 .8-1.4 .8 .1 .8-.4 .8 .4 .8 .9 .8-.5 .8-.4 .8-.5 .8-.1 .8 1.3 .8 .6 .8 .1 .8-1.7 .8 0 .8-.3 .8 .6 .8-.3 .8 .5 .8 0 .8 .4 .8-.1 .8 0 .8-1 .8 1.6 .8-.6 .8 .7 .8-.8 .8-.8 .8 1.6 .8-.5 .8-.8 .8 1.4 .8 .3 .8-1.5 .8 1.2 .8-1.2 .8-.4 .8-.1 .8 1.5 .8-.1 .8-.1 .8 .2 .8-.7 .8-.7 .8-.2 .8 .3 .8 .8 .8-.8 .8-.3 .8 .3 .8-.3 .8 0 .8 .2 .8 0 .8 .4 .8 1.2 .8 0 .8-1.3 .8-.3 .8 .5 .8 .4 .8 .1 .8 .2 .8 .4 .8 0 .8-.8 .8-.2 .8 1.4 .8-.5 .8 .7 .8 .2 .8-.2 .8-.4 .8 .1 .8-.8 .8-.5 .8 .3 .8-.3 .8-.1 .8-.2 .8 .1 .8-.3 .8 .2 .8 1.2 .8-1 .8 1.1 .8 .3 .8-1 .8 .3 .8 .4 .8 .8 .8-.4 .8-1.1 .8-.5 .8 .1 .8 0 .8 1.3 .8 .5 .8-1.3 .8 .9 .8 .6 .8-1.2 .8 .2 .8-.5 .8 .3 .8 .7 .8-.8 .8 .3 .8 .4 .8 .6 .8 .3 .8 0 .8-1 .8-.4 .8 1 .8 .3 .8-.1 .8-.4 .8 .6 .8-1.5 .8-.3 .8 1.1 .8-.7 .8 .5 .8 .1 .8 .1 .8-.7 .8 1.2 .8-.4 .8-1.2 .8 .2 .8 .5 .8 .9 .8-.3 .8 .6 .8-1 .8-.9 .8 .6 .8 1.1 .8-.4 .8 .5 .8 .1 .8 .2 .8-.8 .8-1.1 .8 .7 .8-.7 .8 .4 .8-.2 .8 .2 .8 .3 .8 .5 .8 .8 .8 0 .8-.1 .8-1.3 .8 .4 .8-.2 .8 .1 .8-.7 .8 .5 .8 1.2 .8 .2 .8 0 .8-1.5 .8 1.1 .8-.6 .8-.2 .8 .2 .8-.3 .8-.2 .8 1.3 .8-.3 .8-.3 .8 .1 .8-.9 .8-.2 .8-.2 .8 .6 .8 1.2 .8-1.3 .8 .2 .8 1.2 .8-1 .8 .3 .8 .9 .8 0 .8-.7 .8-.4 .8-.1 .8 0 .8 1.4 .8-.4 .8-.4 .8 .9 .8-.8 .8-.6 .8 .4 .8-.6 .8-.3 .8 1.5 .7-1.1 .8 .5 .8-.3 .7-.6 .7 .8 .8 .3 .8 .7 .7-.7 1.2 1.2 .8-.4 .8-1.4 .8 .8 .8 .1 .8 .9 .8-.1 .8-.2 .8-1.1 .8 .2 .8 .7 .8-.2 .8 .1 .8-1 .8 .6 .8-.7 .8-.3 .8 1.3 .8-.2 .8-.5 .8 .4 .8-.6 .8 .9 .8 1 .8-.1 .8 .2 .8-.4 .8 .5 .8-.9 .8-.9 .8-.1 .8-.4 .8 .3 .8-.1 .8 .1 .8 1.2 .8-.3 .8-.2 .8-.5 .8 1.2 .8-.7 .8 1.1 .8-1.3 .8-.5 .8 1.5 .8-.3 .8 .7 .8-.1 .8 0 .8-.9 .8 .6 .8-1 .8 1.4 .8-1.3 .8 1.8 .7-.1 .8-1.7 .8 .6 .8 .3 .7-1.1 .7 .5 .8 0 .8 .7 .7 .3 .9-1.4 .8 .3 .8 1 .7-.3 .7 .6 1.3 .6 .8-1 .8 .9 .8-1.5 .8 1.1 .8-.2 .8-.3 .8-.5 .8-.3 .8 .3 .8 .3 .8-.8 .8 1.1 .8 .7 .8-.3 .8 .1 .8-1.1 .8 .1 .8-.6 .8 1.8 .8 .5 .8-.9 .8-.7 .8 .6 .8 .5 .8-1 .8-.2 .8 1.1 .8 .1 .8-1 .8 0 .8 1 .8-.1 .8 .8 .8 .1 .8-.9 .8 .7 .8-1.6 .8 .7 .8 .9 .8-1.8 .8 .1 .7 .2 .8 1.5 .8-.7 .9-.8 .8 .8 .8 .7 .8-1.2 .8 .3 .8 .2 .8-.9 .7 .2 .8 1.4 .8 0 .9-.1 .7-.9 .8-.2 .8 1.3 .7-.7 .8-.8 .7 .9 .8 .7 .8-1.5 .7 1.3 .7-.5 1.3 .8 .8-.6 .8-.4 .8-.6 .8 .4 .8 .8 .8-.7 .8 1.2 .8 0 .8-1.4 .8-.2 .8 .5 .8-.2 .8 .9 .8-1.1 .8-.1 .8 1.2 .8 .3 .8 0 .8-.2 .8 .6 .8 .2 .8-.2 .8-.1 .8 .2 .8-.1 .8 .1 .8 0 .8 .2 .8 0 .8-.6 .8 .7 .8-.9 .8-.9 .8 .2 .8 1.2 .8-.9 .8-.1 .8-.3 .8-.1 .8 .7 .8-.1 .8-.2 .8 .4 .8 0 .8-.1 .8-.8 .8 1.4 .8 .2 .8-.9 .8-.3 .8 0 .8 1.4 .8-1 .8 0 .8 .2 .8-.4 .8-.3 .8 .6 .8 .3 .8 .6 .8-.5 .8-.4 .8 .4 .8 .4 .8 .4 .8-1.3 .8 1.1 .8-1 .8 .4 .8-.5 .8 .6 .8-.2 .8-.8 .8-.2 .8 .2 .8 .8 .8-.7 .8 1.2 .8 .1 .8 .2 .8-1.2 .8 1.4 .8 .6 .8-.5 .8 .2 .8-.6 .8-.7 .8-.4 .8 1 .8 0 .8 .5 .8-.3 .8-.7 .8 1.2 .8-.1 .8-.1 .8-.9 .8-.4 .8 1.6 .8 .4 .8-.8 .8-.2 .8-.1 .8-.4 .8 .8 .8 .5 .8-.7 .8-.4 .8-.8 .8-.2 .8 .5 .8 .1 .8 .3 .8 .5 .8 .7 .8-1.3 .8 .6 .8 .4 .8-.7 .8 .4 .8-1.1 .8-.4 .8 1.4 .8 .4 .8-1 .8 .2 .8-.4 .8 1.1 .8-.3 .8-.6 .8 .4 .8-.5 .8 .3 .8 .6 .8-1.4 .8-.5 .8 1.8 .8 .3 .8-.1 .8 .1 .8 .2 .8-1.5 .8 1.1 .8 .2 .8-1.4 .8 1.2 .8-.6 .8-.3 .8 .2 .8 .4 .8-1.3 .8-.2 .8 .7 .8 .1 .8 .4 .8-.6 .8 1.1 .8 .2 .8-1.3 .8-.2 .8 1.2 .8 .3 .8 .1 .8-1.1 .8 .2 .8-1.2 .8 1.2 .8 .3 .8-.5 .8 .3 .8-1.1 .8-.5 .8 1.3 .8 .1 .8-.2 .8-.6 .8 1 .8-.5 .8 .1 .8-.6 .8-.6 .8 1.1 .8 .7 .8-1.4 .8 .4 .8 .5 .8 .6 .8-1 .8-.7 .8 1.4 .8 .2 .8 .1 .8-.7 .8 .2 .8-.1 .8 .3 .8-.6 .8 .9 .8-1.5 .8-.3 .8 1.2 .8-.9 .8 .8 .8-.4 .8-.2 .8-.8 .8 .7 .8 .4 .8-1.1 .8 1.6 .8-.4 .8-.8 .8 .8 .8 0 .8 0 .8-.9 .8 .4 .8-.4 .8-.3 .8 1.2 .8 .5 .8-1.2 .8 1.2 .8-1.5 .8 .9 .8-.5 .8-.3 .8-.3 .8 1.5 .8-.3 .8 .5 .8-.7 .8 0 .8 .7 .8-.4 .8-.8 .8 .9 .8 0 .8-.4 .8 .2 .8-.5 .8 .1 .8 .6 .8 .1 .8-1.4 .8 1.1 .8-.2 .8-.1 .8 .4 .8-.3 .8 .2 .8-1 .8-.1 .8 .1 .8 .5 .8 .5 .8-.1 .8 0 .8-1.2 .8 .4 .8 .5 .8-.8 .8-.7 .8 .4 .8 .3 .8-.7 .8 .9 .8 .7 .8-.8 .8 .4 .8 .7 .8-1 .8-.7 .8 .9 .8 .1 .8-.8 .8-.1 .8 .7 .8 .2 .8 .3 .8-1.1 .8 .9 .8 .3 .8 .2 .8-1.5 .8 .7 .8-.2 .8-.5 .8 .5 .8-.4 .8-.6 .8 .2 .8 1.5 .8-1.4 .8 .2 .8 .7 .8 .5 .8-1.4 .8-.3 .8 .4 .8-.1 .8-.1 .8-.3 .8 .5 .8 .7 .8 .5 .8 .3 .8-1.2 .8 .2 .8 .6 .8 .2 .8-.7 .8 .4 .8-.6 .8 1 .8-.4 .8-.6 .8-.6 .8 .1 .8 .2 .8 1 .8-.4 .8-.6 .8-.7 .8 .4 .8 1.1 .8-.8 .8-.8 .8-.1 .8 1.4 .8 .3 .8-.2 .8-1.1 .8 .6 .8 .7 .8 .3 .8 .2 .8-.8 .8 .6 .8-.9 .8 .3 .8 .1 .8-.4 .8 .3 .8-.4 .8 .1 .8-.2 .8-.4 .8 .9 .8-.6 .8 .7 .8 .1 .8-1 .8 .2 .8-.6 .8 .1 .8-.3 .8 1.4 .8-1.3 .8 .5 .8 .5 .8 .1 .8-1.3 .8 1.2 .8 .1 .8 .2 .8-.9 .8 .5" fill="none" stroke="#22122a" stroke-width="1.3" stroke-linejoin="round"/>
<path d="M286 951.8l.2-4.9 .2 .1 0-1.3 .1 1.4 .2 2.9 .3 3" fill="none" stroke="#22122a" stroke-width="0.6" stroke-opacity="0.7"/>
<path d="M289.2 953.7l.2-5.3 .3-4.2 .2-3.3 .1 .8 .2 3.6 .2 6.1 .1-.3 .2 3" fill="none" stroke="#22122a" stroke-width="0.6" stroke-opacity="0.7"/>
<path d="M336.1 952.4l.3-9.3 .2-10.1 .2-2.9 0 1.3 .1-.1 .2 6.1 .3 9.3 .2 6.1 .1 1.8" fill="none" stroke="#22122a" stroke-width="0.6" stroke-opacity="0.7"/>
<path d="M339.9 955.1l.2-1.8 .1-2.1 .2-9.3 .2-21.3 .3-21.2 .2-8.4 .1 .9 .2 14.4 .2 23.2 .1 5.1 .2 12.4 .3 7.4" fill="none" stroke="#22122a" stroke-width="0.6" stroke-opacity="0.7"/>
<path d="M343.8 954.8l.3-3.5 .3-8.5 .2-10.2 .2-1.7 0 .1 .1 .2 .2 6.4 .3 9.5 .2 6.8 .1 .6" fill="none" stroke="#22122a" stroke-width="0.6" stroke-opacity="0.7"/>
<path d="M381.2 955.1l.2-1.8 .2-.1 0-1 .1 .8 .2 1" fill="none" stroke="#22122a" stroke-width="0.6" stroke-opacity="0.7"/>
<path d="M389.2 955.4l.2-1.1 .2-1.4 0-.8 .1 .4 .2 1.2 .3 2.8" fill="none" stroke="#22122a" stroke-width="0.6" stroke-opacity="0.7"/>
<path d="M392.6 955l.2-7 .1-1.4 .2-5.2 .2-2.1 .1-.1 .2 4.2 .1 4 .1 4.3 .3 4.1" fill="none" stroke="#22122a" stroke-width="0.6" stroke-opacity="0.7"/>
<path d="M396.9 955.9l.3-4.5 .2-5.7 .2-2.2 0 .7 .1 .1 .2 3.4 .3 4.4 .2 4.4" fill="none" stroke="#22122a" stroke-width="0.6" stroke-opacity="0.7"/>
<path d="M102.5 975.7l.8-1 .8 1.1 .8-.5 .8-.4 .8 .4 .8-.8 .8-.2 .8 .5 .8-.3 .8 .8 .8-.2 .8-.2 .8-.2 .8-.2 .8 1 .8 .6 .8-.9 .8 .7 .8-.8 .8 .7 .8-.8 .8 .4 .8-.2 .8 .9 .8 0 .8-1.2 .8-.4 .8 .6 .8-.3 .8-.1 .8 1.5 .8 .4 .8-1.7 .8-.5 .8 1.1 .8 .9 .8 .2 .8-.3 .8 0 .8-.5 .8-.1 .8 .7 .8-1.3 .8 .8 .8 .3 .8-1 .8 .9 .8-.9 .8 1.3 .8 0 .8-.6 .8 .1 .8 .8 .8-.9 .8-.6 .8 .8 .8 .6 .8-1.2 .8 .8 .8-.5 .8 .5 .8-.3 .8 .9 .8-.5 .8 .7 .8 .2 .8-1.6 .8 1.1 .8 0 .8-1.2 .8 .5 .8-.4 .8-.6 .8-.2 .8 .6 .8 1.2 .8-1.2 .8 .7 .8 .7 .8-.7 .8 .5 .8-.1 .8 .3 .8-.5 .8 .9 .8-.9 .8-.6 .8-.4 .8 .2 .8-.2 .8 1.6 .8-1.2 .8 1.1 .8 .2 .8-.5 .8-1 .8 0 .8 1.5 .8-.6 .8 .6 .8-1.1 .8-.5 .8 .5 .8 .1 .8-.2 .8 .8 .8 .1 .8 0 .8-.5 .8 .1 .8-.3 .8 .5 .8-.1 .8 .5 .8 .7 .8-1 .8 .2 .8-.9 .8 1.2 .8-.2 .8 .1 .8-.1 .8-.8 .8 1.2 .8-1.3 .8 0 .8 .5 .8 1.1 .8-.1 .8 .4 .8-1 .8 .1 .8 .1 .8-.6 .8-.5 .8 .4 .8-.4 .8-.3 .8 .3 .8 1.4 .8 0 .8 .3 .8-.3 .8-.3 .8 .8 .8-.9 .8-.4 .8 0 .8-.5 .8-.2 .8 .4 .8 .9 .8-.6 .8 .4 .8-.2 .8 .8 .8-.7 .8 .2 .8 .6 .8 .2 .8 .4 .8-1.6 .8 .4 .8-.4 .8 1.3 .8-.9 .8 .8 .8-.3 .8 .4 .8 .2 .8 .2 .8 .2 .8-1 .8 .3 .8 .6 .8-.1 .8-.7 .8 .6 .8 .1 .8-.7 .8-.1 .8-.1 .8 1 .8-1.1 .8 1.1 .8-1.3 .8-.1 .8 .9 .8 .3 .8-.7 .8-.3 .8 .5 .8 .6 .8-.6 .8 0 .8-.1 .8 .8 .8 .4 .8-.4 .8-.9 .8 .1 .8 0 .8 .5 .8-.5 .8 .5 .8-.1 .8 .1 .8 .8 .8-.8 .8-.5 .8-.7 .8-.2 .8 1.3 .8 .9 .8-.2 .8-1 .8-.6 .8 .6 .8-.5 .8-.2 .8 1.1 .8-.6 .8 .5 .8 .9 .8-.5 .8-.3 .8 .1 .8 .9 .8-1.2 .8 .7 .8-.7 .8 .6 .8-1 .8-.3 .8 .3 .8 1.1 .8-.6 .8 .8 .8-.6 .8 .9 .8 .4 .8-.2 .8-1.1 .8-.6 .8 .6 .8-.2 .8-.5 .8 1.2 .8 .6 .8 .3 .8 .2 .8-.6 .8-.3 .8 .8 .8-.9 .8 .5 .8-.8 .8 1.1 .8-.3 .8 .6 .8 0 .8-.5 .8-.4 .8-.8 .8-.1 .8-.3 .8 .9 .8-.5 .1-.6 .2 1 .3 .3 .2-1.1 .1 0 .2 1 .2-.9 .3-2.5 .3-6.1 .2-6.3 .2-.9 0 .3 .1 .4 .2 2.4 .3 6.6 .2 4.7 .1 .5 .1 .7 .3-.1 .2 .3 .1-.3 .1-.3 .1 1.7 0-.9 .2-.7 0 .8 .2-.7 .3 .5 .3-2.8 .2-5.2 .2-10 .1-2.8 .2-7.2 .2-3.8 .1 .3 .2 8.1 .1 3.1 .1 7.6 .3 7.4 .3 4.5 .1 1.2 .1-.7 .2 .8 .3-.7 .2-1 .1 .3 .2-.4 .2-3.3 .3-9.1 .3-17.9 .2-18 .2-6.1 0 .4 .1 .5 .2 12.3 .3 20 .2 13.2 .1 3 .1 2.3 0 1.2 .2 2.6 .1 .1 .2-1.1 .1 .1 .1 .7 .1 .8 0-.3 .2-.1 0-1.4 .2-1.9 .3-5.4 .3-10.7 .2-10.3 .2-3.7 0 .4 .1 .9 .2 7.1 .3 10.6 .2 9.1 .1 2.2 .1 .8 0 .3 .2 2.3 .1-1.1 .2-.1 .1 1.6 .1 .5 .1-.8 0-.3 .2 .6 0-.2 .2-1.1 .3-2.7 .3-4.1 .2-5.3 .2-2.2 0 1.5 .1-.2 .2 2.7 .3 5.9 .2 3 .1 .7 .1 1.3 .3-.2 .3 .7 .1-.5 .1 1.2 .2 .1 .5 .6 .8-1.1 .8-.4 .8 .8 .8 .3 .8-.4 .8-.7 .8 .7 .8 1.2 .8-.1 .8-1.3 .8 .8 .8 .4 .8-.9 .8-.6 .8 1.2 .8-1.1 .8 .7 .8-.8 .8 1.5 .8-.7 .8 .3 .8 .3 .8 0 .8 .1 .8-1 .8-.4 .8 1.2 .8-1 .8-.1 .8 .7 .8 .8 .8-1.1 .8 .1 .8-.6 .8 1.4 .8-.8 .8 .3 .8-.1 .8-.6 .8 1.6 .8-1.1 .8-.5 .8 1 .8-.8 .8 .2 .8 .2 .8 .1 .8 1.2 .8 .3 .8-.4 .8-.3 .8 .1 .8 .6 .8-.9 .8-.2 .8 .6 .8-.5 .8-.2 .8 .7 .8-.1 .8-.9 .8 .1 .8-.2 .8 .6 .8 .9 .8-.2 .8-.2 .8-1 .8 .3 .8 1.2 .8-.2 .8 .4 .8-1.2 .8-.6 .8-.2 .8 .4 .8 .3 .8 .3 .8-.2 .8 1 .8-.1 .8 0 .8-1.2 .8 1.6 .8-.5 .8-.5 .8 .7 .8 .6 .8-1.1 .8 .2 .8 .3 .8-.6 .8-.5 .8-.1 .8 .1 .8 1.5 .8 0 .8-.7 .8 1 .8-1 .8 .7 .8-.3 .8-1 .8 1.3 .8-1.3 .8 1.4 .8-.7 .8 .4 .8-1.2 .8 .4 .8 1.1 .8 .5 .8-.2 .8-.3 .8-.2 .8-1 .8 .7 .8 .7 .8 .4 .8-1.5 .8 .7 .8-1 .8-.1 .8 1.1 .8-.4 .8 .2 .8 1 .8 0 .8 .1 .8-.1 .8 .1 .8-.9 .8 0 .8-.4 .8 1.2 .8 0 .8-1.5 .8 .1 .8 .8 .8-1 .8 1.3 .8-1.2 .8 1.1 .8-.5 .8 .3 .8-.6 .8 .2 .8 .5 .8-.2 .8 .8 .8-.5 .8 .2 .8 .2 .8-.1 .8 .4 .8-1.5 .8-.4 .8 1.5 .8 0 .8-.2 .8 .7 .8 .2 .8-1.2 .8 .3 .8-.3 .8 0 .8-.3 .8 .4 .8 .2 .8 .3 .8 .1 .8 .3 .8-1.1 .8-.4 .8 0 .8 1.7 .8 0 .8 0 .8 .1 .8-1.3 .8 1.4 .8-.1 .8-1.3 .8-.4 .8 1.6 .8-.2 .8-.3 .8-.5 .8 .1 .8 .3 .8 .5 .8-.6 .8 .9 .8-.2 .8-1.5 .8 1.1 .8-.1 .8-.2 .8-.7 .8-.3 .8 .1 .8-.3 .8 .7 .8 1.1 .8 .1 .8-1.1 .8 .3 .8-.9 .8 .6 .8-.1 .8-.2 .8-.6 .8 1.4 .8-.6 .8 1 .8 0 .8-1.2 .8 .4 .8 .4 .8-.4 .8 .1 .8-.5 .8 1.2 .8-1.3 .8 .2 .8-.6 .8 .9 .8 .4 .8-1.2 .8 1.1 .8 .6 .8-1.3 .8-.3 .8-.6 .8 .5 .8 .7 .8-.7 .8-.4 .8 1.1 .8-.6 .8 1.3 .8-.1 .8-.8 .8 .6 .8-.6 .8 .3 .8-.6 .8 .1 .8 .4 .8 .4 .8-.5 .8 .5 .8-.8 .8 .9 .8-.1 .8 .4 .8 .1 .8-.2 .8-.1 .8-1 .8 .9 .8-1.6 .8 1.3 .8-.8 .8-.7 .8 1.1 .8-1.1 .8 .8 .8 .9 .8 .4 .8-1.3 .8-.5 .8-.6 .8 .6 .8 1 .8-.9 .8-.4 .8 1.4 .8-1.2 .8 .1 .8 1.2 .8-1.2 .8-.1 .8 .7 .8-1 .8 1.1 .8 .4 .8-1.1 .8-.2 .8 1 .8 .6 .8 .2 .8-1.3 .8-.7 .8 .5 .8-.2 .8 .6 .8 .2 .8 0 .8-.7 .8 .5 .8-1.2 .8 .3 .8 1.3 .8-.2 .8-.6 .8-.8 .8 .4 .8 .5 .8-.9 .8 0 .8 .8 .8-.6 .8 1.3 .8-1.4 .8 .9 .8-1 .8 1.5 .8 .2 .8-1.3 .8 1 .8-.1 .8 .1 .8-.9 .8-.6 .8 .7 .8 .2 .8-.9 .8 1.3 .8-.4 .8-.9 .8 .8 .8 .3 .8 .4 .8-.9 .8-.9 .8 .4 .8 1.2 .8-.5 .8 .5 .8-1.3 .8-.4 .8 1.3 .8 .3 .8-.5 .8-.7 .8-.1 .8 1.1 .8-.6 .8 .4 .8 0 .8 .7 .8-.6 .8-.9 .8 0 .8 0 .8 .4 .8 1 .8-.6 .8-.2 .8 .2 .8-.1 .8-.1 .8 .6 .8-.1 .8-.5 .8-.5 .8-.2 .8-.2 .8 .2 .8 .7 .8-.3 .8-.8 .8 1.1 .8 .4 .8-.3 .8-1.1 .8 1.3 .8-.3 .8-.3 .8-.2 .8-.6 .8 .7 .8 .8 .8-1.6 .8 .8 .8 .4 .8 .3 .8-.8 .8 .4 .8-.2 .8 .2 .8-1.2 .8-.4 .8-.1 .8 .3 .8 0 .8 .6 .8 .1 .8-.5 .8-.3 .8-.3 .8 .3 .8 .1 .8 1.1 .8-.1 .8 .7 .8-.8 .8-.6 .8 .3 .8-.5 .8 .6 .8-.4 .8-.3 .8 1.4 .8-1.3 .8 1.2 .8 0 .8-1.4 .8-.2 .8 1.4 .8-1.3 .8-.4 .8 1 .8-.8 .8 .5 .8-.7 .8 1.7 .8-.4 .8 .4 .8-.8 .8 .3 .8 .6 .8-.4 .8-1 .8 0 .8 .6 .8 .1 .8-.5 .8 .6 .8 .3 .8-1.3 .8 1.5 .8-1.4 .8 1.1 .8-1.2 .8-.1 .8 1 .8 .8 .8-1.3" fill="none" stroke="#77ac30" stroke-width="2.2" stroke-linejoin="round"/>
<path d="M102.5 975.7l.8-1 .8 1.1 .8-.5 .8-.4 .8 .4 .8-.8 .8-.2 .8 .5 .8-.3 .8 .8 .8-.2 .8-.2 .8-.2 .8-.2 .8 1 .8 .6 .8-.9 .8 .7 .8-.8 .8 .7 .8-.8 .8 .4 .8-.2 .8 .9 .8 0 .8-1.2 .8-.4 .8 .6 .8-.3 .8-.1 .8 1.5 .8 .4 .8-1.7 .8-.5 .8 1.1 .8 .9 .8 .2 .8-.3 .8 0 .8-.5 .8-.1 .8 .7 .8-1.3 .8 .8 .8 .3 .8-1 .8 .9 .8-.9 .8 1.3 .8 0 .8-.6 .8 .1 .8 .8 .8-.9 .8-.6 .8 .8 .8 .6 .8-1.2 .8 .8 .8-.5 .8 .5 .8-.3 .8 .9 .8-.5 .8 .7 .8 .2 .8-1.6 .8 1.1 .8 0 .8-1.2 .8 .5 .8-.4 .8-.6 .8-.2 .8 .6 .8 1.2 .8-1.2 .8 .7 .8 .7 .8-.7 .8 .5 .8-.1 .8 .3 .8-.5 .8 .9 .8-.9 .8-.6 .8-.4 .8 .2 .8-.2 .8 1.6 .8-1.2 .8 1.1 .8 .2 .8-.5 .8-1 .8 0 .8 1.5 .8-.6 .8 .6 .8-1.1 .8-.5 .8 .5 .8 .1 .8-.2 .8 .8 .8 .1 .8 0 .8-.5 .8 .1 .8-.3 .8 .5 .8-.1 .8 .5 .8 .7 .8-1 .8 .2 .8-.9 .8 1.2 .8-.2 .8 .1 .8-.1 .8-.8 .8 1.2 .8-1.3 .8 0 .8 .5 .8 1.1 .8-.1 .8 .4 .8-1 .8 .1 .8 .1 .8-.6 .8-.5 .8 .4 .8-.4 .8-.3 .8 .3 .8 1.4 .8 0 .8 .3 .8-.3 .8-.3 .8 .8 .8-.9 .8-.4 .8 0 .8-.5 .8-.2 .8 .4 .8 .9 .8-.6 .8 .4 .8-.2 .8 .8 .8-.7 .8 .2 .8 .6 .8 .2 .8 .4 .8-1.6 .8 .4 .8-.4 .8 1.3 .8-.9 .8 .8 .8-.3 .8 .4 .8 .2 .8 .2 .8 .2 .8-1 .8 .3 .8 .6 .8-.1 .8-.7 .8 .6 .8 .1 .8-.7 .8-.1 .8-.1 .8 1 .8-1.1 .8 1.1 .8-1.3 .8-.1 .8 .9 .8 .3 .8-.7 .8-.3 .8 .5 .8 .6 .8-.6 .8 0 .8-.1 .8 .8 .8 .4 .8-.4 .8-.9 .8 .1 .8 0 .8 .5 .8-.5 .8 .5 .8-.1 .8 .1 .8 .8 .8-.8 .8-.5 .8-.7 .8-.2 .8 1.3 .8 .9 .8-.2 .8-1 .8-.6 .8 .6 .8-.5 .8-.2 .8 1.1 .8-.6 .8 .5 .8 .9 .8-.5 .8-.3 .8 .1 .8 .9 .8-1.2 .8 .7 .8-.7 .8 .6 .8-1 .8-.3 .8 .3 .8 1.1 .8-.6 .8 .8 .8-.6 .8 .9 .8 .4 .8-.2 .8-1.1 .8-.6 .8 .6 .8-.2 .8-.5 .8 1.2 .8 .6 .8 .3 .8 .2 .8-.6 .8-.3 .8 .8 .8-.9 .8 .5 .8-.8 .8 1.1 .8-.3 .8 .6 .8 0 .8-.5 .8-.4 .8-.7 .8-.2 .8-.3 .8 1 .8-.5 .8-.1 .8 1.5 .7-.6 .8 .6 .8-1.4 .9 1.2 .7-1 .8 1.6 .8-.3 .7-.7 .7 .1 .8-.1 .8 .7 .7 .2 .7-1.2 1 .5 .8-.9 .7 .1 .7 1.1 1-.4 .8 .4 .7-1.3 .7 1.2 1.3-.6 .8-.4 .8 .8 .8 .3 .8-.5 .8-.7 .8 .7 .8 1.2 .8-.1 .8-1.3 .8 .8 .8 .4 .8-.9 .8-.6 .8 1.2 .8-1.1 .8 .7 .8-.8 .8 1.5 .8-.7 .8 .3 .8 .3 .8 0 .8 .1 .8-1 .8-.4 .8 1.2 .8-1 .8-.1 .8 .7 .8 .8 .8-1.1 .8 .1 .8-.6 .8 1.4 .8-.8 .8 .3 .8-.1 .8-.6 .8 1.6 .8-1.1 .8-.5 .8 1 .8-.8 .8 .2 .8 .2 .8 .1 .8 1.2 .8 .3 .8-.4 .8-.3 .8 .1 .8 .6 .8-.9 .8-.2 .8 .6 .8-.5 .8-.2 .8 .7 .8-.1 .8-.9 .8 .1 .8-.2 .8 .6 .8 .9 .8-.2 .8-.2 .8-1 .8 .3 .8 1.2 .8-.2 .8 .4 .8-1.2 .8-.6 .8-.2 .8 .4 .8 .3 .8 .3 .8-.2 .8 1 .8-.1 .8 0 .8-1.2 .8 1.6 .8-.5 .8-.5 .8 .7 .8 .6 .8-1.1 .8 .2 .8 .3 .8-.6 .8-.5 .8-.1 .8 .1 .8 1.5 .8 0 .8-.7 .8 1 .8-1 .8 .7 .8-.3 .8-1 .8 1.3 .8-1.3 .8 1.4 .8-.7 .8 .4 .8-1.2 .8 .4 .8 1.1 .8 .5 .8-.2 .8-.3 .8-.2 .8-1 .8 .7 .8 .7 .8 .4 .8-1.5 .8 .7 .8-1 .8-.1 .8 1.1 .8-.4 .8 .2 .8 1 .8 0 .8 .1 .8-.1 .8 .1 .8-.9 .8 0 .8-.4 .8 1.2 .8 0 .8-1.5 .8 .1 .8 .8 .8-1 .8 1.3 .8-1.2 .8 1.1 .8-.5 .8 .3 .8-.6 .8 .2 .8 .5 .8-.2 .8 .8 .8-.5 .8 .2 .8 .2 .8-.1 .8 .4 .8-1.5 .8-.4 .8 1.5 .8 0 .8-.2 .8 .7 .8 .2 .8-1.2 .8 .3 .8-.3 .8 0 .8-.3 .8 .4 .8 .2 .8 .3 .8 .1 .8 .3 .8-1.1 .8-.4 .8 0 .8 1.7 .8 0 .8 0 .8 .1 .8-1.3 .8 1.4 .8-.1 .8-1.3 .8-.4 .8 1.6 .8-.2 .8-.3 .8-.5 .8 .1 .8 .3 .8 .5 .8-.6 .8 .9 .8-.2 .8-1.5 .8 1.1 .8-.1 .8-.2 .8-.7 .8-.3 .8 .1 .8-.3 .8 .7 .8 1.1 .8 .1 .8-1.1 .8 .3 .8-.9 .8 .6 .8-.1 .8-.2 .8-.6 .8 1.4 .8-.6 .8 1 .8 0 .8-1.2 .8 .4 .8 .4 .8-.4 .8 .1 .8-.5 .8 1.2 .8-1.3 .8 .2 .8-.6 .8 .9 .8 .4 .8-1.2 .8 1.1 .8 .6 .8-1.3 .8-.3 .8-.6 .8 .5 .8 .7 .8-.7 .8-.4 .8 1.1 .8-.6 .8 1.3 .8-.1 .8-.8 .8 .6 .8-.6 .8 .3 .8-.6 .8 .1 .8 .4 .8 .4 .8-.5 .8 .5 .8-.8 .8 .9 .8-.1 .8 .4 .8 .1 .8-.2 .8-.1 .8-1 .8 .9 .8-1.6 .8 1.3 .8-.8 .8-.7 .8 1.1 .8-1.1 .8 .8 .8 .9 .8 .4 .8-1.3 .8-.5 .8-.6 .8 .6 .8 1 .8-.9 .8-.4 .8 1.4 .8-1.2 .8 .1 .8 1.2 .8-1.2 .8-.1 .8 .7 .8-1 .8 1.1 .8 .4 .8-1.1 .8-.2 .8 1 .8 .6 .8 .2 .8-1.3 .8-.7 .8 .5 .8-.2 .8 .6 .8 .2 .8 0 .8-.7 .8 .5 .8-1.2 .8 .3 .8 1.3 .8-.2 .8-.6 .8-.8 .8 .4 .8 .5 .8-.9 .8 0 .8 .8 .8-.6 .8 1.3 .8-1.4 .8 .9 .8-1 .8 1.5 .8 .2 .8-1.3 .8 1 .8-.1 .8 .1 .8-.9 .8-.6 .8 .7 .8 .2 .8-.9 .8 1.3 .8-.4 .8-.9 .8 .8 .8 .3 .8 .4 .8-.9 .8-.9 .8 .4 .8 1.2 .8-.5 .8 .5 .8-1.3 .8-.4 .8 1.3 .8 .3 .8-.5 .8-.7 .8-.1 .8 1.1 .8-.6 .8 .4 .8 0 .8 .7 .8-.6 .8-.9 .8 0 .8 0 .8 .4 .8 1 .8-.6 .8-.2 .8 .2 .8-.1 .8-.1 .8 .6 .8-.1 .8-.5 .8-.5 .8-.2 .8-.2 .8 .2 .8 .7 .8-.3 .8-.8 .8 1.1 .8 .4 .8-.3 .8-1.1 .8 1.3 .8-.3 .8-.3 .8-.2 .8-.6 .8 .7 .8 .8 .8-1.6 .8 .8 .8 .4 .8 .3 .8-.8 .8 .4 .8-.2 .8 .2 .8-1.2 .8-.4 .8-.1 .8 .3 .8 0 .8 .6 .8 .1 .8-.5 .8-.3 .8-.3 .8 .3 .8 .1 .8 1.1 .8-.1 .8 .7 .8-.8 .8-.6 .8 .3 .8-.5 .8 .6 .8-.4 .8-.3 .8 1.4 .8-1.3 .8 1.2 .8 0 .8-1.4 .8-.2 .8 1.4 .8-1.3 .8-.4 .8 1 .8-.8 .8 .5 .8-.7 .8 1.7 .8-.4 .8 .4 .8-.8 .8 .3 .8 .6 .8-.4 .8-1 .8 0 .8 .6 .8 .1 .8-.5 .8 .6 .8 .3 .8-1.3 .8 1.5 .8-1.4 .8 1.1 .8-1.2 .8-.1 .8 1 .8 .8 .8-1.3" fill="none" stroke="#485a26" stroke-width="1.3" stroke-linejoin="round"/>
<path d="M318.5 975.6l.3-6.1 .2-6.3 .2-.9 0 .3 .1 .4 .2 2.4 .3 6.6" fill="none" stroke="#485a26" stroke-width="0.6" stroke-opacity="0.7"/>
<path d="M322 975.4l.2-5.2 .2-10 .1-2.8 .2-7.2 .2-3.8 .1 .3 .2 8.1 .1 3.1 .1 7.6 .3 7.4" fill="none" stroke="#485a26" stroke-width="0.6" stroke-opacity="0.7"/>
<path d="M325.4 973.6l.3-9.1 .3-17.9 .2-18 .2-6.1 0 .4 .1 .5 .2 12.3 .3 20 .2 13.2 .1 3 .1 2.3 0 1.2" fill="none" stroke="#485a26" stroke-width="0.6" stroke-opacity="0.7"/>
<path d="M328.6 974.9l.3-5.4 .3-10.7 .2-10.3 .2-3.7 0 .4 .1 .9 .2 7.1 .3 10.6 .2 9.1 .1 2.2 .1 .8 0 .3" fill="none" stroke="#485a26" stroke-width="0.6" stroke-opacity="0.7"/>
<path d="M332.1 974.9l.3-4.1 .2-5.3 .2-2.2 0 1.5 .1-.2 .2 2.7 .3 5.9 .2 3" fill="none" stroke="#485a26" stroke-width="0.6" stroke-opacity="0.7"/>
<path d="M102.5 993l.8 .3 .8 0 .8 .2 .8 .5 .8-.2 .8-1.2 .8-.3 .8 .4 .8 0 .8 1.2 .8-.1 .8-.6 .8-.4 .8-.4 .8 .7 .8 .8 .8-1.2 .8 .2 .8-.2 .8 .5 .8-.6 .8-.5 .8 1 .8-.4 .8 .6 .8 .7 .8-.5 .8 .6 .8-.1 .8-1.5 .8-.1 .8 .8 .8-.1 .8-1 .8 1.4 .8 0 .8-.4 .8 .1 .8-.7 .8 .6 .8-.7 .8 .9 .8 .8 .8-1.2 .8-.3 .8 .5 .8 .8 .8-1.2 .8 .1 .8 .5 .8-.8 .8-.4 .8 1.3 .8 .1 .8-.1 .8 0 .8-.9 .8 .4 .8 .2 .8 .1 .8-.7 .8-.3 .8 .7 .8 .6 .8 .2 .8 .5 .8-.9 .8-.3 .8-.2 .8 .3 .8 .5 .8 .5 .8-1.4 .8 .5 .8 .6 .8 .1 .8-.6 .8-.9 .8 .3 .8 .6 .8 .5 .8-.9 .8-.1 .8 .1 .8-.6 .8 1.6 .8-.7 .8 0 .8 1 .8-.1 .8-1 .8 1 .8 .1 .8-.5 .8-.4 .8 .7 .8 .4 .8-.4 .8-.8 .8 .8 .8-.1 .8 .5 .8-.1 .8-.3 .8 .4 .8-.8 .8 0 .8 .4 .8-.6 .8-.7 .8 1.1 .8-.2 .8-.2 .8 .1 .8-.5 .8 1 .8-.8 .8-.4 .8 .7 .8-.1 .8-.3 .8-.6 .8 .5 .8 .1 .8 .3 .8 .3 .8-.6 .8-.6 .8-.2 .8 .9 .8 1.1 .8-.1 .8 .3 .8-1.4 .8-.3 .8 .9 .8-.3 .8-.1 .8 .8 .8-1.3 .8 1.4 .8-1.1 .8 .4 .8 .3 .8-.1 .8 .3 .8-.7 .8-.4 .8 .8 .8 .8 .8-1.6 .8-.3 .8 1.6 .8-1.4 .8-.2 .8 .7 .8-.2 .8 .7 .8-.2 .8 .6 .8-1.2 .8-.2 .8-.1 .8 1.2 .8 .8 .8-1 .8-.6 .8-.5 .8 .1 .8 1.6 .8 .4 .8 .1 .8-1.5 .8-.6 .8 1.7 .8-.1 .8 .4 .8 .1 .8 0 .8-1.7 .8 1.2 .8-.2 .8 .8 .8-1.4 .8 0 .8-.5 .8 1.2 .8 0 .8 .5 .8-.4 .8 .3 .8-.7 .8-.8 .8-.2 .8-.1 .8-.1 .8 1.4 .8 .5 .8 .6 .8-.2 .8-1.2 .8-.4 .8 .3 .8 0 .8-.4 .8 1.2 .8 .3 .8-.5 .8 .1 .8 .2 .8-.1 .8 .1 .8 .1 .8 .8 .8-1.2 .8-.7 .8-.1 .8 .9 .8 0 .8 .9 .8-.4 .8 .6 .8 0 .8-.9 .8-.5 .8 .7 .8-.3 .8-.6 .8-.4 .8 1.5 .8 .8 .8-.3 .8-1.3 .8-.6 .8 1.1 .8-.1 .8 1 .8-.7 .8 .3 .8-1.2 .8-.4 .8 1.2 .1 .1 .2 .5 .3-.9 .2 0 .1-.2 .2 .2 .2-1.6 .3-3.5 .3-8.6 .2-7.6 .2-3.1 0 .9 .1 0 .2 4.3 .3 7.9 .2 6.8 .1 .9 .1 2.1 0 .9 .2-.2 .1 .6 .2 .2 .1-.3 .1-1 .1 1.4 0-.9 .2-1.2 0 1 .2-.9 .3-5.3 .3-10.1 .2-11.6 .2-2.6 0-.4 .1 1 .2 6.9 .3 10.5 .2 8.9 .1 1 .1 2 .3 .3 .2 0 .1 .5 .1-.5 .1 .9 0-.8 .2 0 0 1.1 .2 .1 .3-.7 .3-3.4 .2-9.9 .2-17.1 .1-3.1 .2-14.8 .2-5.6 .1 .6 .2 11.8 .1 7 .1 12.7 .3 13.9 .3 5.6 .1 1.6 .1 .6 .2 .2 .3-.4 .2 .1 .1 1 .2-.2 .2-1.7 .3-5.1 .3-10.6 .2-11.4 .2-2.8 0-1.2 .1 2 .2 5.5 .3 12.2 .2 7.2 .1 2.1 .1 1.4 .3 1.8 .3 .5 .1 1 .1-.6 .2 .6 .3 .5 .2 .2 .1-1.2 .2 .7 .2-1.7 .3-1.6 .3-2.1 .2-3.9 .2-2 0 .3 .1 .1 .2 3.3 .3 3.5 .2 3.1 .1 .2 .1 1.1 .3-1.1 .3 .2 .1-.5 .1 .5 .2 .2 .5 .9 .8-.2 .8 0 .8-.1 .8 .6 .8 .1 .8-1 .8 0 .8-.2 .8-.7 .8 .2 .8 .2 .8 1.3 .8 .5 .8-1.5 .8 0 .8 .7 .8-.9 .8 .4 .8 0 .8 .5 .8 .8 .8 0 .8-1.2 .8-.4 .8 .4 .8 .3 .8 .4 .8 .2 .8 .2 .8-1 .8-.1 .8 .8 .8-.2 .8 .7 .8-.2 .8-.6 .8 1 .8-.6 .8-.8 .8-.1 .8 1.3 .8-1 .8-.2 .8 .1 .8 1.1 .8 0 .8-.2 .8 .1 .8 .5 .8-.8 .8 .7 .8-1.5 .8 .4 .8 1 .8-1 .8 .3 .8 0 .8-.1 .8-.6 .8 1.2 .8 .7 .8 .3 .8-.1 .8-.7 .8-.1 .8 .7 .8-1.6 .8-.5 .8 .9 .8 .7 .8 0 .8-1.2 .8 .7 .8 .2 .8 .4 .8-1.2 .8 .8 .8-.2 .8 .2 .8 .6 .8-.7 .8-.5 .8-.3 .8 1.3 .8 .3 .8-.8 .8 .4 .8 .5 .8 .1 .8-.8 .8 0 .8-.1 .8-.6 .8 1 .8-.6 .8 .7 .8 .1 .8-.4 .8-.2 .8 .9 .8-.3 .8 .7 .8 .3 .8-.5 .8 .1 .8-.2 .8-.2 .8-.3 .8 .4 .8 .3 .8-1.2 .8 1 .8 .5 .8 .4 .8-.5 .8 .5 .8-.7 .8-1.3 .8 .7 .8 .5 .8-.5 .8 0 .8 .4 .8 .1 .8 .1 .8 0 .8-.1 .8 .5 .8-1.1 .8-.6 .8 .5 .8-.5 .8 .2 .8 .6 .8 0 .8 .8 .8-1.3 .8 1 .8 .9 .8-1.4 .8 1.1 .8-.5 .8-1 .8 .7 .8 1 .8 .3 .8-1 .8 .2 .8 .2 .8-1 .8 0 .8-.2 .8 1 .8 .9 .8-1.2 .8-.7 .8 1.2 .8 .8 .8-.7 .8-1 .8 1.3 .8-.3 .8-.8 .8-.3 .8-.2 .8 .3 .8 .7 .8 .3 .8-.4 .8 1 .8 .1 .8-1.5 .8 .8 .8-.8 .8 .4 .8 .2 .8-.2 .8-.4 .8 .5 .8-.7 .8 0 .8 .7 .8 .2 .8-.4 .8 0 .8-.3 .8 .8 .8 .1 .8 .3 .8 .9 .8 0 .8-1.5 .8-.5 .8 .1 .8-.3 .8 1.4 .8-.1 .8 .1 .8-.2 .8 .4 .8 .4 .8-.6 .8 .3 .8-.2 .8 .9 .8-.3 .8-.7 .8 .1 .8 .8 .8 .4 .8-.4 .8 .4 .8-.4 .8-.7 .8-.5 .8-.4 .8 .9 .8 .4 .8-1.1 .8 1.3 .8-.2 .8 .2 .8 .4 .8-1.3 .8-.3 .8-.3 .8 .8 .8 .8 .8-.7 .8-.5 .8-.1 .8-.1 .8 1.1 .8 0 .8-.2 .8 .7 .8-.9 .8 .1 .8 .7 .8-1.1 .8 1.2 .8 .2 .8-1.5 .8-.1 .8 1.2 .8 .3 .8-.6 .8-1.2 .8 1.3 .8 .3 .8-1 .8-.7 .8 .1 .8 1.6 .8-.7 .8 .6 .8 .5 .8-1.1 .8-1 .8-.3 .8 1.4 .8-.7 .8 .1 .8 .3 .8-.2 .8 .6 .8 0 .8 .1 .8-.9 .8 .6 .8-.5 .8 .6 .8-.5 .8 .2 .8 .4 .8-1.1 .8 1.5 .8-.9 .8-.4 .8 .8 .8 .5 .8-1.3 .8 1.1 .8-.4 .8-.1 .8 1 .8-.9 .8-.5 .8 1 .8-1 .8 .6 .8 .6 .8-.9 .8 .4 .8 .1 .8 .4 .8 .4 .8-1.5 .8 .2 .8-.6 .8 1.4 .8 .4 .8-.9 .8 .6 .8-.4 .8 .2 .8 .4 .8-.9 .8 .1 .8-.2 .8-.6 .8 1.5 .8-.5 .8 .7 .8-.8 .8 .8 .8-.2 .8-.5 .8 .1 .8 .2 .8 0 .8-1.3 .8 .1 .8 .9 .8-.6 .8-.2 .8 1.3 .8-1.4 .8 .4 .8 .7 .8-.4 .8 .4 .8-.4 .8 .7 .8-1.1 .8 1.3 .8-1.2 .8 .5 .8-.4 .8-.2 .8 .2 .8-.1 .8 .5 .8 .2 .8-.9 .8-.4 .8 .7 .8 .3 .8 .2 .8 .4 .8 .3 .8-1.1 .8 .1 .8 0 .8-.5 .8-.3 .8 1.5 .8-.6 .8-.4 .8 1.2 .8-.9 .8-.4 .8-.2 .8 1.5 .8-1.1 .8 .1 .8 0 .8-.8 .8 .8 .8 .7 .8 .4 .8 .4 .8-.4 .8 .1 .8-.8 .8 .9 .8-.8 .8-.3 .8-.3 .8 .4 .8 0 .8 .3 .8-.4 .8 .6 .8 .3 .8 .2 .8-.5 .8-.7 .8-.6 .8-.3 .8 1.4 .8-.9 .8 .8 .8 .3 .8-.6 .8 .5 .8-1.1 .8-.2 .8 .9 .8 .7 .8 0 .8-.9 .8 1.1 .8 .3 .8-.9 .8 .9 .8-1.1 .8 .9 .8-1.4 .8-.5 .8 1.3 .8 .3 .8-.3 .8-.9 .8 .8 .8-.9 .8 .2 .8-.5 .8 0 .8 .9 .8 .6 .8-.5 .8-.9 .8 0 .8 0 .8 1.7 .8 .4 .8-1.6 .8 .4 .8 .1 .8-.6 .8 .4 .8 .9 .8-.5 .8 .5 .8-.2 .8-.1 .8 .7 .8-1.3 .8 .2 .8-.7 .8 .9 .8 .3 .8-.9 .8 .5 .8 .5 .8 .3 .8-.9 .8-.7 .8 .8 .8-.9 .8 .4 .8 .2 .8 .9 .8 .1 .8 .5 .8 .3 .8-.3 .8-1 .8 .9 .8 .7 .8 .5 .8-.4 .8 .8 .8 .2 .8-.4 .8 .6 .8-1.3 .8 .7 .8 .6 .8 .2 .8 .3 .8 .1 .8-.1 .8 .2" fill="none" stroke="#4dbeee" stroke-width="2.2" stroke-linejoin="round"/>
<path d="M102.5 993l.8 .3 .8 0 .8 .2 .8 .5 .8-.2 .8-1.2 .8-.3 .8 .4 .8 0 .8 1.2 .8-.1 .8-.6 .8-.4 .8-.4 .8 .7 .8 .8 .8-1.2 .8 .2 .8-.2 .8 .5 .8-.6 .8-.5 .8 1 .8-.4 .8 .6 .8 .7 .8-.5 .8 .6 .8-.1 .8-1.5 .8-.1 .8 .8 .8-.1 .8-1 .8 1.4 .8 0 .8-.4 .8 .1 .8-.7 .8 .6 .8-.7 .8 .9 .8 .8 .8-1.2 .8-.3 .8 .5 .8 .8 .8-1.2 .8 .1 .8 .5 .8-.8 .8-.4 .8 1.3 .8 .1 .8-.1 .8 0 .8-.9 .8 .4 .8 .2 .8 .1 .8-.7 .8-.3 .8 .7 .8 .6 .8 .2 .8 .5 .8-.9 .8-.3 .8-.2 .8 .3 .8 .5 .8 .5 .8-1.4 .8 .5 .8 .6 .8 .1 .8-.6 .8-.9 .8 .3 .8 .6 .8 .5 .8-.9 .8-.1 .8 .1 .8-.6 .8 1.6 .8-.7 .8 0 .8 1 .8-.1 .8-1 .8 1 .8 .1 .8-.5 .8-.4 .8 .7 .8 .4 .8-.4 .8-.8 .8 .8 .8-.1 .8 .5 .8-.1 .8-.3 .8 .4 .8-.8 .8 0 .8 .4 .8-.6 .8-.7 .8 1.1 .8-.2 .8-.2 .8 .1 .8-.5 .8 1 .8-.8 .8-.4 .8 .7 .8-.1 .8-.3 .8-.6 .8 .5 .8 .1 .8 .3 .8 .3 .8-.6 .8-.6 .8-.2 .8 .9 .8 1.1 .8-.1 .8 .3 .8-1.4 .8-.3 .8 .9 .8-.3 .8-.1 .8 .8 .8-1.3 .8 1.4 .8-1.1 .8 .4 .8 .3 .8-.1 .8 .3 .8-.7 .8-.4 .8 .8 .8 .8 .8-1.6 .8-.3 .8 1.6 .8-1.4 .8-.2 .8 .7 .8-.2 .8 .7 .8-.2 .8 .6 .8-1.2 .8-.2 .8-.1 .8 1.2 .8 .8 .8-1 .8-.6 .8-.5 .8 .1 .8 1.6 .8 .4 .8 .1 .8-1.5 .8-.6 .8 1.7 .8-.1 .8 .4 .8 .1 .8 0 .8-1.7 .8 1.2 .8-.2 .8 .8 .8-1.4 .8 0 .8-.5 .8 1.2 .8 0 .8 .5 .8-.4 .8 .3 .8-.7 .8-.8 .8-.2 .8-.1 .8-.1 .8 1.4 .8 .5 .8 .6 .8-.2 .8-1.2 .8-.4 .8 .3 .8 0 .8-.4 .8 1.2 .8 .3 .8-.5 .8 .1 .8 .2 .8-.1 .8 .1 .8 .1 .8 .8 .8-1.2 .8-.7 .8-.1 .8 .9 .8 0 .8 .9 .8-.4 .8 .6 .8 0 .8-.9 .8-.5 .8 .7 .8-.3 .8-.6 .8-.4 .8 1.5 .8 .8 .8-.3 .8-1.3 .8-.6 .8 1.1 .8-.1 .8 1 .8-.6 .8 .3 .8-1.2 .8-.4 .8 1.4 .8-.1 .8 .8 .7-.3 .8-.9 .8 .6 .9 .7 .7-.6 .8 .7 .8-1.1 .9 1.4 .7-1.6 .8 .6 .8 .1 .7-.6 .7 1.5 .8-1.3 .8 .3 .7-.4 .7 .9 .8 .3 .8-.1 .7 0 .7 .5 .8-1.4 1.5 .7 .8 0 .8-.1 .8 .6 .8 .1 .8-1 .8 0 .8-.2 .8-.7 .8 .2 .8 .2 .8 1.3 .8 .5 .8-1.5 .8 0 .8 .7 .8-.9 .8 .4 .8 0 .8 .5 .8 .8 .8 0 .8-1.2 .8-.4 .8 .4 .8 .3 .8 .4 .8 .2 .8 .2 .8-1 .8-.1 .8 .8 .8-.2 .8 .7 .8-.2 .8-.6 .8 1 .8-.6 .8-.8 .8-.1 .8 1.3 .8-1 .8-.2 .8 .1 .8 1.1 .8 0 .8-.2 .8 .1 .8 .5 .8-.8 .8 .7 .8-1.5 .8 .4 .8 1 .8-1 .8 .3 .8 0 .8-.1 .8-.6 .8 1.2 .8 .7 .8 .3 .8-.1 .8-.7 .8-.1 .8 .7 .8-1.6 .8-.5 .8 .9 .8 .7 .8 0 .8-1.2 .8 .7 .8 .2 .8 .4 .8-1.2 .8 .8 .8-.2 .8 .2 .8 .6 .8-.7 .8-.5 .8-.3 .8 1.3 .8 .3 .8-.8 .8 .4 .8 .5 .8 .1 .8-.8 .8 0 .8-.1 .8-.6 .8 1 .8-.6 .8 .7 .8 .1 .8-.4 .8-.2 .8 .9 .8-.3 .8 .7 .8 .3 .8-.5 .8 .1 .8-.2 .8-.2 .8-.3 .8 .4 .8 .3 .8-1.2 .8 1 .8 .5 .8 .4 .8-.5 .8 .5 .8-.7 .8-1.3 .8 .7 .8 .5 .8-.5 .8 0 .8 .4 .8 .1 .8 .1 .8 0 .8-.1 .8 .5 .8-1.1 .8-.6 .8 .5 .8-.5 .8 .2 .8 .6 .8 0 .8 .8 .8-1.3 .8 1 .8 .9 .8-1.4 .8 1.1 .8-.5 .8-1 .8 .7 .8 1 .8 .3 .8-1 .8 .2 .8 .2 .8-1 .8 0 .8-.2 .8 1 .8 .9 .8-1.2 .8-.7 .8 1.2 .8 .8 .8-.7 .8-1 .8 1.3 .8-.3 .8-.8 .8-.3 .8-.2 .8 .3 .8 .7 .8 .3 .8-.4 .8 1 .8 .1 .8-1.5 .8 .8 .8-.8 .8 .4 .8 .2 .8-.2 .8-.4 .8 .5 .8-.7 .8 0 .8 .7 .8 .2 .8-.4 .8 0 .8-.3 .8 .8 .8 .1 .8 .3 .8 .9 .8 0 .8-1.5 .8-.5 .8 .1 .8-.3 .8 1.4 .8-.1 .8 .1 .8-.2 .8 .4 .8 .4 .8-.6 .8 .3 .8-.2 .8 .9 .8-.3 .8-.7 .8 .1 .8 .8 .8 .4 .8-.4 .8 .4 .8-.4 .8-.7 .8-.5 .8-.4 .8 .9 .8 .4 .8-1.1 .8 1.3 .8-.2 .8 .2 .8 .4 .8-1.3 .8-.3 .8-.3 .8 .8 .8 .8 .8-.7 .8-.5 .8-.1 .8-.1 .8 1.1 .8 0 .8-.2 .8 .7 .8-.9 .8 .1 .8 .7 .8-1.1 .8 1.2 .8 .2 .8-1.5 .8-.1 .8 1.2 .8 .3 .8-.6 .8-1.2 .8 1.3 .8 .3 .8-1 .8-.7 .8 .1 .8 1.6 .8-.7 .8 .6 .8 .5 .8-1.1 .8-1 .8-.3 .8 1.4 .8-.7 .8 .1 .8 .3 .8-.2 .8 .6 .8 0 .8 .1 .8-.9 .8 .6 .8-.5 .8 .6 .8-.5 .8 .2 .8 .4 .8-1.1 .8 1.5 .8-.9 .8-.4 .8 .8 .8 .5 .8-1.3 .8 1.1 .8-.4 .8-.1 .8 1 .8-.9 .8-.5 .8 1 .8-1 .8 .6 .8 .6 .8-.9 .8 .4 .8 .1 .8 .4 .8 .4 .8-1.5 .8 .2 .8-.6 .8 1.4 .8 .4 .8-.9 .8 .6 .8-.4 .8 .2 .8 .4 .8-.9 .8 .1 .8-.2 .8-.6 .8 1.5 .8-.5 .8 .7 .8-.8 .8 .8 .8-.2 .8-.5 .8 .1 .8 .2 .8 0 .8-1.3 .8 .1 .8 .9 .8-.6 .8-.2 .8 1.3 .8-1.4 .8 .4 .8 .7 .8-.4 .8 .4 .8-.4 .8 .7 .8-1.1 .8 1.3 .8-1.2 .8 .5 .8-.4 .8-.2 .8 .2 .8-.1 .8 .5 .8 .2 .8-.9 .8-.4 .8 .7 .8 .3 .8 .2 .8 .4 .8 .3 .8-1.1 .8 .1 .8 0 .8-.5 .8-.3 .8 1.5 .8-.6 .8-.4 .8 1.2 .8-.9 .8-.4 .8-.2 .8 1.5 .8-1.1 .8 .1 .8 0 .8-.8 .8 .8 .8 .7 .8 .4 .8 .4 .8-.4 .8 .1 .8-.8 .8 .9 .8-.8 .8-.3 .8-.3 .8 .4 .8 0 .8 .3 .8-.4 .8 .6 .8 .3 .8 .2 .8-.5 .8-.7 .8-.6 .8-.3 .8 1.4 .8-.9 .8 .8 .8 .3 .8-.6 .8 .5 .8-1.1 .8-.2 .8 .9 .8 .7 .8 0 .8-.9 .8 1.1 .8 .3 .8-.9 .8 .9 .8-1.1 .8 .9 .8-1.4 .8-.5 .8 1.3 .8 .3 .8-.3 .8-.9 .8 .8 .8-.9 .8 .2 .8-.5 .8 0 .8 .9 .8 .6 .8-.5 .8-.9 .8 0 .8 0 .8 1.7 .8 .4 .8-1.6 .8 .4 .8 .1 .8-.6 .8 .4 .8 .9 .8-.5 .8 .5 .8-.2 .8-.1 .8 .7 .8-1.3 .8 .2 .8-.7 .8 .9 .8 .3 .8-.9 .8 .5 .8 .5 .8 .3 .8-.9 .8-.7 .8 .8 .8-.9 .8 .4 .8 .2 .8 .9 .8 .1 .8 .5 .8 .3 .8-.3 .8-1 .8 .9 .8 .7 .8 .5 .8-.4 .8 .8 .8 .2 .8-.4 .8 .6 .8-1.3 .8 .7 .8 .6 .8 .2 .8 .3 .8 .1 .8-.1 .8 .2" fill="none" stroke="#2d6f95" stroke-width="1.3" stroke-linejoin="round"/>
<path d="M297.7 989.4l.3-8.6 .2-7.6 .2-3.1 0 .9 .1 0 .2 4.3 .3 7.9 .2 6.8 .1 .9" fill="none" stroke="#2d6f95" stroke-width="0.6" stroke-opacity="0.7"/>
<path d="M300.9 987.3l.3-10.1 .2-11.6 .2-2.6 0-.4 .1 1 .2 6.9 .3 10.5 .2 8.9 .1 1" fill="none" stroke="#2d6f95" stroke-width="0.6" stroke-opacity="0.7"/>
<path d="M304.4 990.4l.2-9.9 .2-17.1 .1-3.1 .2-14.8 .2-5.6 .1 .6 .2 11.8 .1 7 .1 12.7 .3 13.9 .3 5.6" fill="none" stroke="#2d6f95" stroke-width="0.6" stroke-opacity="0.7"/>
<path d="M308.1 987.6l.3-10.6 .2-11.4 .2-2.8 0-1.2 .1 2 .2 5.5 .3 12.2 .2 7.2 .1 2.1 .1 1.4" fill="none" stroke="#2d6f95" stroke-width="0.6" stroke-opacity="0.7"/>
<path d="M312.1 992.2l.3-2.1 .2-3.9 .2-2 0 .3 .1 .1 .2 3.3 .3 3.5" fill="none" stroke="#2d6f95" stroke-width="0.6" stroke-opacity="0.7"/>
<path d="M102.5 1015.1l.8 1.4 .8 .1 .8-1.3 .8 .6 .8-.4 .8 1.2 .8 .3 .8-1 .8 .3 .8-.2 .8-.4 .8 .2 .8-.1 .8 .2 .8 1 .8-.1 .8-1.4 .8 .2 .8 1.3 .8 0 .8-.3 .8-.1 .8 .1 .8-1 .8 .2 .8-.2 .8-.2 .8 .9 .8-1 .8 0 .8 1.1 .8 .6 .8-.9 .8 .8 .8 .2 .8-1.3 .8 1.2 .8-1.2 .8 .3 .8-.7 .8-.2 .8 1.1 .8 .7 .8-1.2 .8 0 .8 .6 .8 .2 .8-.9 .8 .9 .8-1 .8 1.4 .8-.1 .8 0 .8 .5 .8-1.2 .8-.4 .8 .7 .8 .8 .8 .3 .8-.2 .8-.4 .8-.6 .8 .6 .8-.1 .8 .5 .8-.1 .8-.6 .8 .2 .8-.8 .8-.1 .8 .9 .8 .2 .8-1.3 .8 0 .8 .4 .8 .4 .8-.3 .8 0 .8 1.1 .8-.7 .8-.1 .8 .9 .8-.9 .8 .1 .8-.7 .8 1.2 .8 .3 .8-1.1 .8 .5 .8-.6 .8 1 .8-.4 .8-.5 .8 1.2 .8-.6 .8 0 .8 .8 .8-1.1 .8 0 .8 .9 .8-.8 .8 .8 .8-.3 .8 .6 .8-.5 .8 .4 .8-.6 .8-.8 .8 .1 .8 .3 .8 .3 .8-.2 .8-.2 .8-.3 .8 .4 .8 .5 .8 .1 .8-1.2 .8 .1 .8 .9 .8-.2 .8-.4 .8 .5 .8-.9 .8 .6 .8 1.1 .8-.9 .8-.6 .8 .9 .8 .1 .8-.5 .8-.4 .8-.5 .8 0 .8 1.4 .8-.3 .8 .8 .8 .4 .8-.3 .8-.8 .8-.8 .8 1.4 .8-1.1 .8-.3 .8 .4 .8-.1 .8 0 .8-.3 .8-.3 .8-.1 .8 1.8 .8-1.1 .8 .3 .8 .5 .8 0 .8 .7 .8 .3 .8-.6 .8-.5 .8 .3 .8-.5 .8-.5 .8 .5 .8 .2 .8-.5 .8 .3 .8-.1 .8-.6 .8 1.6 .8-.4 .8 0 .8-1 .8 .2 .8-.5 .8 1.6 .8 0 .8-.3 .8 .3 .8-.4 .8 .1 .8 1 .8-1.5 .8 .7 .8-.3 .8-.5 .8-.2 .8 .8 .8-.8 .8 1.3 .8-.4 .8-.4 .8 .2 .8 0 .8 .1 .8-.2 .8 .1 .8-.2 .8 .9 .8 0 .8-.5 .8-.1 .8-.1 .8 1.3 .8-.2 .8 .5 .8 0 .8-.3 .8-.3 .8-.6 .8 .4 .8-.9 .8 .5 .8 .6 .8-.2 .8-.1 .8 .3 .8 0 .8-.1 .8 0 .8-.3 .8 .2 .8-1.1 .1 .9 .2-.5 .3 .7 .2-1 .1 .6 .2-.5 .2-.4 .3-1 .3-3.4 .2-3.5 .2-1.8 0 .6 .1 .6 .2 2.2 .3 2.6 .2 2.2 .1 .8 .1 1.1 .3-.1 .3 1.4 .1-.5 .1 .7 .2-1.5 .3-.7 .2 .6 .1 .8 .2-1.3 .2-.9 .3-6.7 .3-9 .2-10.8 .2-4.2 0 0 .1 .7 .2 6.1 .3 10.9 .2 9.4 .1 2.4 .1 1.1 .3 1 .3-.4 .1-.2 .1 1.4 .2-.6 .3-.2 .2-1.3 .1-2.4 .2-7.9 .2-12.4 .3-16.4 .2-5.6 .1 .9 .2 11.2 .2 16 .1 3.4 .2 9 .3 3.5 .2 2.3 .1-.3 .1 .9 0 .3 .2 .5 .1-.6 .2-.8 .1 .9 .1 .6 .1-.4 .2-.8 .2-2.1 .3-5.3 .3-10 .2-11.3 .2-4.7 0 .5 .1 .8 .2 6.5 .3 12.4 .2 8.5 .1 2.6 .1 .6 0 .7 .2 1.6 .1 0 .2 .1 .1-.3 .1-1 .1-.3 0 .6 .2 0 0-.9 .2-.3 .3-4.1 .3-6.1 .2-6.9 .2-2.3 0-.4 .1 .5 .2 5.8 .3 6.7 .2 5.6 .1 .7 .1 .8 .3 .9 .3-.2 .1 .2 .1 .1 .2-.1 .3 1.2 .2 .6 .1-.9 .2-.7 .2-.8 .3-1.3 .3-3.8 .2-2.8 .2-2.3 0 .2 .1-.4 .2 2.3 .3 5.2 .2 2.1 .1 1 .1 0 .3 .7 .3 1.6 .1 .5 .1-1.3 .2 .9 .5 .6 .8-.7 .8-.3 .8 .8 .8-1.2 .8-.3 .8 .6 .8 .1 .8 .1 .8 .9 .8 0 .8-1.6 .8 1.1 .8-.7 .8-.5 .8 .3 .8 .5 .8-.1 .8 .2 .8 .9 .8-.8 .8 .9 .8-.7 .8 .7 .8-.6 .8-.3 .8-.4 .8 .2 .8 1.1 .8-.8 .8 .7 .8 .1 .8-1.4 .8 .8 .8-.4 .8-.6 .8 1.3 .8-.4 .8-.8 .8 .3 .8 .2 .8-.1 .8-.2 .8 .6 .8 .8 .8-.7 .8-.2 .8 1.3 .8-.5 .8-.8 .8-.1 .8 .8 .8-.3 .8 .1 .8 .4 .8 .1 .8-.5 .8-.4 .8-.5 .8 0 .8 .3 .8 1.1 .8 .2 .8-.3 .8-1 .8 1.4 .8-1.1 .8 1 .8 0 .8-.1 .8 .3 .8-.4 .8-.8 .8 .8 .8 .4 .8-.8 .8-.6 .8 1.3 .8 .3 .8-.3 .8 .4 .8-.6 .8 .8 .8 0 .8-.1 .8-1.3 .8 .1 .8 .6 .8-.5 .8 .4 .8-.6 .8 .8 .8 .9 .8-.3 .8-.8 .8 .9 .8 0 .8-1.1 .8-.1 .8 1.1 .8-1 .8 .5 .8-.7 .8 1.2 .8 0 .8-1.2 .8 1.1 .8-.2 .8 .1 .8-.3 .8 .9 .8 .3 .8 .2 .8-.4 .8-.6 .8-.8 .8 .7 .8 .9 .8-.4 .8-.3 .8 .9 .8 .1 .8-.8 .8-1.1 .8 1.3 .8-.5 .8 0 .8 1 .8 .4 .8 .1 .8-1.6 .8 .3 .8 .2 .8-.2 .8-.9 .8 1.5 .8 .2 .8-.3 .8-.2 .8-1 .8 .5 .8 .9 .8-.2 .8 .6 .8-.7 .8 .4 .8-1.1 .8 .1 .8-.4 .8 1.3 .8 .1 .8-.8 .8-.6 .8 .8 .8 1.1 .8-.8 .8-.2 .8-.6 .8 0 .8 1.1 .8-.9 .8 1.4 .8-1 .8 1 .8-.1 .8-.1 .8-.7 .8 .2 .8-.5 .8 1.3 .8-.7 .8 .6 .8 0 .8-.7 .8-.6 .8-.1 .8 .6 .8 .1 .8 .3 .8 .4 .8 .5 .8-1.5 .8 1.1 .8-1.2 .8 .1 .8 1.4 .8-.5 .8 .1 .8-.3 .8 0 .8 0 .8-.5 .8 .8 .8-1 .8 .7 .8-.8 .8 .7 .8 .2 .8-.7 .8-.1 .8 .5 .8 .5 .8 1 .8 0 .8-1.1 .8 1 .8-.1 .8-1.3 .8 .7 .8-.9 .8 1.5 .8-.3 .8-1.1 .8 1.3 .8-1.1 .8-.4 .8 1.7 .8-.6 .8-.4 .8 1.3 .8 .3 .8-.2 .8-.3 .8 .1 .8-.9 .8-.7 .8 .4 .8 0 .8-.6 .8 1.3 .8 .8 .8-1.5 .8 .3 .8 0 .8 .9 .8-.9 .8 .4 .8-.8 .8 0 .8-.6 .8 1.2 .8-1 .8 0 .8 .5 .8 .6 .8 .6 .8-1 .8 .2 .8 .3 .8-.3 .8-.4 .8 0 .8-.6 .8 .1 .8-.3 .8 1.7 .8 .2 .8-.5 .8-.9 .8 .4 .8-.1 .8 0 .8 .5 .8 .7 .8-.5 .8-.1 .8-.2 .8-.3 .8-.3 .8 .9 .8 .4 .8-1 .8-.3 .8-.4 .8 1.3 .8 0 .8-1 .8 .7 .8 .5 .8-1.3 .8-.3 .8-.1 .8-.1 .8 .9 .8 .5 .8-1.2 .8 1.3 .8-1.3 .8 .9 .8-.9 .8 1 .8-.8 .8 1.1 .8-.2 .8-.2 .8-.5 .8-.2 .8-.1 .8-.1 .8-.5 .8 .9 .8 .3 .8-1.1 .8 0 .8 1.4 .8-.9 .8 1 .8-1 .8 .5 .8-.2 .8-.7 .8 1.2 .8-.3 .8 .5 .8-1.4 .8 .8 .8 .5 .8 .6 .8 .1 .8-1.4 .8 .2 .8 .5 .8-.9 .8 1 .8-.6 .8-.3 .8 .2 .8-1 .8 1.5 .8-1 .8-.5 .8 1 .8 .7 .8-.5 .8-.5 .8 .9 .8 .4 .8-.5 .8-.7 .8 .4 .8-.7 .8-.7 .8 1.2 .8-.4 .8-.5 .8-.3 .8 1.1 .8 .3 .8-1.1 .8-.3 .8 .8 .8 1 .8-.3 .8 .5 .8-.9 .8-.3 .8 .1 .8-.8 .8 .8 .8-.4 .8-.1 .8-.6 .8 .9 .8 .4 .8-.1 .8-.1 .8 0 .8-.7 .8-.5 .8 1 .8-.1 .8 .3 .8 .5 .8-.8 .8 .8 .8-1 .8 .4 .8 .6 .8-.3 .8 .5 .8-.4 .8 .1 .8-.1 .8 0 .8 .6 .8-1.1 .8 1 .8-.7 .8 .6 .8-.1 .8-1.5 .8 1.2 .8-.2 .8-.2 .8-.8 .8 .8 .8 .6 .8 .2 .8-.7 .8 .1 .8 .3 .8-.6 .8-.6 .8 .2 .8 .4 .8-.9 .8 .4 .8 .6 .8 .5 .8-.8 .8 .3 .8 .6 .8-1.6 .8-.1 .8-.4 .8 1.7 .8-.4 .8 .8 .8 .1 .8-.2 .8 0 .8-.3 .8-.9 .8 .1 .8 1 .8 0 .8-.2 .8-1.3 .8 .2 .8-.7 .8 .4 .8-.5 .8 .6 .8 .7 .8 .3 .8-.5 .8 0 .8 .1 .8-.1 .8-.9 .8 1.2 .8 .6 .8 .2 .8-1 .8-.6 .8 .1 .8 .7 .8 .5 .8-.9 .8 0 .8-.4 .8 0 .8 .3 .8 .1 .8 .1 .8 0 .8 .4 .8-.1 .8 0 .8-1.2 .8-.4 .8 .1 .8 1.3 .8 .5 .8-1.2 .8 1.1 .8-.5 .8-.9 .8 .1 .8 .9 .8-.8 .8 .5 .8-.9 .8 1 .8 .1 .8-.6 .8 .6 .8-.7 .8-.4 .8 0 .8-.2 .8-.3 .8 1.4 .8-.6 .8-.3 .8 .9 .8 .2 .8 .5 .8-.5 .8-.3 .8-.3" fill="none" stroke="#a2142f" stroke-width="2.2" stroke-linejoin="round"/>
<path d="M102.5 1015.1l.8 1.4 .8 .1 .8-1.3 .8 .6 .8-.4 .8 1.2 .8 .3 .8-1 .8 .3 .8-.2 .8-.4 .8 .2 .8-.1 .8 .2 .8 1 .8-.1 .8-1.4 .8 .2 .8 1.3 .8 0 .8-.3 .8-.1 .8 .1 .8-1 .8 .2 .8-.2 .8-.2 .8 .9 .8-1 .8 0 .8 1.1 .8 .6 .8-.9 .8 .8 .8 .2 .8-1.3 .8 1.2 .8-1.2 .8 .3 .8-.7 .8-.2 .8 1.1 .8 .7 .8-1.2 .8 0 .8 .6 .8 .2 .8-.9 .8 .9 .8-1 .8 1.4 .8-.1 .8 0 .8 .5 .8-1.2 .8-.4 .8 .7 .8 .8 .8 .3 .8-.2 .8-.4 .8-.6 .8 .6 .8-.1 .8 .5 .8-.1 .8-.6 .8 .2 .8-.8 .8-.1 .8 .9 .8 .2 .8-1.3 .8 0 .8 .4 .8 .4 .8-.3 .8 0 .8 1.1 .8-.7 .8-.1 .8 .9 .8-.9 .8 .1 .8-.7 .8 1.2 .8 .3 .8-1.1 .8 .5 .8-.6 .8 1 .8-.4 .8-.5 .8 1.2 .8-.6 .8 0 .8 .8 .8-1.1 .8 0 .8 .9 .8-.8 .8 .8 .8-.3 .8 .6 .8-.5 .8 .4 .8-.6 .8-.8 .8 .1 .8 .3 .8 .3 .8-.2 .8-.2 .8-.3 .8 .4 .8 .5 .8 .1 .8-1.2 .8 .1 .8 .9 .8-.2 .8-.4 .8 .5 .8-.9 .8 .6 .8 1.1 .8-.9 .8-.6 .8 .9 .8 .1 .8-.5 .8-.4 .8-.5 .8 0 .8 1.4 .8-.3 .8 .8 .8 .4 .8-.3 .8-.8 .8-.8 .8 1.4 .8-1.1 .8-.3 .8 .4 .8-.1 .8 0 .8-.3 .8-.3 .8-.1 .8 1.8 .8-1.1 .8 .3 .8 .5 .8 0 .8 .7 .8 .3 .8-.6 .8-.5 .8 .3 .8-.5 .8-.5 .8 .5 .8 .2 .8-.5 .8 .3 .8-.1 .8-.6 .8 1.6 .8-.4 .8 0 .8-1 .8 .2 .8-.5 .8 1.6 .8 0 .8-.3 .8 .3 .8-.4 .8 .1 .8 1 .8-1.5 .8 .7 .8-.3 .8-.5 .8-.2 .8 .8 .8-.8 .8 1.3 .8-.4 .8-.4 .8 .2 .8 0 .8 .1 .8-.2 .8 .1 .8-.2 .8 .9 .8 0 .8-.5 .8-.1 .8-.1 .8 1.3 .8-.2 .8 .5 .8 0 .8-.3 .8-.3 .8-.6 .8 .4 .8-.9 .8 .5 .8 .6 .8-.2 .8-.1 .8 .3 .8 0 .8 0 .8 0 .8-.4 .8 .3 .8-1 .8 .1 .8 1.5 .7 .3 .8-1.7 .8 1.6 .7-1.9 .7 2 .8 .4 .8-2.3 .7 .8 .7 .2 .8-1 .8 1 .7 1.4 .7-.6 1-.1 .8 .1 .7-1.1 .7 1 .8-.8 1-.3 .7 1.1 .7-1.2 .8-.1 .8 .8 .7 0 .7-.1 .8-.5 .8 1.4 .9 .6 .8-.8 .8-.3 .8 .8 .8-1.2 .8-.3 .8 .6 .8 .1 .8 .1 .8 .9 .8 0 .8-1.6 .8 1.1 .8-.7 .8-.5 .8 .3 .8 .5 .8-.1 .8 .2 .8 .9 .8-.8 .8 .9 .8-.7 .8 .7 .8-.6 .8-.3 .8-.4 .8 .2 .8 1.1 .8-.8 .8 .7 .8 .1 .8-1.4 .8 .8 .8-.4 .8-.6 .8 1.3 .8-.4 .8-.8 .8 .3 .8 .2 .8-.1 .8-.2 .8 .6 .8 .8 .8-.7 .8-.2 .8 1.3 .8-.5 .8-.8 .8-.1 .8 .8 .8-.3 .8 .1 .8 .4 .8 .1 .8-.5 .8-.4 .8-.5 .8 0 .8 .3 .8 1.1 .8 .2 .8-.3 .8-1 .8 1.4 .8-1.1 .8 1 .8 0 .8-.1 .8 .3 .8-.4 .8-.8 .8 .8 .8 .4 .8-.8 .8-.6 .8 1.3 .8 .3 .8-.3 .8 .4 .8-.6 .8 .8 .8 0 .8-.1 .8-1.3 .8 .1 .8 .6 .8-.5 .8 .4 .8-.6 .8 .8 .8 .9 .8-.3 .8-.8 .8 .9 .8 0 .8-1.1 .8-.1 .8 1.1 .8-1 .8 .5 .8-.7 .8 1.2 .8 0 .8-1.2 .8 1.1 .8-.2 .8 .1 .8-.3 .8 .9 .8 .3 .8 .2 .8-.4 .8-.6 .8-.8 .8 .7 .8 .9 .8-.4 .8-.3 .8 .9 .8 .1 .8-.8 .8-1.1 .8 1.3 .8-.5 .8 0 .8 1 .8 .4 .8 .1 .8-1.6 .8 .3 .8 .2 .8-.2 .8-.9 .8 1.5 .8 .2 .8-.3 .8-.2 .8-1 .8 .5 .8 .9 .8-.2 .8 .6 .8-.7 .8 .4 .8-1.1 .8 .1 .8-.4 .8 1.3 .8 .1 .8-.8 .8-.6 .8 .8 .8 1.1 .8-.8 .8-.2 .8-.6 .8 0 .8 1.1 .8-.9 .8 1.4 .8-1 .8 1 .8-.1 .8-.1 .8-.7 .8 .2 .8-.5 .8 1.3 .8-.7 .8 .6 .8 0 .8-.7 .8-.6 .8-.1 .8 .6 .8 .1 .8 .3 .8 .4 .8 .5 .8-1.5 .8 1.1 .8-1.2 .8 .1 .8 1.4 .8-.5 .8 .1 .8-.3 .8 0 .8 0 .8-.5 .8 .8 .8-1 .8 .7 .8-.8 .8 .7 .8 .2 .8-.7 .8-.1 .8 .5 .8 .5 .8 1 .8 0 .8-1.1 .8 1 .8-.1 .8-1.3 .8 .7 .8-.9 .8 1.5 .8-.3 .8-1.1 .8 1.3 .8-1.1 .8-.4 .8 1.7 .8-.6 .8-.4 .8 1.3 .8 .3 .8-.2 .8-.3 .8 .1 .8-.9 .8-.7 .8 .4 .8 0 .8-.6 .8 1.3 .8 .8 .8-1.5 .8 .3 .8 0 .8 .9 .8-.9 .8 .4 .8-.8 .8 0 .8-.6 .8 1.2 .8-1 .8 0 .8 .5 .8 .6 .8 .6 .8-1 .8 .2 .8 .3 .8-.3 .8-.4 .8 0 .8-.6 .8 .1 .8-.3 .8 1.7 .8 .2 .8-.5 .8-.9 .8 .4 .8-.1 .8 0 .8 .5 .8 .7 .8-.5 .8-.1 .8-.2 .8-.3 .8-.3 .8 .9 .8 .4 .8-1 .8-.3 .8-.4 .8 1.3 .8 0 .8-1 .8 .7 .8 .5 .8-1.3 .8-.3 .8-.1 .8-.1 .8 .9 .8 .5 .8-1.2 .8 1.3 .8-1.3 .8 .9 .8-.9 .8 1 .8-.8 .8 1.1 .8-.2 .8-.2 .8-.5 .8-.2 .8-.1 .8-.1 .8-.5 .8 .9 .8 .3 .8-1.1 .8 0 .8 1.4 .8-.9 .8 1 .8-1 .8 .5 .8-.2 .8-.7 .8 1.2 .8-.3 .8 .5 .8-1.4 .8 .8 .8 .5 .8 .6 .8 .1 .8-1.4 .8 .2 .8 .5 .8-.9 .8 1 .8-.6 .8-.3 .8 .2 .8-1 .8 1.5 .8-1 .8-.5 .8 1 .8 .7 .8-.5 .8-.5 .8 .9 .8 .4 .8-.5 .8-.7 .8 .4 .8-.7 .8-.7 .8 1.2 .8-.4 .8-.5 .8-.3 .8 1.1 .8 .3 .8-1.1 .8-.3 .8 .8 .8 1 .8-.3 .8 .5 .8-.9 .8-.3 .8 .1 .8-.8 .8 .8 .8-.4 .8-.1 .8-.6 .8 .9 .8 .4 .8-.1 .8-.1 .8 0 .8-.7 .8-.5 .8 1 .8-.1 .8 .3 .8 .5 .8-.8 .8 .8 .8-1 .8 .4 .8 .6 .8-.3 .8 .5 .8-.4 .8 .1 .8-.1 .8 0 .8 .6 .8-1.1 .8 1 .8-.7 .8 .6 .8-.1 .8-1.5 .8 1.2 .8-.2 .8-.2 .8-.8 .8 .8 .8 .6 .8 .2 .8-.7 .8 .1 .8 .3 .8-.6 .8-.6 .8 .2 .8 .4 .8-.9 .8 .4 .8 .6 .8 .5 .8-.8 .8 .3 .8 .6 .8-1.6 .8-.1 .8-.4 .8 1.7 .8-.4 .8 .8 .8 .1 .8-.2 .8 0 .8-.3 .8-.9 .8 .1 .8 1 .8 0 .8-.2 .8-1.3 .8 .2 .8-.7 .8 .4 .8-.5 .8 .6 .8 .7 .8 .3 .8-.5 .8 0 .8 .1 .8-.1 .8-.9 .8 1.2 .8 .6 .8 .2 .8-1 .8-.6 .8 .1 .8 .7 .8 .5 .8-.9 .8 0 .8-.4 .8 0 .8 .3 .8 .1 .8 .1 .8 0 .8 .4 .8-.1 .8 0 .8-1.2 .8-.4 .8 .1 .8 1.3 .8 .5 .8-1.2 .8 1.1 .8-.5 .8-.9 .8 .1 .8 .9 .8-.8 .8 .5 .8-.9 .8 1 .8 .1 .8-.6 .8 .6 .8-.7 .8-.4 .8 0 .8-.2 .8-.3 .8 1.4 .8-.6 .8-.3 .8 .9 .8 .2 .8 .5 .8-.5 .8-.3 .8-.3" fill="none" stroke="#3a0e18" stroke-width="1.3" stroke-linejoin="round"/>
<path d="M282 1012.8l.2-3.5 .2-1.8 0 .6 .1 .6 .2 2.2 .3 2.6" fill="none" stroke="#3a0e18" stroke-width="0.6" stroke-opacity="0.7"/>
<path d="M285.7 1009.4l.3-9 .2-10.8 .2-4.2 0 0 .1 .7 .2 6.1 .3 10.9 .2 9.4 .1 2.4" fill="none" stroke="#3a0e18" stroke-width="0.6" stroke-opacity="0.7"/>
<path d="M288.9 1015.7l.1-2.4 .2-7.9 .2-12.4 .3-16.4 .2-5.6 .1 .9 .2 11.2 .2 16 .1 3.4 .2 9 .3 3.5" fill="none" stroke="#3a0e18" stroke-width="0.6" stroke-opacity="0.7"/>
<path d="M292.6 1015.5l.3-5.3 .3-10 .2-11.3 .2-4.7 0 .5 .1 .8 .2 6.5 .3 12.4 .2 8.5 .1 2.6" fill="none" stroke="#3a0e18" stroke-width="0.6" stroke-opacity="0.7"/>
<path d="M296.1 1012.2l.3-6.1 .2-6.9 .2-2.3 0-.4 .1 .5 .2 5.8 .3 6.7 .2 5.6 .1 .7" fill="none" stroke="#3a0e18" stroke-width="0.6" stroke-opacity="0.7"/>
<path d="M300.1 1015.6l.3-3.8 .2-2.8 .2-2.3 0 .2 .1-.4 .2 2.3 .3 5.2" fill="none" stroke="#3a0e18" stroke-width="0.6" stroke-opacity="0.7"/>
<rect x="101.6" y="570.8" width="595.2" height="467.7" fill="none" stroke="#444" stroke-width="1.7"/>
<line x1="154.8" y1="1038.5" x2="154.8" y2="1034.5" stroke="#444" stroke-width="1.4"/>
<line x1="154.8" y1="570.8" x2="154.8" y2="574.8" stroke="#444" stroke-width="1.4"/>
<line x1="264.2" y1="1038.5" x2="264.2" y2="1034.5" stroke="#444" stroke-width="1.4"/>
<line x1="264.2" y1="570.8" x2="264.2" y2="574.8" stroke="#444" stroke-width="1.4"/>
<line x1="374" y1="1038.5" x2="374" y2="1034.5" stroke="#444" stroke-width="1.4"/>
<line x1="374" y1="570.8" x2="374" y2="574.8" stroke="#444" stroke-width="1.4"/>
<line x1="484" y1="1038.5" x2="484" y2="1034.5" stroke="#444" stroke-width="1.4"/>
<line x1="484" y1="570.8" x2="484" y2="574.8" stroke="#444" stroke-width="1.4"/>
<line x1="593.3" y1="1038.5" x2="593.3" y2="1034.5" stroke="#444" stroke-width="1.4"/>
<line x1="593.3" y1="570.8" x2="593.3" y2="574.8" stroke="#444" stroke-width="1.4"/>
<line x1="101.6" y1="649" x2="105.6" y2="649" stroke="#444" stroke-width="1.4"/>
<line x1="696.8" y1="649" x2="692.8" y2="649" stroke="#444" stroke-width="1.4"/>
<line x1="101.6" y1="763.8" x2="105.6" y2="763.8" stroke="#444" stroke-width="1.4"/>
<line x1="696.8" y1="763.8" x2="692.8" y2="763.8" stroke="#444" stroke-width="1.4"/>
<line x1="101.6" y1="878.4" x2="105.6" y2="878.4" stroke="#444" stroke-width="1.4"/>
<line x1="696.8" y1="878.4" x2="692.8" y2="878.4" stroke="#444" stroke-width="1.4"/>
<line x1="101.6" y1="993" x2="105.6" y2="993" stroke="#444" stroke-width="1.4"/>
<line x1="696.8" y1="993" x2="692.8" y2="993" stroke="#444" stroke-width="1.4"/>
<text x="4.06" y="590.50" font-size="47" textLength="27.04" lengthAdjust="spacingAndGlyphs" font-weight="bold">c</text>
<text transform="translate(87.90 655.26) rotate(-90)" x="0" y="0" font-size="33" textLength="72.96" lengthAdjust="spacingAndGlyphs">1590</text>
<text transform="translate(88.30 863.83) rotate(-90)" x="0" y="0" font-size="33" textLength="72.01" lengthAdjust="spacingAndGlyphs">1580</text>
<text transform="translate(88.30 1051.96) rotate(-90)" x="0" y="0" font-size="33" textLength="70.01" lengthAdjust="spacingAndGlyphs">1570</text>
<text transform="translate(24.80 987.80) rotate(-90)" x="0" y="0" font-size="33.4" textLength="344.47" lengthAdjust="spacingAndGlyphs">pump wavelength (nm)</text>
<text x="118.30" y="1080.50" font-size="33" textLength="74.23" lengthAdjust="spacingAndGlyphs">1300</text>
<text x="239.84" y="1080.50" font-size="33" textLength="72.86" lengthAdjust="spacingAndGlyphs">1320</text>
<text x="361.92" y="1080.50" font-size="33" textLength="73.59" lengthAdjust="spacingAndGlyphs">1340</text>
<text x="482.87" y="1080.50" font-size="33" textLength="72.01" lengthAdjust="spacingAndGlyphs">1360</text>
<text x="603.51" y="1080.50" font-size="33" textLength="73.80" lengthAdjust="spacingAndGlyphs">1380</text>
<text x="240.87" y="1129.40" font-size="33" textLength="346.45" lengthAdjust="spacingAndGlyphs">signal wavelength (nm)</text>
<text x="150.63" y="619.00" font-size="31" textLength="53.88" lengthAdjust="spacingAndGlyphs">DW</text>
<text x="545.72" y="619.20" font-size="30" font-style="italic" textLength="15.81" lengthAdjust="spacingAndGlyphs">s</text>
<text x="561.53" y="619.20" font-size="30" textLength="52.70" lengthAdjust="spacingAndGlyphs">-sat</text>
<text x="124.13" y="734.50" font-size="21.5" textLength="86.55" lengthAdjust="spacingAndGlyphs">1585 nm</text>
<text x="140.61" y="643.00" font-size="18" textLength="30.90" lengthAdjust="spacingAndGlyphs" fill="#1f6fc4">373</text>
<text x="217.12" y="678.70" font-size="18" textLength="30.43" lengthAdjust="spacingAndGlyphs" fill="#d9531e">355</text>
<text x="540.66" y="653.90" font-size="18" textLength="31.36" lengthAdjust="spacingAndGlyphs" fill="#1f6fc4">238</text>
<text x="521.11" y="681.80" font-size="18" textLength="29.65" lengthAdjust="spacingAndGlyphs" fill="#d9531e">241</text>
<text x="497.90" y="706.60" font-size="18" textLength="29.89" lengthAdjust="spacingAndGlyphs" fill="#eba823">250</text>
<text x="455.99" y="748.00" font-size="18" textLength="30.52" lengthAdjust="spacingAndGlyphs" fill="#7e2f8e">260</text>
<text x="430.07" y="771.70" font-size="18" textLength="31.10" lengthAdjust="spacingAndGlyphs" fill="#77ac30">265</text>
<text x="408.35" y="792.40" font-size="18" textLength="31.78" lengthAdjust="spacingAndGlyphs" fill="#62c3ef">268</text>
<text x="391.09" y="811.20" font-size="18" textLength="30.51" lengthAdjust="spacingAndGlyphs" fill="#a2142f">273</text>
<text x="363.06" y="839.00" font-size="18" textLength="31.29" lengthAdjust="spacingAndGlyphs" fill="#1f6fc4">277</text>
<text x="339.76" y="861.00" font-size="18" textLength="31.40" lengthAdjust="spacingAndGlyphs" fill="#d9531e">282</text>
<text x="268.71" y="929.60" font-size="18" textLength="29.80" lengthAdjust="spacingAndGlyphs" fill="#eba823">297</text>
<text x="245.76" y="956.00" font-size="18" textLength="28.68" lengthAdjust="spacingAndGlyphs" fill="#7e2f8e">301</text>
<text x="224.14" y="978.90" font-size="18" textLength="29.15" lengthAdjust="spacingAndGlyphs" fill="#77ac30">304</text>
<text x="204.94" y="996.00" font-size="18" textLength="29.48" lengthAdjust="spacingAndGlyphs" fill="#62c3ef">309</text>
<text x="184.92" y="1016.80" font-size="18" textLength="30.41" lengthAdjust="spacingAndGlyphs" fill="#a2142f">312</text>
<path d="M797 674.4l.8-.4 .7-.8 .1 .4 .2 1 .2-.5 .2 .1 .2-.8 .1 .1 .3-.3 .2-1.3 .2-1.4 0-.8 .3-2.2 .3-4.7 .2-3.2 .1 .2 .1 .7 .3 2.8 .3 5.2 0 .4 .2 3.2 .2 .6 .3 .5 .1-.5 .2 1.3 .2 .1 .2 .4 .2-.7 .1 .8 .7-.2 .5-.1 .3-1.6 0 1 .2 .4 .2-.6 .3-1.2 .1-.4 .2-1.9 .2-5.3 .2-10.4 .2-11.4 .1-8.8 .3-26.5 .2-17.9 .1-1.1 .1 .8 0 2.6 .3 20.7 .3 24.8 .2 19.6 .2 10.1 .3 3.6 .3 2 0 .8 .2-1.1 .2 1.5 .3-.8 .1 .1 .8-.1 .6-.3 .2 .8 0-.5 .3 .7 .3 .8 .2 0 .2-1.4 .3-.9 .3-.2 0-.7 .2-1.2 .2-4 .3-2.1 .1-.5 .2-.2 .2 3.1 .2 3.2 .2 1.3 .1 1.9 .3 1 .2-.4 .2-.6 0 0 .3 .2 .3 0 .2-.1 .8 1.4 .8-.5 .8 0 .8 .1 .8 .1 .8-.2 .8 .3 .8 .2 .8-.5 .8 .3 .8-.6 .8-.1 .8 .3 .8 0 .8 0 .8 .4 .8 .4 .8 0 .8-.9 .8-.5 .8 .2 .8 .1 .8 1.1 .8 .4 .8-1 .8 .8 .8 .4 .8-.3 .8-.3 .8-.5 .8 .4 .8-.5 .8 0 .8 .6 .8-.6 .8 1.1 .8-.9 .8-.6 .8 .8 .8-.5 .8 .2 .8 .3 .8-.6 .8-.2 .8 .9 .8 .7 .8-1.3 .8-.4 .8-.1 .8 0 .8-.1 .8 1 .8 .1 .8-.4 .8 .1 .8 .1 .8-.2 .8 .8 .8-1 .8 .2 .8 .2 .8-.5 .8 .4 .8-.3 .8 .8 .8-.9 .8 0 .8-.2 .8-.1 .8 .9 .8-.4 .8 1 .8-.3 .8-1 .8 .3 .8 1.3 .8 .1 .8 .2 .8-1.4 .8-.4 .8-.1 .8 1 .8 .7 .8-1.3 .8-.4 .8 .7 .8-.3 .8 .2 .8 .1 .8 1 .8-1 .8 .6 .8-.8 .8 .4 .8 0 .8-.8 .8 1.4 .8 0 .8-.2 .8 .6 .8-.4 .8-1.1 .8 .1 .8-.2 .8 1.4 .8 .3 .8-.3 .8 .1 .8-.6 .8-.9 .8 1.4 .8 .1 .8 .2 .8-.2 .8-.7 .8 .1 .8-.9 .8 1.4 .8 .2 .8-1.1 .8 .3 .8-.5 .8 .1 .8 .5 .8-.5 .8 .2 .8 .9 .8 .2 .8-.1 .8 .1 .8-1.1 .8 .3 .8 .1 .8 .7 .8-1.5 .8 .9 .8 0 .8-.1 .8-.2 .8 .1 .8 .5 .8-.5 .8 .3 .8-.6 .8 .9 .8-.3 .8 .4 .8-.9 .8 .8 .8-.5 .8 .7 .8 0 .8-1.3 .8 .2 .8 0 .8-.3 .8 0 .8-.5 .8 1.7 .8-1.1 .8 1 .8 .1 .8-.9 .8-.2 .8 1 .8-.6 .8-.6 .8 .4 .8 .4 .8-1 .8 .8 .8-.6 .8 .6 .8 .6 .8 .2 .8-1 .8 .8 .8-.5 .8-.2 .8 .2 .8-.2 .8 .1 .8 .9 .8 0 .8-.9 .8-.7 .8 1.1 .8-1.1 .8 .7 .8 .3 .8 .7 .8-.2 .8 .1 .8-.4 .8-.4 .8 0 .8 .9 .8-1.5 .8 .8 .8-.7 .8 .3 .8 .1 .8-.6 .8-.2 .8 1 .8 .9 .8-1.4 .8-.1 .8 .5 .8-.1 .8-.5 .8 .9 .8 .1 .8-.5 .8 .2 .8-.2 .8-.2 .8 0 .8-.4 .8 1.2 .8-1.2 .8 .7 .8 .5 .8-.1 .8-.8 .8 .5 .8 .5 .8-.3 .8 .1 .8-.6 .8-.1 .8 1.2 .8-.7 .8 .4 .8 .3 .8-1.4 .8 1.4 .8-.3 .8-.9 .8 .4 .8 .6 .8-.9 .8-.6 .8 0 .8-.2 .8 .9 .8 1.2 .8-1.3 .8 .8 .8 .2 .8-1.3 .8 1.3 .8-.2 .8-.8 .8 1.2 .8 .1 .8-.8 .8 .5 .8-.1 .8-.5 .8-.3 .8 0 .8 1 .8 .3 .8-.1 .8-.9 .8-.2 .8-.5 .8 .8 .8 .9 .8-.4 .8 0 .8-.8 .8 0 .8 .4 .8-.9 .8 1.1 .8-.2 .8-.3 .8 .2 .8 .5 .8 0 .8-.1 .8-1.1 .8 1.1 .8-.5 .8-.1 .8-.6 .8 .1 .8 .7 .8-.1 .8-.7 .8-.4 .8-.4 .8 0 .8 1.7 .8 0 .8 .1 .8-1.5 .8 .9 .8-.6 .8 .7 .8 .3 .8-.1 .8-.3 .8-.4 .8 .3 .8-.7 .8 0 .8-.4 .8-.1 .8-.3 .8 1.5 .8-1.1 .8 .8 .8-.2 .8 .4 .8-.5 .8 .5 .8-1.3 .8 .7 .8-.2 .8 .2 .8-.4 .8 .6 .8-.3 .8 .6 .8 0 .8-.8 .8-.7 .8 .8 .8-.5 .8 .2 .8-.5 .8 1.1 .8 .3 .8-.7 .8-1 .8 .3 .8 1 .8 .3 .8 0 .8-.8 .8 .6 .8-.6 .8-.8 .8-.2 .8-.3 .8 .7 .8 .6 .8-1.1 .8 .6 .8 .5 .8 .2 .8-.3 .8-.7 .8 .6 .8-.2 .8 .3 .8-.7 .8-.3 .8 .2 .8 .1 .8-1 .8 1.1 .8-.9 .8-.5 .8 .4 .8-.2 .8-.3 .8 .4 .8 .9 .8-.9 .8 .1 .8-.7 .8 .6 .8 .2 .8-.8 .8 .6 .8-.7 .8 .7 .8 .3 .8 0 .8-.5 .8-.4 .8-.9 .8 .6 .8-1 .8 1.4 .8 .2 .8-.2 .8-1.4 .8 .6 .8 0 .8-.7 .8-.5 .8-.3 .8 .1 .8 .7 .8-.6 .8-.1 .8 1 .8 0 .8-.2 .8-.4 .8 .1 .8 .1 .8 .4 .8-.3 .8-1.2 .8 .7 .8-.5 .8 0 .8 .8 .8-.2 .8 .3 .8-.2 .8-.4 .8-.9 .8 1.1 .8-.5 .8-.3 .8 .4 .8-.1 .8-.3 .8-.3 .8-.2 .8 .2 .8 .7 .8-1.3 .8 .8 .8-.6 .8-.3 .8 .7 .8-1.3 .8 .1 .8 .3 .8 .7 .8-.2 .8-.4 .8-.9 .8-.5 .8 .8 .8-.7 .8 1.2 .8-1.1 .8 .8 .8-.4 .8-1 .8 1.5 .8 .4 .8-.8 .8-.1 .8 0 .8-.3 .8-.1 .8 .7 .8-.9 .8 0 .8-.3 .8-.5 .8 .2 .8-.5 .8-.1 .8 .6 .8 .9 .8-.3 .8-.5 .8-.9 .8 1.2 .8 .1 .8-.1 .8-.2 .8 .4 .8-1.4 .8 .4 .8 .6 .8-1.1 .8 .3 .8 .8 .8 .2 .8-.5 .8-1.1 .8 1 .8 .1 .8-.4 .8-.2 .8 .3 .8-1 .8 .6 .8-1 .8-.4 .8 .4 .8-.8 .8 .1 .8 .7 .8 .4 .8-.7 .8-.2 .8-.1 .8 .4 .8 .5 .8 .3 .8 .1 .8-1.3 .8 .4 .8-.1 .8 .6 .8-1 .8 .4 .8 .3 .8 .2 .8-.2 .8-.7 .8 .3 .8-1.3 .8 .4 .8-.9 .8 .9 .8 .4 .8 .3 .8-1.6 .8 .9 .8-.7 .8 1.2 .8-1.5 .8 1 .8 .4 .8-.6 .8-.2 .8 .7 .8-.2 .8-.6 .8-1 .8 .6 .8 .1 .8-.3 .8-.4 .8-.4 .8 1.3 .8-1.1 .8-.5 .8-.4 .8 .3 .8 .2 .8-.5 .8-.2 .8 .6 .8-.1 .8 1.2 .8-.4 .8 0 .8-.4 .8-.3 .8 0 .8 0 .8-.8 .8-.3 .8 1.2 .8-.3 .8 .6 .8-1.3 .8 .4 .8-.2 .8-.8 .8 .3 .8 .3 .8 .4 .8 .4 .8-.7 .8 .8 .8-.4 .8-.1 .8-1.3 .8 .2 .8 .5 .8 0 .8-.7 .8-.2 .8 .7 .8-1 .8 .8 .8-.9 .8 0 .8 1.1 .8-1.2 .8 0 .8 1.3 .8-1 .8-.6 .8 1.5 .8-1.2 .8 .5 .8 .1 .8 .2 .8-1.1 .8 .8 .8-.4 .8 .6 .8-.4 .8 .7 .8 .2 .8-.2 .8-1.3 .8-.2 .8 .9 .8-.6 .8-.5 .8-.5 .8 .7 .8 .6 .8-.1 .8-.3 .8 .3 .8 .2 .8-.6 .8-1 .8 0 .8 .5 .8 .2 .8-.3 .8-.7 .8 .6 .8-.7 .8 .6 .8-.1 .8-.6 .8 .1 .8 .7 .8-.8 .8-.4 .8-.3 .8 1 .8 .7 .8-.7 .8-.4 .8 .1 .8 .9 .8-.3 .8-1 .8-.4 .8 .8 .8 .8 .8-.2 .8-.9 .8-.9 .8 .5 .6 .5 .2 .3 0 .5 .3-.6 .3-.6 .2 .4 .2-1 .3-.1 .3-.6 0 .2 .2-1.7 .2 .4 .3-1.2 .1-1.1 .2 .1 .2 2.2 .2 1.7 .2 .7 .1-1.2 .3 .4 .2 .2 .2-.5 0 .8 .3 .8 .3-.8 .2 .2 .8 .7 .8-1.2 .4 .1 .2 .4 .2-.4 .1 .4 .3 0 .2-.1 .2-.4 0-.7 .3-1 .3-2.4 .2-3.7 .2-4.5 .3-3.1 .1 .9 .2 .4 0 .4 .2 2.6 .2 5.7 .3 3.6 .1-.5 .2 .8 .2 .3 .2 1.2 .2 .5 .1-.1 .3-.6 .2 .1 .2-.2 .8-.3 .8 .6 .2-.7 .2 .8 .3-.2 .1-1.3 .2 1.1 .2-.4 .2-1.3 .2-1.1 .1-2 .3-8.6 .2-13.2 .2-11.4 0-4 .3-11.5 .1-.7 .2 2.2 .2 13.8 .2 15 .3 12.5 .3 5.5 0 .4 .2 1.9 .2 .6 .3 1.7 .1 .1 .2-.6 .2 1 .4 .4 .8-.9 .8 0 .4-.3 .2 .7 .2 .1 .1-.7 .3-.8 .2-1 .2-.3 0-.7 .3-4.2 .3-9.7 .2-17.7 .2-22.4 .3-15.6 .1-.5 .2 3.8 0 2.7 .2 14.9 .2 21 .3 15.7 .1 4 .2 3.9 .2 3.3 .2 1.6 .2 1.3 .1 0 .3 1 .2-1.1 .2 .1 .8 1.3 .8-1 .4-.5 .2 .6 .2 .3 .1-1 .3-.6 .2-.6 .2-.2 0 .5 .3-3.4 .3-7.4 .2-11.9 .2-15.4 .3-9.9 .1-.3 .2 2.3 0 .9 .2 11 .2 15.5 .3 10.2 .1 3.7 .2 1.8 .2 3.4 .2 .1 .2-.1 .1 .7 .3 1 .2 .2 .2-.2 .8-.4 .8 .7 .2-1.4 .3 1.2 .3-1.1 0-.2 .2 1 .2 .1 .3-1.6 .1-.8 .2-.6 .2-3.1 .2-1.8 .2-2.7 .1 .4 .1 .1 .2 .4 .2 1.5 .2 3.2 0 .7 .3 1.1 .3 1.8 .2 .2 .2 .5 .3 .7 .3 .1 0-.3 .2-.6 .6 .4 .8-1 .8-.1 .4 .4 .2 .4 .2-.6 .1 .2 .3-.4 .2-.5 .2 1.2 0-1 .3 1.1 .3-1.1 .2 .4 .2-2 .3 0 .1-.9 .2 .9 0 .8 .2 .5 .2 .4 .3-.6 .1 .4 .2 0 .2 1 .2-.5 .2 .7 .1 .4 .3-.5 .2-.3 .2-.2 .8-.7 .8 .8 .8-.9 .8 1.3 .8 0 .8 .2 .8-.1 .8-1.5" fill="none" stroke="#1f4f9a" stroke-width="1.9" stroke-linejoin="round"/>
<path d="M797 700.5l.8 .7 .8-.4 .8-.3 .5-.5 .3 .6 0-.5 .2 1.1 .2-1.1 .3 .9 .1-1.4 .2 0 .2-.7 .2-1.3 .2-2.2 .1-2.8 .3-4.6 .2-2.9 .1-1.5 .1 1.2 0 .7 .3 4.4 .3 3.5 .2 4.2 .2 1.6 .3 1.6 .3 .2 0-1.4 .2 1.4 .2 .2 .3-.9 .1 1 .8-1.2 .8 1.1 .8-.3 .8-1.2 .8 1.1 .8-.7 .8-.7 .8-.1 .8-.3 .4 .5 .2-.3 .2 1.1 .1-.8 .3-1 .2-.9 .2 .1 0-1.2 .3-2.7 .3-9.6 .2-17.2 .2-21.1 .3-15.3 .1-.5 .2 2.5 0 2 .2 15.1 .2 21.5 .3 15.9 .1 3.1 .2 3.5 .2 3.6 .2 .6 .2 1.1 .1-.3 .3 .2 .2 1.1 .2 .6 .8-.3 .7-.7 .1 1 .2-.4 .2-.3 .2-.5 .2 .6 .1-.9 .3-1.4 .2-2.1 .2-4 0-1.7 .3-9.7 .3-10.7 .2-8.9 .1 .1 .1 1.8 .3 10 .3 11.5 0 .8 .2 7.7 .2 3.6 .3 2.3 .1 1.2 .2 .1 .2 .8 .2-.4 .2 .4 .1-.6 .7-.2 .8 .6 .2-.2 .3-.3 .3 .7 0-.5 .2 .8 .2-.7 .3-.9 .1 .5 .2-1.4 .2-2.6 .2-2.5 .2-1.4 .1-1.5 .1-.1 .2 .6 .2 2.8 .2 2.2 0 .4 .3 1.8 .3 1.9 .2-.1 .2-.4 .3 0 .3 1.1 0-.6 .2-.1 .6-.4 .8-.3 .8 1.7 .8-1.3 .8 0 .8 0 .8 .1 .8 1.1 .8-1.2 .8 1.3 .8-.5 .8-.1 .8 0 .8 .7 .8-1.2 .8 .3 .8-.5 .8 .8 .8-.7 .8 1 .8-.2 .8 .7 .8 .1 .8-.5 .8-1.4 .8 .3 .8 .6 .8-.1 .8 .1 .8-.8 .8-.3 .8 .6 .8 .6 .8-1.2 .8 1.1 .8-.6 .8-.1 .8 .4 .8 .2 .8-.8 .8 .7 .8 .5 .8-.8 .8 .9 .8 .1 .8 0 .8-.5 .8-.1 .8-1.1 .8 .5 .8 1.1 .8 .3 .8-1.6 .8 1.2 .8-1.1 .8 .1 .8-.5 .8-.1 .8 .8 .8 .6 .8-.7 .8 .5 .8-.3 .8-.7 .8-.4 .8 1.2 .8-.3 .8 .9 .8-1 .8-.7 .8 1.3 .8 .2 .8 .4 .8-1.2 .8 .7 .8-1 .8 .9 .8-.1 .8-.8 .8-.4 .8 .5 .8 .4 .8-.2 .8 .8 .8-1.2 .8 0 .8-.6 .8-.1 .8 1.3 .8 .3 .8 0 .8-.6 .8 0 .8-.6 .8-.5 .8 1.2 .8-.8 .8 .9 .8 .6 .8-1.5 .8 0 .8-.3 .8 0 .8 1.4 .8-.1 .8-.1 .8-.5 .8 .3 .8-.1 .8-.6 .8-.2 .8 0 .8 .1 .8 .4 .8 .3 .8-.8 .8 0 .8 .9 .8-.1 .8-.9 .8 .4 .8 .4 .8 .6 .8-1.1 .8-.4 .8 .7 .8 .6 .8-1.3 .8 .1 .8 .7 .8-.4 .8-.7 .8 1.4 .8 0 .8-.8 .8-.6 .8 .2 .8 .7 .8 .4 .8 .7 .8-1.7 .8 .6 .8 .6 .8-1.2 .8-.1 .8 1.3 .8-.2 .8 .4 .8-1.2 .8 .9 .8 .3 .8-.7 .8-1.1 .8 1.3 .8 .3 .8 .1 .8-.3 .8 0 .8-1.1 .8-.5 .8 1.4 .8 0 .8-.1 .8 .1 .8-.9 .8 .8 .8 .6 .8 0 .8-.9 .8-.7 .8 .6 .8-.7 .8 1.1 .8 .7 .8-1 .8 .1 .8 .7 .8-.6 .8 0 .8 .4 .8-.5 .8 .5 .8-1.5 .8 .8 .8 .5 .8-.5 .8-.6 .8 1 .8 0 .8-1.3 .8-.4 .8 1.4 .8-1.1 .8 .8 .8-.1 .8 .7 .8-1.1 .8 1 .8-.4 .8 .1 .8-.5 .8-.3 .8 .2 .8-.7 .8 .5 .8 .2 .8 .1 .8 .9 .8 .1 .8-1.2 .8 .4 .8-.1 .8 .5 .8-.7 .8-.2 .8 .3 .8 .1 .8-.8 .8 .6 .8 .6 .8-.1 .8 0 .8-.5 .8 0 .8-.1 .8 .8 .8-.4 .8 .6 .8-1.2 .8 1.1 .8-1.5 .8-.3 .8 .2 .8 .6 .8 .2 .8 .4 .8 .2 .8-.2 .8-1.1 .8 1.1 .8-.8 .8 1 .8-.2 .8-1.2 .8 .3 .8 1.1 .8-.5 .8-.3 .8 .9 .8 .2 .8-1.3 .8-.3 .8 .9 .8-.5 .8 .6 .8-1.3 .8 0 .8 .2 .8 .8 .8 .7 .8-1.3 .8-.7 .8 1.2 .8-.3 .8 .3 .8-.3 .8-.5 .8 .2 .8-.4 .8 .9 .8-.8 .8-.5 .8 1.4 .8 .5 .8-1.6 .8 .9 .8-.4 .8-.7 .8 1.2 .8-1.3 .8-.1 .8-.1 .8 0 .8-.2 .8 1 .8 .1 .8 .1 .8-.7 .8 1.2 .8-1.1 .8 .4 .8-.7 .8-.5 .8 1 .8-.9 .8 .5 .8 .5 .8 0 .8 .5 .8 .1 .8-.6 .8 .1 .8 .2 .8-.6 .8-.7 .8 1.1 .8 .2 .8 .3 .8-1.5 .8 .6 .8-.3 .8 .7 .8 .1 .8-.4 .8-1.2 .8 1 .8 .2 .8 .6 .8-.5 .8-.5 .8 .9 .8 .2 .8-.5 .8-1.3 .8 .6 .8 .8 .8-.3 .8-1.3 .8 .8 .8-1 .8 1.2 .8 .5 .8-1.4 .8 .6 .8 .4 .8-.3 .8 .3 .8-.2 .8-.5 .8 .1 .8-.8 .8 1.2 .8-.9 .8-.3 .8-.5 .8 1.3 .8-.4 .8-.9 .8 .6 .8 .4 .8-.3 .8 .3 .8-1.5 .8 1.2 .8 .4 .8-1.6 .8-.5 .8 .6 .8 .2 .8-.1 .8-.3 .8 .2 .8 .3 .8-.1 .8-.4 .8 0 .8 .5 .8-.8 .8 .6 .8-1.4 .8-.2 .8 1.4 .8-.1 .8 .3 .8-.8 .8-.1 .8 .1 .8-.2 .8 .4 .8-.2 .8-.7 .8 0 .8-.5 .8 1 .8 .2 .8-1.3 .8 1.1 .8 0 .8 .2 .8-.8 .8 .3 .8-1.4 .8-.3 .8 1.2 .8-.6 .8 .6 .8-.7 .8-.9 .8 0 .8 .1 .8 1.2 .8-1 .8 .7 .8-.2 .8 .3 .8 .1 .8-.3 .8-1.4 .8-.3 .8 1.1 .8-.9 .8 .7 .8 .1 .8-.6 .8-.1 .8 .4 .8-.7 .8 .6 .8 .3 .8-1.3 .8-.3 .8-.2 .8 0 .8-.3 .8-.1 .8 1.3 .8 .4 .8 .4 .8 0 .8-1.1 .8-1.1 .8 .7 .8 .9 .8-1.4 .8-.6 .8-.2 .8 .5 .8-.3 .8 0 .8 .7 .8-.1 .8-.3 .8-.3 .8-.6 .8 1 .8-.5 .8-.4 .8 .8 .8 .4 .8-.6 .8 .4 .8-.5 .8 .8 .8-.4 .8-.9 .8-.8 .8 0 .8 1.3 .8-.9 .8 .7 .8 .2 .8-1.4 .8 .9 .8-.9 .8-.6 .8 .7 .8 1 .8 .2 .8-.9 .8 .5 .8-1.2 .8-.2 .8 .3 .8-.8 .8 1.3 .8-.3 .8-1.2 .8 .6 .8-.4 .8-.4 .8-.2 .8 .7 .8 1 .8-1.5 .8-.4 .8 1.5 .8-1.2 .8-.6 .8 .2 .8 .1 .8-.4 .8 1.4 .8-1 .8 .7 .8-.5 .8-1 .8 .5 .8 1 .8 .2 .8-.5 .8 .3 .8-.9 .8 .8 .8 0 .8-1.7 .8 .7 .8-1.1 .8 .7 .8-.3 .8-.1 .8-.4 .8-.4 .8 1.1 .8 .5 .8-.5 .8-.9 .8 .5 .8 .7 .8-1.3 .8 .7 .8 0 .8-.7 .8-.7 .8 .1 .8 .5 .8 .4 .8 .4 .8-1.3 .8 .1 .8 1 .8-.2 .6 .2 .2-.3 0-.4 .3-.4 .3-.5 .2 .3 .2-.4 .3 0 .3-.8 0 1.1 .2-1.1 .2-.6 .3-.3 .1-.8 .2-.5 .2 1.3 .2 .2 .2 1.6 .1 .9 .3-.9 .2-.5 .2 .3 0 1.1 .3 0 .3-.4 .2 .1 .8 0 .8-.4 .8-.4 .2 0 .3-.3 .3 .1 0 1.2 .2 0 .2-.7 .3-1.4 .1 .6 .2-.7 .2-2.8 .2-1.4 .2-.7 .1-.2 .1 .2 .2-.8 .2 1.8 .2 1.3 0 .1 .3 2.9 .3 .3 .2 0 .2-.6 .3 .6 .3 .9 0-.9 .2-.2 .6 1 .8-.4 .8-.8 .2-.3 .3 .3 .3-.6 0 .6 .2 .4 .2-.5 .3-1.3 .1 .1 .2-.4 .2-3 .2-5.2 .2-1.9 .1 .1 .1-.4 .2 .3 .2 2.4 .2 4.4 0-.2 .3 3.4 .3 2 .2 .2 .2-.7 .3 .5 .3 .2 0-.7 .2 .5 .6 0 .8-.2 .8-.1 .2 .6 .3-1.6 .3 .5 0 .8 .2-.6 .2-1.6 .3-.9 .1-2.3 .2-1.9 .2-8.2 .2-10.3 .2-4.1 .1-.9 .1-1.7 .2 1.7 .2 6.8 .2 8.2 0 1.5 .3 7.9 .3 2.5 .2 2 .2 0 .3 1.5 .3-1.2 0 1.1 .2-1.2 .6 1.1 .8-1.1 .8 .6 .2 .4 .3-.6 .3 .1 0-.9 .2 .7 .2-1.5 .3-3.1 .1-2.5 .2-4.4 .2-13.5 .2-16.3 .2-8 .1-3.3 .1 .1 .2 2.3 .2 13.4 .2 12.5 0 3.4 .3 10.6 .3 6.9 .2 1 .2 1.7 .3 .4 .3 .5 0 .2 .2-.1 .6-.3 .8-.2 .6-.8 .2 .2 0-.2 .3 0 .3 .1 .2-1.6 .2-1 .3-3.8 .3-11.2 0-3.4 .2-15.9 .2-21.6 .3-17.3 .1-1.5 .2 4.6 .2 18.7 .2 22 .2 11.1 .1 6 .3 8.3 .2 4 .2 1.5 0-.3 .3 1.4 .3-.6 .2 .7 .8-.2 .8 1.1 .4-.3 .2-.1 .2-.4 .1-.2 .3-1.1 .2-.7 .2-.7 0 .3 .3-2.7 .3-7.7 .2-13.4 .2-17.5 .3-11.7 .1-.8 .2 2.9 0 2.5 .2 11.5 .2 15.9 .3 12.8 .1 2.6 .2 2.5 .2 2.4 .2 2.7 .2-1.1 .1 0 .3 .7 .2-.4 .2 1.5 .8-.8 .8 .7 .2-.2 .2 0 .3-1.3 .1 1.1 .2 .4 .2-.9 .2-2 .2-2 .1-1.7 .3-7 .2-14.2 .2-15.3 0-3.5 .3-12.4 .1-1.5 .2 3.2 .2 14.4 .2 16.8 .3 14.5 .3 6.8 0 .4 .2 2.3 .2 1.5 .3 .4 .1-1.3 .2-.3 .2-.2 .4 1.6 .8-.1 .8-.1 .4-.9 .2-.6 .2 .3 .1 .5 .3-.8 .2 1 .2-.5 0 .1 .3-3 .3-3.8 .2-7.8 .2-9.7 .3-6.8 .1-1.2 .2 1.9 0 .3 .2 7.7 .2 9.1 .3 6.6 .1 1.8 .2 3.2 .2 .5 .2 1.8 .2 .1 .1 0 .3-.8 .2-.5 .2 1.6 .8-.6 .8-.2 .2 .3 .2-.4 .3-.5 .1 1.2 .2-.4 .2-.8 .2 0 .2-.9 .1 .6 .3-1.9 .2-3.6 .2-3 0-.1 .3-1.9 .1-.8 .2-.4 .2 2.9 .2 3.8 .3 3.7 .3 1.6 0 .3 .2 0 .2 .2 .3-.4 .1 .3 .2-.7 .2 0 .4-.2 .8 0 .8 .4 .2 .6 .3-.8 .3 1.2 0-1 .2-.6 .2 .9 .3-.9 .1 .7 .2 .2 .2-.9 .2-1.4 .2-1.2 .1-1.2 .1 .5 .2-.6 .2 1.9 .2 .9 0 0 .3 1.1 .3 .2 .2 1 .2-.6 .3 .9 .3-.5 0-.3 .2-.1 .6 1.1 .8-1.3 .8 .6 .8 .5 .8-.9 .8-.5 .8 .9 .8-.2 .8-.5 .8 .8 .8-1 .8 .4 .8-.3 .8 .3 .8 .5 .8-.6 .8 .6 .8-1.4 .8-.1 .8 .7 .8-.2 .8 .5 .8-1 .8 .8 .8-.1 .8 0 .8-1 .8 .1 .8-.6 .8 .6 .8 .9 .8 .1 .8-.8 .8 .7 .8-.9 .8-.5 .8 .5 .8-.3 .8-.3 .8 1.1 .8-.7 .8 .3 .8-.2 .8-.7 .8-.4 .8 .4 .8 .2 .8 .7 .8 .1 .8-1.1 .8 .5 .8-1 .8-.3 .8 .6 .8 .6 .8 .4 .8-.1 .8-.5 .8-.3 .8-.3 .8-.7 .8 1.1 .8 .7 .8-1.1 .8-.7 .8-.5 .8 .4 .8 .8 .8 .2 .8-1 .8 .4" fill="none" stroke="#c4331d" stroke-width="1.9" stroke-linejoin="round"/>
<path d="M797 720l.8-.5 .8-.2 .8-.2 .8-.7 .2-.5 .3 .5 .3 .3 0 .6 .2-.8 .2 .5 .3-2.5 .1-.3 .2-2.9 .2-4.9 .2-6.3 .2-1.5 .1-1.4 .1-.7 .2 1.5 .2 5.3 .2 4 0 1.7 .3 3.7 .3 2.9 .2 1.4 .2-.4 .3 .4 .3 .3 0-1.1 .2 .9 .6-.7 .8-.1 .1-.1 .3 0 .2 1.2 .2-.7 0 .6 .3-1.3 .3-.7 .2-1.8 .2-2.5 .3-4.4 .3-7.5 0-1 .2-4.6 .1-1 .1 1.3 .3 7.1 .1 2.7 .2 4.5 .2 4.9 .2 1.7 .2 .4 .1 1 .3-.3 .2 .6 .2 .3 0-.5 .3 1.3 .5-1.3 .8 1.2 .2-1.3 .2 1.3 .3-.7 .1-.7 .2 .7 .2 .2 .2-.9 .2-.6 .1-.3 .3-3.3 .2-5 .2-4.1 0-1.5 .3-3.6 .1-.9 .2 1.3 .2 4.6 .2 5.3 .3 4.5 .3 2.7 0 .3 .2 1.1 .2 .4 .3 .2 .1-.8 .2 1 .2 .4 .4-1 .8 .8 .3-.6 .3-.6 .2-.6 .2 .9 .3 .1 .3-.4 0-.6 .2-1.8 .2-3.3 .3-4.1 .1-2.1 .2-3.1 .2-4.6 .1-.9 .1 1.6 .2 1.1 .1 3.7 .3 5.9 .2 4.4 .2 2.4 0-.1 .3 1.2 .3 1.1 .2 0 .2 .4 .3-.6 .3-.8 .8 .4 .4 .5 .2-.7 .2 .4 .1 .2 .3-.6 .2-1 .2 .7 0-.6 .3-.2 .3-4.6 .2-4.6 .2-6.8 .3-4.3 .1-.4 .2 1.2 0 .6 .2 4.5 .2 6.9 .3 5 .1 .9 .2 1 .2 .6 .2 .7 .2 .4 .1 .8 .3-.9 .2 1 .2 .1 .8-.8 .5 .3 .3 .7 0 0 .2-.3 .2-.9 .3-.4 .1-.2 .2-.6 .2-1.2 .2-2.7 .2-3.2 .1-3.6 .3-7.1 .2-5.3 .1-1.4 .1 .5 0 .7 .3 5.8 .3 8.5 .2 5.7 .2 2.5 .3 2.2 .3-.3 0-.6 .2 .4 .2 .1 .3-.4 .1 .3 .8 .7 .6 .1 .2-1 0 .7 .3 .1 .3-1 .2-.1 .2 .4 .3-1 .3-2.9 0-1.8 .2-3.7 .2-7.2 .3-4.6 .1-1.2 .2 1 .2 5.1 .2 6.5 .2 4.3 .1 .9 .3 3.4 .2 .9 .2 .1 0 .2 .3 1 .3-.2 .2-.3 .8 .2 .7 0 .1-1 .2 0 .2 1.2 .2 .2 .2-.2 .1 .3 .3-.8 .2-1.5 .2-1.8 0-2 .3-5 .3-5.8 .2-5.5 .1 .2 .1 .1 .3 4.9 .3 6.9 0 1.9 .2 4 .2 2 .3 1.3 .1-.2 .2-.1 .2-.2 .2 .3 .2 1.2 .1-.3 .7-.4 .8 0 .2 0 .3 .2 .3-.5 0-.2 .2-.8 .2-.2 .3-2.2 .1-2.5 .2-5.4 .2-11 .2-13.2 .2-7.6 .1-1.8 .1-2.1 .2 3.4 .2 11.3 .2 10.8 0 2.5 .3 10.8 .3 4.8 .2 2.8 .2 1.1 .3-1.2 .3 1.2 0-.4 .2 .5 .6-1.1 .8 .9 .1-.4 .3 .2 .2-.6 .2-.9 0 .6 .3 .5 .3-2 .2-3.8 .2-7.1 .3-14.2 .3-18.1 0-2.7 .2-9.2 .1-.1 .1 2.8 .3 13.8 .1 6.7 .2 9.6 .2 12.8 .2 7.4 .2 1.4 .1 1.3 .3 .2 .2 .3 .2 1.4 0-.9 .3-.1 .5 .4 .8 .6 .4 .4 .2-1.2 .2 .9 .1-.7 .3-1 .2-.9 .2-.9 0 0 .3-3.6 .3-8 .2-14.6 .2-18.3 .3-13 .1-1.9 .2 2.8 0 2.4 .2 13.3 .2 17.5 .3 13.9 .1 2.8 .2 4.7 .2 3.7 .2 1.3 .2-.5 .1 0 .3 .5 .2-.8 .2 1 .8-.8 .5 .5 .3-.8 0 .2 .2 .4 .2-1.8 .3 0 .1-1.4 .2-1.2 .2-6.9 .2-14.8 .2-15.2 .1-11.1 .3-32.6 .2-24.2 .1-1.9 .1 3.1 0 2.2 .3 26.2 .3 32.2 .2 24.9 .2 14 .3 5.7 .3 1 0 .4 .2-.6 .2 .5 .3 1.3 .1 .5 .8-.1 .4-.9 .2 .1 .2-.5 .1-.5 .3 .6 .2 0 .2-1.4 0-1.1 .3-3 .3-9.2 .2-17.7 .2-21.9 .3-14.6 .1-1.1 .2 2.7 0 3.7 .2 13.4 .2 22.3 .3 15.5 .1 2.9 .2 5.4 .2 2.7 .2 .9 .2 1.5 .1-1.1 .3 .7 .2 0 .2 .2 .8 .3 .5-.4 .3-.1 0 .8 .2-.9 .2 .7 .3-.7 .1 .5 .2-.4 .2-3.7 .2-4.7 .2-6.1 .1-3.5 .3-11.8 .2-8.1 .1-2.2 .1 .7 0 2.3 .3 8.7 .3 12.3 .2 8.1 .2 4.5 .3 3.5 .3 .4 0-.2 .2 .6 .2-.9 .3-.1 .1 .7 .8 .9 .6-.5 .2 .6 0-1.4 .3 .4 .3 0 .2-.4 .2-.2 .3-2.4 .3-3.8 0-2.8 .2-7.5 .2-10.2 .3-6.5 .1-.3 .2 .9 .2 9 .2 9.6 .2 4.6 .1 3.3 .3 4.3 .2 1.5 .2 0 0-.2 .3 1.2 .3 .6 .2-.1 .8 .6 .7-1.4 .1 .7 .2 .5 .2-.9 .2-.9 .2 .1 .1 .6 .3-1 .2 .9 .2-.8 0-1.5 .3-1.9 .3-3.7 .2-2.8 .1-.2 .1 .3 .3 2.9 .3 3.6 0 .5 .2 1 .2 1.3 .3 2.1 .1-.3 .2-.2 .2-.6 .2-.1 .2 1.3 .1-.1 .7-.2 .8-1.1 .2 .4 .3-.2 .3-.1 0-.7 .2 .6 .2-1.3 .3-1.4 .1-.8 .2-3 .2-7.6 .2-10.1 .2-3.7 .1-2.9 .1-.4 .2 1.4 .2 7.2 .2 7.4 0 2.6 .3 6.6 .3 4 .2 1.9 .2 .8 .3-.5 .3-.4 0-.1 .2 .5 .6-.1 .8 .7 .1-.8 .3 1.3 .2-.9 .2-.2 0-.5 .3 1.3 .3-1.3 .2-.2 .2-1.7 .3-2.1 .3-2.5 0-.3 .2-2.3 .1 0 .1-.4 .3 3.7 .1 .7 .2 2.1 .2 1.4 .2 2.3 .2 1 .1 .3 .3-1.2 .2-.6 .2 .7 0-.4 .3-.4 .5-.1 .8 1.4 .2 .7 .2-.1 .3-1.7 .1 .8 .2-.3 .2-.9 .2-.6 .2-.3 .1-.3 .3-2.4 .2-6.2 .2-6.6 0-1 .3-5.2 .1-1 .2 2.7 .2 4.8 .2 6.7 .3 5.5 .3 3.5 0-.3 .2 1.8 .2 .4 .3-1 .1 .3 .2 .3 .2-.7 .4 .9 .8 .3 .3 .4 .3-1 .2-.5 .2 1 .3-1.1 .3-.1 0-.4 .2-1.5 .2-1.8 .3-4 .1-1.6 .2-3.5 .2-3 .1-1 .1 1.1 .2 1 .1 1.9 .3 6.4 .2 4.1 .2 .5 0 0 .3 1.7 .3 1.3 .2-1.1 .2 .9 .3 .5 .3-.6 .8-.2 .4-.8 .2 .8 .2 .6 .1-1 .3 .6 .2-1.2 .2 1.2 0-1.4 .3-1.3 .3-1.8 .2-4 .2-4.6 .3-4.2 .1 0 .2 .4 0 1.7 .2 3.6 .2 4.8 .3 2.8 .1 .6 .2 2.1 .2 1.2 .2-.9 .2 .1 .1 .7 .3-.1 .2 .5 .2 .2 .8-.6 .5 .5 .3 .4 0-.6 .2-.5 .2-.1 .3 .3 .1 .6 .2-1.3 .2-1 .2-1.5 .2-2.9 .1-2 .3-3.9 .2-2.9 .1-1.5 .1 1.6 0 .7 .3 3 .3 5.1 .2 2.7 .2 2.3 .3 1.1 .3-1.1 0 1.1 .2-.3 .2 .7 .3-1.1 .1 .4 .8 0 .6-.2 .2 .1 0-.7 .3 1.3 .3-.1 .2-.2 .2-.7 .3-.5 .3-1.8 0-.1 .2-4 .2-4.3 .3-2.7 .1-.9 .2 .8 .2 3.9 .2 4.9 .2 1.7 .1 1.5 .3 .5 .2 1.8 .2-.9 0 .7 .3 .5 .3-.4 .2-.8 .8 1.1 .7-.6 .1 0 .2 .2 .2 .7 .2-.1 .2-.4 .1-.5 .3-.4 .2-1.5 .2-.2 0-1.6 .3-4.2 .3-4.8 .2-3.3 .1 1 .1 .1 .3 3.1 .3 5.6 0 1.7 .2 1.1 .2 2.3 .3 1.4 .1-.2 .2 .6 .2-1.1 .2 1.2 .2-.9 .1-.4 .7 .1 .8-.4 .2 1.3 .3-.4 .3-.9 0 .1 .2 .1 .2 .9 .3-1.1 .1-.6 .2-.9 .2-3.2 .2-4.6 .2-.8 .1-.8 .1-1.3 .2 .1 .2 3.7 .2 4.1 0 .3 .3 2.4 .3 1.4 .2-.1 .2 .7 .3 1.3 .3-1.1 0-.6 .2 1.1 .6 .6 .8-1.4 .1 .5 .3-.9 .2 1.1 .2 .4 0-.4 .3-.5 .3 .4 .2-1 .2-1.5 .3-2.2 .3-3.4 0-1.2 .2-2.6 .1 1 .1 .6 .3 2 .1 2.3 .2 .7 .2 2.9 .2 1.6 .2-.5 .1 1.3 .3 .3 .2 .2 .2 .5 0 .2 .3-.7 .5-.6 .8 .2 .2-.2 .2-.6 .3 .4 .1 .2 .2 .7 .2-.6 .2-1 .2 .1 .1-.9 .3-.6 .2-2.4 .2-2.1 0 1.1 .3-2.7 .1 .5 .2 1 .2 1.1 .2 2 .3 1.5 .3 1.2 0 1.3 .2 .6 .2 .4 .3-.7 .1 .4 .2-.7 .2 .2 .4-.6 .8-.2 .3 .6 .3-.5 .2 0 .2-.2 .3-.1 .3-.3 0 .6 .2 .1 .2-1.7 .3-1.7 .1-.7 .2-.9 .2-1.7 .1-.9 .1 1.3 .2-.3 .1 1.7 .3 2.7 .2 1.9 .2 .3 0-.5 .3 1 .3-.7 .2 .4 .2 .3 .3-.8 .3 .3 .8 .4 .4-.2 .2-.9 .2 1.5 .1-.9 .3 .8 .2-.6 .2-.5 0-.7 .3 .7 .3-2.3 .2-.7 .2-2.4 .3-1.9 .1-.4 .2-1 0 1.2 .2 2.5 .2 1.9 .3 2.5 .1 .5 .2 .7 .2-.9 .2 .2 .2-.5 .1 1.6 .3-.8 .2 .9 .2 .5 .8 0 .5-.2 .3-.7 0 .7 .2 .3 .2-.4 .3-1.5 .1 1.3 .2-1 .2-.9 .2 0 .2-1.4 .1 0 .3-3.4 .2-.4 .1-.3 .1-.3 0-.4 .3 1.4 .3 3.4 .2 1.9 .2 .4 .3 .7 .3 0 0-1.2 .2-.1 .2 .8 .3 0 .1-.8 .8 1.2 .6-.4 .2-.7 0 .5 .3 .4 .3-.5 .2 .7 .2-.3 .3 .3 .3-1.3 0-1.4 .2-.5 .2-1.3 .3-2.3 .1-.7 .2 1.5 .2 .5 .2 1.5 .2 1.3 .1 1.6 .3 .1 .2 1.3 .2-1.2 0 .8 .3-1 .3 .8 .2 0 .8 1 .7-.6 .1 0 .2-.8 .2-.1 .2 .9 .2-1.2 .1 .7 .3 .1 .2-.1 .2-.3 0-1.4 .3-2.3 .3-1.4 .2-1.2 .1 .5 .1 .4 .3 1.4 .3 .9 0 .6 .2 1.4 .2 1.3 .3-.1 .1-.4 .2 0 .2-.4 .2 1.1 .2 .6 .1-.6 .7 .1 .8-1 .2 .5 .3 0 .3 .3 0 .5 .2-1.1 .2-.2 .3-.3 .1-.1 .2-.9 .2 0 .2-2.3 .2 .3 .1-.2 .1-1.1 .2-.1 .2 .6 .2 2.3 0-.1 .3 1.2 .3 1.1 .2 .6 .2-.4 .3 .1 .3 .8 0-.7 .2-.5 .6 .3 .8 .7 .1-.1 .3-.7 .2 .2 .2-.8 0 .1 .3 .6 .3 .1 .2 .5 .2-.6 .3-2.5 .3-1.1 0-.8 .2-.7 .1 .8 .1 0 .3 .4 .1 1.3 .2 1 .2 0 .2 1.6 .2-.7 .1 .1 .3 1.1 .2-.4 .2 .7 0-.9 .3 .1 .5-.7 .8-.1 .2 0 .2-.1 .3-.1 .1 1.4 .2-.3 .2 .7 .2 .2 .2-.7 .1-1 .3-1.2 .2-1.3 .2 .2 0-.9 .3-.3 .1-.8 .2 .6 .2 .5 .2 1.4 .3 1.8 .3-.1 0-.5 .2 1.1 .2 1 .3-.9 .1 1.1 .2 .1 .2 .1 .4-1.7 .8 1.2 .3-.1 .3 .4 .2-1.4 .2 .1 .3 .1 .3 .7 0 .4 .2-1.1 .2-1.3 .3 .1 .1-1.6 .2-.9 .2-.6 .1 .8 .1-.6 .2 .3 .1 1 .3 1.1 .2 1.8 .2-.7 0 1.2 .3 .4 .3-.5 .2-.4 .2 .5 .3-.9 .3 1.2 .8-.3 .4 .3 .2-.1 .2-.9 .1 .7 .3 .1 .2 .1 .2-.4 0-.2 .3 .5 .3-2 .2-.1 .2-.4 .3-2.2 .1 1.1 .2-.7 0 .2 .2 1.6 .2 .4 .3-.1 .1 .9 .2 .4 .2 .5 .2 .3 .2-1.3 .1 1.5 .3-1.3 .2 .3 .2 .1 .8-.6 .5 .4 .3 0 0-.5 .2 .3 .2 .7 .3 .2 .1 .1 .2 .4 .2-1.1 .2-1.1 .2-.2 .1 .1 .3-.8 .2 .1 .1-.6 .1-.2 0 .7 .3 .4 .3 .1 .2 .1 .2 1.3 .3-.1 .3 .3 0 .1 .2 .5 .2 .4 .3-1.1 .1-.8 .8 .7 .6 0 .2 .2 0 .7 .3-.4 .3-.4 .2-.9 .2 0 .3 .1 .3 .8 0 .1 .2-.7 .2-.4 .3-.9 .1-.3 .2-.3 .2 .1 .2 2 .2-.2 .1-.6 .3 .7 .2 1 .2-.1 0 .5 .3-.2 .3-.7 .2 .8 .8-.8 .7 .3 .1 0 .2 .5 .2-.5 .2-.9 .2 .6 .1-.7 .3 .9 .2-.3 .2-1.2 0 1.2 .3-1.3 .3-.6 .2-.8 .1 .5 .1-.3 .3 1.1 .3 .9 0-1.2 .2 1.2 .2 .1 .3-.3 .1 .4 .2 .1 .2-1 .2 1.1 .2-1 .1 .9 .7 .2 .8-.3 .8-.4 .8-.6 .8-.1 .8 0 .8-.3 .8 1.6 .8-.9 .8 .8 .8 0 .8-.8 .8 .1 .8-.8 .8 1.1 .8 .1 .8-1 .8 .1 .8 1.2 .8-.2 .8-1.2 .8 .7 .8 .1 .8 .5 .8-1.4 .8 .5 .8 .6 .8 .4 .8-1.5 .8 .6 .8-.5 .8-.6 .8 1.1 .8-.2 .8 .5 .8-.6 .8-.1 .8-.4 .8 .5 .8 .5 .8-1.2 .8-.5 .8 0 .8-.3 .8 1 .8-.1 .8-.3 .8-.7 .8 1.3 .8-.8 .8 .4 .8 .1 .8-.2 .8 0 .8 0 .8-.8 .8-.1 .8-.1 .8 .9 .8-.8 .8 .4 .8 .5 .8-.9 .8 .7 .8-.7 .8 .6 .8-.1 .8 0 .8-.8 .8-.5 .8 1.3 .8-.5 .8-1.1 .8-.3 .8-.1 .8 .5 .8 .9 .8 0 .8-.3 .8-.9 .8 .5 .8-.5 .8-.1 .8 1.1 .8-.6 .8-.4 .8 .4 .8-.8 .8 .8 .8-1.1 .8 1.3 .8 .5 .8-.3 .8-.5 .8-1.1 .8 1.3 .8-.9 .8 .4 .8-.3 .8-1 .8 1.1 .8-.6 .8 .9 .8-1 .8-.8 .8 .8 .8-.2 .8-.6 .8 1.1 .8-1.2 .8 .9 .8-.3 .8 .5 .8 .3 .8-.2 .8 .1 .8 0 .8-.5 .8-1.2 .8 1.2 .8 .1 .8 .4 .8-.7 .8 .5 .8-.9 .8 0 .8 .5 .8-.2 .8-1.5 .8 1.4 .8-.8 .8-.9 .8 .6 .8-.1 .8 .1 .8-.4 .8 .7 .8-.5 .8 .1 .8 0 .8-.5 .8 .1 .8-.2 .8-.4 .8 .6 .8 .9 .8-1.1 .8 .2 .8-.2 .8-.8 .8 .4 .8 .8 .8-1 .8-.6 .8-.2 .8 .3 .8 .8 .8-.7 .8-.4 .8 .5 .8 .4 .8 .7 .8-.6 .8-1.1 .8-.5 .8 .6 .8 .8 .8-1 .8 .1 .8 .8 .8-1.2 .8 1.1 .8 .5 .8-.8 .8-.9 .8 .2 .8-.4 .8 1.1 .8-1.2 .8 1.2 .8-.1 .8-.2 .8-1.2 .8 .6 .8-.4 .8-.4 .8 .5 .8-.6 .8 1.3 .8 .5 .8-1 .8-1.1 .8 .2 .8 .9 .8-1.2 .8 1.2 .8-.1 .8 .5 .8 .1 .8-1 .8 .6 .8-1.3 .8 1 .8-.5 .8 .2 .8 0 .8-1.2 .8 1.3 .8-1 .8 1 .8-.4 .8-.9 .8 0 .8-.6 .8 .6 .8 .9 .8-.9 .8-.7 .8-.3 .8 .9 .8 .3 .8-1.2 .8 1.4 .8-.2 .8 .4 .8-1.3 .8-.8 .8 1.5 .8-.8 .8 .2 .8-.8 .8-.4 .8 1.4 .8-.9 .8-.6 .8 1.1 .8 .2 .8 .1 .8-.5 .8-.9 .8-.4 .8 .1 .8 .8 .8 .2 .8 0 .8 .4 .8-1.4 .8-.2 .8 .3 .8-.5 .8 .8 .8-.2 .8 .8 .8-.4 .8-1 .8 .9 .8 .2 .8-.5 .8 .3 .8-.8 .8 .1 .8 0 .8 0 .8 .5 .8-1.4 .8 .2 .8 .3 .8 1 .8-1.4 .8-.1 .8 1.1 .8-.3 .8-.3 .8-.8 .8 .1 .8-.2 .8 .6 .8-.7 .8 1.2 .8-1.3 .8 .8 .8-.8 .8 1.1 .8 .1 .8-.8 .8 .1 .8 .4 .8 .2 .8-1.2 .8 .2 .8 .6 .8-.2 .8-.6 .8-.8 .8 .5 .8 .9 .8-.8 .8-.5 .8-.6 .8 1.5 .8-1.2 .8 .7 .8 .5 .8-.6 .8 .5 .8-1.6 .8 .8 .8-.6 .8 1 .8 .1 .8-1.6 .8-.2 .8 0 .8 .9 .8-.7 .8 .4 .8-.7 .8 1 .8 .2 .8-.5 .8-1.1 .8 .6 .8-.1 .8 0 .8-.7 .8-.2 .8 0 .8 0 .8 .2 .8 .1 .8 .8 .8-.2 .8-.6 .8 .1 .8 0 .8-.2 .8-.6 .8 .9 .8 .7 .8-.6 .8-1.2 .8 .5 .8 .1 .8-.7 .8 .9 .8-.4 .8 .4 .8-.1 .8 .1 .8-.8 .8 .2 .8-.1 .8 .9 .8 .1 .8-1.4 .8 0 .8-.7 .8 1.3 .8-.6 .8-.5 .8-.6 .8-.3 .8 0 .8 1 .8-.7 .8 .6 .8 .6 .8-.3 .8-1.1 .8 1.3 .8-.5 .8 .2 .8-.4 .8 .2 .8-.3 .8-.4 .8-.4 .8 1.3 .8 .2 .8-1.1 .8-.1 .8-.2 .8 .9 .8-.4 .8 .7 .8-1.1 .8 .4 .8-.3 .8 .2 .8-.5 .8-.3 .8-.7 .8 1.4 .8 .1 .8-.7 .8 .4 .8 0 .8-.6 .8-.1 .8-.9 .8 .2 .8-.6 .8-.1 .8 .4 .8 .3 .8 .2 .8-.1 .8-.2 .8 .4 .8 0 .8-.5 .8 .2 .8 0" fill="none" stroke="#e6a81e" stroke-width="1.9" stroke-linejoin="round"/>
<path d="M797 762.8l.8 1.5 .8-1 .8 1.2 .8 .3 .8-1.3 .8 .1 .8-.2 .8 0 .8 .7 .8 .3 .8-1 .8 .2 .8 .3 .8 0 .8-1 .8 .3 .8 .2 .8 .9 .8 .1 .8-.3 .8-.8 .8 1 .8-1.1 .8-.1 .8-.4 .8 .7 .8 .6 .8 0 .8 .2 .8-.1 .8-.2 .8-.8 .8 1.1 .8 .4 .8-.4 .8 .4 .8-.1 .8-.1 .8-.2 .8 0 .8-.2 .8-1.2 .8 1 .8-.6 .8 .4 .8 .5 .8-.6 .8-.6 .8 .4 .8 .7 .8 .1 .8 .4 .8-.1 .8-.2 .8-.7 .8-.8 .8 1.2 .8-1.4 .8 1.3 .8-.1 .8-.9 .8-.4 .8 .9 .8-.9 .8 .4 .8-.6 .8-.1 .8 .2 .2 .8 .2-1 .3 1.3 .1-.1 .2-.7 .2 .5 .2-1.3 .2-.3 .1 .2 .3-.9 .2-2.9 .2-4.1 0 .6 .3-3.6 .1-.5 .2 1.2 .2 2.1 .2 4 .3 2.4 .3 1.7 0 .1 .2 .5 .2 .1 .3 .3 .1 .5 .2-.4 .2 .2 .4-.4 .8 .1 .8-.6 .8 .6 .8 .2 .8-.6 .8 .1 .8 .5 .8 0 .8 .2 .2-.6 .2 .8 .3-1 .1 1.1 .2-.7 .2-.5 .2-.2 .2 .8 .1-.5 .3-1.2 .2-2.6 .2-3.8 0-.3 .3-3.8 .1 .8 .2-.2 .2 2.8 .2 4.1 .3 2.5 .3 1.4 0-.2 .2 .4 .2 1.2 .3-1.3 .1-.5 .2 1.1 .2-.7 .4 .1 .8 .1 .8-.4 .8 .5 .8 1.3 .8 .2 .8-1.5 .8 1.3 .8 .2 .8 0 .4-1.3 .2-.2 .2-.3 .1 1 .3 .2 .2-.8 .2 .9 0-.2 .3-.5 .3-1.6 .2-1.2 .2-2.7 .3-1.3 .1 .2 .2-1.2 0-.2 .2 1.8 .2 3.7 .3 .9 .1 .4 .2 .7 .2 .5 .2-.1 .2 .7 .1-.5 .3 .5 .2-1.1 .2 .9 .8-.3 .2 0 .2-.8 .3 1.2 .1-1 .2 .8 .2-.3 .2-1.3 .2 1.2 .1-.3 .3-2.8 .2-3 .2-1.4 0-1.2 .3-2.4 .1-.5 .2-.3 .2 2.7 .2 3.7 .3 2.4 .3 1.9 0 .2 .2 1.2 .2-1 .3 .9 .1-.5 .2 .6 .2-.4 .4-.6 .8 1.1 .8-.9 .8 1.1 .8-.6 .8-.6 .8 .7 .8 .4 .8 .6 .8-1.3 .7-.8 .1 1.4 .2-.9 .2 .4 .2-.2 .2 .6 .1-.6 .3-.6 .2-3.5 .2-3.2 0-1.8 .3-9.4 .3-12.2 .2-9.5 .1-.7 .1 2.5 .3 9.1 .3 12.1 0 2 .2 7.1 .2 5.7 .3 2.3 .1-.1 .2 .3 .2 .7 .2 .2 .2-.5 .1-1.2 .7 .4 .8 0 .8 .7 .8-.3 .8-.6 .8 .8 .8-.2 .8-.1 .8 .6 .8-.2 .2-1.5 .3 .1 .3 .1 0-.9 .2-.6 .2-1.1 .3-4.9 .1-4.3 .2-9.3 .2-22.2 .2-27.3 .2-15.2 .1-6.3 .1-1.1 .2 5.4 .2 22.8 .2 21.2 0 5 .3 21.3 .3 10.5 .2 3.9 .2 2 .3 1 .3-.2 0 .7 .2 .1 .6 .1 .8-.2 .8 1.3 .8-1.4 .8 .1 .8 .1 .8 .3 .8-.5 .8 1 .8-1.3 .1 .7 .3-.4 .2 0 .2-.1 0-.8 .3-1.8 .3-1.8 .2-6.9 .2-14.7 .3-25.7 .3-31.9 0-4.4 .2-16.4 .1-3.2 .1 4.5 .3 25.7 .1 13.6 .2 19 .2 24.5 .2 11.8 .2 3.8 .1 1.6 .3 1.1 .2 .5 .2 .3 0 .3 .3 .8 .5 .1 .8 1.1 .8-.1 .8-.8 .8 0 .8 1 .8-1.3 .8 .3 .8 .2 .8-.7 .4 .8 .2 .5 .2-1.1 .1-.2 .3-.6 .2 .3 .2-2.2 0 .2 .3-4.5 .3-8.1 .2-16.1 .2-20.2 .3-13.8 .1-2.4 .2 4.4 0 2.6 .2 12.8 .2 20.2 .3 14.8 .1 4.6 .2 3.7 .2 2.8 .2 .5 .2 .3 .1 .6 .3-.7 .2 .6 .2 .2 .8 .9 .8 .3 .8-1 .8 .1 .8 1.1 .8-1.2 .8 .3 .8-.5 .8 .2 .7 1.3 .1-.6 .2 .7 .2-1.4 .2 .5 .2 0 .1-.6 .3 .5 .2-1.9 .2-1.1 0-.4 .3-5 .3-4.4 .2-4 .1 .8 .1 1.1 .3 3 .3 5.9 0 .1 .2 2.7 .2 2.2 .3 1.1 .1 0 .2 .8 .2-.9 .2 .8 .2-1.2 .1 .3 .7-.5 .8 0 .8 1.5 .8-1 .8 1 .8-.1 .8-.5 .8 0 .8 0 .8-.4 .1-.1 .3 .6 .2 .1 .2-.9 0 0 .3 .4 .3 .6 .2-1.6 .2 0 .3-1.5 .3-2.3 0-1.4 .2-1 .1 .8 .1 .4 .3 .7 .1 1.4 .2 .9 .2 2.3 .2-.4 .2 .3 .1 0 .3 1 .2 .5 .2 .5 0-.9 .3 0 .5 .7 .8 .3 .8-.6 .8-.9 .8 .3 .8 .3 .8 .4 .8-1.1 .8 .7 .8 .2 .8-.8 .8-.3 .8 1.3 .8-.8 .8 0 .8-.5 .8-.5 .8 .8 .8 .5 .8-.6 .8 0 .8 .8 .8-.5 .8-.2 .8-.3 .8 .5 .8 .9 .8-1.1 .8 0 .8-.4 .8-.3 .8 .3 .8 .4 .8 .2 .8 .1 .8 .2 .8-.9 .8-.3 .8 0 .8-.2 .8 .1 .8-.1 .8 1.3 .8-.3 .8 .5 .8 .1 .8-.5 .8 .7 .8-.6 .8-.6 .8 .8 .8-.7 .8 0 .8 .4 .8-.1 .8-.7 .8-.2 .8 1.4 .8-.2 .8 .4 .8-1.5 .8-.4 .8 1 .8 .5 .8 .2 .8-1.1 .8 1 .8-1.1 .8-.1 .8 .3 .8 0 .8 .1 .8-.5 .8 .2 .8 .5 .8 .9 .8-1.2 .8 .2 .8-.9 .8 1.1 .8 .3 .8-.6 .8 .7 .8-.9 .8-.1 .8 .5 .8 .6 .8-.7 .8-.8 .8 1.3 .8-.9 .8-.1 .8 .5 .8-.4 .8 .5 .8-.6 .8-.3 .8 .3 .8-.5 .8-.3 .8 1.1 .8-.5 .8 .7 .8-.4 .8-.4 .8-.2 .8 .4 .8 1.1 .8-.2 .8-1 .8 .5 .8 .2 .8-.9 .8 .8 .8-.3 .8 .9 .8-.2 .8-1 .8-.6 .8 1.2 .8-.1 .8-.4 .8-.6 .8 1.4 .8 .4 .8-1.4 .8 .4 .2-.4 .2 .8 .3-.2 .1 .4 .2 0 .2 .3 .2-.8 .2-.8 .1-.1 .3-2 .2-2 .2-1.8 0-.1 .3-2.1 .1 1.2 .2-.2 .2 1.2 .2 2.3 .3 3 .3 .2 0 .4 .2 .5 .2-.7 .3 .3 .1 .8 .2-1.1 .2 .3 .4 .7 .8 0 .8 .2 .8-.5 .8-.1 .8 1 .8-.6 .8 .4 .8 .1 .8-.1 .8-.7 .6-.1 .2 .5 0-.8 .3 .4 .3-.1 .2 .1 .2 .5 .3-.8 .3-.8 0-.1 .2-2.8 .2-2.9 .3-.8 .1 .6 .2 .2 .2 2.2 .2 1.9 .2 1.2 .1-.7 .3 1.9 .2-.7 .2-.2 0 .7 .3 1.2 .3 .4 .2-1.7 .8 1.3 .8-1 .8-.7 .8 0 .8 1.6 .8-1 .8 1.1 .8 .1 .8-.7 .8-.6 .8-.2 .8 1.3 .8-.7 .8 .4 .8-.9 .8-.5 .8 .6 .8 .2 .8-.5 .8 .2 .8-.7 .8 1.2 .8-.5 .8-.5 .8 .8 .8-.2 .8 .7 .8-.4 .8 .4 .8-1.4 .8-.7 .8 .8 .8-.3 .8-.7 .8 .1 .8-.4 .8 .4 .8 .7 .8-.5 .8-.5 .8 1.3 .8-.5 .8 .4 .8-.7 .8-.2 .8-.5 .8 0 .8 1.1 .8-.5 .8-1 .8 .8 .8 .3 .8-1 .8-.5 .8 1 .8-.6 .8 .8 .8 .2 .8-1.2 .8-.7 .8 .6 .8-.7 .8 .7 .8 .5 .8-.6 .8-.3 .8-.5 .8 1.3 .8 .2 .8-.2 .8-.3 .8 .3 .8-1.5 .8-.2 .8 .6 .8-.4 .8-.4 .8 .1 .8 .4 .8 .4 .8 .4 .8 .2 .8 .1 .8-.5 .8-1.5 .8 .9 .8 .5 .8-1.3 .8 .9 .8 .2 .8-.8 .8-1 .8 .5 .8 0 .8-.6 .8 1.3 .8 .1 .8-.3 .8-.6 .8 .5 .8-.9 .8 .2 .8-.9 .8 1.1 .8-.7 .8-.2 .8 .9 .8 .1 .8-.5 .8-.7 .8 .3 .8-.6 .8 1.1 .8-.9 .8 .8 .8-.6 .8-.4 .8 .5 .8-.9 .8-.1 .8-.1 .8 1.3 .8-.7 .8-1 .8 .9 .8-1.1 .8 0 .8 1.1 .8 .4 .8-.3 .8-.8 .8-.8 .8 .1 .8-.3 .8-.1 .8 1 .8 .1 .8-.9 .8 0 .8 .6 .8 .5 .8-.8 .8-.7 .8-.2 .8 .9 .8 .3 .8 .4 .8 0 .8-.8 .8-.9 .8 .3 .8 .8 .8 .4 .8-1 .8-.5 .8 1 .8-.4 .8-1.2 .8 1 .8-1 .8 .9 .8 .1 .8 .3 .8-.6 .8-1 .8-.6 .8-.2 .8 .6 .8 .6 .8 0 .8-.8 .8 1.1 .8-1.3 .8 .3 .8 .8 .8-.5 .8-.6 .8 .1 .8 .3 .8-.1 .8-.1 .8-.3 .8 .2 .8 .2 .8 .2 .8-1 .8 .3 .8-.3 .8-.4 .8-.5 .8-.3 .8 .1 .8 1.5 .8 .5 .8-.6 .8-.4 .8-.2 .8 .2 .8-.6 .8 .7 .8-1.1 .8 .6 .8-.2 .8 .3 .8-.9 .8 .2 .8-.4 .8 .6 .8 0 .8 .7 .8-.3 .8-1.3 .8-.2 .8 .9 .8 .5 .8-.4 .8 .1 .8-.7 .8-.1 .8 .7 .8-1.1 .8 .2 .8 0 .8 .6 .8-.2 .8 .8 .8-.3 .8-1.2 .8 1.1 .8-.6 .8-.1 .8-.9 .8 1.4 .8-.1 .8-.1 .8-1 .8 .4 .8-.3 .8 1 .8 .3 .8-1.3 .8 0 .8 1 .8 .1 .8-1.4 .8 .9 .8-.6 .8 .2 .8-1 .8 1.5 .8 .1 .8-1.4 .8 .2 .8 .6 .8-.4 .8 .7 .8 0 .8-.9 .8 .8 .8-.7 .8 .6 .8 .2 .8 .2 .8 0 .8-.1 .8-1.4 .8 .8 .8-.4 .8 .4 .8-.8 .8 .7 .8 0 .8-.2 .8-.2 .8 .5 .8-1.5 .8 0 .8-.5 .8 .7 .8-.4 .8 .5 .8 .8 .8-.4 .8-.3 .8-.1 .8 .6 .8 .3 .8-1.1 .8 .3 .8-.8 .8-.3 .8 .1 .8 1.2 .8 .4 .8-1.4 .8 .6 .8-.2 .8-1 .8-.4 .8 .2 .8 .6 .8 .7 .8-1 .8-.1 .8-.3 .8-.3 .8 1 .8 .6 .8-.2 .8 .6 .8-1.1 .8-.7 .8 1.2 .8-.2 .8-.4 .8 .5 .8-.5 .8 .2 .8-.9 .8 .4 .8 .7 .8-.6 .8-.6 .8 1 .8 0 .8-.5 .8-1 .8 .6 .8 .3 .8 0 .8-.2 .8-.2 .8-.1 .8-.6 .8-.2 .8 .8 .8-1 .8-.2 .8 1.1 .8-.9 .8 .6 .8 .8 .8-.5 .8-1 .8 1.4 .8 .4 .8-1.2 .8 0 .8 .6 .8-.2 .8-1 .8 .7 .8-1 .8 1.1 .8-.2 .8-.3 .8-.2 .8-.8 .8 .3 .8 0 .8 .8 .8-.4 .8-.8 .8 1.3 .8 .6 .8 .2 .8-1.8 .8-.3 .8 .5 .8-.6 .8-.2 .8 .7 .8-.5 .8 1.2 .8-1.3 .8 .2 .8 .8" fill="none" stroke="#55236a" stroke-width="1.9" stroke-linejoin="round"/>
<path d="M797 784.3l.8 .3 .8 1 .8-.5 .8-.6 .8 .6 .8-.4 .8 .3 .8-.5 .8 .8 .8-1.1 .8 .1 .8 1.3 .8-1.3 .8 .2 .8-.3 .8 .3 .8 .4 .8 .9 .8 .2 .8-1.1 .8 .5 .8-.5 .8-.8 .8 .1 .8 .1 .8 .2 .8 1.2 .8 0 .8-1.4 .8 .5 .8-.4 .8-.2 .8 1.2 .8-1.2 .8 .9 .8 .5 .8-1.5 .8 .1 .8 1 .8-1.2 .8 .3 .8-.2 .8 1.2 .8 .2 .8 0 .8-1 .8-.6 .8 1.4 .8-.9 .8-.3 .8-.4 .8 1.3 .8-.3 .8-.6 .8-.5 .8 .7 .8-.6 .8-.3 .8 .9 .8 .4 .8 0 .8 .8 .8-1.5 .8-.4 .8 0 .8 .9 .8 .4 .8-.7 .8 .4 .8-.8 .8-.2 .8 .3 .8-.2 .8 .2 .8 .1 .8 .2 .8 .9 .8 .1 .8 .1 .8-1.2 .8 .9 .8-.6 .8 .9 .8-.3 .8 0 .8-.2 .8-1.1 .8 .2 .8-.2 .8 .1 .8 1 .8-.4 .8-.6 .8 1 .8-.6 .8-.6 .8 .4 .8 0 .8 .4 .8 .3 .8 .4 .8-.3 .8-.3 .8-.4 .8 .5 .8 .3 .8 .4 .8-.3 .8 .3 .8-1.6 .8 .1 .8 .1 .8 .6 .8 .6 .8-.3 .8-.8 .6 .4 .2-.6 0 .4 .3-.8 .3 1.2 .2 .6 .2-1.3 .3 .3 .3-1.4 0-.4 .2 .2 .2-1.7 .3-.3 .1 .2 .2 .8 .2 1.3 .2 .2 .2-.5 .1 .5 .3 .1 .2 .8 .2-.2 0 0 .3 .3 .3-.1 .2-.6 .8 1.3 .6-.6 .2-.5 0 .3 .3 .8 .3-.7 .2-.8 .2 .8 .3 .3 .3-1 0-.6 .2-1.7 .2-2.1 .3-.3 .1-.7 .2 1.6 .2 .6 .2 1.8 .2 .1 .1 1 .3 .7 .2 .8 .2 .7 0-1.4 .3 1 .3-1 .2 .3 .8 .8 .8-.8 .2-.3 .3 .1 .3-.2 0 0 .2 .1 .2 .1 .3-.4 .1-1.3 .2-1 .2-2 .2-2.6 .2-1.2 .1-.2 .1 .7 .2 .4 .2 2.4 .2 1.1 0 .3 .3 2.6 .3 0 .2 1.8 .2-.2 .3-.5 .3 .8 0 .2 .2-.3 .6 .3 .8-.7 .2-.6 .3-.3 .3 1.4 0-.7 .2 .9 .2-.2 .3-.6 .1-1.7 .2-.7 .2-4 .2-4.4 .2-1.9 .1-.3 .1-1.3 .2 .2 .2 4.3 .2 4.1 0 1 .3 2.6 .3 .4 .2 1.2 .2-.4 .3-.3 .3 .9 0-.3 .2 .1 .6-.3 .8 .7 .3-.4 .3 .1 .2-.5 .2-.3 .3 .2 .3 0 0 .2 .2-1.9 .2-5.7 .3-6.9 .1-3.6 .2-6 .2-7.5 .1-.1 .1 1.2 .2 4.2 .1 2.8 .3 10.9 .2 6.2 .2 3.3 0 1.6 .3 1.9 .3 .6 .2 .2 .2 .3 .3-1.6 .3 0 .8-.4 .1-.4 .3 1.6 .2-.3 .2-.2 0-1.2 .3 .1 .3-1.3 .2-2.2 .2-8.6 .3-14.5 .3-16.5 0-3.3 .2-9.4 .1-.6 .1 2.9 .3 13.9 .1 7.3 .2 10.1 .2 12.9 .2 6.7 .2 .6 .1 .2 .3 1.4 .2 .9 .2-.7 0-.1 .3 .4 .5 1.5 .8 .1 .5-.6 .3-1.1 0 .7 .2 .8 .2-1.7 .3-.1 .1-1.1 .2-.1 .2-5.2 .2-10.8 .2-9.7 .1-7.3 .3-23 .2-15.1 .1-.9 .1 .2 0 3.2 .3 18.1 .3 22.5 .2 16.2 .2 8.4 .3 3.5 .3 .8 0 .2 .2 .2 .2-.3 .3 .2 .1 .9 .8 1.1 .7-.1 .1-1.4 .2-.6 .2-.3 .2 1.2 .2-.6 .1-.8 .3-.8 .2-4.6 .2-8.1 0-2.4 .3-20.2 .3-24 .2-18 .1-1.4 .1 3.4 .3 19.2 .3 25.6 0 4 .2 13.7 .2 9.2 .3 4.4 .1 0 .2 .9 .2 1.1 .2-.2 .2-.4 .1-.4 .7 .4 .6 .1 .2 .1 0-1.1 .3 .7 .3-.7 .2-.2 .2-1.9 .3-4.6 .3-11.8 0-2.4 .2-17.8 .2-24.5 .3-18.3 .1-1.2 .2 3 .2 21.4 .2 24.7 .2 12.1 .1 7 .3 9.1 .2 4.5 .2 .2 0 1 .3 1.2 .3-.8 .2-.4 .8 .9 .8-.2 .2-.3 .2 .8 .3-.5 .1-.4 .2 .7 .2-.4 .2-1.5 .2-2.3 .1-1.8 .3-7.8 .2-12.2 .2-14.3 0-2.8 .3-11.2 .1-.8 .2 1.9 .2 12.6 .2 17.7 .3 11.3 .3 7.7 0-.3 .2 3.2 .2 1.2 .3-.4 .1 .6 .2 .1 .2-1.1 .4 1.1 .8-.1 .4-.4 .2 .7 .2 0 .1-1.3 .3 1.1 .2-1.3 .2 .6 0-1 .3-1.7 .3-6 .2-9.8 .2-10.3 .3-7.4 .1-1.5 .2 .9 0 2.3 .2 7.2 .2 12.1 .3 8.8 .1 1.8 .2 2.4 .2 .9 .2 2 .2-.7 .1-.3 .3 .4 .2 .7 .2 .3 .8 .2 .8-.9 .2 .2 .3 .4 .3 .1 0-.2 .2-1.2 .2-.9 .3-1 .1 .2 .2-2.4 .2-5 .2-5.4 .2-1.4 .1-1.6 .1-.3 .2 .2 .2 4.4 .2 4.2 0 2.1 .3 4.3 .3 3 .2-.2 .2-.1 .3-.3 .3 .6 0 .2 .2-.4 .6 1.2 .8-.8 .1-.4 .3-.2 .2 .2 .2 .5 0-.7 .3 .4 .3 1 .2-1.7 .2 .1 .3-2.2 .3-1.5 0-1.8 .2-1.7 .1 .3 .1 .9 .3 2.1 .1 0 .2 2.3 .2 1.4 .2 .7 .2 1.2 .1-.3 .3 .6 .2-.8 .2-.7 0 .1 .3 .2 .5 .5 .8 .3 .8 .1 .8-.5 .8 .7 .8-1.3 .8 .1 .8-.3 .8 .1 .8 .1 .8 .3 .8 .4 .8-.9 .8 1.1 .8-.8 .8 .8 .8 .3 .8 0 .8-.2 .8 .4 .8-1.3 .8 .6 .8-.8 .8 1.1 .8-1 .8 .2 .8-.3 .8 .8 .8 .7 .8 .2 .8-1.4 .8 0 .8 1 .8-.1 .8 .3 .8-.8 .8 0 .8 .1 .8 .5 .8-1.1 .8 1 .8-.3 .8-.5 .8 .9 .8 0 .8-.5 .8-.4 .8 .4 .8-.6 .8 .6 .8 .6 .8-1.3 .8 .1 .8 .6 .8-.1 .8-.9 .8 1.4 .8-1.1 .8-.5 .8-.1 .8 0 .8 .9 .8 .1 .8 .1 .8-.7 .8 .5 .8-.6 .8 0 .8 .7 .8-.1 .8-.5 .8 .2 .8-.8 .8 1.5 .8-1.2 .8 .8 .8-.7 .8 1.1 .8-.4 .8-.9 .8 .4 .8 .3 .8-.1 .8-.8 .8-.1 .8-.2 .8 1.7 .8-.5 .8 .8 .8-.8 .8-.3 .8 0 .8 .1 .8-.1 .8 .5 .8-.4 .8 .6 .8 .1 .8-1.1 .8 .1 .8 1.2 .8 .4 .8 0 .8-.1 .8-.7 .8 0 .8-.8 .8 1.1 .8-1 .8 1 .8-.5 .8-.3 .8-.4 .8-.3 .8-.2 .8 1.3 .8-.3 .8-.9 .8-.3 .8 .8 .8 .6 .8 .8 .8-1.3 .8 0 .8 .9 .8-.1 .8-.1 .8-.6 .8-.4 .8 .3 .8 .2 .8 .3 .8 .3 .8 .2 .8 .1 .8-.5 .8-.5 .8 .2 .8-.1 .8-.4 .8-.4 .8 .1 .8-.1 .8 .8 .8 .4 .8 0 .8-.4 .8 0 .8 .8 .8 .3 .8-.6 .8-1.2 .8 .6 .8 .2 .8-.6 .8 .6 .8-.1 .8-.7 .8 .2 .8-.1 .8-.4 .8-.2 .8 .4 .8 .1 .8-.4 .8-.3 .8-.4 .8 1 .8-.3 .8 .8 .8-.5 .8 .3 .8-1.2 .8 1.3 .8-.9 .8-.4 .8 .6 .8-.2 .8 .7 .8-.5 .8 .3 .8-.2 .8 .1 .8-.4 .8 .2 .8 0 .8 .1 .8-.3 .8 .5 .8-.8 .8-.8 .8-.6 .8 .7 .8-.2 .8 .6 .8 .1 .8 .5 .8-.1 .8-1.2 .8 .9 .8 .3 .8-1.6 .8 1 .8-.5 .8-.2 .8 .5 .8-.2 .8-.6 .8-.7 .8 .3 .8 .2 .8 .6 .8-.6 .8-.6 .8 1.1 .8-.8 .8 .4 .8 .1 .8-.4 .8 .3 .8-1.2 .8-.4 .8 1 .8-.7 .8-.2 .8 .8 .8-1.1 .8-.3 .8-.1 .8-.2 .8 .3 .8 0 .8 1.1 .8-.3 .8-.8 .8 .9 .8-.8 .8 0 .8 .3 .8 .5 .8 .2 .8-.1 .8-.8 .8 .9 .8-.5 .8-1.1 .8-.1 .8 .6 .8-.5 .8 .8 .8-.1 .8-.1 .8 .2 .8-.4 .8 .5 .8-1.5 .8 1.3 .8-.5 .8-.6 .8 .2 .8 .2 .8 .2 .8-.7 .8 0 .8-.1 .8 .4 .8 0 .8-.1 .8-.5 .8 .8 .8 .4 .8-1.5 .8-.6 .8 1 .8-.1 .8-.1 .8-.4 .8 .6 .8-.8 .8 .3 .8-.1 .8 .8 .8-1.1 .8 .9 .8-.1 .8-.2 .8 .2 .8-.4 .8-.9 .8-.3 .8 .7 .8-.6 .8 .2 .8 0 .8-.3 .8 .4 .8 .4 .8-1.3 .8 .9 .8-.6 .8 .6 .8-.7 .8-.7 .8 1.2 .8-1.3 .8 1.4 .8-.6 .8-.7 .8-.3 .8 .5 .8-.5 .8-.1 .8-.4 .8 1.6 .8-.1 .8-.9 .8-.6 .8 1.2 .8-.5 .8-.9 .8 1.3 .8 .4 .8-.1 .8-1.3 .8 .4 .8-.9 .8 .3 .8-.5 .8-.3 .8 .7 .8-.7 .8 .8 .8 .4 .8-.8 .8-.1 .8 .1 .8 0 .8 .9 .8-.9 .8-.1 .8 .6 .8 .4 .8-.1 .8-1 .8-.9 .8 1 .8-.2 .8 .1 .8-.8 .8 .4 .8 0 .8 .2 .8-.6 .8 .4 .8 .4 .8-1.4 .8-.4 .8 .1 .8 1.3 .8 .4 .8 .2 .8-.7 .8-1 .8-.5 .8 .2 .8 0 .8 0 .8-.3 .8-.3 .8 1.4 .8-1 .8 1 .8-.7 .8 .3 .8 .2 .8 0 .8-.7 .8 .4 .8-1.1 .8 .6 .8 0 .8-.8 .8-.3 .8 .2 .8 .9 .8 .2 .8-.8 .8 .4 .8-.7 .8 0 .8 .9 .8-.7 .8 .3 .8-.6 .8-.4 .8 1.2 .8 .6 .8-.7 .8 .3 .8-.8 .8 .1 .8-.8 .8 0 .8 .4 .8 .9 .8-1.4 .8 .2 .8 .7 .8 .4 .8-.6 .8-.1 .8 .2 .8-1 .8 .6 .8-.3 .8-.6 .8-.1 .8 1.2 .8-.2 .8 0 .8-.5 .8-.1 .8 .4 .8-.8 .8-.5 .8 .2 .8 1.1 .8 0 .8 .1 .8-.6 .8 .6 .8 0 .8 .1 .8-1.3 .8 .2 .8-.3 .8-.9 .8 .8 .8-.6 .8 0 .8 1.1 .8-.2 .8-.3 .8 .1 .8-1 .8 .1 .8-.4 .8 0 .8 1.4 .8-.4 .8 .4 .8 .1 .8-.9 .8 .2 .8-.5 .8 .5 .8-.2 .8-.2 .8 .7 .8 .1 .8 .1 .8-1 .8 .1 .8-.3 .8 .5 .8-.3 .8-1 .8 .8 .8 .4 .8-1.5 .8 1.3 .8 .3 .8-.7 .8-.4 .8-.7 .8 .6 .8 .6 .8-.7 .8 .5 .8-.6 .8 .6 .8-.2 .8-.3 .8 .7 .8-1.6 .8 .7 .8-1 .8 .8 .8 .7 .8-.4 .8-.5 .8-.4 .8 .7 .8-1.3 .8 1.4 .8 .2 .8-.2 .8-.7 .8-1 .8 1 .8-.4 .8-.2 .8 0 .8-.6 .8-.4 .8 .6 .8 .1 .8-.2 .8 .3 .8 .3 .8-.3 .8 .6 .8 .5 .8-.3 .8-1.5 .8 0 .8 1.1 .8-1.4 .8 .7" fill="none" stroke="#4f9a2c" stroke-width="1.9" stroke-linejoin="round"/>
<path d="M797 807.9l.8 .5 .8 .3 .8-.6 .8-.3 .8 1 .8 0 .8-.8 .8 .4 .8 .4 .8 .1 .8 .3 .8 .3 .8-.4 .8 .4 .8-.8 .8-.6 .8 1 .8-.9 .8-.5 .8-.2 .8 .7 .8 .9 .8-.8 .8 .9 .8 .1 .8-1.1 .8 .1 .8 .2 .8 .2 .8 .1 .8-1.2 .8 .9 .8-.8 .8 .4 .8 .2 .8-.7 .8 .7 .8 .1 .8-.6 .8 .8 .8-.9 .8 1.2 .8-1.3 .8 1.1 .8-.3 .8-.8 .8 0 .8 1.3 .8-.1 .8-.2 .8 .1 .8-1 .8 .4 .8 .8 .8-.9 .8 0 .8 1.1 .8 .1 .8-1.1 .8 .9 .8-1.5 .8 .5 .8 .8 .8-.1 .8-.2 .8-.7 .8 1.1 .8-.5 .5 .5 .3 .2 0-.4 .2-.5 .2 .2 .3-1 .1 0 .2 1.1 .2-1.6 .2-1.7 .2 .4 .1-1.2 .3-2.9 .2-.6 .1-.2 .1-.4 0 .1 .3 1.6 .3 2.5 .2 2.2 .2 1.1 .3-.3 .3 1.1 0-1.3 .2 1.4 .2 0 .3-1.1 .1 .7 .8 .7 .8-.3 .8-.7 .8 .7 .8-.3 .8 .3 .8-1.4 .8 .4 .8 .9 .8-.5 .8 .8 .8-.6 .8-.9 .8 .8 .8-.9 .8 0 .8 1.1 .8 0 .8-1 .8-.5 .8 .7 .8-.6 .8 0 .8 .5 .4 0 .2 .1 .2 .4 .1-.6 .3 .4 .2-.8 .2 .7 0 .3 .3-.5 .3-2.9 .2-1.7 .2-3.7 .3-2.4 .1-.9 .2 .7 0-.6 .2 3.8 .2 2.3 .3 3.1 .1 .3 .2 2.1 .2 .1 .2-.2 .2 .3 .1 .4 .3-1.2 .2 .2 .2 .1 .8 .6 .8-.9 .2 .7 .3-.1 .3 .3 0-.4 .2-.9 .2 .3 .3-1.8 .1-.3 .2-2.1 .2-2.9 .2-5.4 .2-3.1 .1-1.5 .1-.3 .2 .8 .2 5.2 .2 4 0 .5 .3 3.6 .3 2.9 .2 .2 .2 1.4 .3 0 .3-.1 0-1 .2 1.3 .6-.7 .8 .3 .2 .5 .2 .2 .3-1.2 .1 .9 .2-1.6 .2-.3 .2 .5 .2-.4 .1-.1 .3-4.5 .2-5.6 .2-5.6 0-1.1 .3-5.3 .1 .3 .2 2 .2 5.9 .2 5.6 .3 4.8 .3 2.2 0 .8 .2 1.4 .2 .4 .3-1 .1 .1 .2 .2 .2 .3 .4 .9 .8-1 .4 .8 .2-.8 .2 .7 .1 .3 .3-1.3 .2 .5 .2 .4 0-.3 .3-1.8 .3-3.2 .2-6.7 .2-8 .3-4.6 .1-1.4 .2 1 0 2 .2 4.1 .2 7.8 .3 6 .1 .9 .2 .8 .2 2.5 .2 .6 .2 .2 .1-.7 .3 .6 .2-.1 .2 .7 .8 .2 .7 .1 .1-1.2 .2-.8 .2 .5 .2 .7 .2-.8 .1 .4 .3-.4 .2-2.9 .2-3.6 0 .1 .3-8.6 .3-9.7 .2-6.8 .1-.1 .1 2 .3 8 .3 8.1 0 2.8 .2 5.4 .2 3.1 .3 1.4 .1 .1 .2 1.3 .2 .5 .2-.5 .2 .6 .1-1.4 .7-.3 .7 .3 .1 .1 .2 0 .2 .2 .2 .4 .2-.6 .1 .6 .3-.7 .2-1.9 .2-4.8 0-.4 .3-8.7 .3-11.7 .2-6.9 .1-.9 .1 1.5 .3 8.2 .3 10.3 0 2 .2 7.5 .2 4.6 .3 .8 .1-.1 .2 .6 .2 .4 .2 .3 .2-.9 .1 .5 .7 .8 .8-.1 .2-.5 .2-.5 .3 .9 .1-.9 .2 .9 .2 0 .2-.6 .2-2.1 .1-1.2 .3-4 .2-6.9 .2-8.4 0-2 .3-6.2 .1-1.6 .2 1.9 .2 7.5 .2 10.1 .3 6.6 .3 3.3 0 1.1 .2 1.2 .2 .5 .3 1 .1-.5 .2 .7 .2-.7 .4-.1 .8-.9 .3-.2 .3 .5 .2 1 .2-.1 .3 .2 .3-.7 0-1.7 .2-1.7 .2-3.1 .3-6.6 .1-4.4 .2-5.5 .2-5.8 .1 .3 .1 1.5 .2 3.8 .1 3.2 .3 8.3 .2 6.5 .2 2.1 0-.1 .3 2 .3 1.5 .2 .6 .2-.3 .3-.4 .3-.9 .8 .5 .4 .6 .2 .2 .2-1.3 .1 0 .3-.2 .2 1.1 .2-1.7 0 .2 .3-.7 .3-3.8 .2-7.2 .2-7.8 .3-5.6 .1-1.3 .2 1.1 0 2 .2 6.2 .2 8.3 .3 5.4 .1 .5 .2 2.3 .2 .8 .2-.2 .2 1 .1 1 .3-1.2 .2 .4 .2-.7 .8 .2 .5-.1 .3 .3 0 .6 .2 .6 .2 .2 .3-.5 .1-.7 .2-1.3 .2-1.5 .2-3 .2-2.8 .1-2.3 .3-7.4 .2-5.4 .1-.8 .1-.5 0 1.7 .3 5.4 .3 8.4 .2 6 .2 2.4 .3 0 .3 .6 0 1.1 .2-.8 .2 1.2 .3-.4 .1-.9 .8 .5 .6-.7 .2 .9 0 .8 .3-1.2 .3-.4 .2-.5 .2 .3 .3-1.3 .3-2.4 0-1.3 .2-4 .2-6.8 .3-4.7 .1-.3 .2 1.5 .2 5.3 .2 6.7 .2 3 .1 .4 .3 2.1 .2 2.5 .2-1 0 .1 .3 1.3 .3-.9 .2 .4 .8-.5 .7 .4 .1-.6 .2 .3 .2 .7 .2-.5 .2 .5 .1 .2 .3-2.6 .2-2.1 .2-4.8 0-1 .3-12 .3-15 .2-9.9 .1 .3 .1 1.7 .3 11.6 .3 13.6 0 2.2 .2 7.4 .2 6.8 .3 1.5 .1-.3 .2 1.5 .2 .9 .2-1.2 .2 1.3 .1-.6 .7-.4 .8 .5 .4-.7 .2 .3 .2-1.1 .1-.3 .3-.4 .2-.5 .2-.8 0-1.7 .3-6.2 .3-15.5 .2-27.7 .2-33.8 .3-24.1 .1-3 .2 6 0 3.2 .2 24.4 .2 33.8 .3 26 .1 6.3 .2 6.9 .2 4.6 .2 1.7 .2 1 .1-.1 .3-.1 .2 .8 .2 .5 .8 .5 .6-.8 .2 0 0 1.2 .3 .3 .3-.8 .2-.7 .2 .8 .3-2.6 .3-2.1 0-.8 .2-5.1 .2-7.7 .3-4.6 .1-.9 .2 1.3 .2 6.8 .2 6.8 .2 2.8 .1 2.4 .3 1.5 .2 1.7 .2-.5 0 .1 .3 1 .3 .8 .2-.5 .8 .7 .8 .4 .8 0 .8-.6 .8-1.1 .8-.3 .8 .7 .8 1.1 .8 .2 .8 .1 .8-.3 .8-1 .8-.1 .8 .7 .8-.2 .8-.8 .8 1.3 .8-1.4 .8 .7 .8-.3 .8 .3 .8-.7 .8 1.3 .8 .3 .8-1 .8 .6 .8-.2 .8-.3 .8-.4 .8 1 .8-1.2 .8 .8 .8 .2 .8-.1 .8-.7 .8 .9 .8 .4 .8 .1 .8-.2 .8-.4 .8 .4 .8-1.1 .8 0 .8 .3 .8 .5 .8 .3 .8-.1 .8-.1 .8 0 .8-.6 .8 0 .8 .5 .5-1.3 .3-.4 0 .5 .2-.2 .2-.6 .3 .7 .1 .4 .2-1.8 .2-3 .2-4.2 .2-4.7 .1-4.7 .3-11.3 .2-6.9 .1-1.9 .1 2.1 0 1.3 .3 8.4 .3 10.5 .2 9 .2 3.6 .3 2.7 .3 .2 0-.6 .2 .8 .2 1.1 .3-1.3 .1-.5 .8 1 .8 .1 .8-.7 .8 .6 .8-.7 .8 .7 .8 0 .8 .4 .8 0 .5 .6 .3-.9 0 .1 .2-1 .2 1.2 .3-1.5 .1 1 .2-.9 .2-1.3 .2-3.4 .2-5.5 .1-2 .3-8.9 .2-6.9 .1-.5 .1 1.2 0 1.1 .3 6.7 .3 8.8 .2 6 .2 2.5 .3 2.8 .3 .3 0 .6 .2-.4 .2 .5 .3-.2 .1-.4 .8 .7 .8-1 .8-.6 .8 .8 .8 0 .8 .9 .8 0 .8 .3 .8-1.2 .8 .2 .1-.5 .3-.6 .2 .4 .2 .5 0-.1 .3 0 .3 0 .2-.9 .2-2.5 .3-3 .3-5.6 0 .2 .2-3.4 .1-.4 .1 1.2 .3 4.3 .1 1.9 .2 1.7 .2 3.5 .2 2.8 .2-.8 .1 .9 .3 .4 .2 .3 .2-.5 0 .4 .3-.9 .5-.4 .8 .2 .8 .1 .8 .2 .8 1 .8-1.1 .8 .8 .8-.6 .8-.6 .8 .8 .8-.6 .2 1.4 .3-1.3 .3 1.2 0-1 .2 .5 .2 0 .3-.2 .1-1.2 .2 .7 .2-2.2 .2-2.4 .2-1.1 .1 .3 .1 .9 .2-.8 .2 1.5 .2 1.6 0 .7 .3 .8 .3 .2 .2 .5 .2 .6 .3 .4 .3-.4 0 .1 .2 .9 .6-.6 .8 .3 .8-.9 .8 .3 .8-.8 .8 .9 .8-.4 .8 1 .8-.4 .8-.3 .4 .7 .2-.8 .2-.9 .1-.3 .3 .4 .2 1.1 .2-.2 0-1.1 .3-.8 .3 .4 .2-2.3 .2-1.5 .3-1.4 .1 .6 .2-.8 0 1.3 .2 1.3 .2 1.4 .3 2 .1-.6 .2 0 .2 1.8 .2-.3 .2 .2 .1-.1 .3 .4 .2-.8 .2 .3 .8-.6 .8 .1 .8 .7 .8-1 .8 .4 .8 .6 .8 .3 .8-.9 .8 .8 .8 0 .8-.7 .8 1 .8-.6 .8-.6 .8 .4 .8 .2 .8-.7 .8-.4 .8 1.3 .8 .6 .8-.6 .8-.7 .8 .5 .8 .2 .8-.6 .8-.5 .8 .4 .8-.8 .8 .1 .8 .3 .8 .2 .8 .9 .8 0 .8-.3 .8-.1 .8 .1 .8-1.1 .8-.3 .8 .5 .8-.1 .8 1 .8-.8 .8 1.2 .8-.1 .8-1.4 .8 .9 .8-1 .8 .8 .8-.8 .8 .9 .8-1.2 .8 .6 .8-.6 .8 .4 .8-.5 .8 .7 .8-1.1 .8-.4 .8 1.3 .8 .3 .8 .4 .8-.8 .8-.5 .8-.6 .8 1.2 .8-.7 .8 .6 .8-.2 .8-.4 .8 .4 .8-.5 .8 .4 .8-.1 .8 .1 .8 .4 .8-1.1 .8-.5 .8 .6 .8-.1 .8-.7 .8 .7 .8 .1 .8 .1 .8-.1 .8-1.2 .8 .2 .8-.4 .8-.2 .8 1 .8 .4 .8-1 .8 .3 .8-.5 .8 1 .8-.4 .8-1.2 .8-.2 .8-.3 .8 .7 .8 .4 .8-.6 .8 .3 .8 .3 .8-.9 .8-.6 .8 .2 .8 .5 .8-.8 .8-.3 .8 .2 .8 1.2 .8-.2 .8 .2 .8 .3 .8 .1 .8-1.2 .8 0 .8 .6 .8-1.1 .8 .5 .8 .5 .8 .3 .8-.5 .8 0 .8-.5 .8-.2 .8-.9 .8 .3 .8 .3 .8 .8 .8-.1 .8-.3 .8-1.1 .8 .3 .8 .8 .8-.7 .8-.3 .8 .8 .8-1.1 .8 1 .8 .4 .8-.2 .8 0 .8-.3 .8 .2 .8-1.1 .8 .3 .8-1 .8 .7 .8-.4 .8 .7 .8 .3 .8 0 .8-.8 .8 .7 .8-1.4 .8 1 .8 .4 .8-.4 .8-.1 .8-.1 .8-1.2 .8 .4 .8-.8 .8 .2 .8 .4 .8 .5 .8-.5 .8 .8 .8-.7 .8-.6 .8-.5 .8-.4 .8 1.2 .8 0 .8 .5 .8-.9 .8 .7 .8-1.3 .8 1.2 .8-1.2 .8-.2 .8 .4 .8 .1 .8 .1 .8 .3 .8-.8 .8-.7 .8 .2 .8-.2 .8 .3 .8-.6 .8 1.3 .8 .5 .8-.9 .8-.3 .8-1 .8 .3 .8 .7 .8 .6 .8-.4 .8-.7 .8-.3 .8 .5 .8 .2 .8-.5 .8 .1 .8-.3 .8 .8 .8-1.5 .8 .7 .8 .6 .8-.6 .8 .2 .8 0 .8-.9 .8-.1 .8 .8 .8 .3 .8-.8 .8-.6 .8 .3 .8-.2 .8-.6 .8 .7 .8 .7 .8-1 .8 .5 .8 .1 .8 0 .8-1 .8 .4 .8 .2 .8-.7 .8 .4 .8-1 .8 .1 .8-.2 .8 .5 .8 1 .8-.3 .8-1.1 .8 .1 .8 0 .8 .3 .8 .7 .8-.7 .8 .4 .8-.3 .8-1.2 .8 .8 .2 .8 .2-1.3 .3-.4 .1-.2 .2 1.4 .2 .4 .2-1.8 .2-.5 .1-.5 .3-1.1 .2-1.7 .2-2.6 0 .2 .3-1.9 .1 .6 .2 0 .2 1.3 .2 3.9 .3 .9 .3 1.9 0-1 .2 .5 .2-.2 .3-.1 .1-.2 .2 1.1 .2-.1 .4-.6 .8-.4 .8 0 .8 1.5 .8 .5 .8-1.4 .8 .2 .8 .9 .8 .2 .8-.6 .8-.7 .6 .7 .2-1.2 0 .9 .3-.7 .3-.4 .2 1 .2 0 .3-1.1 .3-1.9 0-.1 .2-2.1 .2-2.9 .3-2.3 .1-.4 .2 .6 .2 2.7 .2 2.7 .2 2.1 .1 1.1 .3 1.2 .2-.4 .2-.1 0 .5 .3 .2 .3 .5 .2-1.2 .8-.7 .8 1.2 .8-.6 .8-.1 .8 1.1 .8-.2 .8-.1 .8-.6 .8-.3 .8 .8 .8 0 .8-.1 .8-.2 .8-.8 .8-.5 .8 1.2 .8-1.2 .8-.1 .8 1.3 .8-1.1 .8-.5 .8 .6 .8 .4 .8-1.1 .8-.4 .8 1.3 .8-.7 .8-.6 .8 .1 .8 1.3 .8-.7 .8 .6 .8 .3 .8-1.4 .8 .9 .8 .1 .8-.8 .8 .9 .8-.1 .8-.8 .8 .3 .8-.9 .8 .4 .8 .2 .8 .6 .8-1.6 .8-.1 .8 1 .8-.1 .8-1 .8 .5 .8-.1 .8-.2 .8 .6 .8 .4 .8-.2 .8-.9 .8 0 .8 .2 .8-.2 .8-.5 .8 1.2 .8-1.1 .8 .5 .8-1.1 .8 .2 .8 1 .8-1.1 .8-.7 .8 1.3 .8 .5 .8 0 .8-1.4 .8 1.1 .8-.5 .8 .3 .8 0 .8-1.3 .8 .3 .8-.5 .8-.5 .8 1.3 .8-.2 .8 .1 .8-.2 .8 .7 .8-.7 .8 .4 .8-.9 .8-.4 .8-.4 .8 0 .8-.4 .8 .3 .8 0 .8 .9 .8 .2 .8-.4 .8-.6 .8-.1 .8 .6 .8 .3 .8-.4 .8 .3 .8-.4 .8-.8 .8 .9 .8 .4 .8 .3 .8-.3 .8-1.1 .8-.3 .8 .7 .8-.4 .8 .4 .8 .1 .8 .3 .8-.7 .8-.9 .8 1 .8 .4 .8-.4 .8-1.2 .8-.5 .8 1.2 .8-.2 .8-.3" fill="none" stroke="#2fa8e0" stroke-width="1.9" stroke-linejoin="round"/>
<defs><path id="t1" d="M797 827.4l.8 .2 .8-.6 .8-.2 .8-1.1 .2 1.3 .2-.2 .3-.7 .1 .9 .2-.2 .2-1 .2 .4 .2-.6 .1-.6 .3-.5 .2-.7 .2-.7 0-1.4 .3-1.1 .1 .5 .2-.5 .2 2.5 .2 1.3 .3 1.4 .3-.4 0 .6 .2-.2 .2-.2 .3 .7 .1 .8 .2-1.1 .2 .7 .4-.1 .8 .1 .2-.6 .3 .5 .3-.9 0 0 .2 .1 .2 .8 .3 0 .1 .3 .2-1.1 .2 .1 .2-2.6 .2-1.1 .1 .2 .3-2.2 0 .6 .2-.5 .2 .6 0 1.1 .3 2.6 .3 1.2 .2 .5 .2 .9 .3-.8 .3 1 0 0 .2-1.1 .2-.7 .4 1.4 .8 .4 .3-.7 .3 0 .2-.4 .2 .7 .3-.5 .3-.3 0 0 .2 .2 .2-.6 .3-2.2 .1-.5 .2-.3 .2-1.7 .1 1 .1-.4 .2 0 .1 .9 .3 2.6 .2 .7 .2-.5 0 .5 .3 .5 .3-.8 .2 .6 .2 .2 .3-.4 .3 .2 .8 1 .4-.3 .2-.2 .2 0 0-.3 .3 0 .3 .6 .2 0 .2-1.6 .3-.1 .3-3 0 .3 .2-.9 .2-1.8 .2-.6 .1 .7 .1-.1 .2 1.2 .2 2.7 .2 1.1 .2 .5 .1 .8 .3 .6 .2-.8 .2 .3 0-.4 .3 1 .3-1.2 .2-.2 .8 .9 .4-.8 .2 .2 .2 1 .1-.5 .3 .9 .2-.9 .2 .5 0-.3 .3 .2 .3-1.2 .2-.5 .2-2.9 .3-.7 .1-.6 .2 .9 0-.3 .2 .5 .2 3 .3 .4 .1 0 .2 .1 .2 1.5 .2-1 .2-.5 .1 .8 .3 1.1 .2 0 .2-.7 .8-1 .4-.1 .3 1.2 .1-.2 .2-1 .2 1.1 .2 .3 .2-.2 .1-.5 .3-1 .2-.5 .2-1.8 0-.5 .3-2.1 .3-1.7 0 1.1 .2 .9 .2 1 .3 2.8 .3-.1 0-.1 .2 2 .2-.8 .3 1.4 .1-.4 .2 .7 .2-1.2 .2 .3 .2-.3 .8 .6 .5 .7 .3-.1 0 .3 .2-.7 .2-.4 .3-.4 .1 .1 .2 .7 .2-.8 .2-1.7 .2-.7 .1 .1 .3-.9 .2-1.3 .1-1 .1 .2 0 .9 .3 1.7 .3 1.5 .2 1.2 .2 .6 .3-.4 .3 .1 0-.8 .2-.3 .2 .2 .3 1 .1-.8 .8 1.2 .6 .3 .2 .2 .2 .2 .3-.6 .3 .4 0 .1 .2-1.3 .2-.1 .3-1 .1-1.6 .2 0 .2-1.5 .2-1.2 .2-1.4 0-.4 .1 .4 .3 1.7 .2 1.7 .2 2.6 0-.4 .3 1.6 .3-.2 .2-.5 .2-.4 .3 .8 .3 .2 0-.6 .8 .3 .6 .3 .2 .5 0-1 .3 .9 .3-.3 .2 0 .2 .2 .3-.3 .3-2 0 .7 .2-1.9 .2-2.2 .3-2.5 .1 .6 .2 0 .2 2.5 .2 2 .2 1.2 .1 .2 .3 1.2 .2-.4 .2-.4 0 .3 .3 1.1 .3 .1 .2-.8 .8 .5 .6 .1 .2-.7 .1-.6 .3 .7 .2 .4 .2-.3 0-.7 .3 .3 .3-.6 .2 .2 .2-1.9 .3-.6 .3-1.2 0-.1 0-.5 .2 1.1 .2 1.9 .3 .4 .1 .3 .2-.1 .2 1.9 .2-.9 .2 .7 .1 .8 .3-1 .2-.3 .2 .6 0-.4 .8 .7 .7-.5 .1-.1 .2-.2 .2-.2 .2 .8 .2-.3 .1 .1 .3-.1 .2-1.3 .2 .3 0-.3 .3-2.2 .3-3.3 .2-1.1 .1 .3 .1 .2 .3 1 .3 2.8 0 1.3 .2 .6 .2 .5 .3 0 .1 .1 .2 1.1 .2 .2 .2-.7 .2 1 .1-.9 .7 0 .8-.6 0 .9 .2 .8 .2-.4 .3-.8 .1 .1 .2 .8 .2 .3 .2-1.7 .2 1 .1-.9 .3-1.7 .2-.1 .2-2 0 .4 .2-.5 .1 1.4 .3 1 .2 1.5 .2 .7 .3-.3 .3-.2 0-.5 .2 .3 .2 .6 .3 0 .1 .7 .2 .1 .6 .4 .8 .1 .2-.2 .3-1 .3 .7 0-1.2 .2 .9 .2-.9 .3 .6 .1-.2 .2-2.3 .2-1 .2-3.1 .2-1.2 .1 .6 .1-.8 .2-.4 .2 3.1 .2 1.7 0 1.1 .3 .7 .3 1.6 .2 .8 .2-1 .3 .9 .3-.2 0 .6 .2 0 .6-.8 .8-.1 0-.9 .3 .9 .3-.6 .2 1 .2-.8 .3 .1 .3-.5 0 .6 .2-1.5 .2-1.3 .3-.8 .1 .5 .2-1.6 0 0 .2 1.3 .2 .8 .2 1 .1-.4 .3 .9 .2 .3 .2-.2 0 .6 .3 1.2 .3-.1 .2 .4 .2-.2 .6-.9 .8-.2 .1 1 .3-1.4 .2 1.1 .2-.6 0 .6 .3 .4 .3-.8 .2-.9 .2-1 .3-2.3 .3-1.4 0-.5 .2-2.4 .1 .5 .1 1 .3 1.7 .1 1.6 .2 1.3 .2 .9 .2 .5 .2 1.4 .1-.2 .3-.2 .2 0 .2-.3 0 1.1 .3-.3 .5 .2 .8-1.4 .2 1.2 .2-.5 .2 .3 .2-1 .1 1.1 .3 0 .2 .2 .2-1.3 0 .4 .3-.6 .3-1.2 .2-1.9 .2-1.4 .2-.8 .1 .5 .3 1.1 0 .7 .2 1.3 .2 2 .3 0 .1 .8 .2-.8 .2 0 .2-.6 .2 1.1 .1-.1 .3-.8 .4 1.2 .8 0 .2-.4 .2-.8 .3 1.2 .1 .4 .2-1.2 .2 1.2 .2-1.2 .2-.5 .1 .5 .3-1.6 .2-.8 .2-1.1 0-1.2 .3-.8 .1-1.3 .2 0 .2 2.1 .2 2.2 .3 1 .3 .5 0 1 .2 .2 .2 .2 .3 .7 .1-.4 .2-.5 .2-.3 .4 .1 .8 .4 .2-.4 .3-.6 .3 0 0 .6 .2-.7 .2 .7 .3 .1 .1-.1 .2 0 .2-1.1 .2-1.9 .2-1.9 .1 .6 .3-1.4 0 .2 .2-.5 .2 1.8 0 .8 .3 1.8 .3 .5 .2 1.8 .2 .6 .3-1.3 .3-.7 0-.2 .2 1.5 .2 .7 .4-1.4 .8-.2 .3 .5 .3 .3 .2 .6 .2 .2 .3-.6 .3-.6 0 .2 .2-.2 .2-.8 .3-3.3 .1-.7 .2-.5 .2-2.3 .1-.4 .1-.5 .2 1.5 .1 1.1 .3 3.5 .2 .4 .2 1.1 0 .2 .3 .3 .3 .7 .2-.7 .2 .2 .3 .7 .3 .7 .8-1.6 .4-.2 .2 .4 .2 .8 0-1 .3-.2 .3 .2 .2-.3 .2 .3 .3-1.3 .3-1.4 0 .9 .2-1.2 .2-2.5 .2-.3 .1 .3 .1 1.1 .2 1.2 .2 1.6 .2 1.3 .2 1.1 .1-1 .3 0 .2 .1 .2-.2 0 .8 .3-.3 .3-.6 .2 1 .8 .6 .4-.3 .2 .1 .2-.4 .1 .1 .3 .2 .2-.5 .2-.2 0-.9 .3-.7 .3-.2 .2-2.2 .2-1.5 .3-2.7 .1 0 .2 1.2 0-.1 .2 1.9 .2 2.6 .3 1 .1 .4 .2 1.5 .2-.4 .2 .9 .2 .4 .1-.8 .3-.4 .2-.5 .2 .6 .8 .9 .4-.5 .3 .3 .1-.1 .2 0 .2 .6 .2-1 .2 .5 .1-.4 .3-.2 .2-1 .2-.8 0 .8 .3-1.7 .3-2 0 0 .2 1.1 .2 .7 .3 1.3 .3 .9 0-.1 .2 1.3 .2-.7 .3 .5 .1 .4 .2-.4 .2 .2 .2-.1 .2 .5 .8-1.2 .8 0 .6 .2 .2 .1 0 .3 .3 .2 .3 .2 .2 .2 .2-2 .3-1.1 .3-2.1 0 .8 .2-2.8 .2-4.5 .3-3.3 .1-.3 .2-.9 .2 4.7 .2 3.6 .2 3.1 .1 .7 .3 2.7 .2-.4 .2-.5 0 .6 .3-.1 .3 .4 .2-.4 .8 0 .8 1 .2-.2 .3 .3 .3-.8 0 .9 .2-1.6 .2 .3 .3-2.4 .1-.1 .2-3.3 .2-7.5 .2-9.7 .2-3.5 .1-2 .1-.7 .2 1.1 .2 7 .2 8.1 0 1.4 .3 6.4 .3 3.2 .2 1.2 .2 .3 .3 1.2 .3-1.1 0-.1 .2 .3 .6-.3 .8 .8 .2-.8 .3-.2 .3 1.2 0 .4 .2-1.7 .2-.5 .3-1.8 .1-1.8 .2-4 .2-11.3 .2-14.1 .2-5.2 .1-3.9 .1-.2 .2 2.1 .2 11.3 .2 9.4 0 3.6 .3 9.5 .3 5.6 .2 .8 .2 .9 .3-.4 .3 0 0 .5 .2 1.1 .6-.9 .8 .2 .4 .1 .2 .7 .2 .3 .1-1.2 .3 .3 .2-1.1 .2-.7 0-.5 .3-2.7 .3-7.4 .2-10.8 .2-16 .3-10.7 .1-.5 .2 2.3 0 2 .2 9.9 .2 16 .3 11.4 .1 1.7 .2 2.6 .2 3.6 .2 1.2 .2-1 .1 1.1 .3 .5 .2-1.5 .2 .4 .8-.4 .4-.7 .2 .3 .2 .1 .1-.4 .3-.2 .2 .7 .2-2.4 0-.7 .3-4 .3-9.8 .2-16.2 .2-21.7 .3-13.9 .1-2.1 .2 4.7 0 1.6 .2 13.8 .2 22.2 .3 15.8 .1 4.1 .2 3.5 .2 3.6 .2 .8 .2 1.3 .1-1 .3 .6 .2 .8 .2-1.2 .8 .3 .4 .1 .2-.4 .2 0 .1 .1 .3-.8 .2 .1 .2-1.6 0-.2 .3-5.4 .3-11.8 .2-21.8 .2-27.4 .3-18.6 .1-3 .2 4.5 0 3.5 .2 17.8 .2 26.4 .3 21.1 .1 5.1 .2 4.7 .2 4.7 .2 1.6 .2 .7 .1 .1 .3-.4 .2 1.3 .2-.9 .8-.3 .8-.4 .2 .6 .3-.8 .3 .2 0 .5 .2-1.2 .2-1.7 .3-5.5 .1-5.1 .2-10.1 .2-24.6 .2-31.1 .2-14.2 .1-7.5 .1-2.6 .2 6.5 .2 24.3 .2 24.1 0 5.6 .3 22.5 .3 13.6 .2 4.3 .2 2 .3-.2 .3 1.4 0-.3 .2-.6 .6 .1 .8 1.2 .2 .4 .2-1.3 .3 .5 .1-1.1 .2 .5 .2-1.5 .2-.6 .2-2.5 .1-3.2 .3-12.5 .2-22.6 .2-22 0-4.4 .3-18.6 .1-2.5 .2 3.8 .2 21.9 .2 27.3 .3 19.5 .3 10.5 0 1.3 .2 4.7 .2 .4 .3 1.5 .1 .5 .2 .2 .2-.3 .4-.8 .8 1.2 .7-.4 .1-.1 .2 .4 .2 .2 .2 0 .2-1.7 .1 .2 .3-2.1 .2-2.6 .2-7.6 0-2.9 .3-15.2 .3-20.8 .2-13.9 .1-1 .1 1.9 .3 16.8 .3 21.2 0 2.3 .2 11.7 .2 8.8 .3 3.2 .1 .9 .2 .6 .2-.4 .2 .3 .2 .6 .1-.4 .7-.1 .7-.6 .1 0 .2 .7 .2-.2 .2 0 .2 0 .1 0 .3-.5 .2-3.4 .2-4.1 0 .1 .3-9.7 .3-11.9 .2-8.1 .1 .5 .1 1 .3 8.7 .3 10.9 0 3.5 .2 5.9 .2 4.3 .3 1.6 .1-.1 .2 1.7 .2-.9 .2 .4 .2 .1 .1-.1 .7 .5 .8-.3 .5 .9 .3 .2 0-1.5 .2 .9 .2-.3 .3-.8 .1 .2 .2 .1 .2-2.8 .2-5.9 .2-3.5 .1-4 .3-11.8 .2-7.7 .1-.9 .1 1.4 0 .4 .3 10 .3 10.4 .2 8.3 .2 3.3 .3 2.1 .3 .5 0 .2 .2-.5 .2 1.5 .3 0 .1 .3 .8-.5 .5-.7 .3 .4 0 .1 .2 0 .2-1 .3-.5 .1 1.2 .2 .2 .2-1.2 .2-3 .2-3.8 .1-2.4 .3-6.4 .2-3.5 .1-.9 .1-.4 0 1.3 .3 5.9 .3 6.5 .2 4.8 .2 1.4 .3 1.1 .3 1 0-.5 .2-.1 .2 .4 .3-.9 .1 1.5 .8-.1 .8 .2 .1-1.2 .3-.3 .2 1.2 .2-.5 0-.6 .3-.2 .3 0 .2-1.7 .2-3.7 .3-4.1 .3-7.2 0-2 .2-2.1 .1-1.8 .1 1.7 .3 5.9 .1 2.6 .2 4.6 .2 4.4 .2 3.2 .2-.5 .1 1.1 .3 .5 .2 .4 .2-1.1 0 .4 .3 .3 .5-.3 .8 .3 .1-.5 .3 .8 .2 .5 .2-1.4 0-.7 .3 1 .3-1 .2-.6 .2-3 .3-4.2 .3-6.1 0-1.3 .2-2.4 .1-.7 .1 1.5 .3 4.7 .1 2 .2 2.3 .2 4.9 .2 1.6 .2 1.6 .1-.7 .3 .5 .2 .5 .2-.4 0 .2 .3 .6 .5-.3 .8 .7 .8-1.1 .4 .6 .2-.8 .2 1.1 .1-.1 .3 .7 .2-.1 .2-.5 0-.9 .3-.2 .3-2.8 .2-4 .2-5.7 .3-3.8 .1 .7 .2 .4 0 1.3 .2 2.6 .2 5 .3 4.3 .1 .8 .2 .3 .2 1.1 .2 .7 .2 0 .1-.4 .3 .8 .2-.2 .2-.4 .8 1 .4-1.2 .2 .4 .2-.7 .1 1.3 .3 .1 .2 .1 .2-.1 0-.1 .3-1.2 .3-1.2 .2-1 .2-2.4 .3-2.6 .1-.5 .2 1.4 0 .4 .2 1.7 .2 1.8 .3 2.2 .1-.7 .2 1.8 .2 .1 .2-.2 .2-.6 .1 .5 .3 .9 .2-.7 .2-.8 .8 .1 .4-.2 .2 .2 .2-.4 .1 .6 .3 .8 .2 .1 .2-1 0-.5 .3 .2 .3 .2 .2-1.5 .2-2.3 .3-1.3 .1 1 .2-.1 0 .2 .2 1.1 .2 1.5 .3 .1 .1 1.4 .2 .7 .2-.3 .2 .9 .2-1.2 .1 .5 .3 .1 .2 0 .2-1.1 .8 1.3 .4 .6 .3-.1 .1-1.4 .2 .5 .2-1 .2 .5 .2 0 .1 .5 .3-1.5 .2-1.2 .2-.4 0-.1 .3-2.4 .3-2 0 .4 .2-.4 .2 1.9 .3 3 .3 1.8 0-.3 .2-.1 .2 1.6 .3-.6 .1 0 .2 .7 .2 0 .2 .3 .2-.3 .8-.9 .5-.2 .3 .8 0-.6 .2 0 .2 .7 .3 .5 .1-1.6 .2 1.2 .2-.8 .2-.3 .2-1.4 .1-1.2 .3-2.2 .2-1.3 .1-1.2 .1 .8 0 .5 .3 1.6 .3 1.2 .2 2.2 .2 1.7 .3 .1 .3 .7 0-.2 .2 .1 .2-.8 .3 0 .1-.1 .8-.4 .6 1.1 .2 .1 .2-1.1 .3 1.1 .3-.7 0 .8 .2-1.7 .2 .6 .3-1.7 .1 .1 .2-2.1 .2-2.9 .2-1.3 .2 0 0-.4 .1 .5 .3 2.2 .2 2.8 .2 1.6 0 0 .3 1.4 .3-.1 .2-.1 .2-.3 .3-.2 .3 1 0 .3 .8-1.3 .6 1 .2-.4 0 .7 .3-.4 .3 .6 .2-.1 .2-1.4 .3-.2 .3-.3 0-.5 .2-1.5 .2-3 .3-1.3 .1 .3 .2 .3 .2 2.5 .2 2.4 .2 .2 .1 1.1 .3 .6 .2 .3 .2 .8 0-1.3 .3-.3 .3 .7 .2-.8 .8 1.1 .6-1.2 .2 1.1 .1-.7 .3-.1 .2 .8 .2 .3 0-.8 .3 .9 .3-1.2 .2-.9 .2-1.7 .3-2 .3-1.1 0 .6 0 .8 .2 .2 .2 1.3 .3 2 .1-.1 .2-.2 .2 1.3 .2-.4 .2 .3 .1 .6 .3 .5 .2-.3 .2 .6 0-1.5 .8-.1 .7 .1 .1 .2 .2-.1 .2 1.2 .2-.5 .2 .2 .1-1.1 .3 .4 .2 .6 .2-2 0 .1 .3-2 .3-1 .2-.3 .1-.8 .1 .6 .3 .9 .3 1.9 0-.6 .2 1.8 .2 .8 .3-.7 .1 1.1 .2 .5 .2 .2 .2-1.5 .2 .3 .1-.4 .7-.2 .8 1.4 0-1.1 .2 .9 .2-.6 .3 .5 .1-.4 .2 .1 .2-.9 .2-.7 .2-.3 .1 .2 .3-1.6 .2-1.2 .2-.4 0-.5 .2-1.3 .1 1.2 .3 2.2 .2 1 .2 1.1 .3 1.1 .3 .9 0-1.4 .2 1 .2 .3 .3-.3 .1 .2 .2 .1 .6-.4 .8-.8 .2 1.1 .3-1.1 .3 .4 0 .1 .2-.3 .2-.3 .3-.9 .1-.4 .2-.7 .2-.5 .2-.5 .2-1.4 .1-.8 .1 .8 .2-.4 .2 .7 .2 2.3 0-.8 .3 2.1 .3 1.3 .2-.6 .2 .6 .3-.7 .3-.6 0 .9 .2-.2 .6-.4 .8-.4 .8 1.1 .8-.4 .8 .4 .8 .1 .8-.6 .8 .9 .8 .1 .8-1 .8 .2 .8-.8 .8-.3 .8 .3 .8 .3 .8-.9 .8 1.2 .8-.6 .8 .7 .8-1.1 .8 0 .8 .4 .8-.9 .8-.2 .8 0 .8 .1 .8-.5 .8 .3 .8 .9 .8 .7 .8-.7 .8-.5 .8-.9 .8 .7 .8-.5 .8 1.2 .8-1.3 .8 .7 .8-.2 .8 .6 .8-.5 .8 .4 .8 .1 .8-.4 .8-1 .8 .8 .8-.5 .8-.1 .8-.3 .8 .8 .8 .3 .8 .2 .8-.4 .8-.9 .8 0 .8 .4 .8-.4 .8-.2 .8-.3 .8 1 .8-1.2 .8 1 .8-1.1 .8-.6 .8 1.5 .8-.9 .8 .3 .8 .3 .8-.4 .8-.8 .8 1.3 .8 .2 .8-1.4 .8-.1 .8-.5 .8 1 .8 .5 .8-1.4 .8-.5 .8 1.1 .8-.3 .8-.5 .8 1.2 .8-1.3 .8 .3 .8 0 .8 .7 .8-.8 .8 1.1 .8-.3 .8-.3 .8-.4 .8-.4 .8 .6 .8 .3 .8-1.3 .8 0 .8 .3 .8 .4 .8-.6 .8 .5 .8-.2 .8 .8 .8-.3 .8-1.1 .8 1.1 .8-1.4 .8 .3 .8-.5 .8 .3 .8-.3 .8 .3 .8-.4 .8-.6 .8 .6 .8 .5 .8 .1 .8 .1 .8-1.1 .8 .1 .8-.1 .8-.2 .8 .9 .8 .6 .8-1.6 .8 1.1 .8 .3 .8-.3 .8 .1 .8 .1 .8 0 .8-.1 .8-1.3 .8-.4 .8-.2 .8 .4 .8-.4 .8-.3 .8 .3 .8 .7 .8-1 .8 1.5 .8-.5 .8-.3 .8-.8 .8 1.4 .8 .2 .8-.2 .8-1.3 .8 0 .8 1.1 .8-.6 .8 .3 .8-1.3 .8 .4 .8 .6 .8-1.2 .8-.2 .8-.1 .8 .4 .8-.6 .8 .7 .8 .2 .8 .4 .8-1.1 .8 1.2 .8 0 .8-.7 .8-.3 .8-.1 .8 .2 .8 .7 .8-.2 .8 .1 .8-.8 .8-.2 .8 .6 .8 .1 .8-.9 .8 1 .8-.7 .8-.8 .8 .9 .8-.7 .8-.3 .8 .9 .8-.2 .8-.6 .8-.4 .8 .6 .8 .1 .8-1.2 .8 .2 .8 .7 .8 .6 .8-1.5 .8-.3 .8 .5 .8 1 .8 .3 .8-.5 .8-1.4 .8 .1 .8 .9 .8-1 .8-.5 .8 .4 .8-.1 .8 0 .8 .8 .8 .2 .8-.3 .8-.2 .8-.3 .8-.7 .8 .3 .8 .4 .8-.5 .8-.1 .8-.4 .8-.2 .8 1 .8-.3 .8-.2 .8-.4 .8 .9 .8 .4 .8-.3 .8 .2 .8-.8 .8 .1 .8 .2 .8 .5 .8-.1 .8-1.1 .8 .2 .8 .3 .8 .4 .8-1.5 .8 .3 .8-.3 .8-.7 .8 .4 .8-.2 .8 .4 .8 0 .8-.1 .8 .9 .8-1.4 .8 .9 .8-.6 .8 .8 .8-1.5 .8-.2 .8 1.3 .8-.8 .8-.3 .8 .9 .8 0 .8-.7 .8 .2 .8 .4 .8 .1 .8 0 .8 .3 .8-1 .8 .7 .8-1.6 .8-.5 .8 .8 .8 .5 .8-.1 .8 0 .8-.5 .8 .7 .8 .4 .8-1.1 .8 .2 .8-1.1 .8 .7 .8-.4 .8 .1 .8 .4 .8 .6 .8-.1 .8-1.4 .8 .7 .8-.8 .8 0 .8 .8 .8-1.1 .8 .8 .8-.5 .8 .8 .8 .3 .8 0 .8-.6 .8-.5 .8 .3 .8-1 .8 .1 .8 .4 .8-.8 .8 1.2 .8 0 .8-.9 .8 .1 .8-.9 .8 1.3 .8-.2 .8-.3 .8 .5 .8-.6 .8-.3 .8 .6 .8 .2 .8 .2 .8-.2 .8-.5 .8 .1 .8-.1 .8-1.2 .8-.3 .8-.2 .8 .1 .8 0 .8 1.4 .8-1.3 .8-.1 .8 1.1 .8-1 .8-.5 .8 .2 .8 1.1 .8-.3 .8-1 .8 .6 .8 .8 .8-1 .8-.9 .8 1.4 .8 .3 .8 .1 .8-.3 .8 .1 .8-.1 .8-.2 .8-1.4 .8 1.2 .8-.5 .8 .1 .8-.1 .8-1.1 .8 .5"/></defs>
<use href="#t1" fill="none" stroke="#801a26" stroke-width="1.9" stroke-linejoin="round"/>
<use href="#t1" fill="none" stroke="#3a0e14" stroke-width="0.8" stroke-linejoin="round"/>
<path d="M797 854.3l.8-.6 .8 .6 .8-.2 .8-.2 .8-.9 .8 .4 .8 .6 .8-.6 .8 .1 .8-.3 .8 1 .8 .2 .8 .3 .8 .2 .8-.4 .8 .2 .8-1.5 .8 .1 .8-.1 .8-.1 .8 .3 .8 .3 .8 .7 .8-.8 .8-.2 .8 1 .8-1.4 .8-.4 .8-.1 .8 1.4 .8 .3 .8-.2 .8-.8 .8 .8 .8-.9 .8 .9 .8 .7 .8-.2 .8-1.3 .8-.1 .8-.1 .8 1.2 .8 0 .8-.6 .8-.5 .8-.5 .8 1.1 .8-.6 .8 .5 .8 0 .8 0 .8 .8 .8-1.5 .8-.3 .8 .8 .8-.9 .8 1.4 .8-1.1 .8 1.3 .8 0 .8 .1 .8-1.2 .8-.5 .8 1.5 .8-.7 .8 .8 .8-1.4 .8 .5 .8 .3 .8 .3 .8-.8 .8-.1 .8 1 .8 .5 .8-1.4 .8 0 .8-.4 .8-.1 .8 .3 .8 .7 .8 0 .8-.6 .8-.5 .8 1 .8 0 .8 .5 .8-.1 .8-.1 .8-.4 .8-.9 .8 .7 .8 .3 .8-.5 .8-.3 .8 .5 .8 .6 .8-.8 .8-.4 .8 1.2 .8-.3 .8-.3 .8 .6 .8-1.4 .8-.1 .8 .6 .8-.3 .8 .7 .8-.1 .8 .6 .8-.4 .8 0 .8-.2 .8-.4 .8-.4 .8 1.2 .8 .4 .8-1.2 .8-.9 .8-.1 .8 1.6 .8-.4 .8 .2 .8 .1 .8-.6 .8-.5 .8 .8 .8 .6 .8-.2 .8 .1 .8 0 .8-1.4 .8 .5 .7 .5 .1 .2 .2-1.4 .2 .5 .2 .1 .2 0 .1-.4 .3-.1 .2-1.5 .2-.1 0 .2 .3-4 .3-3.4 .2-2.3 .1-.8 .1 .9 .3 3.5 .3 3.7 0 .1 .2 2.3 .2 1.5 .3 0 .1 .2 .2-.4 .2-.2 .2 1.3 .2 .5 .1-.8 .7-.3 .8-.2 .8 .8 .8-.3 .8-.2 .8 .6 .8-1.3 .8 .4 .8 .8 .8-.3 .3 .4 .3-.9 .2 .4 .2 .5 .3-1.1 .3-.4 0-1.2 .2-.3 .2-3.3 .3-5.7 .1-2 .2-3.8 .2-4.1 .1-1.8 .1 1.6 .2 3.2 .1 1.9 .3 7.3 .2 4.7 .2 2.1 0-.4 .3 2 .3-.1 .2 1 .2 .6 .3 .2 .3-.3 .8-.4 .8-1 .8 1.3 .8-.4 .8-.2 .8-.8 .8-.3 .8 1.2 .8-.1 .5-.7 .3 .3 0-.1 .2 1 .2-1.2 .3 .4 .1-.9 .2 .3 .2-.7 .2-3.9 .2-1.4 .1-2.8 .3-6.9 .2-4.1 .1 .7 .1-.1 0 .8 .3 4.6 .3 6.2 .2 3.6 .2 2.1 .3 1.9 .3 .1 0-.5 .2 1.4 .2 .3 .3-1 .1 0 .8 .4 .8-.5 .1-.6 .3-.2 .2 1.1 .2-.3 0-.2 .3 .8 .3 .1 .2-1.3 .2-1 .3-.7 .3 .1 0-.8 .2-.8 .1-.7 .1-.1 .3 1 .1 1.7 .2 0 .2 1.3 .2 1.1 .2 .7 .1-1.5 .3 .6 .2 .5 .2-1.2 0 .7 .3 .7 .5-.5 .8-.4 .1-.3 .3-.1 .2-.5 .2 .5 0 .4 .3-.9 .3 .6 .2 .2 .2-1.7 .3-2.7 .3-4.2 0-1.8 .2-1.8 .1 .3 .1 .2 .3 3.8 .1 .3 .2 2.9 .2 2.6 .2 2.2 .2 .3 .1-.7 .3-.3 .2 1.5 .2 0 0-1.2 .3-.1 .5 1.2 .8 .1 .8-1.2 .8 .2 .8 .6 .8-.7 .8-.4 .8 1.3 .8-1.1 .8 .1 .8 .6 .2 .1 .3-.1 .3-.9 0 .2 .2-.5 .2 .5 .3-1.9 .1 .6 .2-2.4 .2-4.5 .2-5.6 .2-1.2 .1-.7 .1-1.7 .2 1.4 .2 4.9 .2 3.2 0 1.9 .3 3.9 .3 .9 .2 .2 .2 .7 .3 1 .3-.1 0-.5 .2-.4 .6-.4 .8 .2 .2 1.1 .3-.8 .3 1 0-.4 .2 .2 .2-.2 .3-.7 .1-.2 .2-.7 .2-1.5 .2-2.9 .2-1.2 .1-.1 .1-.6 .2 1.4 .2 2 .2 .5 0 .7 .3 1.3 .3 .4 .2 1.6 .2-.1 .3-.5 .3 .6 0 .3 .2 .5 .6-.5 .8-.6 .4-.5 .2-.2 .2-.2 .1 1.2 .3-.5 .2 1 .2-1.5 0 .3 .3-1 .3-1.8 .2-3.1 .2-6 .3-2.3 .1-.9 .2 1.1 0 .3 .2 3.2 .2 5.4 .3 2.6 .1 1.6 .2-.2 .2 1.5 .2-.1 .2 .4 .1 .1 .3-.2 .2 .4 .2-1.1 .8 0 .4 1.1 .2-.1 .2 .4 .1-1.5 .3 .3 .2-.9 .2 .8 0 .2 .3-1.4 .3-2.1 .2-5.4 .2-5 .3-4.1 .1-1.5 .2 .7 0 .9 .2 5.1 .2 5.8 .3 3.9 .1 .6 .2 .3 .2 2 .2 1 .2-1 .1 1.1 .3 0 .2 .3 .2-1.3 .8-.2 .8 .9 .2-1.2 .3 .1 .3 .5 0-.3 .2-.4 .2-.6 .3-1.2 .1-.6 .2-2.6 .2-5.7 .2-6.9 .2-3.2 .1-2.1 .1-.3 .2 1 .2 5.3 .2 6.3 0 1.3 .3 6 .3 2.1 .2 .8 .2 .1 .3 1.1 .3 .6 0 .2 .2 .2 .6-1.6 .8-.3 .2 .5 .2 .6 .3-1.3 .1 .5 .2-.5 .2 .3 .2-.4 .2-.8 .1-2.5 .3-5.4 .2-10 .2-10.5 0-1.4 .3-9.9 .1-.8 .2 3.2 .2 9.3 .2 12.3 .3 9 .3 4.4 0 1.2 .2 1.5 .2 .8 .3-.5 .1 .7 .2 0 .2 .5 .4 .6 .8-1.2 .7-.6 .1 .8 .2-.5 .2-.6 .2-.4 .2 .1 .1-.3 .3-.5 .2-2.2 .2-6.6 0-1.8 .3-11.9 .3-14.7 .2-10.8 .1-2.6 .1 3.5 .3 12.3 .3 14.4 0 4 .2 8.1 .2 5.6 .3 3 .1 .8 .2-.4 .2 .9 .2 .7 .2-.9 .1 .3 .7 .4 .7-1.3 .1 1.2 .2-1.4 .2-.2 .2-.8 .2-.1 .1 .8 .3-2.7 .2-6.5 .2-10.9 0-5.3 .3-25.6 .3-34.1 .2-24.1 .1-1.5 .1 4.8 .3 27.3 .3 33.3 0 6.7 .2 17.5 .2 14.1 .3 4.2 .1 1.7 .2-.1 .2 2.1 .2-.1 .2 0 .1-.5 .7 1.4 .7-.7 .1 .2 .2-.3 .2 .2 .2 .3 .2 .5 .1 .1 .3-1.2 .2-2.7 .2-4.5 0-.8 .3-9.6 .3-13.4 .2-7.6 .1-2 .1 1.6 .3 10.6 .3 11.3 0 2.8 .2 7.9 .2 4 .3 2.6 .1-.8 .2 1.3 .2-.5 .2-.1 .2 1.5 .1-.9 .7 .7 .8 .3 .5 0 .3-.4 0-1.3 .2-.1 .2 .9 .3-.5 .1-.8 .2-1.3 .2-3.4 .2-9.9 .2-10.2 .1-8.3 .3-20 .2-15.7 .1-.2 .1 1.1 0 2.4 .3 16.7 .3 21.3 .2 15.1 .2 9 .3 2.9 .3 1 0-.5 .2 1.3 .2 .5 .3-.8 .1-.7 .8-.1 .8 .8 .1 .6 .3-.2 .2-.3 .2 .1 0 0 .3-.7 .3 0 .2-1.7 .2-3.3 .3-7.8 .3-7.7 0-.9 .2-5.4 .1-.1 .1 .8 .3 7.2 .1 4.2 .2 4.7 .2 5.7 .2 2.7 .2 1.8 .1 .7 .3 .7 .2-1.3 .2-.4 0 .5 .3 .1 .5-.5 .8 1.2 .1-.3 .3-.6 .2 .3 .2 .3 0-.2 .3 .8 .3-.3 .2-1.4 .2-4.1 .3-6 .3-6.7 0-1.8 .2-4.2 .1 .7 .1 .4 .3 5.8 .1 3.8 .2 2.9 .2 5 .2 3.7 .2 1.2 .1 .1 .3-.7 .2 1.3 .2 .6 0-.7 .3-.1 .5 .2 .8-.9 .1 1.2 .3-1.3 .2 .7 .2 0 0-.7 .3 .7 .3 .2 .2-1 .2-3 .3-4.9 .3-6.8 0-.7 .2-3.2 .1-1 .1 2.3 .3 4.6 .1 2.9 .2 2.9 .2 3.9 .2 2 .2 1.5 .1-.3 .3 0 .2 1 .2-.8 0 .4 .3 .5 .5-.9 .8-.2 .1-.1 .3 .6 .2-.3 .2 .1 0 1 .3-1.5 .3 .4 .2-.6 .2-1.6 .3-5.2 .3-3.7 0-1 .2-2.2 .1-.3 .1 1.1 .3 2.7 .1 1.3 .2 4 .2 2.4 .2 2.2 .2-.1 .1-.2 .3 1.9 .2 .1 .2-.8 0 .2 .3 .2 .5-.4 .8-.3 .8 .6 .4 .9 .2-.5 .2-.5 .1 .2 .3 .3 .2-1 .2 .4 0-1 .3 .9 .3-1.8 .2-3 .2-3.8 .3-1.6 .1-.8 .2 .7 0 .4 .2 3.3 .2 2.6 .3 2.6 .1 .6 .2 .1 .2-.1 .2 .6 .2 .8 .1-.8 .3 .9 .2-.6 .2-.6 .8 .7 .4 .4 .2-1.1 .2 .1 .1 .9 .3-.5 .2-.3 .2 .3 0 .1 .3-1.6 .3-1.6 .2-3.2 .2-2.7 .3-1.7 .1-1.5 .2 1.7 0 .6 .2 1.1 .2 4.2 .3 2.6 .1 1.3 .2 0 .2 1.4 .2 .5 .2-.1 .1-.1 .3-1 .2-.1 .2 .1 .8 1 .8-.1 .7-.7 .1 1 .2 .2 .2-1 .2 .3 .2-.5 .1-1 .3 .8 .2-.9 .2 .1 0 0 .3-2.8 .3-2.2 .2-1.1 .1-.6 .1 .1 .3 2.7 .3 1.9 0-.5 .2 1.8 .2 1.1 .3-.4 .1 1.1 .2 0 .2 .1 .2-1 .2 .3 .1 .3 .7-.4 .7-.4 .1 .5 .2 1.1 .2-.5 .2-.2 .2-.6 .1 .4 .3-.8 .2 1.1 .2-.2 0-1 .3-1.6 .3-1.5 .2-2.1 .1 1.2 .1-.6 .3 2 .3 1.1 0 1.3 .2-.5 .2 .7 .3 .9 .1-.8 .2-.2 .2 1.4 .2 .1 .2-1 .1 .2 .7 .9 .7-.4 .1 .3 .2 .5 .2-1 .2 .5 .2 .1 .1-1.1 .3 .4 .2-.3 .2-1.9 0 0 .3-2.1 .3-3.6 .2-2.5 .1 .2 .1 1 .3 2.3 .3 2.8 0 1.4 .2 2 .2 .5 .3 1 .1-.4 .2 .4 .2-.7 .2 .3 .2-.2 .1 1 .7-1.3 .8 .7 .8 .4 .8-1.3 .8-.4 .8-.1 .8 .6 .8 .5 .8 .6 .8-.1 .8-.6 .8 .5 .2-.9 .3 .9 .3-.1 0 .4 .2-.2 .2-.5 .3-1.1 .1-2.2 .2-1.8 .2-4 .2-5.1 .2-2.7 .1-2.3 .1-1.2 .2 2.1 .2 3.7 .2 4.5 0 2.2 .3 4.8 .3 1.6 .2-.1 .2 .8 .3 .9 .3 .4 0-1.5 .2 1.2 .6-.4 .8-.6 .8 1.1 .8 0 .8-.6 .8-.7 .8 .1 .8-.3 .8 .5 .8 .3 .8-.8 .8-.2 .8 .8 .8 .4 .8-.2 .8-.7 .8-.4 .8 .6 .6 .9 .2 .4 0-.8 .3-.3 .3 .3 .2-.7 .2-.6 .3 .9 .3-1 0-.5 .2-.5 .2-.5 .3-.9 .1-.5 .2-.2 .2 .6 .2 1.6 .2 .3 .1 .4 .3 1.4 .2-.5 .2 .3 0-.3 .3-.2 .3 .7 .2-.5 .8 .3 .8 .4 .8-.1 .8 .1 .8-.3 .8 .5 .8-.9 .8 0 .8 .5 .8-.9 .8-.1 .8 .3 .8-.6 .8-.2 .8 1.4 .8-1 .8 .4 .8 .8 .8-1.3 .8 .6 .8 .2 .8-.5 .8-.4 .8 .5 .8-.8 .8 .5 .8-.5 .8-.2 .8 1.2 .8-1.1 .8-.2 .8 1.2 .8 .2 .8-.9 .8-.5 .8 .2 .8-.8 .8 0 .8 1.5 .8-1.3 .8 .6 .8 .6 .8-.4 .8-1.1 .8 1.2 .8 .6 .8-1.1 .8 .3 .8-.9 .8 0 .8 1 .8 .5 .8-1.1 .8-.9 .8 1 .8-.3 .8 .8 .8-.6 .8 .2 .8-1.2 .8 1.1 .8 .6 .8-.8 .8 .4 .8 .4 .8 0 .8-1.6 .8-.6 .8-.2 .8 1.6 .8 .2 .8-.8 .8 .4 .8 .5 .8-1.5 .8 .6 .8 .7 .8-.3 .8-1.1 .8 .2 .8 .6 .8 .2 .8-.9 .8 0 .8-.8 .8 1.2 .8-.1 .8-.2 .8 .9 .8-.2 .8-1.3 .8 .7 .8-.8 .8 .5 .8 .7 .8-.2 .8-1 .8 .5 .8 .8 .8 .2 .8-1.8 .8 .7 .8-.1 .8-.5 .8 .1 .8 .4 .8 .5 .8-.3 .8-.8 .8 .9 .8 0 .8-.6 .8-.7 .8-.1 .8 .5 .8 .5 .8-.6 .8 0 .8-.8 .8-.3 .8 .5 .8 .5 .8-.9 .8 1 .8-1 .8 .6 .8 0 .8-.4 .8 1 .8-.9 .8 1.1 .8-1.5 .8 .3 .8-.5 .8 1.5 .8-.7 .8-.8 .8 1.4 .8-1.3 .8 1.3 .8-.9 .8 .1 .8-.3 .8 .5 .8 .7 .8-1.4 .8 .4 .8-.3 .8-.7 .8 .1 .8 .6 .8-.3 .8-.3 .8-.2 .8 1.3 .8 .3 .8-1 .8 .9 .8 .1 .8-.4 .8 0 .8-.2 .8-1.1 .8-.4 .8 0 .8 .3 .8 .9 .8 .1 .8 0 .8 .4 .8-1.3 .8-.3 .8-.8 .8 1 .8 .3 .8 .2 .8-.1 .8-.1 .8-1.2 .8-.6 .8-.4 .8 0 .8 1 .8 .5 .8 .2 .8-.8 .8 0 .8 .4 .8-1.5 .8 0 .8-.3 .8 .3 .8-.8 .8 .5 .8-.6 .8 1.2 .8-.3 .8 0 .8-1.1 .8 .9 .8-1.1 .8 .3 .8-.6 .8-.2 .8 1 .8 .4 .8-.5 .8 .1 .8-1.1 .8 .8 .8-.7 .8 .4 .8-1 .8 .9 .8-.1 .8 .2 .8-.6 .8-.9 .8 1.2 .8 0 .8-.5 .8-.7 .8-.1 .8 .9 .8-1.2 .8 1.1 .8-.7 .8-.5 .8 1 .8-1.5 .8 .6 .8-1.1 .8-.2 .8-.1 .8 0 .8-.3 .8 1.1 .8-.1 .8-.9 .8 .6 .8-.1 .8-.6 .8 .3 .8-.1 .8-.6 .8 0 .8 .8 .8-.1 .8-.1 .8-.2 .8-.9 .8 .2 .8 .7 .6-1.3 .2-.1 0 .3 .3-.4 .3 .9 .2 .1 .2 .3 .3-1.6 .3-.6 0 1.2 .2-.7 .2-.5 .3 .2 .1-1.3 .2 .8 .2 .7 .2 .2 .2-.5 .1 .6 .3 1.2 .2-.8 .2 .6 0-.9 .3 .8 .3 .4 .2 .3 .8-1.2 .8-.4 .8 .1 .8 .4 .8 .3 .8-1.1 .8-.8 .8 1.2 .8-.4 .8-1 .8 .6 .8 1 .8-1.2 .8 .8 .8-.1 .8 0 .8 .4 .8-1.2 .8 1.1 .8 .4 .8-1.6 .8 0 .8-.5 .8 .5 .8 1.1 .8 .2 .8-.2 .8-1.1 .8 .6 .8 .1 .8-.5 .8 .2 .8 .6 .8 .1 .8-.9 .8 .5 .8-.5 .8-.6 .8 .9 .8-.9 .8 1 .8 .3 .8-.2 .8-.2 .8-.9 .8 .3 .8-.9 .8 1.3 .8-.5 .8 .5 .8-.2 .8 .5 .8-.2 .8-.4 .8 .4 .8-.4 .8 .4 .8-.4 .8 .3 .8-.5 .8-.6 .8 .3 .8-.6 .8-.5 .8 1 .8-.4 .8 0 .8-.5 .8 1.3 .8-1 .8 .3 .8-.2 .8 0 .8 .1 .8 .6 .8-.1 .8-.3 .8 .3 .8 0 .8-1.4 .8 .2 .8 .1" fill="none" stroke="#1f4f9a" stroke-width="1.9" stroke-linejoin="round"/>
<path d="M797 878.8l.8 .7 .8 .4 .8 0 .8-.9 .8-.7 .8 .5 .8-.8 .8-.3 .8 .3 .8 .8 .8 .4 .8-.3 .8 .1 .8-.3 .8 .8 .8-.6 .8 0 .8-.6 .8 .1 .8 .7 .8-.2 .8-.6 .8-.3 .8 1.3 .8-.5 .8-.4 .8 .2 .8 .4 .8-.3 .8-.5 .8 0 .8-.5 .8 .8 .8 .2 .8 .6 .8-1 .8-.4 .8 1.2 .8 .2 .8-1.1 .8 .3 .8-.7 .8 .9 .8-.2 .8-.7 .8 1.4 .8-.2 .8 .6 .8-1.2 .8 .9 .8-.4 .8-.7 .8 .3 .8 .2 .8-1 .8 1.1 .8-.5 .8 1 .8 0 .8 .2 .8-.4 .8-.9 .8 1 .8-.9 .8 .4 .8-.1 .8 .4 .8-.5 .8-.9 .8 .4 .8-.2 .8 1.1 .8-.8 .8-.3 .8-.5 .8 .3 .8 1.1 .8-.6 .8 .6 .8-.8 .8 .2 .8 .5 .8 .3 .8-1.1 .8 .2 .8 .1 .8-.1 .8-.1 .8 .9 .8 .4 .8-1.5 .8-.3 .8 1.2 .8 .4 .8-.4 .8-.9 .8 .4 .8 .3 .8-1.1 .8 .2 .8 .7 .8 0 .8-.9 .8 .9 .8-.6 .8 .6 .8-.1 .8-.8 .8-.2 .8 .4 .8 .4 .8 .2 .8-.8 .8 1.4 .8-.8 .8 .5 .8-.1 .8-.3 .8 .6 .8-1 .8-.6 .8 .5 .8-.7 .8-.2 .8 .5 .8 .3 .8 .7 .8 .6 .8-1.3 .8-.5 .8 .7 .8-.4 .8 .9 .8-1.1 .8 .1 .8-.2 .8 .7 .8 .2 .8-.9 .8 1.1 .8-.1 .8-.4 .8 1 .8-.3 .8 .2 .8-1.2 .8 .9 .8-.8 .8 0 .8 .2 .8 .5 .8 .1 .8-.8 .8 1 .8-.9 .8 .5 .8 .6 .8-.4 .8-1.2 .8-.3 .8 1 .8-.6 .8 .7 .8 .1 .8 .7 .8-.3 .8-.6 .8 0 .8-.1 .8 .7 .8-1 .8 .4 .8-.4 .8 .3 .8 .6 .8 .2 .8-.1 .8 0 .8-.7 .8-.4 .8 .9 .8-.7 .8-.8 .8 .2 .8 .3 .8-.6 .8 1.2 .8-.2 .8-.3 .8-.4 .8 .2 .8 .6 .8-.4 .8 0 .8-.7 .8 1.5 .8-.1 .8-1.3 .8 1 .8 .4 .8-.1 .8-.7 .8-.2 .8 .9 .8-1.3 .8 .9 .8 .6 .8 0 .8-.8 .8-.9 .8 .3 .8-.3 .8 .3 .8 .8 .8-.9 .4 .3 .2-.6 .2 .3 .1-.5 .3 1.1 .2-.2 .2-.6 0-.5 .3-.3 .3-.1 .2 .3 .2-2.2 .3-.4 .1 .1 .2-1.1 0 1.5 .2 .5 .2 1 .3 .3 .1-.2 .2 1.8 .2-.7 .2 .4 .2-.6 .1 1.3 .3 .1 .2-.9 .2 .2 .8 .4 .4-.9 .3 .9 .1 .1 .2-1.1 .2-.3 .2 .7 .2 .3 .1-.7 .3 .6 .2-1.5 .2-.9 0-.8 .3-3.2 .3-.2 0-.3 .2 .3 .2 1.2 .3 3.2 .3 .8 0 .3 .2 .6 .2 1.1 .3 0 .1 .4 .2 0 .2 .3 .2-.7 .2-.3 .8 .2 .5-.1 .3-.8 0-.2 .2 .2 .2 .7 .3-1.2 .1-.1 .2-.3 .2 1.4 .2-1.6 .2 .5 .1-.6 .3-1.1 .2-2.4 .1 .6 .1 .4 0-.3 .3 1 .3 1.3 .2 .4 .2 2 .3 .3 .3 .5 0-1.5 .2 1 .2-.2 .3-.7 .1 .1 .8 .8 .6-1.2 .2 .2 .2 .2 .3-.3 .3-.4 0-.4 .2-.1 .2 .5 .3-.2 .1-.1 .2-2.4 .2-2.4 .2-1.9 .2-.2 0 .3 .1 1.7 .3 2.1 .2 2 .2 .5 0-.6 .3 .8 .3 .1 .2 .1 .2 0 .3 .2 .3 1.1 0 .1 .8 .1 .6 0 .2 .2 0 .1 .3 .3 .3 .1 .2-1.1 .2 .3 .3 .1 .3-.7 0 .1 .2-2.6 .2-.3 .3-1.2 .1-.7 .2-.3 .2 1 .2 1.3 .2 .9 .1 1.5 .3 1.1 .2-1.1 .2 .8 0-.3 .3-.9 .3 1 .2-.9 .8 .3 .8 .7 .7-1.1 .1 .5 .2-.1 .2 .6 .2-.8 .2-.5 .1 .7 .3-1.1 .2-1.6 .2-1 0-1.2 .3-4.9 .3-8 .2-4.5 .1 0 .1-.1 .3 6.8 .3 5.8 0 1.1 .2 5.2 .2 2.5 .3-.1 .1 1 .2-.2 .2 .6 .2 .5 .2-.3 .1 0 .7 .6 .7 .2 .1 0 .2-.2 .2-1.1 .2-.7 .2 1.1 .1-.9 .3-.2 .2-1.2 .2-3.2 0-1 .3-5.3 .3-7.7 .2-4.6 .1-1.7 .1 .8 .3 6 .3 7.9 0 .6 .2 4.1 .2 4.5 .3 .9 .1-.3 .2 .1 .2-.1 .2 .2 .2-.3 .1 .3 .7-.3 .8-.1 .5 .1 .3 1 0 .3 .2 .4 .2-.9 .3-.9 .1 .7 .2-1.9 .2-3 .2-6.3 .2-5.6 .1-4.3 .3-13.9 .2-11.2 .1-1.8 .1 1.8 0 .4 .3 12.8 .3 14.1 .2 9.5 .2 4.9 .3 3.2 .3 .3 0 0 .2 .2 .2 1.5 .3-1.2 .1 .6 .8 .9 .5-1.6 .3 .4 0 .6 .2-.3 .2-.3 .3-1.3 .1-.6 .2 0 .2-3.2 .2-6.2 .2-6.8 .1-5.7 .3-14.3 .2-9.8 .1-1.1 .1 1.1 0 1.8 .3 11.8 .3 13.6 .2 11.5 .2 5.6 .3 1.8 .3 .5 0 1.3 .2-.8 .2-.2 .3 .7 .1-.6 .8 1.1 .8-.1 .1-1 .3 0 .2 .2 .2-.1 0 .6 .3-1.2 .3-2.6 .2-5.1 .2-14.4 .3-23.5 .3-29.7 0-4.9 .2-15.2 .1-2.6 .1 5 .3 23.5 .1 12.7 .2 17.8 .2 21.1 .2 10.8 .2 3 .1 1.9 .3 2.3 .2-.1 .2 0 0 1.4 .3-.2 .5-.7 .8 .5 .1-.5 .3 0 .2 1 .2-1.1 0 .9 .3-1.1 .3-.9 .2-3.1 .2-6.2 .3-10.9 .3-14.7 0-2.4 .2-7.3 .1-1.3 .1 3.3 .3 10.6 .1 6.2 .2 7.8 .2 10.4 .2 5.4 .2 2.9 .1 .2 .3-.1 .2 .3 .2 .3 0 1.3 .3 .4 .5-.2 .8 .3 .8-1.1 .4 .8 .2-.5 .2-.6 .1-.1 .3-.4 .2-.6 .2-.4 0 1 .3-3.2 .3-3.8 .2-9.9 .2-10.1 .3-7.8 .1-1 .2 .7 0 1.8 .2 7.5 .2 11.2 .3 9.3 .1 1.1 .2 2.4 .2 2 .2 .5 .2-.6 .1 1 .3-.4 .2 .6 .2-.5 .8 .8 .4 .2 .2-1 .2 .2 .1 .4 .3-1.2 .2 1 .2-.8 0 .3 .3-2.6 .3-3.5 .2-5.9 .2-9 .3-6 .1-1 .2 2.3 0 .5 .2 5.7 .2 8.4 .3 6.7 .1 1.2 .2 2 .2 1 .2 1.2 .2-.8 .1 .8 .3-.2 .2-.8 .2-.2 .8-.4 .4 1.5 .2-.2 .2-.2 .1-.1 .3-.6 .2-.2 .2 .6 0-1.1 .3 .2 .3-2.2 .2-6.4 .2-6 .3-4.3 .1-.5 .2 1.6 0 .9 .2 3.4 .2 5.8 .3 5.4 .1 1.8 .2-.2 .2 .4 .2 1.6 .2 .3 .1-1 .3 .6 .2 .5 .2 .1 .8-.1 .8-.8 .7 .9 .1-1 .2 .4 .2-.5 .2 .2 .2 .4 .1-.8 .3 .6 .2-.2 .2-1.7 0-1.2 .3-2.5 .3-4.5 .2-3.5 .1 .3 .1 .1 .3 4.6 .3 2.9 0 .8 .2 2.9 .2 1.2 .3 .3 .1-.6 .2-.2 .2 .8 .2 .6 .2 .6 .1-.7 .7 .2 .7 .5 .1-.4 .2 .3 .2 .2 .2-.8 .2-.6 .1 1 .3-1.4 .2 0 .2-.3 0-.4 .3-3.3 .3-3 .2-2.8 .1-.2 .1 1 .3 3.3 .3 2.7 0 .4 .2 2.2 .2 .4 .3 .6 .1 .2 .2-.3 .2-.4 .2 .9 .2-1 .1 .1 .7 .5 .7 1.1 .1-1.1 .2 1 .2 0 .2 .4 .2-1.6 .1 1.2 .3-.8 .2 0 .2-.8 0-1.7 .3-1.4 .3-2.2 .2-2 .1-1.4 .1 1.6 .3 1.9 .3 2.1 0 1.5 .2 1.4 .2 1.3 .3 .4 .1-.4 .2-.5 .2 .1 .2-.7 .2 .1 .1 1 .7-.2 .7-.4 .1 0 .2 .4 .2-.1 .2 0 .2 .7 .1 .4 .3-.3 .2-1.8 .2-1.4 0-.3 .3-1.7 .3-1.3 .2-1.9 .1-1 .1 1.2 .3 2.5 .3 2.8 0-.8 .2 .7 .2 1.2 .3 .6 .1 1 .2-1.3 .2 .2 .2 1.1 .2-.1 .1-1 .7-.3 .7 1 .1-.4 .2 .2 .2 .3 .2 .4 .2-.8 .1 .2 .3 .2 .2 .2 .2-2.2 0-.4 .3-1 .3-2.2 .2-1.8 .1 .6 .1 .8 .3 1.8 .3 .7 0 1.6 .2 .8 .2 .2 .3 .5 .1 .5 .2-.9 .2 .5 .2 .9 .2-.3 .1-.5 .7-.1 .8-.4 .8-.4 .8 .3 .8 .4 .8-.7 .8 .9 .8 .5 .8-.5 .8 .2 .8-.1 .8-.8 .8-.6 .8 .9 .8 .4 .8-.5 .8 .7 .8-.3 .8-1.4 .8 .9 .8-.8 .8 .7 .8-1 .8 1.3 .8-.4 .8-.6 .8 0 .8 0 .8 .7 .8-1.3 .8 .7 .8-.1 .8-.7 .8 .9 .8-.1 .8 0 .8 .6 .8-.9 .8 .6 .8-.7 .8-1 .8-.2 .8-.2 .8 0 .8 .1 .8 .9 .8-.9 .8 .1 .8 .2 .8 1 .8-1 .8 .8 .8 .4 .8-.6 .8-.3 .8-1 .8-.3 .8 .1 .8 0 .8 .2 .8-.5 .8-.3 .8 .7 .8 0 .8-.7 .8 .3 .8-.2 .8 .7 .8 .6 .8-.1 .8-.7 .8 0 .8 0 .8-.6 .8-.6 .8 .3 .8 .1 .8-.5 .8 .2 .8 .5 .8-.9 .8 0 .8 .5 .8-.8 .8 .4 .8 .5 .8 .6 .8-.2 .8-.3 .8-.1 .8-.7 .8 .6 .8-1.2 .8 1.4 .8-.4 .8-.1 .8-.5 .8-.2 .8-.1 .8-.6 .8 .9 .8-.7 .8 1 .8 .1 .8-1.4 .8-.3 .8 .2 .8-.3 .8 1.1 .8-1 .8 .1 .8 1.1 .8-1.2 .8 .3 .8 .1 .8 .3 .8 .3 .8 .2 .8-1.2 .8 0 .8-.1 .8-.6 .8 1.2 .8 .2 .8-.8 .8 0 .8-.7 .8-.3 .8 0 .8 1 .8-1 .8 .2 .8 .7 .8-.2 .8 .6 .8-.9 .8 .4 .8-.8 .8 0 .8 .7 .8 .2 .8-.8 .8 .1 .8 0 .8 .7 .8-.2 .8-.3 .8 .2 .8-1.1 .8-.3 .8 1 .8-.8 .8 .6 .8-.4 .8-.1 .8 .6 .8-1.5 .8 .4 .8-.7 .8 1.4 .8-1.1 .8-.6 .8 1.4 .8-.3 .8 .1 .8 .1 .8 .4 .8-.2 .8-1.3 .8-.5 .8 1.1 .8-.7 .8 0 .8-.8 .8 .3 .8-.5 .8 .8 .8 .1 .8 .6 .8-.6 .8 .2 .8-1 .8 .5 .8-.8 .8 .4 .8 0 .8 .4 .8 .3 .8-.5 .8-.2 .8 .8 .8-1.3 .8 .4 .8 .8 .8-.1 .8-.9 .8-.1 .8-.2 .8 .1 .8-.1 .8 .3 .8-.3 .8-.7 .8 .8 .8 .7 .8-.3 .8-1.4 .8 0 .8 .4 .8 .7 .8-1 .8 1 .8-.5 .8-.4 .8-.7 .8 .4 .8-.2 .8 1 .8-1.1 .8-.3 .8 .2 .8-.4 .8 1 .8 .4 .8 .1 .8-.8 .8-.4 .8 .3 .8-.2 .8-1 .8 .9 .8 .5 .8-.7 .8-.4 .8 1.1 .8-.1 .8-.4 .8 .1 .8-.9 .8-.2 .8-.1 .8 .4 .8 .4 .8-1 .8-.5 .8 .3 .8-.1 .8 1.2 .8-1.1 .8-.3 .8 1.1 .8-.8 .8 .6 .8-1.2 .8 1 .8-.9 .8 .6 .8 .7 .8-1.1 .8-.6 .8 0 .8 .3 .8-.7 .8 .2 .8 .6 .8-.7 .8 0 .8 .9 .8-.6 .8-.8 .8 1.2 .8-.7 .8 1.1 .8-1.3 .8-.5 .8 .1 .8 1.4 .8-1.4 .8 .5 .8-.1 .8 .1 .8-1 .8 1.4 .8-.3 .8-.9 .8 1.2 .8-1.2 .8 .5 .8-1 .8 0 .8 1.3 .8-.5 .8-.8 .8 1.1 .8-.6 .8-.3 .8-.6 .8-.2 .8-.1 .8 .7 .8-.3 .8 .2 .8 .7 .8-1 .8-.5 .8 .8 .8 .3 .8 .5 .2-.6 .2 .1 .3-.6 .1-.3 .2 .2 .2 .5 .2 .3 .2-1.4 .1 1.2 .3-.4 .2-1.2 .2 .5 0-.7 .3 .7 .1 .9 .2-1.4 .2 1.3 .2-.5 .3-.6 .3 .9 0-.2 .2 .8 .2-1.3 .3 .2 .1-.6 .2 1.1 .2-1 .4-.2 .8 .7 .8 .6 .8 .6 .8-.1 .8-.3 .8-1.3 .8 .1 .8 .4 .8-.6 .8-.1 .8 .8 .8 .3 .8-.2 .8-1.1 .8-.1 .8 .4 .8 .3 .8 .2 .8-.8 .8-.8 .8 1.5 .8-.3 .8-1.2 .8-.4 .8 .4 .8 1.2 .8-.9 .8-.4 .8 .6 .8 .1 .8-.1 .8 .7 .8-.5 .8-1.4 .8 1.1 .8 .6 .8-.1 .8-1.1 .8-.1 .8 .7 .8 .1 .8 .2 .8-1.3 .8 .3 .8-.5 .8 0 .8 1.1 .8-.6 .8 .4 .8-1.5 .8-.1 .8 1 .8-.6 .8 .5" fill="none" stroke="#c4331d" stroke-width="1.9" stroke-linejoin="round"/>
<path d="M797 950.5l.8-.4 .8 .3 .8 1.4 .8-.9 .8 .7 .8 .3 .8-.5 .8-.7 .8 1 .8 .6 .8-.9 .8 0 .8-.8 .8 .8 .8 .1 .8-1.1 .8 1.1 .8 0 .8-1 .8-.4 .8-.2 .8 1.8 .8 .2 .8 .1 .8-.5 .8-.9 .8-.4 .8 .6 .8 .8 .8-.5 .8-.6 .8 .3 .8 .3 .8 .8 .8-1.1 .8 .1 .8-.2 .8 .8 .8-.8 .8 .7 .8 .4 .8-.5 .8 0 .8 .7 .8-1.4 .8-.6 .8 .5 .8 .5 .8 .2 .8-.9 .8-.3 .8 1.5 .8 .3 .8-1 .8-.5 .8 .8 .8-.4 .8-.1 .8-.6 .8 1.6 .8-.2 .8-1.2 .8-.2 .8 1.4 .8 0 .8-.7 .8 .4 .8-.7 .8-.5 .8 1.4 .8-.6 .8 0 .8 .9 .8-.9 .8 0 .8-.8 .8 .6 .8 1.1 .8-.3 .8-.9 .8-.6 .8 .5 .8 1 .8-.1 .8-.2 .8-1 .8-.2 .8 1.3 .8-.8 .8 .9 .8 .5 .8-.3 .8-.4 .8-.2 .8 .5 .8 .6 .8-1.7 .8-.3 .8 .1 .8 1.2 .8-.2 .8 0 .8 .5 .8-1.3 .8 .7 .8 .5 .8-.3 .8-.3 .8 .7 .8 .4 .8-1.6 .8-.2 .8 1.3 .8-.9 .8 .6 .8 .2 .8-.2 .8-.8 .8 .6 .8 .7 .8-1.2 .8 1 .8 .3 .8-.4 .8-.1 .8-1.2 .8 .9 .8 .5 .8-.9 .8 .1 .8 .3 .8 .3 .8 .1 .8-1.2 .8 .9 .8 .6 .8 .1 .8-.8 .8-.3 .8-.7 .8 1.1 .8-1.2 .8 .3 .8-.2 .8 1.4 .8-.2 .8-.5 .8 .3 .8 .4 .8-1.3 .8 .5 .8-.5 .8 1.2 .8 0 .8-.1 .8-.4 .8 .6 .8-1 .8 1.1 .8 .1 .8-1.1 .8 .5 .8-.6 .8-.3 .8-.2 .8 .4 .8 .6 .8-.2 .8 .2 .8-.9 .8-.2 .8 .6 .8 1 .8-.5 .8 0 .8-.4 .8 .3 .8-.9 .8 1.3 .8-.4 .8 .8 .8-.1 .8-1.2 .8 .4 .8-.8 .8-.2 .8 .5 .8 0 .8 .2 .8 .5 .8 .7 .8-.3 .8-.2 .8 .5 .8-.4 .8 .4 .8-.6 .8 .6 .8-1.4 .8 1 .8-1.4 .8 1 .8-.3 .8 .9 .8-.6 .8-.3 .8-.9 .8 1.4 .8 0 .8-.4 .8-.8 .8 1.2 .8-.7 .8-.1 .8 .1 .8-.5 .8 1 .8-.7 .8-.1 .8 0 .8 .1 .8 .7 .8-.3 .8 .7 .8 .1 .8 0 .8-1.1 .8 .5 .8-.7 .8-.2 .8 .4 .8 .2 .8 .7 .8-1.4 .8 .5 .8-.4 .8 .5 .8-.7 .8 1.3 .8-1 .8-.4 .8 1.4 .8-1.1 .8-.2 .8 .8 .8-.1 .8 .8 .8-.8 .8-.6 .8 .4 .8-.8 .8 1.2 .8-.9 .8 .3 .8-.4 .8 .1 .8 .7 .8-.9 .8 1.3 .8-.9 .8-.5 .8 1.3 .8 .2 .8 .1 .8-.3 .8-.5 .8-.6 .8 .7 .8 .3 .8 0 .8-.8 .8 1.1 .8 .2 .8-1 .8 .3 .4 .5 .2 0 .2-.3 .1 .4 .3-.4 .2-.4 .2 .3 0-.9 .3 .8 .3-1.8 .2-1.1 .2-.1 .3-1.1 .1 .3 .2-.8 0 .2 .2 1 .2 1 .3 1.7 .1 .8 .2 .3 .2-.9 .2-.2 .2 .4 .1-.7 .3-.2 .2 1 .2 .1 .8 .5 .8-.4 .2-.4 .3-.8 .3 .9 0 .8 .2-.4 .2-.4 .3-.2 .1-1 .2-.2 .2-1.3 .2-1.1 .2-1.8 .1-1.1 .1 .9 .2 .6 .2 1.8 .2 .8 0 .5 .3 1.4 .3-.3 .2 0 .2 1.6 .3 .3 .3-1.4 0 .8 .2-.7 .6 .4 .8 .7 .4-.9 .2-.3 .2 1 .1-.3 .3 .5 .2-.6 .2 .2 0-.2 .3-.9 .3 .1 .2-1.4 .2-3.4 .3-.9 .1 .8 .2-.3 0 .7 .2 1.4 .2 2.1 .3-.1 .1 1.3 .2-.8 .2 .9 .2 .2 .2 .3 .1-.5 .3 0 .2 .6 .2 .2 .8 .5 .8-.2 .2 .2 .3-.3 .3-.2 0 0 .2-1.2 .2 .2 .3 .2 .1-.5 .2-.2 .2-3 .2-1.2 .2-1.7 .1 .5 .1-.7 .2-.4 .2 1.8 .2 1.5 0 .4 .3 1.6 .3 .7 .2 .4 .2 0 .3 .3 .3 1.2 0-.1 .2 .4 .6-.6 .8-.7 .4 1.3 .2 .2 .2 .2 .1-.2 .3 .1 .2-.9 .2-.1 0 .5 .3-1 .3-1.9 .2-1.2 .2-1.7 .3-2.3 .1-.9 .2 .5 0 1.3 .2 1.3 .2 3.1 .3 1.6 .1-.4 .2 1.2 .2 .7 .2-.1 .2-.9 .1 .4 .3-.3 .2 .7 .2-1.2 .8 .5 .8 .2 .2-.6 .3 .2 .3-.6 0-.3 .2 1.3 .2 0 .3-1.5 .1 .1 .2-.5 .2-1.9 .2-4.2 .2-2 .1 .4 .1-1 .2 .4 .2 3.5 .2 2 0 1.3 .3 1.8 .3 1.5 .2-.3 .2 .9 .3-.8 .3 .5 0-1.1 .2 1.2 .6-.1 .8-.4 .4 .8 .2 .1 .2 .3 .1-.1 .3-.2 .2-1.2 .2 .3 0-.2 .3-.3 .3-2 .2-2.7 .2-3.3 .3-1.2 .1-.7 .2-.3 0-.1 .2 3.7 .2 3.1 .3 2 .1-.1 .2 1.5 .2-.5 .2 .1 .2 .3 .1 .1 .3 .4 .2 .7 .2 .2 .8-1.4 .8-.3 .2 .1 .3 .7 .3 .8 0-.7 .2-.5 .2-.5 .3-.8 .1-.8 .2-.8 .2-2.3 .2-3.4 .2-1.9 .1-.7 .1-.6 .2 1.2 .2 2.7 .2 3.4 0 0 .3 1.8 .3 2.4 .2 .2 .2 .5 .3-.4 .3 .4 0 .6 .2-.2 .6-.9 .8 .1 .4 .8 .2-1.1 .2-.3 .1 .6 .3 1.2 .2 .1 .2-.1 0-.1 .3-1.6 .3-1.4 .2-4 .2-2.7 .3-2.7 .1-1 .2 .2 0 1.3 .2 1.8 .2 3.5 .3 3.1 .1 .6 .2 .5 .2 .3 .2 0 .2 .6 .1 .3 .3 .6 .2 .8 .2-1 .8-.3 .2 1 .3-.5 .3-.4 0-.7 .2 1 .2-.4 .3-2 .1 .1 .2-2.4 .2-5.8 .2-4.9 .2-4 .1 0 .1-1.4 .2 2.2 .2 4.4 .2 4.3 0 1.6 .3 5.3 .3 2 .2 1.4 .2-.5 .3 .6 .3-.1 0-.3 .2 .5 .6-.2 .8-.9 .4-.2 .2 .5 .2 .1 .1 .4 .3-.6 .2 .1 .2-1.4 0 .5 .3-1.7 .3-5.4 .2-6.5 .2-8.9 .3-7.5 .1-.9 .2 1.8 0 .8 .2 6.2 .2 9.3 .3 6.5 .1 2.5 .2 1.3 .2 2.8 .2-.3 .2 0 .1 0 .3 0 .2 .4 .2 1 .8-.8 .8-.9 .2 .5 .3 .7 .3-1.4 0-.5 .2 .2 .2-.4 .3-3.8 .1-1.6 .2-5.2 .2-14.6 .2-15.6 .2-8.8 .1-3.3 .1-.9 .2 2.3 .2 13.2 .2 12.8 0 4 .3 12.7 .3 6.2 .2 3.3 .2 .9 .3-.5 .3 .3 0-.4 .2 .1 .6-.2 .8 .6 .3 .2 .3-.9 .2-.1 .2 .5 .3-.6 .3-1.7 0-.1 .2-5.2 .2-12 .3-19.8 .1-9.6 .2-14.1 .2-17.3 .1-2.3 .1 3.8 .2 11.8 .1 8 .3 24.6 .2 17.4 .2 9.4 0 2.2 .3 4 .3 .6 .2 .6 .2 .3 .3 .6 .3 .1 .8 .3 .5-1.5 .3-.4 0 .3 .2-.6 .2-.8 .3 .6 .1-1.5 .2-1.5 .2-4.7 .2-11.1 .2-11.6 .1-9.6 .3-26.1 .2-18.9 .1-1.4 .1 2.3 0 1.8 .3 21 .3 26.6 .2 18.1 .2 11.4 .3 4.4 .3 .1 0 .1 .2-.1 .2 1.2 .3 .7 .1 .6 .8-1.3 .8 1.1 .1-.5 .3-.8 .2-.5 .2 1.1 0-1 .3 .5 .3-.9 .2-5.3 .2-9.1 .3-15 .3-18.5 0-2.7 .2-10.8 .1-1.2 .1 3.3 .3 15.4 .1 7.9 .2 11.3 .2 14.4 .2 7.3 .2 1.7 .1 .8 .3 .2 .2 1.8 .2-1.1 0-.1 .3 .1 .5 1 .8-.3 .8 .3 .2-1.1 .3 0 .3 .3 0 .9 .2-.8 .2-1 .3-4 .1-1.4 .2-6.4 .2-12.6 .2-15.6 .2-9 .1-2.5 .1-2.1 .2 2.9 .2 12.6 .2 13.6 0 3.5 .3 11.4 .3 5.9 .2 3 .2 .4 .3 .4 .3 1.5 0-.7 .2-.5 .6 .4 .8-.2 .4 .6 .2-.8 .2 .2 .1 .4 .3 .8 .2-.4 .2 0 0-1.8 .3-1.3 .3-4.5 .2-6.3 .2-9.3 .3-6 .1-.3 .2 2 0 .8 .2 4.9 .2 8.5 .3 6.1 .1 2.2 .2 1.4 .2 1.1 .2 2.2 .2 .4 .1 .2 .3 .4 .2-1.5 .2 .9 .8-.3 .8-.4 .2-.7 .3 .8 .3-.5 0-.5 .2 1.3 .2-1.6 .3 .3 .1-.5 .2-2.5 .2-3.8 .2-4.5 .2-3.7 .1-.6 .1-1.3 .2 .6 .2 5.1 .2 3.7 0 1.8 .3 3.3 .3 1.3 .2 1.9 .2-.2 .3-.2 .3 .6 0-.3 .2-.7 .6 .7 .8 .1 .4-.2 .2-.1 .2 .9 .1 .3 .3-1.4 .2 .3 .2-1.1 0 .2 .3 .4 .3-1.4 .2-2.9 .2-2.8 .3-2.8 .1 .5 .2-.9 0 .6 .2 2.5 .2 3.6 .3 2.3 .1-.3 .2 .6 .2 1.8 .2-.1 .2-.8 .1 .9 .3 .3 .2 .3 .2-.9 .8-.9 .8-.6 .2 .1 .3 .4 .3 .8 0-1.2 .2 .6 .2 .1 .3-1.5 .1 .5 .2-.1 .2-3.1 .2-2.7 .2-.1 .1-.1 .1-1.7 .2 1.7 .2 2.1 .2 1 0-.2 .3 2.8 .3 .8 .2-.3 .2 1.4 .3-.4 .3 .6 0-1.1 .2 .7 .6 .6 .8-.5 .8-.4 .1 .1 .3-.6 .2-.6 .2 1.3 0-.4 .3-.9 .3 1.2 .2-.9 .2-.3 .3-2.5 .3-2.6 0-.5 .2-1 .1 .5 .1-.5 .3 1.4 .1 .3 .2 1.2 .2 3.4 .2-.3 .2 1 .1-.9 .3-.2 .2 .1 .2 .5 0 .1 .3 .9 .5 .1 .8 .5 .1-.4 .3-.5 .2-.9 .2 .9 0-.6 .3 .7 .3 .5 .2-1.2 .2-.7 .3-2.1 .3-1.8 0 .3 .2-1.5 .1-.2 .1 1 .3 1.6 .1-.1 .2 1.1 .2 2.2 .2-.7 .2 .3 .1 .6 .3-.7 .2 .1 .2 .8 0 .6 .3-.5 .5-.2 .8-.8 .8-.3 .8-.1 .8-.1 .8 .9 .8-.6 .8 1.4 .8-1.2 .8-.4 .8 .7 .2 .9 .3-1.4 .3 .4 0 .9 .2-1.6 .2 .1 .3 .1 .1-.6 .2 .9 .2-1.2 .2-1.7 .2-.2 .1 .7 .1-1.3 .2 1.3 .2 0 .2 .1 0 .1 .3 1.9 .3-.3 .2-.2 .2 .5 .3 .7 .3-1.2 0 1.1 .2 0 .6-.9 .8-.3 .8 1.1 .8-.8 .8 .3 .8-.3 .8 .3 .8-.7 .8-.5 .8 .9 .8 .2 .8 .2 .8-.9 .8 .5 .8-.2 .8 .9 .8 .1 .8-.3 .8 .1 .8-1.2 .8-.7 .8-.4 .8 1.3 .8 .6 .8-1.6 .8-.4 .8 .8 .8-.8 .8-.1 .8 0 .8 1.2 .8-1.2 .8 1.1 .8-.2 .8-.3 .8 .3 .8 .3 .8-.4 .8-.7 .8-.7 .8 1.3 .8-1.2 .8 .6 .8 .4 .8 0 .8 .2 .8-.3 .8 .3 .8-1.2 .8 .8 .8-.8 .8 1 .8-.5 .8 0 .8-.5 .8 .8 .8-.9 .8 .9 .8-.4 .8 .4 .8-1.6 .8 .4 .8-.3 .8-.5 .8 1.2 .8-1.2 .8-.2 .8 .3 .8 1.1 .8 .2 .8-.1 .8 .2 .8-.4 .8-.9 .8-.4 .8-.3 .8 .1 .8 0 .8 1.2 .8-1.4 .8-.4 .8 .2 .8-.2 .8 1.2 .8-.2 .8-.5 .8-.5 .8 .5 .8 .2 .8-.7 .8 .5 .8-.1 .8-.7 .8 .7 .8-.4 .8 1 .8-.4 .8-.1 .8 .2 .8-.9 .8 .2 .8 .8 .8-.2 .8-.6 .8 .6 .8-.8 .8-.5 .8 0 .8 .6 .8 .3 .8 .3 .8-.3 .8-1.2 .8 .3 .8-1 .8 1.5 .8-.9 .8-.6 .8 .6 .8-.8 .8-.3 .8 1.4 .8-.3 .8 .8 .8-1.6 .8 .4 .8-.7 .8 .5 .8 .4 .8-.3 .8 .2 .8 .7 .8-.8 .8 .1 .8-.4 .8-.9 .8 .7 .8 .3 .8 0 .8-.7 .8 1 .8-.2 .8 .2 .8-.8 .8 .8 .8-1.3 .8 .2 .8 .1 .8 .2 .8-1 .8 .6 .8 .7 .8-.4 .8-.7 .8-.8 .8 .3 .8 .1 .8 1.1 .8-1.2 .8-.1 .8 .8 .8-.1 .8-.6 .8 0 .8 .4 .8-1.2 .8 .6 .8-.7 .8 .6 .8-.5 .8 0 .8 .4 .8 .3 .8 .4 .8-1 .8 .2 .8 .9 .8-.7 .8-.9 .8-.1 .8 1.2 .8-.2 .8-.4 .8-.5 .8 .3 .8-.2 .8 1 .8-.6 .8 .4 .8 0 .8 .2 .8-1.5 .8-.1 .8-.7 .8 .9 .8-.5 .8 .8 .8 0 .8 0 .8-.9 .8 .2 .8-.9 .8-.3 .8 .9 .8 0 .8 .9 .8 0 .8-1.4 .8 1.1 .8 .1 .8-.4 .8-.6 .8-.2 .8 .6 .8-.3 .8 .1 .8-.9 .8-.5 .8 .5 .8 1.1 .8 0 .8 .1 .8-1.1 .8 .8 .8-1.1 .8 .5 .8-.9 .8-.5 .8 .4 .8 0 .8 1.2 .8-1 .8-.3 .8-.5 .8 1.1 .8-1.1 .8-.3 .8 .8 .8 .5 .8-.6 .8 .8 .8-.2 .8 .3 .8-1 .8 .9 .8-1.4 .8-.5 .8-.2 .8 1.1 .8-.2 .8 .4 .8 .4 .8-.8 .8 .3 .8-.6 .8 .7 .8 .1 .8 .1 .8 0 .8 0 .8-.4 .8-.2 .8-1.3 .8 .1" fill="none" stroke="#e6a81e" stroke-width="1.9" stroke-linejoin="round"/>
<path d="M797 976.2l.8 .5 .8 .4 .8-1.2 .8-.2 .8-.3 .8 0 .8 .8 .8-.6 .8 .8 .8 .4 .8 .4 .8-.4 .8-.4 .8-.6 .8 .5 .8-.4 .8-.3 .8 .2 .8-.6 .4-.3 .2-.1 .2 1.3 .1 .7 .3-.7 .2 .3 .2-.1 0-.6 .3 .1 .3-1.9 .2-1.4 .2-2.3 .3-1.6 .1-.3 .2 .7 0 .3 .2 1.1 .2 3.1 .3 1.6 .1-.7 .2 1.1 .2 .2 .2 1 .2-.6 .1-1 .3 1.1 .2 .2 .2 .4 .8-.6 .8 .3 .8-.2 .8-.6 .8-.8 .8 .4 .8 .5 .8-.1 .8 .3 .8 .1 .8-.7 .8 .4 .1 .5 .3-.1 .2 .1 .2-1.2 0 .6 .3-.6 .3-1.1 .2-1.3 .2-2.7 .3-4.3 .3-7.6 0-1.2 .2-2.8 .1-.3 .1 .3 .3 5 .1 4 .2 4.3 .2 4.5 .2 1.6 .2 1.4 .1 .4 .3-.1 .2-.2 .2 .6 0-.4 .3 .1 .5-.5 .8 .1 .8 .5 .8 0 .8 .2 .8-.7 .8 .7 .8-.7 .8 .6 .8-.4 .8 .4 .8-.4 .8-.5 .8-.3 .8 1.3 .8-.6 .8 .4 .8-.4 .8-.7 .8 1.3 .8 .1 .8-1 .8-.2 .8 1.1 .8 .1 .8 .6 .8-.8 .8 .6 .8-1.2 .8 1 .8-.9 .8-.5 .8 .8 .8-.6 .8 .4 .8 .9 .8-1.3 .8 0 .8 .9 .8-1.2 .8 0 .8 .5 .8-.8 .8-.2 .8 1.3 .8-.9 .8 .7 .8 0 .8-.3 .8-.8 .8 .3 .8-.4 .8 1.5 .8-.8 .8 .3 .8 .6 .2 .3 .2-.7 .3 .1 .1 .5 .2-1.5 .2 .5 .2-.6 .2 .7 .1-1.2 .3-1 .2-3.6 .2-3.3 0-.6 .3-2.8 .1-.1 .2 1.7 .2 3 .2 2.7 .3 2.6 .3 2.3 0-.4 .2 .9 .2 .2 .3 .6 .1-.9 .2 .5 .2-.2 .4-1.1 .8 .9 .8 .4 .8 0 .8 .2 .8-.4 .8-.2 .8-.2 .8 0 .8-.6 .8 1 .8-.6 .1-.5 .3-.1 .2-.4 .2 .5 0 1.1 .3 .5 .3-.9 .2 .3 .2-1.4 .3-2.5 .3-.8 0 .2 .2-.6 .1-.2 .1-1.3 .3 2.1 .1-.2 .2 1.3 .2 2.1 .2 0 .2-.3 .1 .7 .3 1 .2 .1 .2-.7 0-.6 .3 1.2 .5 .3 .8-.4 .8 .4 .8-1.1 .8 .4 .8-.3 .8 .8 .8-1.4 .8 0 .8-.2 .8 .5 .8 .2 .8-.6 .8 .5 .8 1 .8-1.4 .8 1.3 .8-.4 .8 .4 .8-.2 .8-1.3 .8-.2 .8 .5 .8-.1 .8 .1 .8-.4 .8 .2 .8 .8 .8-.2 .8-.1 .8 .1 .8 .2 .8-1 .8 .7 .8 .3 .8-1 .8 .2 .8-.4 .8 1 .8-.5 .8 .7 .8-.5 .8-1 .8-.2 .8 1.1 .8 .1 .8 .1 .8-1 .8 1.4 .8-.6 .8-.4 .8 1.1 .8-.5 .8 0 .8-1.1 .8-.2 .8 .6 .8-.1 .8 .4 .8-.5 .8 1.3 .8-.4 .8-.1 .8-.9 .8 .6 .8 0 .8 .2 .8-.4 .8 .6 .8-.1 .8 .2 .8 .4 .8-.8 .8-.5 .8 1 .8-1.2 .8-.2 .8 0 .8 0 .8 0 .8-.2 .8 .7 .8-.3 .8-.5 .8 .3 .8 .7 .8-.8 .8 1.3 .8 .3 .8-.9 .8-.4 .8 .7 .8-.5 .8 .4 .8 .4 .8-.6 .8 0 .8 .3 .8-.3 .8-.8 .8-.1 .8 .9 .8 .5 .8 .3 .8-.2 .8-.5 .8-1.3 .8 .4 .8-.2 .8-.4 .8 .3 .8 .4 .8 1.1 .8-1.3 .8 .3 .8 .6 .8-.1 .8 .2 .8-.7 .8-1 .8 1.1 .8 .1 .8 .3 .8-1.1 .8-.3 .8 1.1 .8-.3 .8-.4 .8-.4 .8 0 .8 0 .8-.2 .8 .9 .8-.8 .8 .1 .8 .1 .8 0 .8-.3 .8 0 .8 1.1 .8-1.2 .8 .9 .8 .2 .8-.3 .8-.1 .8 .6 .8 .5 .8-.5 .8-.1 .8 0 .8 .4 .8-.7 .8 .6 .8-1.4 .8 .2 .8 .7 .8 .1 .6-.9 .2-.6 0 .4 .3 .7 .3-.2 .2 .8 .2-.6 .3-1.3 .3 .7 0 .3 .2-1.7 .2-.9 .3-2.1 .1-.9 .2 1.3 .2 1.5 .2 .3 .2 1.2 .1 1.2 .3-.4 .2 1 .2-.4 0-.5 .3 .8 .3-1.1 .2-.4 .8 .7 .8 1.3 .2-1 .2 .9 .3-.8 .1 .4 .2-1.1 .2 0 .2-.2 .2 .1 .1 .5 .3 .2 .2-.4 .2-2.3 0-.7 .3 .1 .1 .5 .2-1 .2 1.7 .2 .9 .3 .1 .3 .4 0 .7 .2 .9 .2 .2 .3-1.4 .1-.3 .2-.3 .2 .7 .4 .2 .8 .5 .6-.3 .2-.8 0-.1 .3 .1 .3 .1 .2 0 .2 1.2 .3-.7 .3-1.2 0 1 .2-1.8 .2-.8 .3-.4 .1-1.1 .2 .6 .2 1.4 .2 .2 .2 .7 .1-.2 .3 1.3 .2-.2 .2-.6 0 .9 .3-.4 .3-.4 .2 .2 .8 1.2 .8-.2 .2 .5 .2 .3 .3-.8 .1-.7 .2 .3 .2-.8 .2 .4 .2 .7 .1-1.2 .3 .4 .2-.6 .2-.9 0-.3 .3-.8 .1-1.1 .2 .5 .2 .8 .2 1.9 .3-.4 .3 .3 0 1.2 .2-.2 .2 .1 .3 .8 .1-1.1 .2 .3 .2 .4 .4 .2 .8 .5 .6-1.6 .2 .8 0 .6 .3 .1 .3-.6 .2-.1 .2-.5 .3-.6 .3 .3 0 .3 .2-1.9 .2-2.1 .3-.6 .1 .6 .2-.2 .2 1.4 .2 1.9 .2-.9 .1 .1 .3 .8 .2 1 .2-.1 0-.3 .3 .1 .3 0 .2 .6 .8-.4 .8 .2 .2 0 .2 .6 .3-.2 .1-1.2 .2 .5 .2-.3 .2-.7 .2 .5 .1-.1 .3-1 .2-1.4 .2-.7 0 0 .3-.9 .1-.9 .2 1 .2-.1 .2 2.9 .3 1.2 .3 .4 0 .1 .2-.4 .2 .2 .3-.2 .1 .4 .2-.8 .2 1.6 .4 0 .8 .3 .6 .1 .2-1.7 0 1.3 .3-.2 .3 .3 .2-.6 .2-.4 .3-1.2 .3 .8 0-.4 .2-1.6 .2-.9 .3-.4 .1-.1 .2 0 .2 1.5 .2 1.3 .2 .9 .1 0 .3-.9 .2 1.4 .2-.1 0 .3 .3-1.2 .3 1 .2-.8 .8-.1 .8-.3 .2 .3 .2 .1 .3-.5 .1 1.3 .2-.7 .2 .1 .2-.7 .2-.5 .1-.2 .3 .2 .2-1.9 .2-.7 0-.1 .3-1.6 .1-.8 .2-.1 .2 2.1 .2 1.5 .3 1 .3 1.5 0 .5 .2-.9 .2 .7 .3-.8 .1 .1 .2 .3 .2 .5 .4-.3 .8 1 .6-.5 .2-.6 0 .5 .3 .3 .3-.1 .2-1 .2 1 .3 .1 .3-.3 0-.6 .2-2 .2 .1 .3-1.5 .1 0 .2 .2 .2 .5 .2 2.2 .2 .1 .1 .2 .3 1.4 .2-.6 .2 .7 0 .1 .3-1.1 .3-.6 .2 1.1 .8-.4 .8-.6 .8-.1 .2 .2 .2 1.1 .3 .1 .1-1.2 .2-.4 .2 .3 .2 .1 .2 .6 .1-1.1 .3-.5 .2-2.9 .2-1.4 0-.2 .3-2.2 .1 0 .2-1 .2 2.4 .2 3.5 .3 1.8 .3 .4 0-.3 .2 .5 .2-.1 .3 0 .1 .8 .2 .8 .2-.4 .4 .1 .8 .1 .6 .5 .2-1.5 0 .4 .3-.9 .3-.4 .2 .8 .2 .7 .3-.4 .3-1.2 0-1.6 .2-2 .2-3.4 .3-2.3 .1-.4 .2 1 .2 3.2 .2 2.3 .2 2.3 .1 .8 .3 1.3 .2-.6 .2 .3 0-.3 .3-.2 .3 .3 .2 1 .8 .1 .8 .3 .2-.1 .2 .4 .3-1 .1 .7 .2-.7 .2-.9 .2 1.1 .2-.8 .1-.4 .3-1.1 .2-4.7 .2-3.6 0 1 .3-3.5 .1-.9 .2 .9 .2 2.9 .2 3.6 .3 3.6 .3 .6 0 1.4 .2-.1 .2 1.1 .3-.2 .1 .6 .2 .1 .2-.4 .4 .1 .8-.2 .5-.9 .3 1 0 .3 .2-1.8 .2 .4 .3-.4 .1-.2 .2 .9 .2-1.1 .2-1.4 .2-2.4 .1-2.2 .3-3.6 .2-4.2 .1 .1 .1-.1 0 1.3 .3 2.9 .3 5 .2 2.5 .2 1.4 .3 .4 .3 1.6 0 .3 .2-.1 .2-1.3 .3 .1 .1 0 .8-.5 .8-.5 .1 .5 .3 .6 .2-.3 .2-.1 0 .8 .3 .2 .3-1 .2-3.3 .2-4.5 .3-8.3 .3-9.5 0-3 .2-4.2 .1-1.7 .1 1.9 .3 7.7 .1 4.4 .2 6.6 .2 6.5 .2 4.7 .2 1.8 .1-.4 .3 1.5 .2-.6 .2-.8 0 .8 .3-.2 .5 .5 .8-1.1 .1 0 .3 .4 .2 .8 .2-.6 0 0 .3-.1 .3-1.4 .2-4.6 .2-9.2 .3-17.4 .3-20.3 0-4.8 .2-11 .1-1.4 .1 3.9 .3 17.4 .1 7.9 .2 11.3 .2 16.1 .2 8.2 .2 1.4 .1 .8 .3 2.2 .2 .6 .2 .4 0-1.1 .3 .9 .5-.5 .8 .9 .6 0 .2-1.2 0-.4 .3 .3 .3 .5 .2-2.2 .2-1.7 .3-6 .3-14.1 0-4.2 .2-19.8 .2-28.8 .3-21.2 .1-2.8 .2 5.1 .2 23.7 .2 29.7 .2 15.6 .1 7.5 .3 11.3 .2 3.7 .2 2.9 0-.5 .3 1.1 .3-.6 .2 .9 .8 .1 .8-.3 .4 1.4 .2 .3 .2-.6 .1 .5 .3-1.3 .2-.7 .2-.4 0 1.5 .3-.8 .3-3.8 .2-3.1 .2-6.7 .3-3.7 .1-.1 .2 1.7 0-.2 .2 4 .2 4.7 .3 4.9 .1 1.6 .2-.1 .2 .6 .2-.1 .2-.3 .1 .3 .3-.1 .2 1.6 .2 .2 .8-1.1 .8-.7 .2-.2 .3 .8 .3-.2 0 1 .2-.5 .2-.8 .3-.3 .1-1.6 .2-.5 .2-3.4 .2-4.2 .2-2.3 .1 .9 .1-1.5 .2 1.7 .2 3.2 .2 3 0 1.3 .3 1.3 .3 1.9 .2-.1 .2-.2 .3 1.2 .3-.7 0 1.2 .2 .4 .6-.7 .8-.9 .4-.3 .2 1.5 .2-.8 .1-.1 .3 .2 .2-.3 .2-.7 0 .9 .3-.6 .3-1.8 .2-2.6 .2-1.8 .3-2.8 .1 .4 .2 .6 0-.6 .2 2.9 .2 2.5 .3 1.7 .1 1.4 .2 .9 .2-.5 .2-.5 .2 1.1 .1-.9 .3 .7 .2 .6 .2-.7 .8 .8 .8-.6 .2 .6 .3-.1 .3-.3 0-.7 .2 .2 .2 .5 .3-1.7 .1-.1 .2-1.4 .2-.2 .2-2.7 .2-1.9 .1-.4 .1 .5 .2-.2 .2 2.8 .2 1.2 0 .3 .3 1.9 .3-.3 .2 1.5 .2-.5 .3 1 .3-.5 0-.7 .2 .6 .6 .1 .8-.1 .4 0 .2-.1 .2 .7 .1-1.1 .3 .8 .2 .3 .2-1.3 0-.8 .3-.4 .3-.4 .2 0 .2-2 .3-1.1 .1-.9 .2-.1 0-.1 .2 1.3 .2 2.6 .3 1.4 .1 .2 .2 0 .2 .9 .2-1 .2 1.1 .1-.8 .3 .9 .2-.8 .2-.5 .8-.4 .8-.1 .8 .4 .8 .6 .8-.8 .8 1.2 .8-.9 .8-.1 .8-.6 .8-.2 .8 1.3 .8 0 .8 0 .8-1.1 .8 .7 .8-.2 .8-.8 .8 .1 .8 .6 .8-.3 .8 .6 .8-.8 .8 .3 .8-.6 .8-.2 .8 .7 .8-.7 .8 .7 .8-.2 .8 .6 .8-1.3 .8 1.3 .8-1.1 .8 .3 .8 .6 .8-.6 .8-.1 .8 .8 .8-.4 .8-.6 .8 .4 .8-.5 .8 .3 .8-.2 .8 .7 .8-1.4 .8 .3 .8 .6 .8-.3 .8 .3 .8-.5 .8-.9 .8 1.1 .8-.5 .8 0 .8-.4 .8 .9 .8-1.3 .8-.4 .8 .8 .8-.6 .8 .4 .8 1.1 .8-1 .8-.2 .8 .2 .8 .3 .8 .4 .8-.5 .8 .6 .8-1.4 .8 1.1 .8-.8 .8-.7 .8-.2 .8 .4 .8 .9 .8 .3 .8-1 .8-.5 .8-.2 .8-.1 .8 1.4 .8-.8 .8-.9 .8 .1 .8 1.3 .8-1.1 .8 .5 .8 0 .8-.6 .8-.6 .8 1.4 .8-.2 .8-.6 .8 .5 .8 .5 .8 0 .8-1.2 .8 .3 .8 .1 .8 .4 .8-.4 .8-1 .8 1.2 .8 0 .8-1.4 .8 .1 .8-.1 .8-.4 .8 .3 .8 1.3 .8-1.4 .8-.3 .8 1 .8-.1 .8-.4 .8 .2 .8-.6 .8 .8 .8 .7 .8-1.5 .8 0 .8-.1 .8 1.2 .8-.3 .8 .2 .8-1.1 .8 .7 .8-1.1 .8 .3 .8 .2 .8 .8 .8-1.1 .8-.6 .8 .1 .8 1 .8-.3 .8 .6 .8-1.2 .8 .6 .8 0 .8-.9 .8 .9 .8 .4 .8-1.4 .8 .8 .8-.2 .8-.5 .8-.1 .8 .7 .8-.6 .8-.8 .8 1.2 .8-.1 .8 .1 .8 .1 .8 .4 .8-1.4 .8 .1 .8 .9 .8-1.2 .8 .1 .8-.7 .8 .5 .8-.3 .8 .9 .8 .1 .8-1 .8 .2 .8 .3 .8-.3 .8 .9 .8-1.4 .8 .2 .8-.5 .8-.4 .8 .8 .8 1.1 .8-1.5 .8 .1 .8 1.1 .8 .4 .8-.4 .8-.7 .8-.7 .8 .3 .8 .3 .8 .3 .8-.6 .8 1 .8-.9 .8-.6 .8-.1 .8 1.1 .8-.7 .8-.2 .8-.6 .8 1.1 .8-1.2 .8-.4 .8 .4 .8 .3 .8 1.1 .8-.6 .8 .6 .8 .1 .8-1.6 .8-.2 .8 .1 .8 .1 .8 1.1 .8 .2 .8-1.3 .8 .9 .8-.3 .8 .4 .8-.9 .8 .3 .8-.1 .8-.8 .8 .4 .8-.7 .8 .4 .8 .5 .8-.5 .8-.5 .8-.2 .8 .1 .8 .5 .8 .4 .8-1 .8 .9 .8-.4 .8-.3 .8-.8 .8 .2 .8 .3 .8 1 .8-.8 .8-.8 .8 .2 .8 0 .8 .5 .8-.9 .8 1 .8-.5 .8-.2 .8-.4 .8 .1 .8 .7 .8-.2 .8-.3 .8 .4 .8-.4 .8 .4 .8 .7 .8-.7 .8 .1 .8 .2 .8-.2 .8-.6 .8 .3 .8 .4 .8-.8 .8-.2 .8 .5 .8 .1 .8-.7 .8 .3 .8 .7 .8-.3 .8-1.3 .8-.4 .8-.2 .8-.1 .8 1.1 .8 .9 .8-.7 .8 .6 .8-.6" fill="none" stroke="#55236a" stroke-width="1.9" stroke-linejoin="round"/>
<path d="M797 999.3l.8-.9 .8-.6 .8 .5 .8 1.1 .8-1.2 .8 .4 .8 .1 .8-.6 .8 0 .8 0 .8 .8 .8 0 .8 .2 .8 0 .8-.8 .8 .8 .8-.3 .8 0 .8-.7 .8-.1 .8 1.1 .8 .1 .8 .2 .8-1.1 .8-.6 .8 1.3 .8 .5 .8-.2 .8-.6 .8-.1 .8-.9 .8-.1 .8 1 .8-1.1 .8 .4 .8 .7 .8-.1 .5-1.2 .3-.2 0 .9 .2-.5 .2 .7 .3-.3 .1 .2 .2-.8 .2-.9 .2-.7 .2-1.4 .1-1.4 .3-5 .2-3.2 .1 .6 .1 .5 0 0 .3 3.7 .3 2.6 .2 3.3 .2 1 .3 1.2 .3-.5 0 .2 .2 .8 .2 0 .3 .9 .1-.3 .8-.1 .8 .1 .8 .4 .8 0 .8-.3 .8-.8 .8 .3 .8 0 .8 .5 .8-.8 .8-.5 .8 .3 .8 .2 .8-.2 .8-.3 .8 .3 .8-.4 .8 .6 .8-.6 .8-.5 .8 1.7 .8 0 .8-.6 .8 .4 .8-.1 .8-1 .8-.1 .8 .4 .8 .2 .8-.2 .8 0 .8-.3 .8-.2 .8 .8 .8-.9 .8 .3 .8-.4 .8 1 .8-.1 .4-.9 .2 .6 .2 .6 .1 .3 .3 .2 .2-1.4 .2 .8 0 .4 .3-1.8 .3-2.2 .2-2.8 .2-1.7 .3-2.9 .1 0 .2 .7 0-.2 .2 2.4 .2 2.7 .3 3.1 .1 .7 .2 .1 .2 .6 .2 1 .2-.4 .1 .2 .3-1.2 .2 .5 .2 .2 .8 .3 .8 .3 .8 .4 .8-.4 .8-.5 .8-.1 .8 .5 .8-1.1 .8 .9 .8 .6 .8-1 .8-.5 .8 .5 .8-.6 .8-.1 .8 1.1 .8-.3 .8 .3 .8-.9 .8-.3 .8 1 .8 .2 .8 .7 .8-1.6 .8 1.3 .8 .2 .2-1.6 .2 .9 .3-1.1 .1 1.1 .2-.4 .2 .4 .2-1.2 .2-.3 .1 .1 .3-.9 .2-1.3 .2-1.8 0-.7 .3-2.1 .1 0 .2 .3 .2 1.8 .2 2.2 .3 1.6 .3 1 0 .8 .2-.7 .2 1.4 .3-.6 .1-.1 .2 .4 .2-.7 .4 .5 .8 .2 .8-.9 .8 .4 .8-.5 .8 .6 .8 1 .8 .1 .8-.2 .8-.5 .8 .4 .8-1.1 .8-.6 .8-.2 .8 .7 .8-.4 .8 .6 .8-.2 .8-.1 .8 .6 .8 .3 .8 .1 .8 .1 .8-.8 .8 .4 .8 .6 .8 0 .8-.6 .8-.2 .8-.8 .8-.4 .8 1 .8-.4 .8-.3 .8 1.1 .8-.8 .8-.6 .8 1.6 .8-.3 .8 .6 .8-.8 .8 .6 .8 .2 .8-.1 .8 .1 .8-.9 .8 .8 .8-.6 .8 .5 .8-.5 .8-.6 .8-.7 .8 .4 .8 1.2 .8-.7 .8 .2 .8-1 .8 .4 .8-.6 .8 1.4 .8 .2 .8-.5 .8 .4 .8-1.3 .8 1.3 .8-1.2 .8 .6 .8-.4 .8 1 .8-.5 .8 .5 .8 .4 .8-.6 .8-.6 .8-.4 .8-.4 .8 .2 .8 1.3 .8-.9 .8-.4 .8 .9 .8 .7 .8-1.3 .8 .5 .8-.3 .8 .1 .8 .9 .8 0 .8-1.3 .8 1.1 .8-.1 .8 .3 .8-.7 .8-.6 .8 .2 .8 0 .8 .1 .8 .8 .8-.6 .8-1.1 .8 .5 .8 .3 .8-.2 .8-.4 .8-.1 .8 1.2 .8 .4 .8-.9 .8-.4 .8 1 .8-.3 .8 .6 .8-.3 .8-.4 .8 .6 .8-.4 .8-.2 .8-.6 .8-.7 .8 .5 .8-.6 .8 1.3 .8-.5 .8 0 .8-.6 .8 .4 .8 .5 .8 .2 .8 .4 .8-.4 .8-.8 .8 1 .8 .1 .8-1.3 .8 .2 .8 1 .8-.1 .8-.1 .8-.3 .8 .6 .8-1 .8 .2 .8 .3 .8-1.1 .8 .2 .8-.2 .8 .1 .8 .4 .8-.4 .8 .3 .8 .6 .8 .5 .8-.7 .8 0 .8-.3 .8 .9 .8-1.2 .8-.6 .8 1.2 .8-.4 .8-.7 .8-.1 .8 .7 .8 .1 .8-.5 .8 1.3 .8-.4 .8 0 .8-.5 .8 .9 .8-.5 .8-.1 .8-.3 .8 .4 .8-1 .8 .4 .8-.4 .8-.4 .8 1.2 .8-.5 .8-.4 .8 .3 .8-.4 .8 .6 .8-.6 .8-.3 .8 1.3 .8-.5 .8-.5 .8 .2 .8 .4 .8 .5 .8-.3 .8-.8 .8-.1 .8 1.2 .8-.3 .8-.2 .8 .1 .8 .3 .8 0 .8 .5 .8-1.6 .8 1.1 .8-.9 .8 .7 .8 .2 .8 .3 .8-.4 .8 .1 .8-.6 .8-.9 .8 .5 .8-.2 .8 .7 .8-.8 .8-.1 .8-.3 .8 1.4 .8-.1 .8-.9 .8 .9 .8-.8 .8 .4 .8-.6 .8 1.3 .8 0 .8 .3 .8-.4 .8 .2 .8-.1 .8-1.4 .8 1.2 .8-1.2 .8 .5 .8 .7 .8-1.3 .8 .6 .8 .9 .8 .2 .8-.7 .8-1.1 .8 .3 .8 .8 .8 .4 .8-.4 .8-.3 .8 .4 .8 .5 .8-1.2 .8-.4 .8-.3 .8 0 .8 1.5 .8-.5 .8-.5 .8-.4 .8-.2 .8 .5 .8-.6 .8-.2 .8 1.6 .8 .4 .8-1.7 .8 0 .8 1.2 .8 .2 .8-.7 .8-.2 .8 .7 .8-.6 .1-1 .3-.5 .2-.3 .2 .6 0-.1 .3 1.2 .3-.5 .2-1.9 .2-2.8 .3-3.7 .3-4.6 0-.6 .2-3 .1-.1 .1 .9 .3 3.4 .1 1.3 .2 3.7 .2 4.4 .2 .7 .2 1.5 .1 .3 .3 .4 .2-.7 .2 1.1 0 .3 .3-1.1 .5 .6 .8-.2 .1-.5 .3 .8 .2-.8 .2-.7 0 .5 .3-.8 .3-.4 .2-1 .2-1.9 .3-3.5 .3-2.9 0-.3 .2-2.1 .1-.7 .1 .7 .3 2.4 .1 2.9 .2 1.6 .2 3.2 .2 1.9 .2 1 .1 .3 .3-1 .2 .6 .2 .3 0 .1 .3 .7 .5-.5 .8-1.3 .6 .8 .2 .5 0-.1 .3-.1 .3-.7 .2 .1 .2-1.4 .3-2.6 .3-5.3 0-1.2 .2-7.7 .2-10.7 .3-7.8 .1-.9 .2 1.1 .2 9.1 .2 11.5 .2 5 .1 3.6 .3 4.7 .2 1.5 .2 .4 0 .7 .3 .1 .3-1 .2 1.3 .8-.5 .8-.9 .4 .2 .2 .7 .2-.7 .1 .3 .3-1.4 .2 .3 .2-1.8 0-1 .3-4.1 .3-9.2 .2-17.6 .2-23.3 .3-14.7 .1-2.1 .2 4.6 0 2.1 .2 16.1 .2 22 .3 15.2 .1 3.5 .2 4.4 .2 3.4 .2 1.1 .2 1.1 .1-.6 .3 .7 .2 0 .2 .3 .8 1.2 .8-.7 .2 .5 .2-1.5 .3 1 .1-.5 .2 .2 .2-1.8 .2-1.5 .2-3.3 .1-1.5 .3-13.4 .2-22.2 .2-21.3 0-6.4 .3-18.2 .1-1.4 .2 4.4 .2 20.7 .2 27.6 .3 19.9 .3 11.9 0 .6 .2 3.5 .2 2 .3-.6 .1-.7 .2 1.6 .2 .7 .4 .3 .8-.2 .7 .2 .1-1.7 .2-.6 .2 1 .2-.7 .2 .5 .1 .3 .3-1.7 .2-4.1 .2-6.7 0-1.4 .3-13.2 .3-18 .2-13.6 .1-1.2 .1 3.6 .3 13.2 .3 17.6 0 3.1 .2 10.6 .2 8 .3 1.7 .1 1.4 .2-.3 .2 .7 .2 .8 .2-1 .1 1.2 .7-1.2 .8 .3 .3-.4 .3-.3 .2-.2 .2 .7 .3-.8 .3-.4 0 .5 .2-1.6 .2-3.8 .3-8.9 .1-2.6 .2-6.4 .2-7.5 .1-.5 .1 1 .2 4.4 .1 3.2 .3 9.7 .2 7.3 .2 2.8 0 .6 .3 3.1 .3-.2 .2 .1 .2 .9 .3 .4 .3-.7 .8-.9 .8 .6 .1 .7 .3-1.2 .2 .5 .2-1 0-.1 .3-.5 .3-.7 .2-1.4 .2-2.7 .3-5.3 .3-8.4 0-1.7 .2-4.7 .1 .1 .1 1.7 .3 5.6 .1 2.9 .2 5.6 .2 5 .2 3.7 .2 .5 .1 .1 .3 1.4 .2 .3 .2-.5 0-.6 .3 .6 .5-.7 .8 1 .8 .6 .8-.5 .8 0 .8-.4 .8 .3 .8-.8 .8-.8 .8 1.1 .8-.4 .8-.3 .8-.2 .8 1 .8 .3 .8-1.2 .8-.7 .8-.3 .8 1 .8 .6 .8-1.1 .8 .6 .8-.9 .8 0 .8 .6 .8-.5 .8 1 .8 .2 .8-1.2 .8 .6 .8-1 .8-.6 .8 1.2 .8-.2 .8-.6 .8-.3 .8 .5 .8 0 .8 .2 .8-1 .8 .3 .8 1.2 .8 .1 .8-.7 .8-.4 .8-.5 .8-.6 .8 .9 .8 .5 .8-.5 .8-.5 .8 .3 .8 .9 .8-1.4 .8 .6 .8 0 .8 .2 .8 .2 .8-.6 .8-.5 .8 .7 .8 .5 .8-1.5 .8 .3 .8-.1 .8-.9 .8-.2 .8 .4 .8-.1 .8 .1 .8 .8 .8 .4 .8-1.4 .8-.2 .8 .9 .8-.6 .8 .9 .8-.5 .8-.7 .8-.5 .8 1.1 .8-1 .8 1.1 .8-.6 .8 .8 .8-.2 .8-.6 .8-.2 .8 .1 .8-.5 .8 .6 .8-.6 .8 .6 .8-.7 .8-.4 .8 .9 .8-1.4 .8 .1 .8 1.3 .8 .1 .8-1.3 .8 .5 .8-.7 .8 1.2 .8 .2 .8-.5 .8-.4 .8 .5 .8-1 .8 .6 .8-.9 .8 .9 .8 .3 .8-.2 .8-1 .8 .7 .8 .1 .8-1.4 .8 .6 .8-.6 .8-.1 .8 .4 .8-.7 .8 .9 .8-.5 .8-.7 .8 1.1 .8-.4 .8-1 .8 0 .8 .6 .8 .3 .8-.1 .8-1 .8 .9 .8-.9 .8 .9 .8-.2 .8-.7 .8 1.2 .8 .3 .8-.9 .8-.9 .8 0 .8-.2 .8 .9 .8 .2 .8 0 .8-1.4 .8 .8 .8 0 .8-.6 .8 1 .8-.5 .8-1 .8 0 .8 1.1 .8 .1 .8-1.4 .8-.4 .8 .5 .8 .2 .8 .9 .8-.9 .8 .2 .8 .2 .8-1 .8 .2 .8 .2 .8-.1 .8 .7 .8 .1 .8-.4 .8-1.4 .8 0 .8 .6 .8-.5 .8-.2 .8 .9 .8-1 .8-.5 .8-.2 .8 .2 .8 .4 .8-.3 .8 .9 .8 .3 .8-.3 .8 .5 .8-1.4 .8-.7 .8 .3 .8 .5 .8 .9 .8-.7 .8-.2 .8-.6 .8 1.1 .8 .3 .8-.8 .8-.1 .8 .4 .8 .2 .8-.9 .8 .7 .8-.2 .8-1.4 .8 .8 .8-.3 .8-.8 .8 .2 .8 .7 .8 .3 .8-1 .8 .1 .8 .6 .8 .4 .8-.1 .8-.2 .8-.1 .8-1.4 .8 .4 .8-.2 .8-.3 .8-.5 .8 1.4 .8-.9 .8 .2 .8 .1 .8 0 .8-.3 .8 .8 .8-1.3 .8-.2 .8-.1 .8-.3 .8 .3 .8 .9 .8-.9 .8-.1 .8 1.1 .8 .1 .8-.2 .8-.6 .8 .2 .8 .2 .8 .1 .8-.1 .8-1.1 .8 .7 .8-1.2 .8 .6 .8 .6 .8-.7 .8-.3 .8-.4 .8-.3 .8 .3 .8 1.2 .8-.1 .8 .4 .8-1.5 .8 .4 .8 .7 .8-1.6 .8 .4 .8 .6 .8 .6 .8-.9 .8 .4 .8-.5 .8-.8 .8-.4 .8 0 .8 1.4 .8-.2 .8 0 .8-.5 .8 .6 .8-1.2 .8-.3" fill="none" stroke="#4f9a2c" stroke-width="1.9" stroke-linejoin="round"/>
<path d="M797 1013l.8 1.2 .8-.9 .8-.5 .8-.2 .8 .3 .8 .4 .8-.4 .8 .7 .8 .9 .8 0 .8-.3 .8-1.1 .8 .6 .8 .1 .8-.8 .8 1 .8-.9 .8 .7 .8 .2 .8 0 .8 .4 .8-1.2 .8-.2 .8 .7 .8 .3 .8-.4 .8 .1 .8-.4 .8 .7 .8 .1 .8-1.4 .8 1.3 .8 .3 .8-1.4 .8 .8 .8 .6 .8-1 .8-.3 .8 1.1 .8-.2 .8 .4 .8-.2 .8-.9 .8 .5 .8 .6 .8-1.4 .8-.1 .8-.2 .8-.1 .8 1.2 .8-.9 .8 1.1 .8-.6 .8 .5 .8-1 .8 .5 .8-.1 .8-.8 .8 .7 .8 1 .8-1 .8 .8 .8 0 .8-.9 .8 .9 .8-1 .8-.2 .8 .6 .8 0 .8-.1 .8 .1 .8-.1 .2 .7 .3-.3 .3 .5 0-1.1 .2-.5 .2 .3 .3-.9 .1 1.1 .2-1.4 .2-.8 .2-2.5 .2-.5 .1-.6 .1-.3 .2 .1 .2 2.5 .2 .3 0 .3 .3 1.4 .3 1.4 .2 .1 .2 .8 .3-.7 .3-.5 0 .1 .2 .6 .6-1.1 .4 1.5 .2 .2 .2-1.6 .1-.2 .3 1.1 .2 .1 .2-.9 0-.2 .3-.5 .3-1.8 .2-2.2 .2-4.2 .3-2.3 .1-.2 .2 .3 0 .1 .2 1.9 .2 4.5 .3 2.8 .1 .4 .2 .9 .2 .6 .2-.1 .2-.2 .1 .2 .3 1.1 .2 0 .2 .4 .8 .1 .8-.4 .8 .3 .8-1.1 .8-.4 .8 1.2 .8-.1 .8-.1 .8 .2 .8-1.1 .8 1.1 .8 0 .8-.4 .8-.3 .8-.1 .8 .6 .8-.5 .8 .2 .8-.5 .8 .6 .8-.3 .8 .8 .8 0 .8-1 .8 .1 .8-.5 .8 .6 .8 .6 .8-.6 .8-.1 .8 .8 .8-1.1 .8 1.3 .8-.1 .8 0 .8-.5 .8 .3 .8-.8 .8 .2 .8 .3 .8-.4 .8 .4 .8-.4 .8-.7 .8 .6 .8 1 .8-.4 .8 0 .8-.9 .8 .3 .8 .3 .8 .7 .8-.8 .8 .3 .8-.6 .8 .5 .8-1 .8 1.2 .8-1 .8-.6 .8 1.2 .8-.5 .8 .3 .8-.2 .8-.3 .8 .3 .8 .5 .8 0 .8-.5 .8 .1 .8-.6 .8 .2 .8-.5 .8 1.5 .8-1.3 .8 1 .8-.9 .8 .2 .8-.5 .8 1.1 .8 .8 .8 .2 .8-.1 .8 .1 .8 .1 .8-.8 .8-.5 .8 .9 .8 .3 .8 .1 .8-1.3 .8 .2 .8 0 .8 .4 .8-.4 .8 .7 .8-1.6 .8 1.2 .8-.3 .8-.4 .8 .4 .8-.9 .8 .4 .8 1 .8-.9 .8 1 .8 .3 .8-.6 .8 .3 .8-.3 .8 .1 .8-.2 .8-.8 .8-.2 .8 .5 .8-.3 .8 .7 .8-.7 .8-.5 .8 1 .8 .5 .8-.9 .8 .6 .8-.8 .8 .7 .8-.3 .8-1 .8 1.4 .8-.3 .8-.4 .8 .5 .8-1 .8 .6 .8 .9 .8-.4 .8-.4 .8 .6 .8-.9 .8-.1 .8-.4 .8 .2 .8-.1 .8 .6 .8-.4 .8 .3 .8 .5 .8 .1 .8-.5 .8 .4 .8-.7 .8 1 .8 .4 .8-1.1 .8-.8 .4-.4 .2 .8 .2-.3 .1-.1 .3 .2 .2 .7 .2-.9 0 .6 .3-.8 .3-.6 .2-1 .2-1.5 .3 .5 .1-.4 .2 .6 0-.2 .2 1.1 .2 1.5 .3 .6 .1 .6 .2-.7 .2 0 .2-.6 .2 .9 .1 0 .3 1 .2-1 .2-.4 .8-.3 .8 1.2 .2 .5 .3-.1 .3-1.2 0 1 .2-1 .2-.3 .3-.3 .1 .4 .2-.9 .2-.1 .2-1.9 .2 .3 .1-.6 .1 .4 .2-1.2 .2 2 .2-.1 0 1 .3 1.6 .3-.8 .2 .1 .2 .9 .3 .5 .3 .4 0-.5 .2-1 .6 1.1 .8-.3 .4-.7 .2 .6 .2-.4 .1 .3 .3-.4 .2 .8 .2-1.1 0 .8 .3-1 .3-.6 .2-.8 .2-.5 .3 .5 .1 0 .2 .1 0-.8 .2 .4 .2 1.8 .3 .5 .1 .5 .2-.6 .2-.7 .2 .9 .2-.2 .1-.3 .3-.1 .2-.5 .2 1.6 .8 .3 .8-.5 .2-.2 .3 .7 .3 .1 0-.2 .2 .4 .2-1.8 .3 .2 .1 .5 .2 0 .2-.4 .2-1.2 .2-1.6 .1 .9 .1-.2 .2-.3 .2 .1 .2 1.5 0 .8 .3 .4 .3-.6 .2 1.3 .2-.5 .3-.4 .3-.6 0 1.4 .2-.5 .6 .5 .8-.9 .4-.3 .2-.3 .2 1.2 .1 .6 .3-1.3 .2-.1 .2 .8 0-.8 .3 .2 .3-.2 .2-2.1 .2-2.3 .3-.4 .1 .1 .2 .4 0-.7 .2 1.1 .2 1.4 .3 1 .1 1.4 .2 .4 .2-.2 .2 .2 .2 .9 .1-1 .3-.3 .2-.5 .2 .4 .8 .9 .8 0 .2 0 .3-.7 .3-.3 0 .1 .2 .9 .2-.8 .3 .7 .1 .3 .2-1.5 .2-1.3 .2 .1 .2-.8 .1 .7 .1 0 .2-1.1 .2 1.3 .2 1.3 0-.6 .3 1.3 .3 .5 .2 0 .2 .4 .3-.1 .3-.9 0-.1 .2 0 .6-.4 .8 1.4 .4 .4 .2-1.4 .2 0 .1 .4 .3-.7 .2 .9 .2 .2 0 .3 .3-1.4 .3-1 .2-1.6 .2-.7 .3-1.4 .1 .7 .2 1.2 0 .2 .2-.5 .2 1.4 .3 .9 .1-.3 .2 .6 .2 1 .2-.3 .2 1 .1 .3 .3-1 .2 .3 .2-1.1 .8 .1 .8 .8 .2 0 .3 0 .3 .3 0-.9 .2-.1 .2-.6 .3 .4 .1-.2 .2 .4 .2-1.3 .2-.1 .2-1.1 .1-.9 .1 1 .2-.8 .2 .5 .2 1.8 0 .9 .3 .7 .3-1 .2-.2 .2 .4 .3 .3 .3 1 0-1.2 .2 1.3 .6 .4 .8-.7 .4-.4 .2 .9 .2 .2 .1-.1 .3 0 .2-.8 .2 .5 0-.7 .3 .2 .3-1.4 .2-1.3 .2-1.7 .3-1.3 .1 .9 .2 .5 0-.5 .2 1.6 .2 .7 .3 1.8 .1 .8 .2 .3 .2-1.2 .2 .1 .2 .7 .1-.5 .3 .1 .2-.2 .2-.2 .8-.4 .8 .8 .2 .4 .3 .4 .3-.4 0-.3 .2 .5 .2-.2 .3-1.1 .1 .3 .2-1.2 .2-1.2 .2-.4 .2-1.5 .1 1 .1-.1 .2-.9 .2 1.4 .2 1.2 0 .9 .3 .2 .3 1.4 .2 .4 .2 .1 .3-.7 .3-.7 0 .9 .2 .5 .6-.5 .8 .1 .4 .2 .2-.4 .2 0 .1 .2 .3 .3 .2-.9 .2-.2 0 .2 .3-.4 .3 .1 .2-.5 .2-1.9 .3 .1 .1 .4 .2-.4 0 .2 .2 .5 .2 1.2 .3-.2 .1 1.3 .2-.5 .2 .1 .2 .2 .2-.1 .1-.9 .3 .7 .2-.3 .2 1 .8-.6 .8 .8 .2 .1 .3-.6 .3-.9 0 .6 .2 .3 .2 .5 .3-1.1 .1 .4 .2 .2 .2-2 .2-.7 .2 .2 .1-.3 .1-.5 .2 .8 .2 1.2 .2-.9 0 1 .3 .4 .3 0 .2-.2 .2-.1 .3 1.5 .3-1 0-.2 .2 .4 .6-.8 .8 1 .4 .1 .2-1 .2 1.3 .1 0 .3-.1 .2-1 .2 .8 0-.2 .3 .6 .3-.8 .2-.3 .2-1.9 .3-1.4 .1 .4 .2 1.1 0-1.1 .2 1.3 .2 1.4 .3 .2 .1 .3 .2 .9 .2 .3 .2-1.1 .2-.2 .1-.7 .3-.2 .2 .8 .2 .3 .8 .1 .8 .4 .8 .5 .8-.7 .8-1 .8-.4 .8 1.1 .8 .3 .8 .4 .2-1.1 .3 .8 .3 .5 0-.3 .2-1.4 .2 .8 .3-.2 .1-.1 .2-1.9 .2-2.3 .2-2.6 .2 .1 .1 0 .1-1.4 .2-.2 .2 3.3 .2 .9 0 1.1 .3 2.4 .3 .8 .2-.2 .2-.1 .3 .5 .3 .7 0 .2 .2-.3 .6-.6 .8 .7 .4-1.5 .2 .4 .2 .3 .1-.6 .3 .8 .2-.4 .2 .4 0-.3 .3-.1 .3-1.8 .2-1.9 .2-2.6 .3-3 .1 .8 .2-.3 0 .8 .2 2.2 .2 2.9 .3 1.7 .1 0 .2 .8 .2 .6 .2 0 .2-.8 .1 .5 .3 .7 .2-.6 .2 .4 .8 0 .8-.4 .2 .8 .3 .4 .3-1.1 0-.5 .2 .7 .2 .3 .3-1 .1-.2 .2-1.4 .2-1.1 .2-3.5 .2 0 .1-.4 .1-.4 .2-.4 .2 2.9 .2 1.9 0 .9 .3 .7 .3 .9 .2-.3 .2 1.4 .3-.2 .3-.4 0 0 .2-.9 .6 0 .8 .6 .4 .9 .2-.8 .2-.2 .1 .4 .3-.9 .2 .8 .2-.4 0 1 .3-1.5 .3 .4 .2-1 .2-2.7 .3-1.4 .1 1 .2-.6 0-.1 .2 1.4 .2 .9 .3 1.8 .1 .9 .2-.3 .2 .1 .2-.2 .2-.2 .1 1.1 .3-.6 .2-.3 .2 .2 .8-.2 .8 1 .2-1.1 .3 .6 .3 .5 0-1.3 .2-.3 .2-.5 .3-.5 .1 0 .2-.7 .2-1 .2-2.2 .2-.4 .1-.3 .1-.3 .2 .6 .2 1 .2 1.8 0-.7 .3 2.6 .3 1.4 .2 .5 .2-1.4 .3 1.2 .3 0 0 0 .2-.9 .6-.1 .8-.4 .4 1.1 .2-.3 .2-.6 .1 0 .3-.3 .2 .3 .2 .3 0-.6 .3-.1 .3-1.3 .2-.7 .2-1 .3-1.9 .1-.5 .2 1.4 0 .2 .2 .5 .2 2.2 .3 .8 .1 0 .2 .2 .2 .6 .2-.1 .2 .4 .1-.2 .3 .6 .2-.7 .2-.4 .8 .4 .8 .2 .2 .2 .3 .5 .3-1.1 0-.2 .2 .6 .2 .2 .3-1.9 .1-.3 .2-1.2 .2-1.5 .2-2.7 .2-1 .1 .1 .1 .4 .2 .1 .2 2.6 .2 1.4 0 1.2 .3 .5 .3 .5 .2 1.1 .2-.1 .3-.2 .3 1.1 0-.4 .2-.2 .6 .6 .8 .3 .8-.9 .8-.6 .2 .2 .2-.1 .3 .9 .1-.7 .2-.2 .2 .4 .2-1.1 .2-.8 .1 .3 .3-.7 .2-3.8 .2-3.3 0-.6 .3-2.4 .1-.2 .2 1.9 .2 2.9 .2 2.7 .3 2 .3 1.8 0-.5 .2 .2 .2 1.4 .3-.2 .1 .5 .2 .5 .2-.8 .4-.3 .8 .5 .6-.1 .2 .5 0 0 .3-.3 .3-.1 .2 .2 .2-.2 .3-2.7 .3-1.6 0-1.1 .2-3 .2-5.6 .3-3.5 .1-.4 .2 1.7 .2 4.9 .2 3.8 .2 2.4 .1 1.1 .3 2.7 .2-.3 .2 .2 0-.2 .3 1.3 .3-.4 .2-.8 .8 1.3 .8 .1 .2-1.3 .2-.2 .3-.2 .1 .5 .2 1 .2-1.2 .2-.3 .2-.3 .1-.7 .3-3.5 .2-4.5 .2-3.2 0-1.9 .3-3.5 .1-1.2 .2 1.1 .2 5.8 .2 5.8 .3 2.8 .3 1.8 0-.2 .2 1.6 .2-.1 .3-.5 .1-.1 .2 .3 .2 .1 .4 .7 .8-.7 .8 1.2 .1-.4 .3 .7 .2 0 .2-1.5 0 .1 .3-.5 .3 0 .2-2 .2-1.5 .3-5.2 .3-7.9 0-.5 .2-4.5 .1 1 .1 .5 .3 6 .1 2.9 .2 2.5 .2 5.5 .2 1.6 .2 2.1 .1-.1 .3 .8 .2-.2 .2 .5 0-.1 .3-.4 .5-.5 .8-.8 .1 1.5 .3-.2 .2-1.3 .2-.4 0 .5 .3 .7 .3-1 .2-2 .2-5.5 .3-10.9 .3-13 0-2.9 .2-6.5 .1-.7 .1 2.1 .3 10.6 .1 4.4 .2 7 .2 9.3 .2 5.6 .2 1.8 .1 1.2 .3 .9 .2 0 .2-1.4 0 .3 .3-.6 .5-.1 .8 .2 .8 .8 .4 .1 .2 0 .2-1.4 .1-.5 .3 .3 .2 .3 .2-1.8 0-1.5 .3-5 .3-13.7 .2-22.2 .2-28.5 .3-20.8 .1-3.2 .2 4.8 0 3.8 .2 19.5 .2 29.4 .3 20.8 .1 5.8 .2 5.6 .2 4.6 .2 1.5 .2-.2 .1 1 .3 .8 .2-.8 .2 .4 .8 .5 .4 .1 .2-.1 .2-.6 .1-.3 .3-.3 .2 .3 .2-.1 0 .1 .3-1.1 .3-2.4 .2-3.6 .2-3.1 .3-3 .1-.8 .2 .2 0 .8 .2 3.4 .2 3.7 .3 4.3 .1 1 .2 1.4 .2-.7 .2-.3 .2 .2 .1 .3 .3 .2 .2 .3 .2 .9 .8-.9 .8 .8 .2-.4 .2-.2 .3 .5 .1-.3 .2-1.2 .2-.5 .2-.3 .2-.1 .1 .2 .3-.6 .2-2.4 .2-3.9 0-1.3 .3-2.8 .1 0 .2 1.1 .2 3.5 .2 2.8 .3 3.1 .3 1.9 0-.5 .2-.4 .2 .4 .3-.7 .1-.1 .2 .3 .2 1.2 .4-1 .8 .6 .8-.1 .2-.6 .3 .2 .3-.5 0 .5 .2-.1 .2-.1 .3-.1 .1-1.6 .2-1 .2-3.8 .2-3.3 .2-1.6 .1-.9 .1-.8 .2 .2 .2 2.8 .2 4.7 0 .4 .3 3.5 .3 1.2 .2-.2 .2-.1 .3 1.1 .3-.3 0 .6 .2 .3 .6-1.5 .8-.6 .5-.1 .3 1.4 0-.5 .2-.8 .2-.4 .3-.3 .1 .6 .2 .3 .2-1.4 .2-3.5 .2-1.9 .1-2.1 .3-7 .2-4.5 .1 0 .1 .6 0 .9 .3 5.2 .3 6.3 .2 3.6 .2 2.7 .3 1.4 .3 .1 0 .1 .2-.7 .2 .4 .3-.4 .1-.1 .8 1.3 .8 .4 .1 .1 .3-1.6 .2-.5 .2 1.1 0 0 .3 .4 .3 .1 .2-2.4 .2-1.8 .3-2 .3-4.3 0-.9 .2-1.2 .1-.8 .1-.2 .3 3.8 .1 .7 .2 2.8 .2 3.6 .2 1.8 .2 .1 .1-.9 .3 .9 .2 .3 .2-.5 0-.8 .3 .1 .5-.3 .8 .9 .5-.2 .3 1 0-1 .2-.2 .2 .3 .3-1.1 .1 0 .2 1.1 .2-1.5 .2-1.3 .2-1.5 .1-.6 .3-3.5 .2-1.4 .1-.1 .1 .6 0-.7 .3 3.3 .3 2.6 .2 2.1 .2 1.9 .3 .6 .3-.4 0 .6 .2-.4 .2-1.2 .3 .3 .1 .5 .8 .5 .6 .2 .2-.8 0-.2 .3-.8 .3 .4 .2 .1 .2 .5 .3-.3 .3-1 0 .5 .2-.7 .2-2.5 .3 0 .1-1.7 .2 1.3 .2 1.3 .2 1.7 .2 .2 .1 .7 .3-.5 .2 .7 .2-.6 0 .6 .3-.9 .3 1.4 .2 0 .8 .1 .8-.9 .2 0 .2-.9 .3 .7 .1 1 .2-.3 .2 0 .2-1.2 .2 1 .1-.5 .3-.5 .2-.7 .2-1.9 0-1.1 .3 .3 .1-.9 .2 0 .2 .7 .2 1.9 .3 2 .3-.3 0-.5 .2 1.4 .2-.4 .3-.6 .1 .9 .2-.2 .2 .3 .4 .2 .8-1.2 .8-.7 .8 1.3 .8-.2 .8-.8 .8 1 .8-1.2 .8 1.1 .8-.1 .8-1.3 .8-.2 .8 .4 .8-.1 .8 .2 .8-.6 .8 .6 .8-.8 .8 .1 .8 .3 .8 .4 .8 .7 .8-1.4 .8-.5 .8 .8 .8-.9 .8 .8 .8-.6 .8 .5 .8-.3 .8-.2 .8 1.2 .8 .1 .8-1.7 .8-.5 .8 1.6 .8 0 .8-.6 .8 .5 .8-.3 .8-.6 .8-.7 .8 1 .8-.7 .8-.7 .8 .5 .8-.1 .8-.2 .8-.4 .8 .2 .8 .1 .8 .8 .8 .5 .8-1.1 .8 .1 .8-.5 .8-.3 .8 .6 .8 .4 .8-.9 .8 .9 .8-.2 .8 .2 .8-.3 .8-.9 .8 0 .8 0 .8-.3 .8 .2 .8-.2 .8 1 .8-.5 .8 0 .8-.9 .8 1.3 .8-.3 .8-.1 .8-1.1 .8 .1 .8 1.2 .8 .2 .8-.8 .8-1 .8-.3 .8 .9 .8 .2 .8-.6 .8 .5 .8-.3 .8-.3 .8-.7 .8 .3 .8 .4 .8-.5 .8 .8 .8 0 .8-.6 .8 .8 .8-1.2 .8-.7 .8 1.3 .8 .5 .8-.9 .8 .2 .8 .6 .8 .1 .8-.1 .8-.3 .8 .2 .8-.7 .8-1.2 .8 1 .8-.8 .8 .5 .8-.8 .8 1.2 .8 .1 .8-1.1 .8-.8 .8 .5 .8 .3 .8 .5 .8 .1 .8-.7 .8 .2 .8-.2 .8-.7 .8-.7 .8 1.4 .8-.5 .8 .6 .8 .1 .8-.1 .8 .2 .8-1.4 .8-.3 .8 .9 .8-1 .8 .8 .8-1.1 .8 .3 .8 .4 .8 .6 .8-.9 .8-.6 .8 .3 .8 .2 .8-.1 .8-.7 .8-.5 .8 1.7 .8-.7 .8 .2 .8-.7 .8 .4 .8 .6 .8-.7 .8-.8 .8 .1 .8 .1 .8 .5 .8-.7 .8-.5 .8 .6 .8 0 .8-.8 .8-.2 .8 .6 .8 0 .8 .7 .8-.9 .8-.4 .8 1.1 .8 .4 .8-.7 .8 .6 .8-1 .8-.4 .8-.6 .8 .5 .8 .3 .8-.3 .8-.3 .8 .2 .8 1 .8-1.3 .8 .3 .8-.2 .8 0 .8 .9 .8-.4 .8-1.1 .8 .5 .8-.3 .8-.5 .8 1.1 .8-.8 .8-.3 .8-.3 .8 .8 .8 .8 .8-.7 .8-.6 .8 .8" fill="none" stroke="#2fa8e0" stroke-width="1.9" stroke-linejoin="round"/>
<defs><path id="t2" d="M797 1036.7l.8 .8 .8-.8 .8 .6 .8-1.1 .8-.4 .8 .2 .8-.5 .8 .6 .8 .1 .8 .4 .8 .7 .8-1.3 .8-.2 .8 .5 .8 .4 .8-.7 .8 .4 .8-.5 .8 .1 .8-.3 .8 .1 .8 .4 .8 .7 .8 .1 .8 .3 .8-1.6 .8-.3 .8 .7 .8-.3 .8 1.3 .8-.5 .8 .7 .8 0 .8 0 .8-1.5 .8 1.1 .8 .1 .8-1.3 .8 1 .8-1.2 .8 1.2 .8-.1 .8-.1 .8-1 .8 1.2 .8-.3 .8 .7 .8-1.2 .8 .1 .8 .1 .8 .1 .8-.8 .8-.3 .8 .2 .8 1.1 .8 .7 .8-1.5 .8 .6 .8 .1 .8 .1 .8 .2 .8 .1 .8 .3 .8-.4 .8-.4 .8 .1 .8 .1 .8-.9 .8 1.3 .8-.4 .8-.2 .8 .7 .8-.2 .8-.7 .8 .2 .8-.7 .8-.1 .8 .2 .8 .4 .8 0 .8 .5 .8-.7 .8 .9 .8-.7 .8-.8 .8 .1 .8 1.3 .8 .4 .8-1.2 .8 .8 .8 .5 .8-1.1 .8-1 .8 .2 .8 .4 .2-.2 .3 .9 .3-1.1 0 1.3 .2-.1 .2-1.2 .3-1.3 .1-.5 .2-.1 .2-2.3 .2-2.6 .2-1.3 .1-1.3 .1 .3 .2 .3 .2 2.5 .2 3.1 0-.5 .3 1.6 .3 2.3 .2 1.1 .2 .1 .3 .2 .3 .1 0-.2 .2-1.4 .6-.4 .8 .3 .8 .5 .8 1 .8-.3 .8-1 .8-.1 .8 .5 .8-.5 .8 1.1 .8 0 .8-.2 .8 .1 .8-.2 .8-.2 .8 .1 .8-.1 .8-.1 .8-.1 .8 .2 .8-.6 .8 .3 .8-.4 .8 .6 .8 .3 .8 .4 .8-.6 .8-.3 .8 .9 .8-.1 .8-.9 .8-.7 .8 .6 .8 .1 .8 .1 .8 0 .8-.1 .8 .7 .8-.8 .8-.7 .8 .7 .8 .8 .8-.4 .8-.4 .8 .8 .8-.9 .8 .7 .8 .6 .8-.3 .8-.2 .8-1.1 .8 .4 .8 1 .8-.3 .8-.9 .8-.2 .8 1.2 .8 0 .8-1.4 .8 .2 .8 1.1 .8-1.1 .8 1.1 .8-.9 .8-.3 .8-.1 .8 .3 .8-.5 .8 1.5 .8 .2 .8-1 .8 .1 .8-.6 .8 1.2 .8 .2 .8-1.3 .8 1.1 .8-.1 .8-.9 .8 .7 .8-.8 .1 .7 .3-1.1 .2-.1 .2 1.2 0 .3 .3 .1 .3-1.1 .2-1.5 .2-1.5 .3-2 .3-4.2 0-.7 .2-2.9 .1 .8 .1 1 .3 2.2 .1 1.2 .2 1.7 .2 3.1 .2 1.5 .2 .6 .1 1.1 .3-.7 .2-.1 .2 .8 0-1 .3 1.2 .5-1.1 .8 .9 .8 .2 .8 .3 .8 .3 .8-.6 .8 .2 .8-.7 .8-.5 .8 .2 .8 .5 .8 .1 .8-.3 .8 .6 .8 .3 .8-.4 .8 .4 .8-.8 .8 .6 .8-.6 .8 0 .8 .5 .8-.1 .8 .3 .8-1.4 .8-.3 .8-.1 .8 .4 .8-.4 .8 .8 .8 .5 .8-.5 .8 .6 .8-.8 .8 .2 .8 .3 .8 0 .8-.3 .8-.7 .8 .5 .8 .2 .8 .9 .8 .2 .8-.8 .8 .1 .8-.9 .8-.1 .8 1.3 .8-1.1 .8 1.3 .8 0 .8-.3 .8-.9 .8 1 .8-1.3 .8-.4 .8 1.3 .8 .2 .8 .5 .8-1.5 .8-.5 .8-.2 .8 1.1 .8-.6 .8 .7 .8-.3 .8-.4 .8 .5 .8-.7 .8-.3 .8 .4 .8 .5 .8 .6 .8 .3 .8-1 .8 .1 .8-.4 .8 .4 .8-.4 .8-.1 .8 .7 .8 .9 .8-.6 .8-.2 .8-.7 .8 .8 .8-.2 .8 .3 .8 .3 .8 .2 .8-.2 .8 .1 .8-.7 .8 .2 .8-.7 .8 .5 .8-.8 .8-.1 .8 .7 .8-.2 .8 .2 .8 .3 .8-.7 .8 .1 .8-.3 .8-.1 .8 .5 .8-.4 .8 1.3 .8 .4 .8-.2 .8-.2 .8-.6 .8-.9 .8 .9 .8 0 .8 .6 .8-.1 .8-.2 .8-.7 .8 .4 .8-.9 .8-.2 .8 1.1 .8 .3 .8-.1 .8-1 .8-.1 .8-.5 .8 .2 .8 1.2 .8-.8 .8 1.3 .8-.1 .8-.4 .8-.9 .8 .3 .8 .1 .8 .5 .8-.6 .8 1 .8-1.2 .8 .9 .8-.5 .8-.4 .8-.1 .8-.4 .8 .7 .8-.1 .8 .6 .8-.3 .8-.1 .8-.5 .8 .3 .8 .6 .8 .4 .8 .1 .8-.5 .8 .4 .8-.6 .8-.2 .8 .2 .8 0 .8 .4 .8-.6 .8 .5 .8-.2 .8-.9 .8 .4 .8-.2 .8 .3 .8 .1 .8 .6 .8-.7 .8-.7 .8 1.1 .8-.5 .8-.3 .8 .4 .8-.7 .8 1.2 .8-.4 .8 .6 .8-.3 .8-.5 .8 0 .8-.5 .8 .8 .8 .3 .8 .3 .8-.6 .8 .5 .8-1.3 .8 .1 .8-.3 .8 .8 .8-.5 .8 .5 .8-1 .8-.6 .8 .6 .8 0 .8 .9 .8 .2 .8-1.5 .8-.3 .8-.4 .8 1.1 .8 0 .8 .4 .8-.3 .8-.7 .8 .3 .8 .2 .8-1.2 .8 .1 .8-.4 .8 .4 .8 .5 .8 .1 .8-.8 .8 .6 .8 0 .8 0 .8-.3 .8-.2 .8-.6 .8 .5 .8 .3 .8 .1 .8-1.6 .8 .4 .8-.3 .8-.7 .8 .2 .8 .6 .8 .3 .8 .4 .8-.7 .8-1 .8 .6 .8 .1 .8 .2 .8-.7 .8-.1 .8 .3 .8 .3 .7-.4 .1-.9 .2-.3 .2 1 .2 .2 .2 .5 .1-.3 .3 .4 .2-1.3 .2-1.1 0-.6 .3 0 .3-1.5 .2-.5 .1-.4 .1-.5 .3 2.4 .3 1.2 0 .2 .2 .6 .2 .4 .3-.6 .1 1.2 .2-.2 .2-.7 .2 .5 .2 .1 .1 .3 .7-.6 .8 .1 .3 .5 .3-1.6 .2 .8 .2-.7 .3-.1 .3 .7 0-.7 .2 .5 .2-1.9 .3-3.6 .1-1.2 .2-1.4 .2-.9 .1-1.3 .1 .3 .2 1.2 .1 .9 .3 3.7 .2 1.5 .2 1.6 0 .9 .3-.9 .3 1.3 .2-1 .2 1 .3-.3 .3-.4 .8 .4 .8 .5 .1-1.6 .3-.3 .2 .6 .2 .5 0-1.1 .3-.7 .3 .5 .2-1.1 .2-4.1 .3-5 .3-8.5 0-1.6 .2-2.9 .1-.4 .1 .6 .3 6.8 .1 3.2 .2 3.4 .2 4.7 .2 3.5 .2 1 .1-.5 .3 1.7 .2-1.1 .2 1.5 0-.8 .3-.4 .5 .9 .8-.4 .8-.7 .2 1.1 .3-1.6 .3 .9 0-.9 .2-.2 .2-1.8 .3-3.6 .1-2.1 .2-4.4 .2-15.4 .2-17.6 .2-7.7 .1-3.4 .1-1.1 .2 2.8 .2 12.8 .2 14.7 0 3.3 .3 12 .3 7.7 .2 2.2 .2 .9 .3 .2 .3 1.1 0-.5 .2-.5 .6 1.5 .8-.3 .4 .2 .2 .2 .2-.3 .1-.7 .3-1.4 .2 0 .2 .1 0-1.6 .3-3 .3-10.7 .2-16 .2-20.9 .3-15.5 .1-.4 .2 3.2 0 3.2 .2 13.9 .2 20.7 .3 14.1 .1 3.9 .2 4.3 .2 4.1 .2 .4 .2 .2 .1-.4 .3 1.3 .2 .3 .2 .5 .8-.1 .8-.9 .2 .6 .2-1.1 .3-.3 .1-.1 .2-.2 .2-.5 .2-1.5 .2-1.9 .1-.8 .3-10.1 .2-15.9 .2-17.2 0-3.4 .3-14.6 .1-1.6 .2 3.2 .2 17.2 .2 19.9 .3 14.3 .3 8.4 0 .2 .2 2.9 .2 .9 .3 .3 .1 .9 .2-.2 .2 .2 .4 .2 .8 .6 .7 .1 .1 .1 .2-.9 .2 .1 .2-.1 .2-.7 .1 0 .3-1.6 .2-3.6 .2-4.7 0-1.7 .3-12.5 .3-13.7 .2-10.6 .1-1.6 .1 2.7 .3 12.4 .3 15.3 0 1.5 .2 8.2 .2 7.2 .3 1.4 .1 .8 .2 .5 .2 1 .2-.7 .2 .1 .1-.7 .7-.4 .8 .2 .5 .2 .3 .5 0-.6 .2-.3 .2-.3 .3 .1 .1 .2 .2-.7 .2-1.8 .2-2.5 .2-4.3 .1-3.1 .3-7.7 .2-4.3 .1-1.1 .1 0 0 1.2 .3 6.5 .3 8.3 .2 4.6 .2 4.3 .3 1 .3 .6 0 .6 .2-1.2 .2 .5 .3-.1 .1 .5 .8-.3 .8 .2 .1-.9 .3 1.1 .2 .1 .2-1.7 0-.2 .3 .3 .3-.8 .2 .2 .2-1.8 .3-4 .3-3.5 0-.7 .2-2.7 .1-.8 .1 1.5 .3 3 .1 1.5 .2 1.9 .2 3.6 .2 1.4 .2 .3 .1 1.3 .3-.3 .2-.5 .2 .5 0 .1 .3-.2 .5-.7 .8 1 .6-.5 .2 .8 0 0 .3-.2 .3-1.1 .2 .3 .2-.6 .3 .8 .3-2.2 0 .3 .2-1.5 .2-1.7 .3-2.6 .1-.5 .2 .5 .2 1.8 .2 3.1 .2 .5 .1 .9 .3 .1 .2 .9 .2 .5 0 .3 .3 .7 .3-.9 .2 .8 .8 .2 .8-.3 .4-.2 .2-.3 .2 .1 .1 .4 .3-.4 .2-.6 .2 .7 0-1.2 .3-.8 .3-.3 .2-.8 .2-1.3 .3-.4 .1 .8 .2 0 0-.1 .2 .4 .2 1.1 .3 1.1 .1 .9 .2-1.1 .2 .4 .2 .8 .2 .2 .1 .2 .3 .1 .2-.9 .2 .6 .8-1.1 .8-.1 .6 .7 .2-.9 0 .9 .3-.2 .3-.3 .2 .3 .2-.2 .3 .3 .3 0 0 .1 .2-.6 .2-1.8 .3-.3 .1-.3 .2 1.3 .2-.3 .2 1.1 .2-.4 .1 .4 .3 .1 .2 0 .2-.5 0 .1 .3 1 .3 .1 .2 .6 .8-.7 .8-.9 .8 .2 .8-.4 .8-.1 .8 .2 .8 0 .8-.2 .8 .1 .8 .1 .8 1 .8-1.4 .8 .8 .8-.6 .8 .5 .8-1 .8-.4 .8 1.3 .8 .3 .8-.5 .8-.9 .8 1.1 .8-.7 .8-.2 .8-.5 .8 .8 .8-.8 .8 .3 .8 .2 .8-.3 .8-.3 .8 .6 .8 .1 .8 0 .8 .7 .8-.3 .8-.3 .8-.9 .8-.1 .8 .5 .8-.5 .8 .1 .8 .2 .8-.6 .8 .2 .8 1 .8-.3 .8 .4 .8-.4 .8-1.1 .8 .4 .8 .4 .8-.1 .8-.2 .8 .2 .8 .1 .8-.1 .8-.7 .8-.1 .8 .3 .8-.8 .8 1 .8-.2 .8 .5 .8 .3 .8-1.5 .8 .5 .8 .4 .8-1 .8-.3 .8 .8 .8 .5 .8-.9 .8-1 .8 .8 .8-.2 .8 .4 .8-.8 .8 .4 .8-.8 .8 1.1 .8 .1 .8-.5 .8 .5 .8-.4 .8 .6 .8-.4 .8-.1 .8 .2 .8-1.4 .8 .9 .8 .7 .8-.6 .8 .4 .8-1.3 .8 .7 .8-.1 .8-.9 .8 .9 .8 .3 .8 .2 .8-1.1 .8 .1 .8 .4 .8-.9 .8 .6 .8-.3 .8-.3 .8-.4 .8 1.1 .8 .4 .8-.7 .8-.2 .8-1.1 .8 1.4 .8-.5 .8 .2 .8 .3 .8-.3 .8 .3 .8-.3 .8-1.3 .8 .5 .8-.6 .8 1.1 .8-.1 .8 .1 .8-1.2 .8 .9 .8 .5 .8-.9 .8-.5 .8 .7 .8 .5 .8 0 .8-.3 .8-.5 .8-.9 .8-.3 .8 .1 .8 .2 .8 .9 .8 0 .8-.7 .8-.8 .8 .6 .8-.8 .8 .9 .8 .7 .8 .4 .8-.4 .8-1.4 .8 .4 .8-.5 .8 1.3 .8-.9 .8-.3 .8-.4 .8 .9 .8-.4 .8 0 .8 0 .8 .5 .8-.6 .8 .7 .8-1.4 .8 .6 .8-.7 .8 .9 .8 .1 .8-.3 .8-.8 .8-.5 .8 1.5 .8-.9 .8-.5 .8 .7 .8 .2 .8 0 .8-.8 .8 .3 .8-.8 .8 .7 .8-.3 .8 .8 .8-.9 .8-.3 .8 .5 .8 .7 .8-.2 .8-.1 .8-1.2 .8 0 .8-.1 .8 1.4 .8-.2 .8-.4 .8 .6 .8-.5 .8-1 .8 .8 .8-.9"/></defs>
<use href="#t2" fill="none" stroke="#801a26" stroke-width="1.9" stroke-linejoin="round"/>
<use href="#t2" fill="none" stroke="#3a0e14" stroke-width="0.8" stroke-linejoin="round"/>
<rect x="792.8" y="570.6" width="597.2" height="471.4" fill="none" stroke="#444" stroke-width="1.7"/>
<line x1="846.6" y1="1042" x2="846.6" y2="1038" stroke="#444" stroke-width="1.4"/>
<line x1="846.6" y1="570.6" x2="846.6" y2="574.6" stroke="#444" stroke-width="1.4"/>
<line x1="944.7" y1="1042" x2="944.7" y2="1038" stroke="#444" stroke-width="1.4"/>
<line x1="944.7" y1="570.6" x2="944.7" y2="574.6" stroke="#444" stroke-width="1.4"/>
<line x1="1042.4" y1="1042" x2="1042.4" y2="1038" stroke="#444" stroke-width="1.4"/>
<line x1="1042.4" y1="570.6" x2="1042.4" y2="574.6" stroke="#444" stroke-width="1.4"/>
<line x1="1141.4" y1="1042" x2="1141.4" y2="1038" stroke="#444" stroke-width="1.4"/>
<line x1="1141.4" y1="570.6" x2="1141.4" y2="574.6" stroke="#444" stroke-width="1.4"/>
<line x1="1238.9" y1="1042" x2="1238.9" y2="1038" stroke="#444" stroke-width="1.4"/>
<line x1="1238.9" y1="570.6" x2="1238.9" y2="574.6" stroke="#444" stroke-width="1.4"/>
<line x1="1337.1" y1="1042" x2="1337.1" y2="1038" stroke="#444" stroke-width="1.4"/>
<line x1="1337.1" y1="570.6" x2="1337.1" y2="574.6" stroke="#444" stroke-width="1.4"/>
<line x1="792.8" y1="650.5" x2="796.8" y2="650.5" stroke="#444" stroke-width="1.4"/>
<line x1="1390" y1="650.5" x2="1386" y2="650.5" stroke="#444" stroke-width="1.4"/>
<line x1="792.8" y1="765" x2="796.8" y2="765" stroke="#444" stroke-width="1.4"/>
<line x1="1390" y1="765" x2="1386" y2="765" stroke="#444" stroke-width="1.4"/>
<line x1="792.8" y1="880.9" x2="796.8" y2="880.9" stroke="#444" stroke-width="1.4"/>
<line x1="1390" y1="880.9" x2="1386" y2="880.9" stroke="#444" stroke-width="1.4"/>
<line x1="792.8" y1="995.5" x2="796.8" y2="995.5" stroke="#444" stroke-width="1.4"/>
<line x1="1390" y1="995.5" x2="1386" y2="995.5" stroke="#444" stroke-width="1.4"/>
<text x="753.56" y="590.50" font-size="47" textLength="29.64" lengthAdjust="spacingAndGlyphs" font-weight="bold">d</text>
<text transform="translate(1429.60 656.16) rotate(-90)" x="0" y="0" font-size="31.5" textLength="82.00" lengthAdjust="spacingAndGlyphs">188.7</text>
<text transform="translate(1427.00 865.87) rotate(-90)" x="0" y="0" font-size="31.5" textLength="89.07" lengthAdjust="spacingAndGlyphs">189.9</text>
<text transform="translate(1427.00 1050.21) rotate(-90)" x="0" y="0" font-size="31.5" textLength="55.83" lengthAdjust="spacingAndGlyphs">191</text>
<text transform="translate(1493.30 987.19) rotate(-90)" x="0" y="0" font-size="33.2" textLength="334.50" lengthAdjust="spacingAndGlyphs">pump frequency (THz)</text>
<text x="801.81" y="1083.00" font-size="33" textLength="70.75" lengthAdjust="spacingAndGlyphs">1860</text>
<text x="896.54" y="1083.00" font-size="33" textLength="72.86" lengthAdjust="spacingAndGlyphs">1880</text>
<text x="1001.09" y="1083.00" font-size="33" textLength="71.59" lengthAdjust="spacingAndGlyphs">1900</text>
<text x="1095.84" y="1083.00" font-size="33" textLength="72.86" lengthAdjust="spacingAndGlyphs">1920</text>
<text x="1200.34" y="1083.00" font-size="33" textLength="72.86" lengthAdjust="spacingAndGlyphs">1940</text>
<text x="1303.22" y="1083.00" font-size="33" textLength="73.70" lengthAdjust="spacingAndGlyphs">1960</text>
<text x="943.54" y="1128.40" font-size="33" textLength="320.25" lengthAdjust="spacingAndGlyphs">idler wavelength (nm)</text>
<text x="898.62" y="618.00" font-size="30" font-style="italic" textLength="15.78" lengthAdjust="spacingAndGlyphs">s</text>
<text x="914.40" y="618.00" font-size="30" textLength="52.62" lengthAdjust="spacingAndGlyphs">-sat</text>
<text x="1206.92" y="619.00" font-size="31" textLength="54.20" lengthAdjust="spacingAndGlyphs">DW</text>
<text x="1261.96" y="733.00" font-size="21" textLength="100.75" lengthAdjust="spacingAndGlyphs">189.3 THz</text>
<text x="925.13" y="662.90" font-size="19" textLength="38.72" lengthAdjust="spacingAndGlyphs" fill="#1f6fc4">-238</text>
<text x="958.58" y="691.00" font-size="19" textLength="36.62" lengthAdjust="spacingAndGlyphs" fill="#d9531e">-241</text>
<text x="1006.19" y="713.00" font-size="19" textLength="36.01" lengthAdjust="spacingAndGlyphs" fill="#eba823">-250</text>
<text x="1235.55" y="652.00" font-size="19" textLength="37.73" lengthAdjust="spacingAndGlyphs" fill="#1f6fc4">-319</text>
<text x="1210.15" y="681.00" font-size="19" textLength="37.82" lengthAdjust="spacingAndGlyphs" fill="#d9531e">-312</text>
<text x="1049.05" y="757.30" font-size="19" textLength="37.79" lengthAdjust="spacingAndGlyphs" fill="#7e2f8e">-260</text>
<text x="1070.69" y="777.60" font-size="19" textLength="36.06" lengthAdjust="spacingAndGlyphs" fill="#77ac30">-265</text>
<text x="1095.17" y="800.00" font-size="19" textLength="36.84" lengthAdjust="spacingAndGlyphs" fill="#62c3ef">-268</text>
<text x="1113.27" y="819.20" font-size="19" textLength="36.84" lengthAdjust="spacingAndGlyphs" fill="#a2142f">-273</text>
<text x="1139.94" y="844.40" font-size="19" textLength="38.03" lengthAdjust="spacingAndGlyphs" fill="#62c3ef">-277</text>
<text x="1163.44" y="867.20" font-size="19" textLength="38.03" lengthAdjust="spacingAndGlyphs" fill="#d9531e">-282</text>
<text x="1241.17" y="931.50" font-size="19" textLength="37.09" lengthAdjust="spacingAndGlyphs" fill="#eba823">-297</text>
<text x="1262.17" y="955.00" font-size="19" textLength="36.73" lengthAdjust="spacingAndGlyphs" fill="#7e2f8e">-301</text>
<text x="1287.18" y="973.00" font-size="19" textLength="36.55" lengthAdjust="spacingAndGlyphs" fill="#77ac30">-304</text>
<text x="1310.65" y="989.00" font-size="19" textLength="37.93" lengthAdjust="spacingAndGlyphs" fill="#62c3ef">-309</text>
<text x="1330.44" y="1009.30" font-size="19" textLength="38.14" lengthAdjust="spacingAndGlyphs" fill="#a2142f">-312</text>
<g fill="#fff"><rect x="167.99" y="455.15" width="7.00" height="5.05"/><rect x="178.07" y="455.15" width="7.00" height="5.05"/><rect x="332.49" y="455.15" width="7.00" height="5.05"/><rect x="342.57" y="455.15" width="7.00" height="5.05"/><rect x="496.49" y="455.15" width="7.00" height="5.05"/><rect x="506.57" y="455.15" width="7.00" height="5.05"/><rect x="187.66" y="48.44" width="5.60" height="4.36"/><rect x="195.73" y="48.44" width="5.60" height="4.36"/><rect x="232.38" y="48.44" width="5.60" height="4.36"/><rect x="240.45" y="48.44" width="5.60" height="4.36"/><rect x="454.38" y="18.15" width="3.68" height="3.10"/><rect x="459.68" y="18.15" width="3.68" height="3.10"/><rect x="464.89" y="174.44" width="3.66" height="3.16"/><rect x="470.15" y="174.44" width="3.66" height="3.16"/><rect x="494.08" y="174.44" width="3.66" height="3.16"/><rect x="499.34" y="174.44" width="3.66" height="3.16"/><rect x="551.38" y="174.44" width="3.68" height="3.16"/><rect x="556.68" y="174.44" width="3.68" height="3.16"/><rect x="580.75" y="174.44" width="3.68" height="3.16"/><rect x="586.05" y="174.44" width="3.68" height="3.16"/><rect x="638.13" y="174.44" width="3.67" height="3.16"/><rect x="643.42" y="174.44" width="3.67" height="3.16"/><rect x="862.49" y="455.15" width="7.00" height="5.05"/><rect x="872.57" y="455.15" width="7.00" height="5.05"/><rect x="1027.38" y="455.15" width="7.00" height="5.05"/><rect x="1037.47" y="455.15" width="7.00" height="5.05"/><rect x="1191.78" y="455.15" width="7.00" height="5.05"/><rect x="1201.87" y="455.15" width="7.00" height="5.05"/><rect x="882.66" y="48.44" width="5.61" height="4.36"/><rect x="890.74" y="48.44" width="5.61" height="4.36"/><rect x="927.44" y="48.44" width="5.61" height="4.36"/><rect x="935.52" y="48.44" width="5.61" height="4.36"/><rect transform="translate(87.90 655.26) rotate(-90)" x="1.31" y="-3.80" width="6.85" height="5.00"/><rect transform="translate(87.90 655.26) rotate(-90)" x="11.18" y="-3.80" width="6.85" height="5.00"/><rect transform="translate(88.30 863.83) rotate(-90)" x="1.29" y="-3.80" width="6.77" height="5.00"/><rect transform="translate(88.30 863.83) rotate(-90)" x="11.04" y="-3.80" width="6.77" height="5.00"/><rect transform="translate(88.30 1051.96) rotate(-90)" x="1.26" y="-3.80" width="6.58" height="5.00"/><rect transform="translate(88.30 1051.96) rotate(-90)" x="10.73" y="-3.80" width="6.58" height="5.00"/><rect x="119.63" y="1076.70" width="6.97" height="5.00"/><rect x="129.68" y="1076.70" width="6.97" height="5.00"/><rect x="241.15" y="1076.70" width="6.84" height="5.00"/><rect x="251.01" y="1076.70" width="6.84" height="5.00"/><rect x="363.24" y="1076.70" width="6.91" height="5.00"/><rect x="373.20" y="1076.70" width="6.91" height="5.00"/><rect x="484.17" y="1076.70" width="6.77" height="5.00"/><rect x="493.91" y="1076.70" width="6.77" height="5.00"/><rect x="604.84" y="1076.70" width="6.93" height="5.00"/><rect x="614.82" y="1076.70" width="6.93" height="5.00"/><rect x="125.02" y="732.03" width="4.65" height="3.67"/><rect x="131.72" y="732.03" width="4.65" height="3.67"/><rect transform="translate(1429.60 656.16) rotate(-90)" x="1.31" y="-3.62" width="6.85" height="4.82"/><rect transform="translate(1429.60 656.16) rotate(-90)" x="11.17" y="-3.62" width="6.85" height="4.82"/><rect transform="translate(1427.00 865.87) rotate(-90)" x="1.42" y="-3.62" width="7.44" height="4.82"/><rect transform="translate(1427.00 865.87) rotate(-90)" x="12.14" y="-3.62" width="7.44" height="4.82"/><rect transform="translate(1427.00 1050.21) rotate(-90)" x="1.34" y="-3.62" width="6.99" height="4.82"/><rect transform="translate(1427.00 1050.21) rotate(-90)" x="11.41" y="-3.62" width="6.99" height="4.82"/><rect transform="translate(1427.00 1050.21) rotate(-90)" x="38.56" y="-3.62" width="6.99" height="4.82"/><rect transform="translate(1427.00 1050.21) rotate(-90)" x="48.63" y="-3.62" width="6.99" height="4.82"/><rect x="803.09" y="1079.20" width="6.65" height="5.00"/><rect x="812.66" y="1079.20" width="6.65" height="5.00"/><rect x="897.85" y="1079.20" width="6.84" height="5.00"/><rect x="907.71" y="1079.20" width="6.84" height="5.00"/><rect x="1002.37" y="1079.20" width="6.73" height="5.00"/><rect x="1012.06" y="1079.20" width="6.73" height="5.00"/><rect x="1097.15" y="1079.20" width="6.84" height="5.00"/><rect x="1107.01" y="1079.20" width="6.84" height="5.00"/><rect x="1201.65" y="1079.20" width="6.84" height="5.00"/><rect x="1211.51" y="1079.20" width="6.84" height="5.00"/><rect x="1304.54" y="1079.20" width="6.92" height="5.00"/><rect x="1314.51" y="1079.20" width="6.92" height="5.00"/><rect x="1262.83" y="730.59" width="4.58" height="3.62"/><rect x="1269.43" y="730.59" width="4.58" height="3.62"/></g>
</svg></body></html>
